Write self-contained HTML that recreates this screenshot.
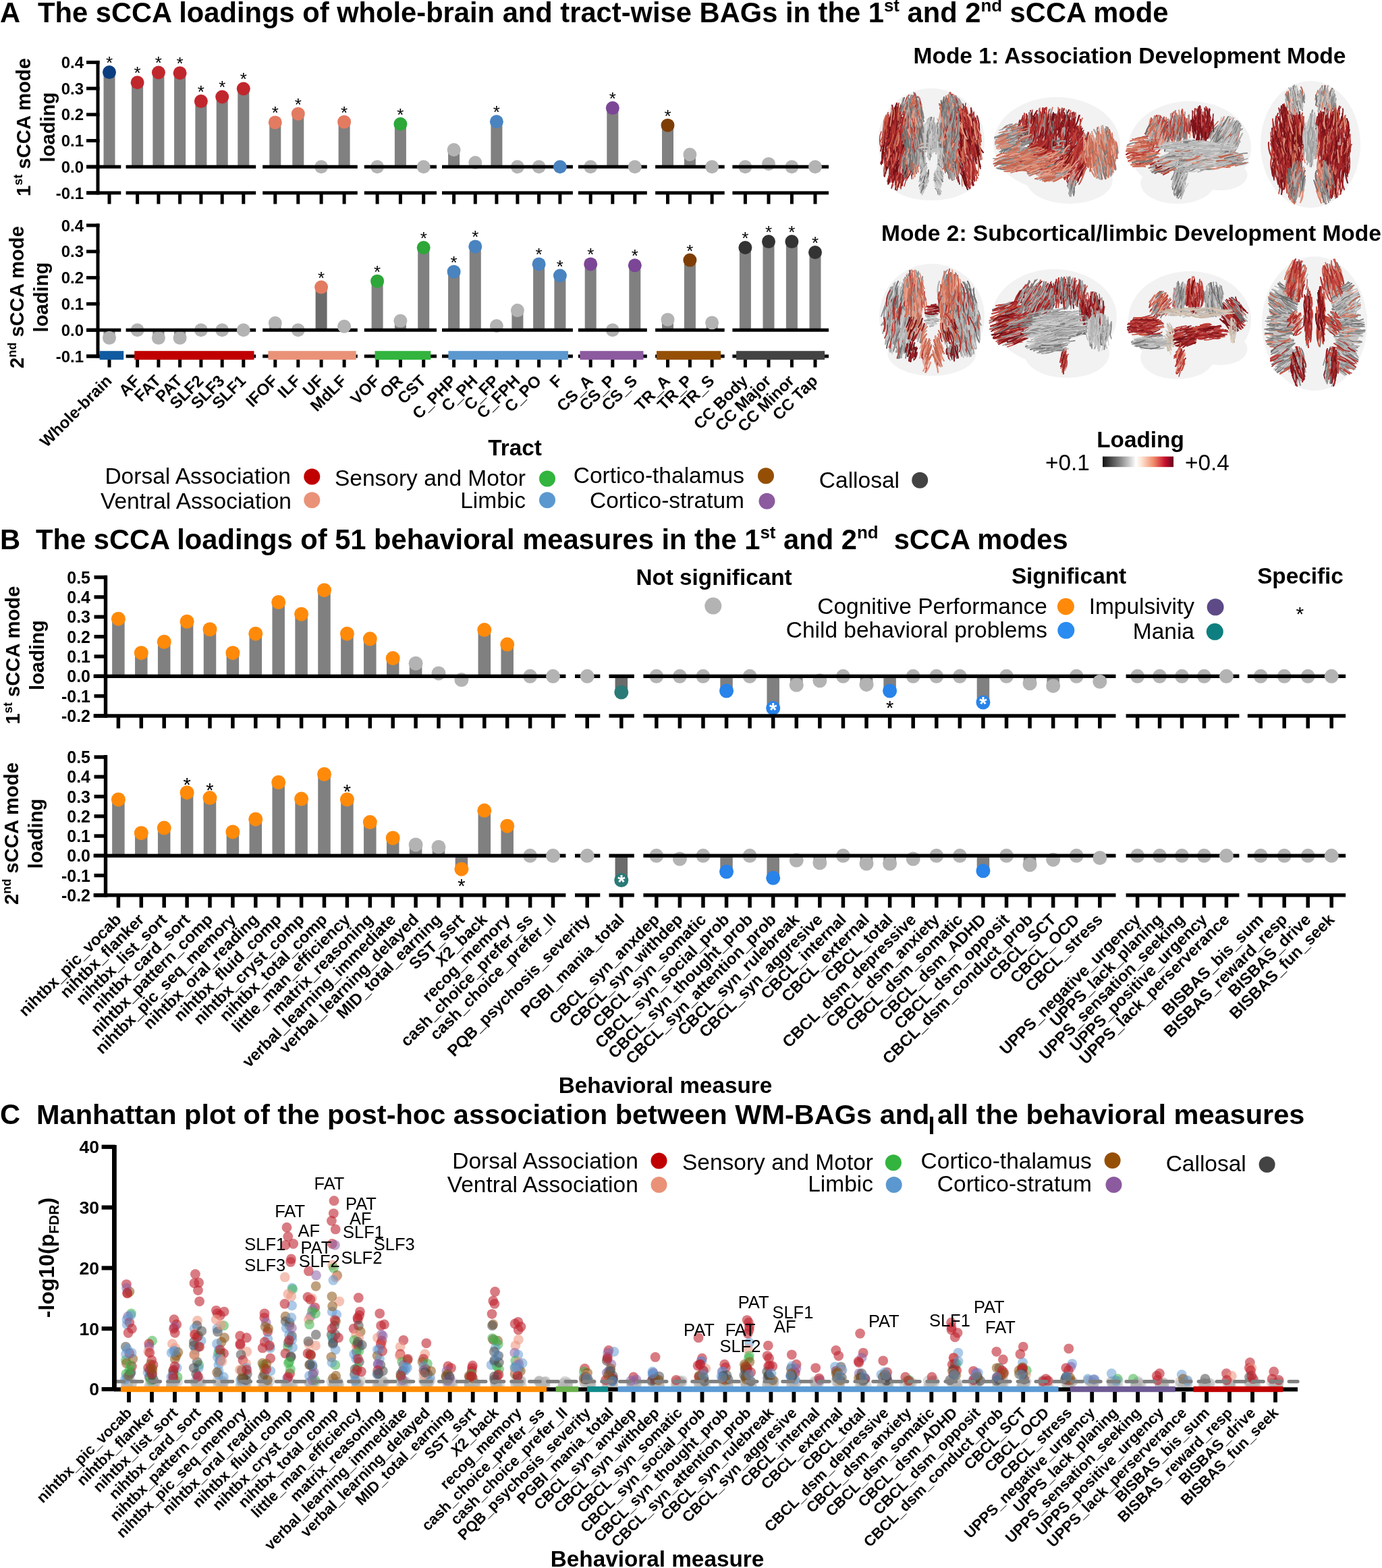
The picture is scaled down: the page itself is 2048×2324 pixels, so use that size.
<!DOCTYPE html>
<html><head><meta charset="utf-8"><title>sCCA figure</title>
<style>html,body{margin:0;padding:0;background:#fff;} svg{display:block;} text{font-family:'Liberation Sans', Arial, sans-serif;}</style>
</head><body>
<svg width="2048" height="2324" viewBox="0 0 2048 2324">
<rect width="2048" height="2324" fill="#fff"/>
<text x="0.00" y="33.00" font-size="41.7" font-weight="bold" text-anchor="start" fill="#000" >A</text>
<text x="56.00" y="33.00" font-size="41.7" font-weight="bold" text-anchor="start" fill="#000" >The sCCA loadings of whole-brain and tract-wise BAGs in the 1<tspan font-size="25.9" dy="-15.8">st</tspan><tspan dy="15.8"> and 2</tspan><tspan font-size="25.9" dy="-15.8">nd</tspan><tspan dy="15.8"> sCCA mode</tspan></text>
<rect x="142.50" y="89.90" width="5.00" height="198.50" fill="#000" />
<rect x="128.00" y="89.90" width="19.50" height="5.00" fill="#000" />
<text x="124.00" y="101.04" font-size="24" font-weight="bold" text-anchor="end" fill="#000" >0.4</text>
<rect x="128.00" y="128.60" width="19.50" height="5.00" fill="#000" />
<text x="124.00" y="139.74" font-size="24" font-weight="bold" text-anchor="end" fill="#000" >0.3</text>
<rect x="128.00" y="167.30" width="19.50" height="5.00" fill="#000" />
<text x="124.00" y="178.44" font-size="24" font-weight="bold" text-anchor="end" fill="#000" >0.2</text>
<rect x="128.00" y="206.00" width="19.50" height="5.00" fill="#000" />
<text x="124.00" y="217.14" font-size="24" font-weight="bold" text-anchor="end" fill="#000" >0.1</text>
<rect x="128.00" y="244.70" width="19.50" height="5.00" fill="#000" />
<text x="124.00" y="255.84" font-size="24" font-weight="bold" text-anchor="end" fill="#000" >0.0</text>
<rect x="128.00" y="283.40" width="19.50" height="5.00" fill="#000" />
<text x="124.00" y="294.54" font-size="24" font-weight="bold" text-anchor="end" fill="#000" >-0.1</text>
<rect x="153.50" y="107.11" width="17.00" height="140.09" fill="#808080" />
<rect x="195.10" y="122.20" width="17.00" height="125.00" fill="#808080" />
<rect x="226.40" y="107.49" width="17.00" height="139.71" fill="#808080" />
<rect x="258.10" y="108.27" width="17.00" height="138.93" fill="#808080" />
<rect x="289.40" y="150.06" width="17.00" height="97.14" fill="#808080" />
<rect x="320.70" y="143.48" width="17.00" height="103.72" fill="#808080" />
<rect x="352.30" y="131.49" width="17.00" height="115.71" fill="#808080" />
<rect x="399.30" y="181.41" width="17.00" height="65.79" fill="#808080" />
<rect x="433.30" y="168.64" width="17.00" height="78.56" fill="#808080" />
<rect x="501.60" y="180.64" width="17.00" height="66.56" fill="#808080" />
<rect x="584.90" y="183.73" width="17.00" height="63.47" fill="#808080" />
<rect x="664.10" y="222.04" width="17.00" height="25.16" fill="#808080" />
<rect x="695.80" y="241.01" width="17.00" height="6.19" fill="#808080" />
<rect x="727.40" y="180.25" width="17.00" height="66.95" fill="#808080" />
<rect x="899.30" y="160.12" width="17.00" height="87.07" fill="#808080" />
<rect x="981.00" y="185.67" width="17.00" height="61.53" fill="#808080" />
<rect x="1013.90" y="229.01" width="17.00" height="18.19" fill="#808080" />
<rect x="1130.50" y="242.94" width="17.00" height="4.26" fill="#808080" />
<circle cx="203.60" cy="122.20" r="10.00" fill="#c0272d" />
<text x="203.60" y="117.20" font-size="26" font-weight="normal" text-anchor="middle" fill="#000" >*</text>
<circle cx="234.90" cy="107.49" r="10.00" fill="#c0272d" />
<text x="234.90" y="102.49" font-size="26" font-weight="normal" text-anchor="middle" fill="#000" >*</text>
<circle cx="266.60" cy="108.27" r="10.00" fill="#c0272d" />
<text x="266.60" y="103.27" font-size="26" font-weight="normal" text-anchor="middle" fill="#000" >*</text>
<circle cx="297.90" cy="150.06" r="10.00" fill="#c0272d" />
<text x="297.90" y="145.06" font-size="26" font-weight="normal" text-anchor="middle" fill="#000" >*</text>
<circle cx="329.20" cy="143.48" r="10.00" fill="#c0272d" />
<text x="329.20" y="138.48" font-size="26" font-weight="normal" text-anchor="middle" fill="#000" >*</text>
<circle cx="407.80" cy="181.41" r="10.00" fill="#e37b61" />
<text x="407.80" y="176.41" font-size="26" font-weight="normal" text-anchor="middle" fill="#000" >*</text>
<circle cx="441.80" cy="168.64" r="10.00" fill="#e37b61" />
<text x="441.80" y="163.64" font-size="26" font-weight="normal" text-anchor="middle" fill="#000" >*</text>
<circle cx="476.10" cy="247.20" r="10.00" fill="#b3b3b3" />
<circle cx="559.10" cy="247.20" r="10.00" fill="#b3b3b3" />
<circle cx="593.40" cy="183.73" r="10.00" fill="#2ca738" />
<text x="593.40" y="178.73" font-size="26" font-weight="normal" text-anchor="middle" fill="#000" >*</text>
<circle cx="672.60" cy="222.04" r="10.00" fill="#b3b3b3" />
<circle cx="704.30" cy="241.01" r="10.00" fill="#b3b3b3" />
<circle cx="735.90" cy="180.25" r="10.00" fill="#4983c0" />
<text x="735.90" y="175.25" font-size="26" font-weight="normal" text-anchor="middle" fill="#000" >*</text>
<circle cx="766.90" cy="247.20" r="10.00" fill="#b3b3b3" />
<circle cx="798.60" cy="247.20" r="10.00" fill="#b3b3b3" />
<circle cx="875.20" cy="247.20" r="10.00" fill="#b3b3b3" />
<circle cx="907.80" cy="160.12" r="10.00" fill="#7b4696" />
<text x="907.80" y="155.12" font-size="26" font-weight="normal" text-anchor="middle" fill="#000" >*</text>
<circle cx="989.50" cy="185.67" r="10.00" fill="#7e3d05" />
<text x="989.50" y="180.67" font-size="26" font-weight="normal" text-anchor="middle" fill="#000" >*</text>
<circle cx="1022.40" cy="229.01" r="10.00" fill="#b3b3b3" />
<circle cx="1104.40" cy="247.20" r="10.00" fill="#b3b3b3" />
<circle cx="1139.00" cy="242.94" r="10.00" fill="#b3b3b3" />
<circle cx="1173.40" cy="247.20" r="10.00" fill="#b3b3b3" />
<rect x="128.30" y="244.70" width="51.00" height="5.00" fill="#000" />
<rect x="128.30" y="283.40" width="51.00" height="5.00" fill="#000" />
<rect x="186.60" y="244.70" width="192.60" height="5.00" fill="#000" />
<rect x="186.60" y="283.40" width="192.60" height="5.00" fill="#000" />
<rect x="389.20" y="244.70" width="140.60" height="5.00" fill="#000" />
<rect x="389.20" y="283.40" width="140.60" height="5.00" fill="#000" />
<rect x="539.80" y="244.70" width="107.20" height="5.00" fill="#000" />
<rect x="539.80" y="283.40" width="107.20" height="5.00" fill="#000" />
<rect x="655.00" y="244.70" width="193.90" height="5.00" fill="#000" />
<rect x="655.00" y="283.40" width="193.90" height="5.00" fill="#000" />
<rect x="856.90" y="244.70" width="101.90" height="5.00" fill="#000" />
<rect x="856.90" y="283.40" width="101.90" height="5.00" fill="#000" />
<rect x="971.10" y="244.70" width="102.60" height="5.00" fill="#000" />
<rect x="971.10" y="283.40" width="102.60" height="5.00" fill="#000" />
<rect x="1085.40" y="244.70" width="142.60" height="5.00" fill="#000" />
<rect x="1085.40" y="283.40" width="142.60" height="5.00" fill="#000" />
<circle cx="162.00" cy="107.11" r="10.00" fill="#0b3e80" />
<text x="162.00" y="102.11" font-size="26" font-weight="normal" text-anchor="middle" fill="#000" >*</text>
<rect x="159.50" y="285.90" width="5.00" height="16.50" fill="#000" />
<rect x="201.10" y="285.90" width="5.00" height="16.50" fill="#000" />
<rect x="232.40" y="285.90" width="5.00" height="16.50" fill="#000" />
<rect x="264.10" y="285.90" width="5.00" height="16.50" fill="#000" />
<rect x="295.40" y="285.90" width="5.00" height="16.50" fill="#000" />
<rect x="326.70" y="285.90" width="5.00" height="16.50" fill="#000" />
<circle cx="360.80" cy="131.49" r="10.00" fill="#c0272d" />
<text x="360.80" y="126.49" font-size="26" font-weight="normal" text-anchor="middle" fill="#000" >*</text>
<rect x="358.30" y="285.90" width="5.00" height="16.50" fill="#000" />
<rect x="405.30" y="285.90" width="5.00" height="16.50" fill="#000" />
<rect x="439.30" y="285.90" width="5.00" height="16.50" fill="#000" />
<rect x="473.60" y="285.90" width="5.00" height="16.50" fill="#000" />
<circle cx="510.10" cy="180.64" r="10.00" fill="#e37b61" />
<text x="510.10" y="175.64" font-size="26" font-weight="normal" text-anchor="middle" fill="#000" >*</text>
<rect x="507.60" y="285.90" width="5.00" height="16.50" fill="#000" />
<rect x="556.60" y="285.90" width="5.00" height="16.50" fill="#000" />
<rect x="590.90" y="285.90" width="5.00" height="16.50" fill="#000" />
<circle cx="627.70" cy="247.20" r="10.00" fill="#b3b3b3" />
<rect x="625.20" y="285.90" width="5.00" height="16.50" fill="#000" />
<rect x="670.10" y="285.90" width="5.00" height="16.50" fill="#000" />
<rect x="701.80" y="285.90" width="5.00" height="16.50" fill="#000" />
<rect x="733.40" y="285.90" width="5.00" height="16.50" fill="#000" />
<rect x="764.40" y="285.90" width="5.00" height="16.50" fill="#000" />
<rect x="796.10" y="285.90" width="5.00" height="16.50" fill="#000" />
<circle cx="829.90" cy="247.20" r="10.00" fill="#4983c0" />
<rect x="827.40" y="285.90" width="5.00" height="16.50" fill="#000" />
<rect x="872.70" y="285.90" width="5.00" height="16.50" fill="#000" />
<rect x="905.30" y="285.90" width="5.00" height="16.50" fill="#000" />
<circle cx="940.80" cy="247.20" r="10.00" fill="#b3b3b3" />
<rect x="938.30" y="285.90" width="5.00" height="16.50" fill="#000" />
<rect x="987.00" y="285.90" width="5.00" height="16.50" fill="#000" />
<rect x="1019.90" y="285.90" width="5.00" height="16.50" fill="#000" />
<circle cx="1055.10" cy="247.20" r="10.00" fill="#b3b3b3" />
<rect x="1052.60" y="285.90" width="5.00" height="16.50" fill="#000" />
<rect x="1101.90" y="285.90" width="5.00" height="16.50" fill="#000" />
<rect x="1136.50" y="285.90" width="5.00" height="16.50" fill="#000" />
<rect x="1170.90" y="285.90" width="5.00" height="16.50" fill="#000" />
<circle cx="1208.00" cy="247.20" r="10.00" fill="#b3b3b3" />
<rect x="1205.50" y="285.90" width="5.00" height="16.50" fill="#000" />
<text transform="translate(44.50,188.50) rotate(-90)" font-size="29.2" font-weight="bold" text-anchor="middle">1<tspan font-size="18.1" dy="-11.1">st</tspan><tspan dy="11.1"> sCCA mode</tspan></text>
<text transform="translate(81.00,188.50) rotate(-90)" font-size="29.2" font-weight="bold" text-anchor="middle">loading</text>
<rect x="142.50" y="331.50" width="5.00" height="199.00" fill="#000" />
<rect x="128.00" y="331.50" width="19.50" height="5.00" fill="#000" />
<text x="124.00" y="342.64" font-size="24" font-weight="bold" text-anchor="end" fill="#000" >0.4</text>
<rect x="128.00" y="370.30" width="19.50" height="5.00" fill="#000" />
<text x="124.00" y="381.44" font-size="24" font-weight="bold" text-anchor="end" fill="#000" >0.3</text>
<rect x="128.00" y="409.10" width="19.50" height="5.00" fill="#000" />
<text x="124.00" y="420.24" font-size="24" font-weight="bold" text-anchor="end" fill="#000" >0.2</text>
<rect x="128.00" y="447.90" width="19.50" height="5.00" fill="#000" />
<text x="124.00" y="459.04" font-size="24" font-weight="bold" text-anchor="end" fill="#000" >0.1</text>
<rect x="128.00" y="486.70" width="19.50" height="5.00" fill="#000" />
<text x="124.00" y="497.84" font-size="24" font-weight="bold" text-anchor="end" fill="#000" >0.0</text>
<rect x="128.00" y="525.50" width="19.50" height="5.00" fill="#000" />
<text x="124.00" y="536.64" font-size="24" font-weight="bold" text-anchor="end" fill="#000" >-0.1</text>
<rect x="153.50" y="489.20" width="17.00" height="11.64" fill="#808080" />
<rect x="226.40" y="489.20" width="17.00" height="11.64" fill="#808080" />
<rect x="258.10" y="489.20" width="17.00" height="11.64" fill="#808080" />
<rect x="399.30" y="478.72" width="17.00" height="10.48" fill="#808080" />
<rect x="467.60" y="425.57" width="17.00" height="63.63" fill="#6b6b6b" />
<rect x="501.60" y="483.77" width="17.00" height="5.43" fill="#808080" />
<rect x="550.60" y="416.64" width="17.00" height="72.56" fill="#808080" />
<rect x="584.90" y="475.62" width="17.00" height="13.58" fill="#808080" />
<rect x="619.20" y="366.98" width="17.00" height="122.22" fill="#808080" />
<rect x="664.10" y="402.68" width="17.00" height="86.52" fill="#808080" />
<rect x="695.80" y="365.43" width="17.00" height="123.77" fill="#808080" />
<rect x="727.40" y="482.99" width="17.00" height="6.21" fill="#808080" />
<rect x="758.40" y="460.10" width="17.00" height="29.10" fill="#808080" />
<rect x="790.10" y="391.42" width="17.00" height="97.78" fill="#808080" />
<rect x="821.40" y="408.50" width="17.00" height="80.70" fill="#808080" />
<rect x="866.70" y="391.42" width="17.00" height="97.78" fill="#808080" />
<rect x="932.30" y="393.36" width="17.00" height="95.84" fill="#808080" />
<rect x="981.00" y="473.68" width="17.00" height="15.52" fill="#808080" />
<rect x="1013.90" y="385.60" width="17.00" height="103.60" fill="#808080" />
<rect x="1046.60" y="478.34" width="17.00" height="10.86" fill="#808080" />
<rect x="1095.90" y="366.98" width="17.00" height="122.22" fill="#808080" />
<rect x="1130.50" y="358.06" width="17.00" height="131.14" fill="#808080" />
<rect x="1164.90" y="358.06" width="17.00" height="131.14" fill="#808080" />
<rect x="1199.50" y="373.96" width="17.00" height="115.24" fill="#808080" />
<circle cx="203.60" cy="489.20" r="10.00" fill="#b3b3b3" />
<circle cx="234.90" cy="500.84" r="10.00" fill="#b3b3b3" />
<circle cx="266.60" cy="500.84" r="10.00" fill="#b3b3b3" />
<circle cx="297.90" cy="489.20" r="10.00" fill="#b3b3b3" />
<circle cx="329.20" cy="489.20" r="10.00" fill="#b3b3b3" />
<circle cx="407.80" cy="478.72" r="10.00" fill="#b3b3b3" />
<circle cx="441.80" cy="489.20" r="10.00" fill="#b3b3b3" />
<circle cx="476.10" cy="425.57" r="10.00" fill="#e37b61" />
<text x="476.10" y="420.57" font-size="26" font-weight="normal" text-anchor="middle" fill="#000" >*</text>
<circle cx="559.10" cy="416.64" r="10.00" fill="#2ca738" />
<text x="559.10" y="411.64" font-size="26" font-weight="normal" text-anchor="middle" fill="#000" >*</text>
<circle cx="593.40" cy="475.62" r="10.00" fill="#b3b3b3" />
<circle cx="672.60" cy="402.68" r="10.00" fill="#4983c0" />
<text x="672.60" y="397.68" font-size="26" font-weight="normal" text-anchor="middle" fill="#000" >*</text>
<circle cx="704.30" cy="365.43" r="10.00" fill="#4983c0" />
<text x="704.30" y="360.43" font-size="26" font-weight="normal" text-anchor="middle" fill="#000" >*</text>
<circle cx="735.90" cy="482.99" r="10.00" fill="#b3b3b3" />
<circle cx="766.90" cy="460.10" r="10.00" fill="#b3b3b3" />
<circle cx="798.60" cy="391.42" r="10.00" fill="#4983c0" />
<text x="798.60" y="386.42" font-size="26" font-weight="normal" text-anchor="middle" fill="#000" >*</text>
<circle cx="875.20" cy="391.42" r="10.00" fill="#7b4696" />
<text x="875.20" y="386.42" font-size="26" font-weight="normal" text-anchor="middle" fill="#000" >*</text>
<circle cx="907.80" cy="489.20" r="10.00" fill="#b3b3b3" />
<circle cx="989.50" cy="473.68" r="10.00" fill="#b3b3b3" />
<circle cx="1022.40" cy="385.60" r="10.00" fill="#7e3d05" />
<text x="1022.40" y="380.60" font-size="26" font-weight="normal" text-anchor="middle" fill="#000" >*</text>
<circle cx="1104.40" cy="366.98" r="10.00" fill="#333333" />
<text x="1104.40" y="361.98" font-size="26" font-weight="normal" text-anchor="middle" fill="#000" >*</text>
<circle cx="1139.00" cy="358.06" r="10.00" fill="#333333" />
<text x="1139.00" y="353.06" font-size="26" font-weight="normal" text-anchor="middle" fill="#000" >*</text>
<circle cx="1173.40" cy="358.06" r="10.00" fill="#333333" />
<text x="1173.40" y="353.06" font-size="26" font-weight="normal" text-anchor="middle" fill="#000" >*</text>
<rect x="128.30" y="486.70" width="51.00" height="5.00" fill="#000" />
<rect x="128.30" y="525.50" width="51.00" height="5.00" fill="#000" />
<rect x="186.60" y="486.70" width="192.60" height="5.00" fill="#000" />
<rect x="186.60" y="525.50" width="192.60" height="5.00" fill="#000" />
<rect x="389.20" y="486.70" width="140.60" height="5.00" fill="#000" />
<rect x="389.20" y="525.50" width="140.60" height="5.00" fill="#000" />
<rect x="539.80" y="486.70" width="107.20" height="5.00" fill="#000" />
<rect x="539.80" y="525.50" width="107.20" height="5.00" fill="#000" />
<rect x="655.00" y="486.70" width="193.90" height="5.00" fill="#000" />
<rect x="655.00" y="525.50" width="193.90" height="5.00" fill="#000" />
<rect x="856.90" y="486.70" width="101.90" height="5.00" fill="#000" />
<rect x="856.90" y="525.50" width="101.90" height="5.00" fill="#000" />
<rect x="971.10" y="486.70" width="102.60" height="5.00" fill="#000" />
<rect x="971.10" y="525.50" width="102.60" height="5.00" fill="#000" />
<rect x="1085.40" y="486.70" width="142.60" height="5.00" fill="#000" />
<rect x="1085.40" y="525.50" width="142.60" height="5.00" fill="#000" />
<circle cx="162.00" cy="500.84" r="10.00" fill="#b3b3b3" />
<rect x="159.50" y="528.00" width="5.00" height="16.50" fill="#000" />
<rect x="201.10" y="528.00" width="5.00" height="16.50" fill="#000" />
<rect x="232.40" y="528.00" width="5.00" height="16.50" fill="#000" />
<rect x="264.10" y="528.00" width="5.00" height="16.50" fill="#000" />
<rect x="295.40" y="528.00" width="5.00" height="16.50" fill="#000" />
<rect x="326.70" y="528.00" width="5.00" height="16.50" fill="#000" />
<circle cx="360.80" cy="489.20" r="10.00" fill="#b3b3b3" />
<rect x="358.30" y="528.00" width="5.00" height="16.50" fill="#000" />
<rect x="405.30" y="528.00" width="5.00" height="16.50" fill="#000" />
<rect x="439.30" y="528.00" width="5.00" height="16.50" fill="#000" />
<rect x="473.60" y="528.00" width="5.00" height="16.50" fill="#000" />
<circle cx="510.10" cy="483.77" r="10.00" fill="#b3b3b3" />
<rect x="507.60" y="528.00" width="5.00" height="16.50" fill="#000" />
<rect x="556.60" y="528.00" width="5.00" height="16.50" fill="#000" />
<rect x="590.90" y="528.00" width="5.00" height="16.50" fill="#000" />
<circle cx="627.70" cy="366.98" r="10.00" fill="#2ca738" />
<text x="627.70" y="361.98" font-size="26" font-weight="normal" text-anchor="middle" fill="#000" >*</text>
<rect x="625.20" y="528.00" width="5.00" height="16.50" fill="#000" />
<rect x="670.10" y="528.00" width="5.00" height="16.50" fill="#000" />
<rect x="701.80" y="528.00" width="5.00" height="16.50" fill="#000" />
<rect x="733.40" y="528.00" width="5.00" height="16.50" fill="#000" />
<rect x="764.40" y="528.00" width="5.00" height="16.50" fill="#000" />
<rect x="796.10" y="528.00" width="5.00" height="16.50" fill="#000" />
<circle cx="829.90" cy="408.50" r="10.00" fill="#4983c0" />
<text x="829.90" y="403.50" font-size="26" font-weight="normal" text-anchor="middle" fill="#000" >*</text>
<rect x="827.40" y="528.00" width="5.00" height="16.50" fill="#000" />
<rect x="872.70" y="528.00" width="5.00" height="16.50" fill="#000" />
<rect x="905.30" y="528.00" width="5.00" height="16.50" fill="#000" />
<circle cx="940.80" cy="393.36" r="10.00" fill="#7b4696" />
<text x="940.80" y="388.36" font-size="26" font-weight="normal" text-anchor="middle" fill="#000" >*</text>
<rect x="938.30" y="528.00" width="5.00" height="16.50" fill="#000" />
<rect x="987.00" y="528.00" width="5.00" height="16.50" fill="#000" />
<rect x="1019.90" y="528.00" width="5.00" height="16.50" fill="#000" />
<circle cx="1055.10" cy="478.34" r="10.00" fill="#b3b3b3" />
<rect x="1052.60" y="528.00" width="5.00" height="16.50" fill="#000" />
<rect x="1101.90" y="528.00" width="5.00" height="16.50" fill="#000" />
<rect x="1136.50" y="528.00" width="5.00" height="16.50" fill="#000" />
<rect x="1170.90" y="528.00" width="5.00" height="16.50" fill="#000" />
<circle cx="1208.00" cy="373.96" r="10.00" fill="#333333" />
<text x="1208.00" y="368.96" font-size="26" font-weight="normal" text-anchor="middle" fill="#000" >*</text>
<rect x="1205.50" y="528.00" width="5.00" height="16.50" fill="#000" />
<text transform="translate(35.00,440.50) rotate(-90)" font-size="29.2" font-weight="bold" text-anchor="middle">2<tspan font-size="18.1" dy="-11.1">nd</tspan><tspan dy="11.1"> sCCA mode</tspan></text>
<text transform="translate(71.00,440.50) rotate(-90)" font-size="29.2" font-weight="bold" text-anchor="middle">loading</text>
<rect x="147.60" y="520.20" width="35.60" height="13.00" fill="#0f5aa0" />
<rect x="199.20" y="520.20" width="177.30" height="13.00" fill="#c00000" />
<rect x="397.40" y="520.20" width="130.30" height="13.00" fill="#ea9278" />
<rect x="555.50" y="520.20" width="82.80" height="13.00" fill="#32b43e" />
<rect x="664.40" y="520.20" width="177.60" height="13.00" fill="#5b98cf" />
<rect x="859.50" y="520.20" width="94.00" height="13.00" fill="#8c5a9f" />
<rect x="973.00" y="520.20" width="95.20" height="13.00" fill="#954f05" />
<rect x="1091.10" y="520.20" width="131.00" height="13.00" fill="#434343" />
<text transform="translate(167.00,566.00) rotate(-45)" font-size="24" font-weight="bold" text-anchor="end">Whole-brain</text>
<text transform="translate(208.60,566.00) rotate(-45)" font-size="24" font-weight="bold" text-anchor="end">AF</text>
<text transform="translate(239.90,566.00) rotate(-45)" font-size="24" font-weight="bold" text-anchor="end">FAT</text>
<text transform="translate(271.60,566.00) rotate(-45)" font-size="24" font-weight="bold" text-anchor="end">PAT</text>
<text transform="translate(302.90,566.00) rotate(-45)" font-size="24" font-weight="bold" text-anchor="end">SLF2</text>
<text transform="translate(334.20,566.00) rotate(-45)" font-size="24" font-weight="bold" text-anchor="end">SLF3</text>
<text transform="translate(365.80,566.00) rotate(-45)" font-size="24" font-weight="bold" text-anchor="end">SLF1</text>
<text transform="translate(412.80,566.00) rotate(-45)" font-size="24" font-weight="bold" text-anchor="end">IFOF</text>
<text transform="translate(446.80,566.00) rotate(-45)" font-size="24" font-weight="bold" text-anchor="end">ILF</text>
<text transform="translate(481.10,566.00) rotate(-45)" font-size="24" font-weight="bold" text-anchor="end">UF</text>
<text transform="translate(515.10,566.00) rotate(-45)" font-size="24" font-weight="bold" text-anchor="end">MdLF</text>
<text transform="translate(564.10,566.00) rotate(-45)" font-size="24" font-weight="bold" text-anchor="end">VOF</text>
<text transform="translate(598.40,566.00) rotate(-45)" font-size="24" font-weight="bold" text-anchor="end">OR</text>
<text transform="translate(632.70,566.00) rotate(-45)" font-size="24" font-weight="bold" text-anchor="end">CST</text>
<text transform="translate(677.60,566.00) rotate(-45)" font-size="24" font-weight="bold" text-anchor="end">C_PHP</text>
<text transform="translate(709.30,566.00) rotate(-45)" font-size="24" font-weight="bold" text-anchor="end">C_PH</text>
<text transform="translate(740.90,566.00) rotate(-45)" font-size="24" font-weight="bold" text-anchor="end">C_FP</text>
<text transform="translate(771.90,566.00) rotate(-45)" font-size="24" font-weight="bold" text-anchor="end">C_FPH</text>
<text transform="translate(803.60,566.00) rotate(-45)" font-size="24" font-weight="bold" text-anchor="end">C_PO</text>
<text transform="translate(834.90,566.00) rotate(-45)" font-size="24" font-weight="bold" text-anchor="end">F</text>
<text transform="translate(880.20,566.00) rotate(-45)" font-size="24" font-weight="bold" text-anchor="end">CS_A</text>
<text transform="translate(912.80,566.00) rotate(-45)" font-size="24" font-weight="bold" text-anchor="end">CS_P</text>
<text transform="translate(945.80,566.00) rotate(-45)" font-size="24" font-weight="bold" text-anchor="end">CS_S</text>
<text transform="translate(994.50,566.00) rotate(-45)" font-size="24" font-weight="bold" text-anchor="end">TR_A</text>
<text transform="translate(1027.40,566.00) rotate(-45)" font-size="24" font-weight="bold" text-anchor="end">TR_P</text>
<text transform="translate(1060.10,566.00) rotate(-45)" font-size="24" font-weight="bold" text-anchor="end">TR_S</text>
<text transform="translate(1109.40,566.00) rotate(-45)" font-size="24" font-weight="bold" text-anchor="end">CC Body</text>
<text transform="translate(1144.00,566.00) rotate(-45)" font-size="24" font-weight="bold" text-anchor="end">CC Major</text>
<text transform="translate(1178.40,566.00) rotate(-45)" font-size="24" font-weight="bold" text-anchor="end">CC Minor</text>
<text transform="translate(1213.00,566.00) rotate(-45)" font-size="24" font-weight="bold" text-anchor="end">CC Tap</text>
<text x="763.00" y="675.00" font-size="33.3" font-weight="bold" text-anchor="middle" fill="#000" >Tract</text>
<text x="431.00" y="717.00" font-size="33.5" font-weight="normal" text-anchor="end" fill="#000" >Dorsal Association</text>
<circle cx="462.30" cy="706.60" r="12.00" fill="#c00000" />
<text x="432.00" y="754.00" font-size="33.5" font-weight="normal" text-anchor="end" fill="#000" >Ventral Association</text>
<circle cx="462.30" cy="741.30" r="12.00" fill="#ea9278" />
<text x="779.00" y="720.00" font-size="33.5" font-weight="normal" text-anchor="end" fill="#000" >Sensory and Motor</text>
<circle cx="811.00" cy="709.50" r="12.00" fill="#32b43e" />
<text x="779.00" y="753.00" font-size="33.5" font-weight="normal" text-anchor="end" fill="#000" >Limbic</text>
<circle cx="811.00" cy="741.30" r="12.00" fill="#5b98cf" />
<text x="1103.00" y="716.00" font-size="33.5" font-weight="normal" text-anchor="end" fill="#000" >Cortico-thalamus</text>
<circle cx="1135.00" cy="705.20" r="12.00" fill="#954f05" />
<text x="1103.00" y="753.00" font-size="33.5" font-weight="normal" text-anchor="end" fill="#000" >Cortico-stratum</text>
<circle cx="1136.50" cy="742.70" r="12.00" fill="#8c5a9f" />
<text x="1333.00" y="723.00" font-size="33.5" font-weight="normal" text-anchor="end" fill="#000" >Callosal</text>
<circle cx="1363.20" cy="711.70" r="12.00" fill="#434343" />
<ellipse cx="1380.0" cy="209.0" rx="79.0" ry="78.0" fill="#f2f2f2"/>
<ellipse cx="1380.0" cy="263.8" rx="66.4" ry="33.2" fill="#f2f2f2"/>
<ellipse cx="1329.4" cy="217.3" rx="19.0" ry="45.2" fill="#9f2d2f" fill-opacity="0.5"/>
<ellipse cx="1430.6" cy="217.3" rx="19.0" ry="45.2" fill="#9f2d2f" fill-opacity="0.5"/>
<ellipse cx="1354.7" cy="197.4" rx="12.6" ry="42.5" fill="#b37870" fill-opacity="0.5"/>
<ellipse cx="1405.3" cy="197.4" rx="12.6" ry="42.5" fill="#b37870" fill-opacity="0.5"/>
<ellipse cx="1350.0" cy="157.6" rx="12.6" ry="12.0" fill="#b06561" fill-opacity="0.5"/>
<ellipse cx="1410.0" cy="157.6" rx="12.6" ry="12.0" fill="#b06561" fill-opacity="0.5"/>
<ellipse cx="1380.0" cy="205.7" rx="8.8" ry="22.6" fill="#aeaeae" fill-opacity="0.5"/>
<ellipse cx="1380.0" cy="217.3" rx="12.6" ry="6.6" fill="#9f9f9f" fill-opacity="0.5"/>
<ellipse cx="1368.9" cy="263.8" rx="5.1" ry="18.6" fill="#9f9f9f" fill-opacity="0.5"/>
<ellipse cx="1391.1" cy="263.8" rx="5.1" ry="18.6" fill="#9f9f9f" fill-opacity="0.5"/>
<ellipse cx="1348.4" cy="243.9" rx="10.1" ry="15.9" fill="#b27168" fill-opacity="0.5"/>
<ellipse cx="1411.6" cy="243.9" rx="10.1" ry="15.9" fill="#b27168" fill-opacity="0.5"/>
<ellipse cx="1364.2" cy="233.9" rx="6.3" ry="10.6" fill="#9a9a9a" fill-opacity="0.5"/>
<ellipse cx="1395.8" cy="233.9" rx="6.3" ry="10.6" fill="#9a9a9a" fill-opacity="0.5"/>
<path d="M1327 235q1 -11 -0 -22M1305 242q5 -9 3 -19M1333 184q4 -14 3 -28M1350 224q1 -11 1 -21M1330 237q1 -9 4 -18M1343 258q-1 -10 4 -20M1306 244q2 -12 8 -23M1324 198q4 -13 10 -25M1343 222q-3 -14 -0 -27M1327 215q-0 -11 0 -23M1319 270q0 -9 6 -16M1340 204q5 -8 3 -17M1317 244q0 -13 7 -24M1344 214q3 -7 3 -14M1431 267q-6 -14 -6 -29M1435 186q0 -12 -3 -23M1432 201q-6 -10 -5 -22M1430 274q-1 -9 -6 -17M1450 232q-3 -15 -11 -28M1419 251q-3 -7 -2 -15M1412 221q-2 -9 -4 -18M1451 200q-3 -10 -7 -19M1430 220q2 -14 -0 -29M1448 195q1 -10 -2 -19M1408 234q2 -9 -1 -18M1429 232q-5 -14 0 -28M1431 225q-4 -13 -6 -27M1419 190q-0 -12 -4 -23" stroke="#7a1218" stroke-width="1.7" stroke-linecap="round" fill="none"/>
<path d="M1333 258q4 -7 5 -15M1314 250q-1 -13 6 -23M1329 204q-5 -13 -0 -26M1342 245q0 -10 2 -19M1343 200q-4 -15 2 -28M1338 201q-1 -9 2 -19M1315 201q-1 -8 3 -14M1339 199q-2 -13 -0 -26M1331 277q3 -11 -1 -23M1323 237q-3 -9 0 -18M1322 255q5 -15 -0 -29M1443 274q-4 -9 -4 -18M1428 239q-3 -10 0 -19M1423 200q1 -11 -0 -23M1443 225q-0 -10 -1 -20M1430 243q-2 -10 -3 -19M1425 255q1 -9 0 -18M1446 260q-1 -7 -2 -14M1423 239q0 -10 -5 -18M1363 234q-9 -13 -7 -29M1360 198q-1 -7 1 -14M1408 156q2 -8 3 -16M1406 212q2 -10 0 -19M1410 193q3 -12 6 -23M1342 167q2 -6 6 -12M1338 170q1 -6 4 -11M1411 149q-2 -4 -2 -8" stroke="#b3302f" stroke-width="2.1" stroke-linecap="round" fill="none"/>
<path d="M1333 241q-0 -12 7 -21M1324 262q3 -7 5 -14M1321 185q5 -14 1 -29M1336 238q-1 -13 4 -26M1317 220q-2 -12 3 -22M1310 219q2 -7 3 -15M1331 178q7 -9 7 -20M1322 240q4 -10 8 -20M1339 193q4 -9 7 -19M1330 184q-3 -11 1 -22M1308 227q2 -9 5 -17M1327 178q1 -11 1 -22M1327 281q1 -12 6 -22M1430 237q-1 -15 -9 -27M1413 202q1 -9 -1 -17M1416 219q-4 -10 -5 -21M1442 275q-5 -10 -6 -21M1450 258q-8 -11 -8 -25M1437 245q-5 -9 -4 -20M1410 228q-1 -8 -4 -15M1350 244q1 -5 4 -9M1408 252q1 -9 -2 -18M1418 233q-1 -5 -1 -10" stroke="#85161b" stroke-width="2.1" stroke-linecap="round" fill="none"/>
<path d="M1305 224q3 -11 4 -22M1322 270q-2 -15 6 -27M1338 232q-0 -7 4 -14M1312 219q10 -12 10 -28M1327 174q5 -8 4 -18M1333 182q-2 -9 2 -17M1329 282q4 -11 5 -23M1344 220q0 -11 3 -23M1334 176q-3 -10 1 -20M1311 242q0 -8 1 -15M1311 262q1 -8 4 -15M1316 273q0 -13 7 -24M1323 221q2 -11 3 -22M1308 211q4 -8 4 -17M1323 190q1 -9 0 -19M1308 239q3 -14 -1 -28M1343 226q-2 -9 2 -17M1442 186q-2 -8 -5 -17M1453 250q-4 -13 -10 -25M1436 278q-5 -12 -5 -24M1422 273q-3 -11 -2 -22M1421 210q-6 -9 -7 -20M1442 200q-0 -12 -0 -24M1420 191q-0 -9 -3 -17M1437 254q-2 -7 -2 -15M1443 266q-4 -9 -4 -20M1433 205q-4 -10 -6 -21M1440 225q-2 -14 -9 -25M1440 175q1 -7 -1 -15M1437 184q-1 -14 -7 -26M1341 240q5 -8 6 -18M1404 249q-5 -5 -5 -13" stroke="#6e0f14" stroke-width="1.7" stroke-linecap="round" fill="none"/>
<path d="M1336 214q-0 -8 2 -15M1313 187q5 -9 8 -20M1320 243q-2 -13 4 -25M1348 240q3 -8 5 -17M1342 185q1 -7 3 -14M1336 272q8 -10 8 -22M1323 272q2 -8 -0 -16M1317 192q4 -11 7 -21M1433 279q-1 -7 -2 -14M1445 258q-3 -8 -4 -16M1421 205q-4 -11 -0 -22M1445 204q-1 -9 -6 -17M1436 204q3 -14 1 -29M1425 228q-0 -15 -10 -27M1443 232q-1 -8 -4 -16M1445 268q-1 -10 -3 -20M1414 241q-5 -10 -5 -21M1419 238q-5 -9 -4 -19M1358 160q1 -12 -4 -23M1362 182q2 -7 -1 -14M1401 256q-2 -10 -2 -20M1397 251q7 -10 6 -22M1412 178q7 -13 4 -28M1399 246q3 -13 -1 -25M1406 193q2 -10 4 -20M1359 170q1 -4 4 -8M1354 165q2 -8 6 -15M1340 163q5 -5 5 -12M1416 174q-1 -7 -6 -13" stroke="#a52a2a" stroke-width="1.3" stroke-linecap="round" fill="none"/>
<path d="M1322 249q3 -8 4 -17M1308 200q4 -13 5 -26M1323 247q-1 -8 3 -16M1328 236q6 -12 8 -25M1317 207q-2 -7 2 -14M1321 279q3 -12 9 -22M1336 198q1 -12 6 -22M1326 184q3 -14 5 -29M1444 180q-1 -7 -1 -14M1439 183q-0 -11 0 -23M1450 240q-2 -7 0 -14M1428 233q1 -13 1 -27M1440 195q-0 -9 -1 -18M1422 251q-3 -13 -1 -26M1410 234q-5 -9 -6 -18M1420 258q2 -13 -1 -26M1338 253q4 -6 4 -14" stroke="#9a1e22" stroke-width="1.7" stroke-linecap="round" fill="none"/>
<path d="M1306 220q-5 -13 -0 -25M1340 276q5 -13 2 -27M1333 207q2 -8 1 -16M1338 260q-4 -13 2 -26M1342 199q-4 -13 2 -26M1321 184q4 -10 5 -21M1324 208q3 -7 2 -14M1322 277q3 -11 4 -23M1324 239q2 -11 1 -22M1322 204q4 -10 3 -21M1328 202q-2 -11 3 -21M1334 278q4 -7 4 -15M1316 273q6 -10 4 -22M1430 242q0 -12 -7 -21M1420 270q-4 -11 -3 -23M1425 199q-2 -7 -6 -14M1425 188q-5 -14 -1 -28M1436 241q-3 -9 -4 -19M1437 228q-3 -12 -9 -23M1427 237q-3 -12 -2 -25M1416 240q-4 -14 -4 -28M1414 252q5 -14 1 -28M1447 195q-1 -7 -2 -14M1413 245q-2 -8 -6 -15M1435 196q0 -8 -1 -16M1419 258q-5 -11 -5 -22M1424 234q-3 -8 -0 -16M1452 223q-2 -8 -0 -17M1425 232q-3 -11 -1 -23M1335 251q6 -7 8 -15M1422 246q-0 -11 -6 -20" stroke="#a8262a" stroke-width="1.3" stroke-linecap="round" fill="none"/>
<path d="M1336 195q1 -13 4 -26M1342 252q-1 -10 0 -19M1309 194q7 -11 8 -24M1334 199q3 -7 2 -15M1308 205q1 -8 5 -16M1317 193q-1 -8 0 -17M1349 252q4 -13 1 -27M1427 224q1 -14 -8 -26M1430 191q-7 -9 -8 -20M1428 216q-6 -9 -5 -20M1426 211q-4 -9 -2 -18M1413 257q-6 -7 -7 -15" stroke="#a8262a" stroke-width="1.7" stroke-linecap="round" fill="none"/>
<path d="M1331 172q3 -7 4 -13M1337 245q0 -8 1 -16M1330 280q-3 -9 0 -18M1313 212q5 -8 6 -17M1313 211q5 -10 3 -20M1334 189q4 -7 3 -15M1329 193q-1 -11 4 -22M1437 207q1 -14 -1 -27M1436 273q-3 -14 -8 -27M1433 214q-7 -10 -8 -22M1427 205q-3 -12 -8 -24M1436 224q-5 -12 -3 -24M1434 275q-2 -8 -3 -15M1451 205q-1 -9 -6 -16M1344 181q4 -13 -2 -25M1371 225q-6 -11 -5 -23M1399 230q0 -10 -0 -21M1414 186q1 -11 6 -21M1399 243q-3 -15 4 -28M1405 197q0 -11 -1 -22M1345 169q1 -4 3 -8M1334 156q5 -5 6 -11M1351 156q2 -5 2 -11M1411 154q-2 -6 -2 -12M1418 149q-2 -3 -2 -7M1415 151q1 -6 -2 -11" stroke="#c9523f" stroke-width="1.3" stroke-linecap="round" fill="none"/>
<path d="M1319 244q1 -14 9 -26M1308 242q-3 -14 2 -28M1315 196q-1 -9 1 -18M1314 238q4 -11 4 -23M1329 204q-2 -14 4 -27M1329 257q2 -11 -1 -21M1321 252q8 -10 8 -24M1336 233q-3 -14 4 -27M1321 179q1 -13 8 -25M1413 206q-1 -11 -1 -22M1410 229q2 -11 -1 -21M1450 260q0 -11 -0 -21M1431 225q-8 -10 -9 -24M1418 255q0 -14 -6 -26M1424 234q-4 -11 -8 -23M1430 170q-1 -8 -3 -16M1453 230q-1 -13 -8 -25M1351 261q1 -5 2 -10M1419 258q-2 -9 -4 -18" stroke="#85161b" stroke-width="1.7" stroke-linecap="round" fill="none"/>
<path d="M1317 191q4 -8 1 -17M1312 208q3 -7 0 -15M1318 221q4 -12 8 -24M1343 264q5 -13 2 -27M1320 239q-3 -13 3 -24M1313 243q3 -9 2 -18M1444 209q-5 -11 -2 -22M1438 279q-3 -11 -1 -21M1438 201q-1 -8 -2 -17M1411 208q-0 -13 -2 -26M1426 256q-1 -8 -2 -15M1350 254q1 -7 2 -14M1401 193q5 -13 -0 -26M1410 205q2 -7 2 -14M1394 222q4 -11 6 -23M1347 171q0 -5 3 -9M1406 166q-0 -8 -5 -14M1407 174q-2 -6 -2 -13" stroke="#b3302f" stroke-width="1.7" stroke-linecap="round" fill="none"/>
<path d="M1329 200q4 -10 2 -21M1346 220q2 -12 1 -23M1310 261q0 -13 3 -27M1344 191q-0 -11 4 -20M1325 199q4 -10 4 -20M1325 232q-0 -12 4 -23M1314 237q3 -14 8 -28M1313 257q-1 -7 -0 -15M1310 218q0 -8 1 -15M1328 239q5 -11 2 -24M1309 207q-2 -11 1 -22M1420 239q-5 -10 -5 -21M1437 194q2 -9 -2 -17M1420 245q0 -7 -2 -14M1424 234q-3 -12 1 -25M1426 189q-5 -9 -2 -19M1445 215q-4 -7 -2 -15M1444 269q-5 -11 -8 -23M1411 248q-5 -13 -4 -26M1429 272q-3 -10 0 -19M1417 240q-6 -13 -3 -27M1417 212q-3 -8 -3 -16M1431 210q1 -8 -1 -17M1421 186q3 -11 0 -22M1411 248q-1 -15 -4 -29M1431 276q-5 -11 -2 -23M1448 243q-4 -7 -5 -14M1341 260q-1 -6 2 -11M1351 242q1 -5 1 -11M1345 233q-1 -6 1 -11M1404 252q0 -8 -5 -15M1406 264q0 -5 -2 -10" stroke="#7a1218" stroke-width="1.3" stroke-linecap="round" fill="none"/>
<path d="M1311 223q-1 -8 2 -15M1320 185q4 -12 1 -24M1442 191q-3 -9 -3 -18M1419 224q1 -9 -1 -18M1357 209q-4 -11 -0 -22M1365 237q-3 -14 -6 -27M1349 189q-1 -13 1 -25M1406 223q4 -13 -2 -25M1409 188q3 -8 -0 -16M1399 161q-3 -6 -5 -12M1409 149q-2 -4 -4 -8M1421 158q-2 -6 -6 -12M1409 174q-1 -5 -2 -10M1335 254q1 -9 3 -18M1420 254q-2 -6 -1 -13" stroke="#d67a62" stroke-width="1.3" stroke-linecap="round" fill="none"/>
<path d="M1315 221q4 -9 7 -19M1328 257q0 -11 5 -21M1319 259q1 -12 1 -24M1330 220q4 -10 3 -21M1312 225q1 -12 7 -22M1328 260q3 -8 4 -18M1326 190q-2 -12 0 -23M1343 251q0 -9 5 -16M1315 269q5 -13 3 -27M1335 219q-0 -8 4 -14M1322 194q0 -8 5 -16M1444 230q-1 -10 -2 -20M1427 175q-1 -8 1 -17M1420 254q-7 -13 -7 -27M1427 255q-7 -14 -3 -28M1433 181q-7 -9 -7 -21M1417 261q-4 -11 -5 -23M1436 233q-6 -12 -4 -26M1444 195q2 -11 -2 -22M1437 280q-9 -12 -7 -26M1442 211q-1 -8 -1 -17M1410 237q-1 -7 -3 -15M1351 265q0 -9 3 -17M1418 265q-0 -8 -5 -15M1421 254q-3 -8 -3 -16" stroke="#9a1e22" stroke-width="1.3" stroke-linecap="round" fill="none"/>
<path d="M1336 246q-2 -8 2 -14M1310 259q-2 -14 6 -25M1324 275q-2 -10 2 -20M1320 249q2 -13 -0 -25M1324 237q0 -12 1 -23M1353 170q1 -8 -4 -14M1357 196q-0 -9 -5 -17M1397 177q-3 -9 0 -18M1399 201q3 -9 -1 -18M1416 177q5 -11 2 -22M1356 154q-1 -6 2 -11M1349 175q0 -3 1 -6M1415 163q-2 -5 -4 -10M1355 248q3 -4 3 -9M1344 257q3 -7 1 -15M1342 262q-1 -6 2 -12M1359 255q-1 -9 1 -19M1353 259q5 -9 8 -19M1343 235q4 -7 6 -14M1407 260q-2 -5 -2 -11M1419 261q-2 -8 -7 -15" stroke="#cc6c55" stroke-width="1.3" stroke-linecap="round" fill="none"/>
<path d="M1335 260q-1 -9 1 -17M1321 246q3 -9 3 -19M1448 231q2 -11 0 -21M1415 245q-3 -9 -2 -18M1363 162q2 -8 -1 -16M1348 173q-4 -9 -5 -19M1350 185q0 -9 -1 -18M1341 228q-2 -12 -1 -24M1343 195q-1 -14 2 -28M1415 214q2 -8 2 -16M1407 196q-1 -14 4 -27M1391 217q2 -10 3 -21M1418 160q-2 -8 -7 -15M1412 252q-1 -6 -4 -12M1417 246q-2 -10 -5 -19" stroke="#e08f78" stroke-width="1.3" stroke-linecap="round" fill="none"/>
<path d="M1328 277q2 -11 1 -22M1347 208q-4 -13 1 -25M1345 240q3 -7 3 -16M1340 257q2 -8 4 -17M1339 209q2 -13 9 -24M1447 268q1 -13 -3 -25M1421 233q-1 -8 -3 -16M1436 200q4 -11 -0 -22M1431 187q1 -12 -3 -24M1445 226q-2 -10 -7 -20M1434 174q1 -8 -2 -15M1441 228q3 -7 1 -15M1449 264q-6 -8 -6 -19M1425 230q-4 -10 -6 -22M1419 257q1 -15 -1 -30M1340 211q1 -11 2 -22M1352 196q-1 -8 -4 -17M1358 206q-5 -13 -3 -27M1403 211q-1 -14 -3 -27M1401 163q2 -10 1 -21M1413 209q-4 -12 -3 -25M1412 253q5 -11 1 -23M1361 157q3 -5 2 -11M1335 167q2 -4 4 -8M1355 154q1 -6 5 -11M1399 162q-3 -4 -3 -9M1399 163q-1 -6 -4 -11" stroke="#c9523f" stroke-width="1.7" stroke-linecap="round" fill="none"/>
<path d="M1337 190q1 -7 3 -14M1331 214q1 -15 9 -27M1316 228q4 -6 4 -13M1344 267q3 -12 4 -25M1329 266q6 -11 4 -24M1336 224q5 -10 2 -20M1438 224q-3 -7 -2 -14M1418 190q-3 -8 -5 -16M1422 226q-2 -9 -3 -17M1361 195q1 -13 -5 -23M1358 179q4 -11 2 -22M1358 235q1 -13 -5 -24M1346 222q-0 -12 -1 -24M1360 182q-4 -7 -2 -15M1351 180q1 -14 -2 -28M1399 240q-3 -11 2 -22M1397 223q6 -12 3 -25M1359 162q2 -6 5 -12M1356 172q1 -5 5 -8" stroke="#c0413a" stroke-width="1.3" stroke-linecap="round" fill="none"/>
<path d="M1318 212q4 -12 2 -24M1320 190q3 -8 2 -16M1311 196q3 -8 1 -16M1349 246q1 -13 4 -26M1335 280q1 -13 2 -26M1318 223q4 -15 0 -29M1330 229q4 -11 1 -22M1328 204q-0 -8 4 -16M1319 219q2 -10 8 -19M1320 226q1 -7 3 -14M1311 231q1 -15 5 -29M1330 208q4 -9 2 -18M1320 262q3 -12 -1 -24M1450 205q-2 -10 1 -21M1416 210q-1 -12 1 -23M1421 186q-2 -11 -6 -21M1453 237q0 -9 -6 -16M1454 201q-7 -10 -7 -22M1411 239q-4 -9 -4 -18M1431 210q-5 -8 -4 -17M1434 176q-5 -11 -3 -23M1419 219q-0 -9 -3 -18M1431 243q1 -11 -4 -20M1426 181q-2 -10 -0 -20M1445 207q2 -13 -4 -24M1339 262q4 -7 7 -15M1422 243q-2 -9 -3 -18M1422 240q1 -7 -2 -13" stroke="#85161b" stroke-width="1.3" stroke-linecap="round" fill="none"/>
<path d="M1323 270q4 -8 4 -17M1342 188q-0 -8 4 -16M1337 237q-0 -10 1 -20M1329 259q-1 -10 5 -18M1317 272q1 -12 2 -24M1328 177q-4 -12 1 -24M1326 232q4 -7 3 -15M1313 253q2 -13 5 -26M1343 261q5 -13 7 -26M1323 261q3 -7 2 -15M1317 224q2 -9 1 -18M1315 242q1 -12 5 -23M1347 202q3 -8 6 -16M1315 205q5 -11 5 -23M1434 190q-2 -8 -5 -16M1417 216q1 -12 -5 -22M1438 220q1 -11 0 -21M1447 218q-8 -13 -8 -28M1428 201q-3 -9 -5 -18M1432 272q-1 -15 -10 -26M1441 197q3 -10 0 -21M1457 226q-7 -8 -8 -19M1416 225q-6 -11 -9 -23M1411 235q-1 -13 -1 -26M1423 201q2 -10 -3 -18" stroke="#7a1218" stroke-width="2.1" stroke-linecap="round" fill="none"/>
<path d="M1336 227q4 -9 1 -19M1338 265q-1 -10 1 -21M1337 223q7 -14 3 -29M1348 233q2 -13 4 -27M1313 254q4 -7 6 -15M1317 205q-0 -14 1 -28M1324 256q-1 -11 5 -20M1307 234q6 -8 6 -18M1321 182q0 -8 4 -15M1414 246q-3 -9 0 -18M1430 194q1 -13 -7 -24M1442 271q-3 -12 -4 -24M1445 195q-3 -12 -9 -24M1420 241q-0 -7 -1 -15M1418 252q-0 -10 -1 -21M1421 222q-4 -8 -2 -17M1345 264q5 -7 6 -16" stroke="#6e0f14" stroke-width="1.3" stroke-linecap="round" fill="none"/>
<path d="M1337 275q-0 -8 3 -15M1333 271q-1 -8 3 -16M1336 200q6 -12 9 -25M1321 189q6 -8 5 -18M1326 222q7 -13 10 -27M1309 197q3 -12 5 -25M1323 247q-1 -12 1 -24M1334 226q-2 -15 4 -29M1335 272q0 -12 2 -25M1315 191q3 -8 3 -16M1440 258q-4 -9 -5 -18M1422 194q-5 -10 -5 -20M1425 225q-0 -14 -4 -28M1451 197q1 -13 -3 -25M1447 242q-4 -13 -6 -27M1432 228q1 -8 -3 -15M1439 248q1 -11 -5 -20M1444 265q-3 -10 -7 -19M1438 209q-4 -13 -7 -27M1413 233q-3 -5 -2 -12" stroke="#9a1e22" stroke-width="2.1" stroke-linecap="round" fill="none"/>
<path d="M1331 188q3 -9 3 -18M1334 278q1 -11 3 -22M1331 211q-2 -13 3 -25M1426 276q-1 -7 0 -14M1447 203q-6 -13 -9 -27M1414 206q-1 -14 -1 -29M1354 166q-3 -12 -3 -25M1366 237q-0 -7 -3 -14M1364 223q-4 -13 -2 -26M1348 243q-1 -7 -2 -14M1360 170q-0 -8 0 -16M1352 199q-3 -8 -2 -17M1364 191q1 -15 0 -30M1394 206q4 -14 1 -28M1404 234q-4 -13 -2 -26M1402 195q2 -14 7 -27M1402 237q2 -11 -1 -22M1402 166q5 -10 6 -21M1408 205q4 -15 -1 -29M1401 238q-1 -15 0 -29M1345 165q4 -7 7 -14M1350 168q5 -4 6 -9M1424 159q-2 -7 -3 -13M1346 237q0 -5 1 -9M1356 262q-1 -9 5 -16M1344 251q2 -7 4 -14" stroke="#c26650" stroke-width="1.3" stroke-linecap="round" fill="none"/>
<path d="M1318 188q1 -11 3 -22M1320 232q8 -9 8 -21M1328 255q-1 -9 3 -17M1308 227q1 -8 3 -16M1327 265q-2 -8 1 -15M1339 217q3 -12 6 -24M1335 220q3 -11 5 -23M1314 239q2 -8 -0 -16M1443 194q-4 -8 -6 -17M1436 218q-3 -14 -8 -27M1452 200q-7 -11 -6 -25M1438 228q-4 -14 -0 -28M1434 281q-4 -11 -8 -21M1446 239q4 -14 0 -27M1451 239q-4 -9 -5 -19M1428 260q-1 -9 -2 -17M1429 228q-7 -14 -4 -29M1451 229q-3 -13 -1 -27M1422 239q-0 -8 0 -15M1440 210q-3 -10 -5 -21M1453 247q-4 -12 -4 -26M1425 182q-0 -12 -8 -20M1339 260q3 -5 4 -10M1421 244q-2 -8 -7 -14" stroke="#6e0f14" stroke-width="2.1" stroke-linecap="round" fill="none"/>
<path d="M1327 274q0 -9 1 -18M1317 210q5 -11 4 -22M1308 239q1 -9 5 -16M1335 182q6 -9 8 -20M1326 220q4 -13 3 -26M1331 219q0 -7 4 -14M1332 200q6 -12 5 -26M1337 258q4 -6 4 -14M1316 239q-1 -9 1 -17M1323 247q2 -7 4 -14M1323 269q-3 -15 3 -30M1437 199q-9 -12 -10 -27M1444 254q-3 -7 -4 -14M1416 250q-2 -7 0 -15M1444 267q-4 -9 -7 -18M1420 236q1 -13 -3 -26M1438 186q-7 -10 -7 -22M1417 190q-1 -15 1 -29M1437 245q2 -10 -2 -19M1441 231q-1 -11 -7 -20" stroke="#a8262a" stroke-width="2.1" stroke-linecap="round" fill="none"/>
<path d="M1335 249q1 -7 1 -14M1314 246q3 -14 3 -27M1333 243q2 -12 7 -24M1323 205q-0 -9 1 -19M1351 224q1 -8 4 -16M1439 202q-2 -12 -1 -24M1446 186q1 -10 -6 -19M1448 257q-5 -8 -5 -17M1442 190q-4 -11 -9 -23M1346 241q-6 -14 -4 -28M1343 206q4 -14 1 -29M1368 237q-0 -10 -2 -19M1403 161q1 -7 0 -15M1342 151q1 -6 5 -10M1411 162q-1 -6 -4 -10M1401 166q-1 -4 -4 -7M1410 150q-2 -5 -3 -10" stroke="#c0413a" stroke-width="2.1" stroke-linecap="round" fill="none"/>
<path d="M1320 250q8 -10 9 -23M1329 216q4 -7 3 -16M1455 236q-2 -14 -5 -27M1414 248q2 -11 -2 -21M1426 199q1 -10 -1 -21M1352 235q-0 -8 -1 -15M1351 213q-3 -13 0 -26M1346 223q-4 -13 -2 -27M1404 236q-1 -14 5 -27M1407 181q1 -9 2 -18M1338 249q5 -8 5 -18M1338 235q0 -5 4 -9" stroke="#d67a62" stroke-width="2.1" stroke-linecap="round" fill="none"/>
<path d="M1324 248q2 -12 4 -23M1348 242q-1 -13 2 -26M1323 202q4 -7 3 -14M1307 216q3 -10 2 -19M1311 245q4 -14 8 -29M1309 212q1 -13 2 -26M1333 224q2 -14 4 -29M1430 232q0 -13 -2 -26M1446 213q4 -12 -2 -23M1418 238q-4 -10 -8 -21M1430 189q-5 -13 -1 -26M1449 198q-2 -7 -5 -14M1438 232q-3 -8 -4 -17M1435 263q3 -10 0 -20M1453 215q-2 -9 -3 -18M1341 226q2 -11 2 -22M1366 200q-8 -11 -8 -25M1354 194q2 -8 1 -17M1357 199q-1 -15 -7 -29M1415 177q4 -11 3 -22M1408 160q-1 -11 1 -22M1348 154q2 -7 7 -13M1407 150q-2 -4 -2 -9" stroke="#c0413a" stroke-width="1.7" stroke-linecap="round" fill="none"/>
<path d="M1327 209q4 -7 4 -16M1309 194q7 -9 7 -21M1316 219q9 -12 8 -27M1314 194q-3 -14 2 -27M1304 211q7 -12 6 -26M1421 250q-1 -10 -3 -21M1445 223q-3 -10 -3 -21M1420 252q-5 -12 -3 -24M1447 231q-2 -14 -8 -27M1416 230q-1 -7 -2 -14M1426 182q-0 -12 -7 -23M1454 210q-1 -15 -10 -28M1426 199q-5 -8 -4 -16M1433 181q-1 -7 -2 -14M1349 237q3 -12 -2 -22M1358 257q0 -8 -4 -14M1395 183q2 -12 -2 -23M1404 156q1 -9 4 -19M1413 250q-5 -11 -1 -23M1411 225q-3 -11 2 -20M1352 165q2 -4 2 -8M1356 168q2 -7 4 -15M1347 163q6 -6 7 -14M1396 163q-0 -5 -4 -9M1426 166q-2 -5 -5 -9M1417 157q-5 -5 -6 -12" stroke="#c9523f" stroke-width="2.1" stroke-linecap="round" fill="none"/>
<path d="M1337 208q1 -11 0 -21M1342 201q0 -11 1 -22M1324 177q3 -9 0 -17M1371 221q4 -14 -2 -27M1358 199q-4 -9 -4 -18M1369 192q-3 -12 -6 -23M1342 206q-5 -11 -3 -23M1370 207q-1 -9 -5 -17M1352 199q2 -7 1 -14M1356 205q-6 -12 -4 -25M1409 182q0 -13 3 -26M1415 216q4 -9 2 -19M1407 253q3 -12 -3 -23M1408 161q-3 -5 -6 -10M1409 175q-1 -4 -3 -8M1344 256q5 -6 7 -14M1352 252q0 -8 2 -16M1421 256q-2 -7 -5 -13M1413 235q-1 -7 -1 -14M1409 252q-2 -5 -4 -11M1414 238q0 -6 -4 -12" stroke="#cc6c55" stroke-width="1.7" stroke-linecap="round" fill="none"/>
<path d="M1319 187q3 -14 2 -27M1346 212q0 -15 2 -30M1442 258q-1 -15 -10 -28M1439 270q0 -13 0 -25M1353 180q1 -9 0 -17M1355 187q-0 -12 -4 -22M1349 177q2 -14 -6 -25M1362 246q-3 -7 -1 -15M1365 171q-5 -9 -5 -19M1390 232q-0 -9 5 -17M1392 212q-2 -15 3 -28M1402 210q4 -10 2 -20M1414 198q1 -10 4 -20M1405 212q-1 -9 2 -18M1401 169q-2 -8 -1 -17M1349 168q3 -4 5 -10M1356 255q3 -4 3 -9M1411 246q0 -5 -1 -10" stroke="#e08f78" stroke-width="1.7" stroke-linecap="round" fill="none"/>
<path d="M1323 230q-3 -12 1 -24M1336 238q8 -14 5 -29M1350 212q-1 -11 1 -21M1318 264q-0 -9 3 -17M1427 253q-4 -8 -5 -17M1441 265q2 -9 0 -18M1432 254q-2 -9 -5 -18M1417 215q-2 -8 -4 -15M1450 197q-0 -11 -6 -21M1446 228q-3 -7 -2 -15M1434 191q2 -15 -3 -29M1360 247q1 -11 -5 -20M1350 255q-2 -10 2 -20M1359 235q-6 -13 -5 -28M1346 244q2 -13 -5 -24M1392 199q3 -12 3 -25M1399 220q3 -12 3 -24M1405 186q1 -8 4 -15M1413 165q2 -7 4 -13M1419 230q3 -13 -1 -26M1409 179q-2 -12 0 -25M1345 169q2 -6 4 -12M1409 165q0 -6 -2 -12M1419 151q-2 -4 -2 -7M1421 166q-2 -7 -6 -13" stroke="#a52a2a" stroke-width="2.1" stroke-linecap="round" fill="none"/>
<path d="M1315 238q4 -8 3 -17M1371 199q-4 -9 -4 -19M1352 176q-0 -10 2 -20M1414 185q1 -8 2 -17M1392 198q4 -10 4 -21M1400 215q-0 -12 -1 -23M1409 155q-3 -7 -4 -14M1338 248q4 -8 7 -17M1343 243q1 -5 1 -10" stroke="#e08f78" stroke-width="2.1" stroke-linecap="round" fill="none"/>
<path d="M1347 216q-1 -15 6 -29M1327 223q-2 -14 5 -26M1338 213q3 -10 5 -20M1414 225q-2 -14 -7 -28M1435 226q-4 -11 -5 -23M1360 232q-2 -7 1 -14M1353 182q4 -11 3 -22M1358 257q-7 -10 -7 -22M1347 206q-4 -12 -6 -25M1344 175q1 -9 -1 -17M1347 223q-0 -11 -4 -22M1351 171q-0 -11 -5 -21M1404 254q3 -12 -2 -23M1397 195q-3 -15 4 -29M1400 252q-3 -12 0 -23M1407 166q3 -11 1 -23M1349 160q5 -4 6 -11M1419 166q-1 -5 -3 -11M1351 241q1 -7 5 -13M1407 236q-3 -6 -1 -13M1421 246q-2 -8 -3 -16M1421 251q-1 -8 -5 -14" stroke="#c26650" stroke-width="2.1" stroke-linecap="round" fill="none"/>
<path d="M1328 239q8 -13 8 -29M1336 206q2 -10 2 -20M1347 204q-0 -10 3 -20M1347 201q4 -9 4 -18M1334 189q4 -10 8 -21M1351 214q-1 -13 1 -25M1315 269q2 -9 6 -18M1418 227q-3 -9 -4 -18M1436 259q-5 -10 -4 -20M1439 274q-5 -11 -9 -23M1438 262q-2 -8 -4 -16M1435 276q1 -14 -1 -28M1362 241q-2 -12 -6 -23M1368 229q1 -7 -2 -15M1398 239q3 -8 1 -17M1408 168q-1 -10 3 -19M1392 229q-1 -11 5 -20M1397 208q1 -9 2 -18M1414 245q7 -12 6 -26M1358 162q2 -4 4 -8M1412 174q-2 -5 -3 -10M1401 167q-1 -7 -6 -12" stroke="#b3302f" stroke-width="1.3" stroke-linecap="round" fill="none"/>
<path d="M1324 198q0 -15 7 -27M1330 176q-3 -12 2 -23M1335 196q-0 -11 4 -20M1413 256q3 -13 0 -26M1441 241q-5 -10 -8 -22M1426 235q-1 -8 -0 -16M1436 243q-0 -7 -0 -15M1437 201q-5 -12 -6 -25M1357 204q-2 -14 -4 -28M1365 173q3 -15 -4 -29M1346 189q1 -13 -6 -24M1400 204q4 -14 6 -29M1413 197q7 -12 6 -27M1353 174q-0 -4 2 -8" stroke="#a52a2a" stroke-width="1.7" stroke-linecap="round" fill="none"/>
<path d="M1348 192q3 -8 -1 -16M1356 251q0 -15 -5 -29M1355 258q-5 -10 -5 -22M1340 190q-2 -8 1 -16M1357 203q3 -11 -0 -22M1350 160q0 -7 2 -14M1361 255q-1 -10 -4 -19M1413 209q6 -12 3 -25M1416 238q3 -8 -0 -15M1407 206q4 -15 -3 -28M1405 186q-4 -13 -3 -27M1395 238q-2 -11 -1 -23M1408 166q3 -11 5 -23M1352 157q3 -5 5 -11M1342 166q0 -7 4 -13M1351 152q3 -4 5 -9M1398 169q-1 -8 -6 -13M1354 237q4 -4 4 -10M1346 251q3 -6 3 -13" stroke="#d67a62" stroke-width="1.7" stroke-linecap="round" fill="none"/>
<path d="M1310 193q-2 -11 3 -22M1331 178q-0 -9 1 -17M1426 241q1 -8 -1 -16M1429 239q-2 -10 -2 -21M1431 219q-1 -7 -1 -14M1343 232q6 -12 2 -25M1396 198q1 -11 -0 -21M1402 216q3 -7 2 -15M1402 222q2 -9 -0 -18M1400 166q5 -14 7 -28M1354 153q-1 -5 2 -10M1346 260q-1 -9 4 -17M1408 235q-3 -5 -4 -10M1412 267q-3 -6 -3 -13" stroke="#cc6c55" stroke-width="2.1" stroke-linecap="round" fill="none"/>
<path d="M1453 198q-5 -6 -4 -14M1423 235q-7 -11 -5 -24M1349 163q-3 -11 1 -21M1356 198q4 -14 0 -29M1362 186q3 -12 1 -25M1354 181q-1 -8 -1 -15M1347 232q-1 -11 0 -22M1362 171q1 -10 -1 -19M1417 198q-0 -11 5 -21M1395 221q5 -8 3 -18M1392 176q-0 -10 5 -19M1405 178q0 -8 0 -16M1352 236q0 -6 2 -13M1423 242q-5 -8 -4 -17" stroke="#e6a08a" stroke-width="1.3" stroke-linecap="round" fill="none"/>
<path d="M1409 250q0 -9 0 -18M1451 209q-6 -7 -5 -16M1361 163q-2 -9 -3 -18M1352 203q-4 -11 -2 -22M1341 194q5 -15 -0 -30M1366 221q-4 -11 -2 -22M1367 227q0 -10 0 -20M1362 169q-4 -10 -3 -21M1346 170q-2 -9 -3 -18M1349 174q3 -7 1 -15M1396 250q-1 -9 2 -19M1406 244q-1 -8 -0 -16M1392 206q2 -9 5 -18M1412 165q0 -8 2 -16M1403 229q-4 -9 -1 -18M1357 241q3 -7 1 -14M1410 245q-3 -4 -5 -10M1404 247q-3 -6 -5 -13" stroke="#c26650" stroke-width="1.7" stroke-linecap="round" fill="none"/>
<path d="M1447 207q-3 -13 -4 -27M1450 259q1 -13 -2 -26M1426 193q-5 -12 -8 -24M1414 241q-2 -11 -5 -22M1366 170q-1 -7 -0 -15M1365 188q-2 -7 -1 -14M1365 226q4 -9 1 -18M1414 241q2 -13 2 -26M1417 202q3 -11 6 -21M1415 173q-0 -9 3 -18M1399 179q4 -11 -1 -23M1394 195q3 -12 2 -23M1402 170q-2 -12 -2 -24M1340 164q0 -5 2 -9M1354 174q3 -3 3 -7M1337 237q2 -7 4 -13M1353 265q2 -6 6 -12M1343 237q-0 -6 2 -11M1355 256q0 -7 2 -14" stroke="#e6a08a" stroke-width="1.7" stroke-linecap="round" fill="none"/>
<path d="M1433 206q-8 -10 -8 -23M1440 186q-0 -9 -6 -16M1431 227q-3 -12 -1 -24M1363 205q-3 -7 0 -15M1351 187q0 -15 -6 -29M1351 236q-3 -11 -0 -22M1351 216q-0 -12 -6 -24M1361 189q-5 -12 -6 -25M1361 208q-1 -10 1 -19M1418 221q-2 -8 -1 -17M1397 222q0 -8 -1 -17M1390 183q2 -8 4 -15M1409 166q4 -7 3 -15M1411 218q7 -12 6 -26M1413 242q1 -15 4 -29M1351 175q2 -3 2 -7M1342 171q4 -6 5 -14M1413 158q-4 -7 -6 -14M1356 239q2 -5 4 -9M1408 248q1 -9 -4 -17M1417 261q-2 -6 -3 -11" stroke="#e6a08a" stroke-width="2.1" stroke-linecap="round" fill="none"/>
<path d="M1348 174q-3 -14 2 -27M1353 240q-3 -14 -5 -27M1369 217q-1 -15 -3 -29M1363 232q1 -9 -1 -19M1343 192q3 -15 -0 -29M1358 224q-4 -9 -4 -20M1397 204q-0 -10 -2 -19M1403 184q3 -13 8 -26M1406 201q4 -7 4 -15M1418 203q5 -11 3 -24M1426 156q-2 -4 -4 -8M1413 165q-4 -6 -7 -12M1403 163q0 -4 -2 -8M1387 206q-2 -12 -4 -24M1388 210q-3 -7 -2 -15M1387 228q4 -11 1 -23M1372 225q-2 -10 0 -19M1385 222q4 -1 9 1M1373 221q7 3 15 1M1338 258q4 -5 4 -11M1416 253q-3 -6 -2 -13M1367 248q0 -5 -1 -9M1394 239q-0 -4 -1 -7" stroke="#9d9d9d" stroke-width="1.7" stroke-linecap="round" fill="none"/>
<path d="M1369 213q3 -15 -3 -29M1359 235q-0 -14 0 -28M1355 236q-1 -10 -1 -19M1343 161q1 -6 3 -12M1359 166q-0 -8 4 -16M1390 208q0 -13 -1 -26M1379 198q-3 -13 2 -24M1372 215q-2 -9 -0 -17M1370 221q5 -2 10 -2M1363 266q3 -6 3 -13M1363 280q2 -3 3 -7M1387 271q-2 -2 -3 -5M1415 242q-5 -8 -3 -18M1415 262q-1 -7 -3 -14M1363 228q1 -4 0 -8M1393 248q1 -5 1 -10" stroke="#6c6c6c" stroke-width="1.3" stroke-linecap="round" fill="none"/>
<path d="M1365 213q-1 -9 -3 -17M1369 205q-3 -8 -5 -16M1365 239q2 -12 -4 -23M1361 214q3 -9 2 -18M1353 201q-0 -8 1 -16M1349 189q-3 -12 0 -24M1361 206q-2 -10 -3 -21M1352 163q-0 -9 -5 -16M1357 214q-5 -14 -3 -28M1399 192q2 -11 0 -22M1415 212q-4 -14 -0 -28M1404 179q-1 -10 -2 -20M1402 191q3 -10 -0 -21M1348 151q1 -5 2 -10M1334 165q2 -6 4 -11M1350 166q1 -5 5 -9M1412 150q-1 -5 -3 -10M1412 174q0 -4 -2 -8M1405 163q-4 -7 -7 -14M1379 232q-6 -10 -4 -22M1378 237q1 -7 1 -14M1363 221q5 -1 10 2M1365 220q7 -1 15 1M1372 210q6 0 11 1M1369 267q3 -6 6 -11M1364 258q1 -4 2 -7M1370 264q5 -4 6 -9M1363 263q3 -6 6 -13M1371 271q5 -5 5 -13M1390 288q-0 -5 -4 -9M1398 258q-2 -5 -4 -10M1338 250q1 -6 4 -10M1344 262q-1 -6 1 -13M1338 247q4 -8 8 -16M1397 235q-2 -7 1 -14M1390 240q0 -4 1 -7" stroke="#7a7a7a" stroke-width="1.3" stroke-linecap="round" fill="none"/>
<path d="M1369 213q1 -8 -2 -15M1364 198q-3 -14 -6 -29M1393 242q-1 -10 4 -19M1398 183q4 -14 -3 -27M1413 231q3 -7 3 -15M1422 153q-2 -6 -6 -11M1384 220q-2 -13 -4 -27M1373 209q9 -0 17 3M1364 250q2 -3 4 -6M1365 286q2 -7 8 -11M1337 247q1 -7 3 -14M1345 231q4 -4 5 -10M1411 267q-3 -5 -4 -11M1407 265q-1 -6 -1 -13M1412 234q-4 -6 -3 -13M1368 246q-0 -7 1 -14M1370 246q-0 -7 1 -13M1396 236q-3 -7 -1 -14" stroke="#8c8c8c" stroke-width="2.1" stroke-linecap="round" fill="none"/>
<path d="M1353 240q-1 -9 -1 -18M1350 186q-3 -8 -3 -16M1368 224q5 -14 3 -29M1343 229q-0 -12 -5 -22M1353 257q-3 -9 -2 -19M1350 252q-4 -11 -3 -23M1359 246q-3 -12 -6 -25M1412 169q5 -10 4 -21M1419 192q2 -13 2 -27M1344 159q0 -4 3 -8M1405 174q-4 -4 -6 -9M1414 153q-2 -5 -3 -11M1392 218q0 -11 -1 -22M1372 214q-1 -8 -0 -16M1373 262q3 -4 3 -10M1397 269q-3 -6 -7 -11M1396 256q-3 -6 -4 -12M1359 236q-2 -6 -1 -12M1395 231q-1 -4 -1 -9" stroke="#7a7a7a" stroke-width="2.1" stroke-linecap="round" fill="none"/>
<path d="M1348 220q-2 -11 2 -20M1354 192q-8 -13 -6 -28M1345 215q-2 -13 -7 -26M1364 165q-4 -10 -2 -21M1346 203q-5 -8 -4 -18M1345 224q-2 -9 -1 -18M1354 241q1 -9 -3 -17M1398 187q0 -10 3 -19M1414 181q-2 -11 -1 -22M1390 220q-0 -11 2 -22M1393 223q1 -8 1 -15M1404 158q-2 -5 -4 -9M1411 153q-1 -7 -7 -12M1381 202q2 -8 -0 -16M1369 267q1 -6 4 -12M1392 270q-5 -5 -8 -11M1344 254q2 -6 2 -12M1414 263q-3 -5 -4 -10M1406 255q-4 -6 -4 -13M1361 245q-1 -5 2 -10M1396 239q-1 -6 -2 -12M1393 235q-0 -5 1 -9M1399 231q1 -5 2 -10M1398 229q2 -5 1 -9M1401 244q-0 -7 -2 -14" stroke="#9d9d9d" stroke-width="1.3" stroke-linecap="round" fill="none"/>
<path d="M1366 246q-2 -12 -6 -24M1359 246q4 -11 0 -23M1346 251q0 -11 -2 -22M1395 244q3 -11 0 -21M1411 178q7 -11 7 -24M1391 190q4 -14 8 -28M1414 190q0 -9 -2 -19M1336 169q2 -5 2 -11M1373 215q5 1 10 1M1391 274q-1 -4 -3 -7M1390 261q-2 -3 -4 -6M1354 241q4 -7 3 -15M1346 246q1 -6 1 -12M1413 263q-3 -4 -3 -9M1362 228q1 -4 -1 -8" stroke="#adadad" stroke-width="1.7" stroke-linecap="round" fill="none"/>
<path d="M1364 250q-1 -13 2 -26M1372 208q-6 -13 -8 -28M1366 225q0 -12 -3 -24M1420 219q-4 -10 -2 -20M1412 206q1 -14 3 -28M1407 190q5 -12 6 -25M1395 196q-0 -9 -1 -17M1417 220q5 -13 1 -26M1397 223q2 -12 -0 -25M1412 150q-3 -5 -5 -10M1376 197q6 -11 4 -23M1376 198q2 -9 1 -19M1388 210q4 -9 3 -19M1371 206q-3 -7 -2 -15M1386 218q6 -2 12 -0M1367 269q4 -3 5 -9M1394 287q-3 -3 -3 -8M1392 268q-5 -4 -7 -11M1390 283q-2 -6 -3 -13M1336 256q-1 -8 2 -15M1414 266q-0 -5 -2 -10M1393 233q1 -6 -2 -12" stroke="#adadad" stroke-width="2.1" stroke-linecap="round" fill="none"/>
<path d="M1361 210q2 -10 1 -20M1347 219q-3 -7 -3 -14M1342 223q2 -13 2 -25M1351 167q-5 -11 -5 -23M1342 219q-3 -11 -5 -21M1343 205q-2 -9 -5 -18M1365 204q-2 -9 1 -17M1393 241q-1 -13 1 -27M1401 225q-1 -15 8 -28M1413 211q7 -9 6 -21M1403 254q-3 -7 -1 -15M1411 188q4 -14 6 -29M1396 172q-1 -14 3 -28M1334 158q4 -6 6 -13M1344 159q1 -4 4 -7M1373 263q1 -3 3 -6M1366 281q2 -5 3 -11M1339 248q-1 -7 1 -13M1348 246q1 -9 1 -17M1340 262q-2 -9 2 -18M1419 264q1 -7 -2 -13M1366 243q3 -6 1 -12M1403 238q1 -4 0 -7M1390 245q1 -4 2 -9" stroke="#6c6c6c" stroke-width="2.1" stroke-linecap="round" fill="none"/>
<path d="M1367 211q0 -8 -4 -15M1347 229q5 -12 2 -24M1347 215q-7 -13 -3 -26M1360 160q-0 -11 -4 -22M1369 180q-4 -10 -4 -22M1368 234q-7 -12 -5 -26M1393 202q2 -10 2 -20M1402 223q2 -12 7 -24M1414 236q1 -8 -1 -16M1399 228q-1 -10 -0 -19M1399 170q-2 -13 3 -25M1343 162q1 -6 5 -10M1400 161q1 -5 -2 -10M1421 161q-2 -6 -2 -12M1398 161q-4 -5 -3 -12M1377 193q-2 -10 3 -19M1380 191q-4 -8 -3 -16M1376 221q6 1 11 -1M1380 220q4 -2 9 -1M1373 264q2 -4 3 -9M1367 273q2 -6 4 -12M1391 281q-2 -5 -5 -9M1390 273q-4 -4 -5 -10M1344 255q1 -7 4 -13M1419 256q0 -10 -6 -17M1358 240q-0 -3 -1 -7" stroke="#6c6c6c" stroke-width="1.7" stroke-linecap="round" fill="none"/>
<path d="M1358 256q-4 -12 -1 -24M1420 187q-2 -7 -0 -14M1405 217q-2 -13 2 -26M1409 167q-1 -12 5 -23M1400 174q-2 -14 3 -27M1422 206q-3 -13 -3 -26M1356 173q0 -6 3 -12M1346 154q4 -6 7 -13M1416 154q-1 -7 -7 -11M1382 213q0 -12 -2 -23M1376 192q1 -8 2 -17M1384 200q-1 -10 -1 -20M1382 218q6 -1 12 2M1375 224q6 -2 12 -2M1365 269q-0 -4 3 -8M1362 276q4 -5 3 -11M1336 246q-1 -10 4 -19M1364 235q1 -8 -3 -14" stroke="#8c8c8c" stroke-width="1.7" stroke-linecap="round" fill="none"/>
<path d="M1369 175q-1 -8 -4 -16M1343 225q2 -12 -2 -24M1349 221q-3 -7 -3 -16M1345 217q-3 -14 -2 -29M1351 177q-3 -7 -2 -14M1368 197q-0 -12 -6 -23M1416 205q-4 -12 -2 -25M1400 176q0 -8 3 -16M1407 184q6 -10 4 -21M1413 206q-3 -9 1 -18M1335 164q4 -5 6 -11M1407 162q-2 -7 -4 -14M1375 219q-3 -13 -0 -26M1373 214q3 -7 2 -15M1382 190q-0 -7 2 -14M1362 216q6 -1 12 -2M1379 217q8 -1 16 2M1365 284q2 -4 5 -8M1408 242q-1 -5 -4 -9M1413 249q-5 -7 -5 -16M1426 247q-5 -7 -5 -15M1368 236q-1 -7 -2 -13" stroke="#7a7a7a" stroke-width="1.7" stroke-linecap="round" fill="none"/>
<path d="M1362 217q-1 -10 -5 -19M1361 162q2 -8 1 -15M1405 181q3 -11 4 -21M1404 223q4 -14 -3 -28M1410 242q-1 -8 2 -15M1395 246q1 -11 2 -22M1407 218q1 -11 1 -22M1405 199q3 -8 1 -16M1410 224q-4 -12 -1 -23M1374 212q5 2 10 -0M1372 211q6 2 12 2M1365 253q4 -6 8 -11M1397 262q-4 -6 -3 -13M1397 265q-4 -6 -8 -11M1396 248q-2 -4 -5 -9M1390 276q-2 -2 -4 -6M1411 267q-1 -7 -2 -14M1415 235q1 -5 -1 -10M1359 241q1 -5 1 -10M1365 247q0 -6 1 -13M1363 245q0 -3 -1 -7" stroke="#9d9d9d" stroke-width="2.1" stroke-linecap="round" fill="none"/>
<path d="M1349 202q-3 -14 -1 -28M1348 166q-2 -9 -2 -19M1408 231q-0 -9 -2 -19M1392 203q3 -14 -3 -27M1402 231q5 -8 3 -17M1354 168q2 -4 2 -8M1339 155q6 -6 7 -13M1336 155q1 -5 2 -10M1427 161q-3 -7 -8 -14M1375 223q-1 -8 2 -14M1378 214q5 1 9 -1M1373 223q5 -0 11 1M1366 289q2 -3 3 -6M1371 253q2 -4 2 -8M1398 259q-3 -5 -3 -10M1395 284q-3 -4 -6 -8M1395 274q-4 -4 -6 -10M1392 289q-1 -5 -3 -11M1415 266q-2 -7 -2 -13M1421 261q-4 -8 -3 -18M1366 246q-2 -4 -1 -8" stroke="#adadad" stroke-width="1.3" stroke-linecap="round" fill="none"/>
<path d="M1367 184q-1 -12 -5 -22M1410 250q2 -11 0 -23M1403 222q1 -13 7 -24M1419 225q-3 -12 2 -24M1404 186q1 -7 4 -14M1399 246q-0 -10 4 -18M1411 234q2 -13 7 -26M1412 247q-3 -12 -1 -24M1409 157q-1 -7 -1 -14M1388 222q-2 -7 -0 -15M1382 215q0 -9 -0 -17M1381 222q6 1 12 2M1362 219q5 -1 11 -2M1362 269q2 -3 4 -6M1372 273q2 -3 4 -6M1408 259q-2 -5 -4 -10M1409 249q2 -11 -4 -20" stroke="#8c8c8c" stroke-width="1.3" stroke-linecap="round" fill="none"/>
<path d="M1388 204q-0 -10 0 -20M1384 218q-1 -10 2 -20M1380 232q-3 -13 -3 -26M1367 218q5 0 10 1M1379 219q8 -3 16 1M1370 279q2 -6 6 -11" stroke="#aeaeae" stroke-width="2.1" stroke-linecap="round" fill="none"/>
<path d="M1376 233q-2 -15 6 -29M1380 214q2 -8 1 -15M1370 221q-2 -9 3 -16M1377 237q-4 -12 -0 -23M1379 194q0 -8 1 -15M1371 219q-3 -13 1 -26M1364 285q0 -4 2 -7M1371 234q-2 -6 -1 -12M1366 240q-2 -7 -1 -14M1392 233q-0 -5 0 -10" stroke="#b8b8b8" stroke-width="1.7" stroke-linecap="round" fill="none"/>
<path d="M1370 213q-2 -10 1 -19M1386 224q0 -12 4 -24M1387 197q-0 -7 -2 -15M1380 209q7 -0 14 3M1371 274q1 -6 5 -12M1363 240q2 -6 2 -12" stroke="#b8b8b8" stroke-width="2.1" stroke-linecap="round" fill="none"/>
<path d="M1383 198q2 -9 -2 -18M1363 261q5 -5 6 -12M1391 265q-3 -6 -5 -12" stroke="#d0d0d0" stroke-width="1.7" stroke-linecap="round" fill="none"/>
<path d="M1384 197q-2 -11 -0 -23M1389 205q-4 -8 -3 -17M1363 220q8 -3 17 -1M1387 267q-2 -2 -3 -4M1369 245q1 -4 1 -8" stroke="#aeaeae" stroke-width="1.7" stroke-linecap="round" fill="none"/>
<path d="M1382 205q-3 -12 -3 -25M1372 266q-0 -4 2 -7M1370 259q1 -6 4 -11M1393 283q-2 -4 -2 -9M1393 252q-2 -3 -3 -7M1367 248q-1 -5 -1 -10M1368 245q-1 -4 -1 -8" stroke="#c6c6c6" stroke-width="1.7" stroke-linecap="round" fill="none"/>
<path d="M1384 225q0 -13 -5 -24M1373 191q1 -7 1 -14M1372 214q-3 -10 -1 -20M1373 207q-2 -9 2 -16M1390 213q-3 -7 -2 -14M1363 215q6 -3 12 -2M1394 265q-3 -4 -4 -9M1367 245q-0 -3 -1 -7M1391 242q-2 -4 -1 -9" stroke="#c6c6c6" stroke-width="1.3" stroke-linecap="round" fill="none"/>
<path d="M1381 220q-3 -13 0 -25M1387 209q-2 -10 2 -20M1378 226q-2 -9 -1 -19M1372 211q-0 -8 -2 -15M1377 221q1 -14 3 -28M1390 218q-2 -7 -3 -15M1362 219q7 -1 14 -0M1368 223q6 -0 13 1M1371 276q2 -4 5 -8M1395 269q-5 -4 -6 -9M1389 282q-1 -4 -4 -7M1398 257q-2 -5 -4 -9M1372 240q-2 -6 -1 -12M1363 245q2 -4 1 -9M1397 249q0 -3 0 -6M1399 232q-3 -6 -2 -12M1395 249q-1 -5 1 -11" stroke="#d0d0d0" stroke-width="1.3" stroke-linecap="round" fill="none"/>
<path d="M1372 199q-1 -7 -2 -15M1387 226q4 -8 2 -16M1364 272q3 -3 4 -7M1365 263q2 -4 3 -8M1396 253q-3 -5 -7 -9M1393 281q-2 -6 -5 -12M1390 279q-3 -6 -6 -11M1392 236q-3 -5 -2 -11M1392 229q1 -4 -1 -8" stroke="#d0d0d0" stroke-width="2.1" stroke-linecap="round" fill="none"/>
<path d="M1376 223q-1 -9 3 -17M1381 223q-0 -13 1 -26M1370 197q-1 -9 3 -16M1377 223q5 1 11 2M1364 235q2 -4 0 -8M1392 241q0 -4 1 -7" stroke="#b8b8b8" stroke-width="1.3" stroke-linecap="round" fill="none"/>
<path d="M1387 197q-4 -11 -3 -22M1378 190q-4 -6 -3 -14M1376 202q3 -7 0 -14M1387 218q2 -9 -1 -18M1393 289q-0 -4 -2 -8M1368 247q-1 -6 -1 -13M1395 249q-2 -5 -2 -11M1401 242q3 -6 2 -13" stroke="#aeaeae" stroke-width="1.3" stroke-linecap="round" fill="none"/>
<path d="M1371 218q1 -11 -3 -20M1375 189q2 -8 3 -15M1374 232q5 -9 3 -20M1382 221q7 -1 15 0M1380 223q7 1 13 0M1363 280q1 -5 5 -8M1396 264q-3 -4 -5 -9M1394 245q-1 -5 -0 -9M1395 234q-1 -5 -0 -11" stroke="#c6c6c6" stroke-width="2.1" stroke-linecap="round" fill="none"/>
<ellipse cx="1566.0" cy="213.5" rx="94.0" ry="69.5" fill="#f2f2f2"/>
<ellipse cx="1584.8" cy="267.2" rx="63.9" ry="34.8" fill="#f2f2f2"/>
<ellipse cx="1528.4" cy="242.0" rx="47.0" ry="23.7" fill="#f2f2f2"/>
<ellipse cx="1556.6" cy="191.4" rx="39.1" ry="22.8" fill="#9a2f32" fill-opacity="0.5"/>
<ellipse cx="1502.1" cy="207.2" rx="19.6" ry="19.0" fill="#9f8a85" fill-opacity="0.5"/>
<ellipse cx="1505.8" cy="238.8" rx="24.1" ry="12.6" fill="#bb7e73" fill-opacity="0.5"/>
<ellipse cx="1547.2" cy="223.0" rx="18.0" ry="12.6" fill="#a62c2f" fill-opacity="0.5"/>
<ellipse cx="1571.6" cy="219.8" rx="9.0" ry="10.1" fill="#8c8c8c" fill-opacity="0.5"/>
<ellipse cx="1592.3" cy="238.8" rx="15.0" ry="25.3" fill="#a83334" fill-opacity="0.5"/>
<ellipse cx="1598.0" cy="204.0" rx="12.0" ry="11.4" fill="#952125" fill-opacity="0.5"/>
<ellipse cx="1633.7" cy="226.2" rx="18.0" ry="27.8" fill="#b6887c" fill-opacity="0.5"/>
<ellipse cx="1556.6" cy="254.6" rx="24.1" ry="10.1" fill="#c0756a" fill-opacity="0.5"/>
<ellipse cx="1534.0" cy="232.5" rx="18.0" ry="10.1" fill="#bc6c64" fill-opacity="0.5"/>
<ellipse cx="1566.0" cy="235.6" rx="12.0" ry="8.8" fill="#b84b46" fill-opacity="0.5"/>
<ellipse cx="1614.9" cy="223.0" rx="12.0" ry="17.7" fill="#bc6c64" fill-opacity="0.5"/>
<ellipse cx="1588.6" cy="275.1" rx="4.5" ry="12.6" fill="#8c8c8c" fill-opacity="0.5"/>
<path d="M1556 199q-1 -10 4 -19M1543 210q2 -8 4 -16M1522 210q0 -8 3 -16M1526 218q4 -6 3 -13M1589 212q3 -8 4 -16M1558 188q4 -9 3 -19M1534 195q5 -12 7 -24M1549 191q4 -9 1 -17M1530 201q-2 -8 0 -17M1593 202q1 -7 2 -15M1549 218q4 -7 4 -16M1525 232q3 -4 8 -7M1583 271q5 -4 7 -10M1589 216q2 -7 7 -13M1592 211q5 -4 8 -11M1597 195q0 -4 3 -7" stroke="#9a1e22" stroke-width="1.3" stroke-linecap="round" fill="none"/>
<path d="M1572 179q-0 -10 4 -18M1544 206q3 -10 -0 -21M1532 209q3 -9 3 -19M1494 226q8 -4 16 -4M1484 215q9 -2 19 -5M1503 204q8 -3 17 -3M1514 206q7 -4 15 -4M1505 220q6 -1 12 -5M1482 225q6 -6 14 -9M1475 214q9 -9 22 -13M1497 239q7 0 14 -2M1485 245q11 -8 24 -10M1489 230q7 -1 14 -4M1568 214q5 1 10 0M1567 209q5 -1 11 -2M1575 229q4 -1 7 -1M1657 227q-1 -8 -3 -15M1622 245q-4 -12 -6 -25M1639 218q1 -14 -4 -27M1651 245q-4 -7 -3 -14M1631 266q2 -10 -3 -20M1640 224q2 -15 -2 -29M1541 255q7 -5 15 -7M1510 236q7 -1 13 -5M1535 224q8 -1 16 -3M1618 229q4 -8 2 -18M1585 289q3 -5 5 -11" stroke="#9d9d9d" stroke-width="1.7" stroke-linecap="round" fill="none"/>
<path d="M1544 174q1 -7 2 -14M1561 223q3 -8 3 -17M1513 205q2 -7 1 -14M1571 203q2 -7 1 -14M1568 179q3 -9 1 -18M1584 211q-1 -8 2 -16M1567 216q4 -7 5 -14M1571 200q2 -8 3 -16M1507 237q11 2 22 -1M1529 221q11 0 20 -7M1522 227q6 -2 12 -4M1556 225q4 -5 9 -7M1534 236q8 -5 17 -8M1532 230q7 -6 14 -12M1557 232q10 -3 16 -12M1540 215q6 -2 11 -6M1541 228q7 -1 13 -5M1564 222q4 -2 7 -5M1600 240q3 -9 10 -15M1577 232q0 -11 7 -21M1592 275q1 -6 5 -12M1587 272q9 -11 13 -25M1602 245q5 -7 10 -14M1584 261q2 -8 6 -14M1599 231q3 -9 10 -14M1577 241q4 -7 8 -14M1607 208q3 -5 5 -10M1554 250q7 -3 13 -7M1543 227q4 -3 10 -5M1523 227q7 -6 17 -8M1540 234q10 -2 19 -6M1552 237q7 -2 13 -5M1618 228q2 -5 3 -11" stroke="#c9523f" stroke-width="2.1" stroke-linecap="round" fill="none"/>
<path d="M1539 178q1 -9 1 -17M1567 223q3 -9 2 -18M1529 203q-1 -9 5 -16M1545 176q1 -8 4 -16M1571 212q-2 -13 1 -26M1569 194q-2 -9 -0 -17M1544 217q-2 -8 -0 -17M1557 212q4 -8 5 -16M1548 217q4 -3 10 -5M1541 213q8 -3 15 -7M1546 241q4 -4 10 -8M1571 244q5 -10 14 -17M1585 248q11 -8 15 -20M1593 253q10 -7 14 -19M1586 250q1 -8 6 -15M1594 256q5 -6 8 -13M1607 240q1 -7 5 -13M1564 245q5 -3 10 -6M1612 233q3 -8 0 -17" stroke="#a52a2a" stroke-width="1.3" stroke-linecap="round" fill="none"/>
<path d="M1585 195q3 -11 -1 -21M1542 223q2 -11 0 -22M1539 222q3 -7 3 -15M1530 189q4 -9 1 -17M1567 191q5 -11 3 -24M1512 207q-0 -7 2 -14M1560 187q0 -9 3 -18M1531 178q1 -8 6 -14M1579 206q3 -8 5 -16M1559 185q-1 -9 2 -17M1567 223q5 -9 6 -19M1584 187q-1 -8 2 -15M1579 200q2 -8 1 -17M1533 201q-2 -12 1 -23M1577 180q2 -9 7 -17M1527 202q1 -8 3 -16M1524 231q9 -1 17 -6M1562 231q5 -6 11 -10M1552 219q5 -5 11 -6M1572 250q5 -4 7 -10M1579 239q8 -5 10 -14M1573 243q4 -14 16 -23M1594 207q3 -4 5 -9M1598 202q2 -4 5 -8" stroke="#7a1218" stroke-width="2.1" stroke-linecap="round" fill="none"/>
<path d="M1586 218q2 -14 10 -26M1551 183q2 -8 6 -15M1547 187q3 -11 1 -22M1561 193q-3 -13 -0 -26M1528 190q5 -7 5 -16M1587 193q3 -7 5 -15M1544 214q6 -6 15 -7M1597 267q6 -8 9 -17M1582 243q5 -12 15 -21M1595 206q3 -3 4 -6M1555 239q5 -5 11 -9" stroke="#6e0f14" stroke-width="2.1" stroke-linecap="round" fill="none"/>
<path d="M1535 204q-1 -13 0 -25M1585 193q0 -9 5 -17M1588 218q-1 -10 1 -20M1543 223q2 -7 2 -15M1529 202q3 -10 7 -19M1591 190q2 -8 2 -16M1598 212q-3 -10 -1 -19M1590 186q5 -9 4 -19M1552 200q1 -8 4 -16M1503 242q7 -4 16 -3M1551 229q6 -5 12 -10M1532 211q7 -1 13 -6M1549 220q5 -3 9 -5M1546 213q6 -2 11 -7M1522 228q4 -4 10 -7M1535 233q10 -3 16 -10M1542 240q5 -10 16 -13M1542 225q4 -4 10 -6M1586 217q1 -8 7 -15M1581 238q3 -11 9 -21M1604 254q5 -5 7 -12M1590 229q1 -9 6 -16M1597 245q4 -9 12 -15M1596 221q4 -6 8 -12M1587 216q3 -2 4 -6M1609 206q3 -5 3 -10M1612 244q2 -8 2 -16M1620 243q2 -6 1 -13" stroke="#c0413a" stroke-width="1.3" stroke-linecap="round" fill="none"/>
<path d="M1545 184q1 -8 0 -17M1566 204q1 -13 4 -25M1517 214q-1 -8 2 -16M1594 204q3 -7 3 -15M1573 212q-1 -10 5 -18M1551 200q-2 -7 0 -15M1525 240q7 -2 15 -4M1576 263q1 -6 4 -11M1587 246q3 -6 6 -12M1578 234q5 -7 8 -15M1593 254q4 -7 9 -13M1591 241q8 -12 10 -26M1534 252q10 0 20 -3M1530 233q8 -3 17 -6M1608 213q1 -8 5 -15M1628 229q1 -9 2 -18M1605 220q2 -5 2 -11" stroke="#c0413a" stroke-width="1.7" stroke-linecap="round" fill="none"/>
<path d="M1592 204q-1 -9 2 -17M1571 198q0 -9 2 -17M1573 219q1 -9 5 -17M1536 183q-1 -9 0 -18M1536 197q1 -10 6 -18M1492 231q7 -3 14 -2M1531 220q4 -6 11 -8M1522 219q6 -1 10 -4M1575 229q4 -8 6 -17M1577 253q5 -7 7 -14M1589 246q4 -10 7 -20M1582 253q2 -7 8 -12M1596 252q7 -5 10 -13M1595 206q3 -7 8 -13M1556 257q6 -4 13 -6M1509 235q7 -6 16 -7M1522 245q6 -1 12 -5M1534 227q8 -1 16 -1M1573 237q3 -4 8 -7M1569 245q4 -1 8 -3M1572 244q4 -3 9 -3M1554 234q2 -3 5 -4M1613 221q3 -9 2 -19M1624 239q3 -8 0 -17" stroke="#a52a2a" stroke-width="1.7" stroke-linecap="round" fill="none"/>
<path d="M1578 190q1 -10 4 -19M1510 198q-2 -10 2 -20M1526 205q4 -7 4 -15M1598 213q2 -8 1 -15M1589 182q3 -7 4 -15M1548 192q-1 -11 1 -22M1581 199q5 -10 6 -20M1557 218q2 -11 -1 -21M1492 245q8 1 17 -0M1557 235q7 -4 13 -10M1549 225q7 -5 13 -11M1559 233q5 -2 10 -4M1523 229q6 -7 14 -11M1598 265q8 -7 12 -16M1593 233q10 -7 15 -18M1577 265q1 -8 6 -14M1589 234q4 -8 11 -13M1522 254q10 -2 19 -7M1536 235q11 0 21 -5M1535 235q6 -4 14 -6M1534 225q8 -3 17 -3M1516 234q10 -0 18 -4M1566 247q6 -1 11 -6M1552 243q3 -3 8 -4M1556 242q5 -2 10 -5M1617 233q3 -8 3 -16M1616 245q-0 -6 3 -12M1627 226q1 -6 1 -12" stroke="#b3302f" stroke-width="1.3" stroke-linecap="round" fill="none"/>
<path d="M1592 210q-2 -8 1 -15M1511 186q3 -7 5 -15M1550 204q2 -8 4 -16M1594 212q2 -7 1 -14M1516 209q4 -10 7 -20M1556 204q-1 -8 1 -16M1571 219q1 -10 -0 -20M1545 204q7 -9 6 -21M1571 196q3 -10 5 -21M1591 205q3 -7 4 -14M1510 202q-3 -12 1 -24M1544 210q-3 -8 -1 -16M1579 187q4 -9 7 -18M1507 199q0 -10 6 -18M1560 224q-0 -8 0 -16M1534 200q-1 -10 5 -19M1590 212q-0 -10 3 -19M1523 217q9 -0 16 -7M1580 252q5 -7 6 -16M1583 230q6 -7 9 -15M1598 225q2 -7 8 -11M1591 219q3 -3 6 -7M1605 213q5 -6 7 -14M1595 196q5 -3 7 -8M1598 205q5 -5 8 -12M1575 241q3 -2 7 -3" stroke="#6e0f14" stroke-width="1.3" stroke-linecap="round" fill="none"/>
<path d="M1594 214q2 -8 4 -16M1539 182q-2 -8 1 -15M1504 214q11 -0 19 -7M1504 201q6 -7 14 -8M1475 213q6 -4 13 -8M1515 213q8 -0 15 -6M1518 241q8 3 16 0M1483 234q8 -4 18 -4M1523 248q8 -5 17 -6M1502 232q10 2 19 -0M1561 228q4 1 8 -1M1560 227q3 -0 6 0M1559 220q4 -1 8 -2M1566 227q3 -2 7 -1M1646 261q-4 -11 -2 -22M1627 210q-1 -10 -6 -18M1622 235q2 -11 -1 -22M1634 222q-2 -10 0 -20M1634 236q-4 -9 -6 -18M1629 265q-0 -8 -2 -16M1634 231q-4 -9 -6 -18M1558 268q6 -5 14 -5M1592 273q2 -3 2 -8M1584 287q3 -7 2 -14" stroke="#9d9d9d" stroke-width="2.1" stroke-linecap="round" fill="none"/>
<path d="M1550 197q1 -12 8 -21M1529 192q1 -9 5 -17M1590 204q3 -8 1 -16M1519 202q1 -11 4 -21M1569 186q2 -7 2 -15M1562 193q0 -9 2 -18M1544 218q-1 -11 0 -22M1516 190q-2 -8 -0 -16M1592 214q6 -9 4 -20M1530 179q-1 -8 0 -16M1518 211q5 -8 5 -17M1589 190q3 -8 5 -16M1530 214q8 -3 15 -9M1582 239q11 -7 15 -18M1588 242q3 -7 8 -12M1595 249q8 -10 17 -20M1577 265q6 -7 9 -16M1583 221q10 -6 12 -17M1594 196q2 -4 3 -8M1598 205q4 -4 7 -8" stroke="#85161b" stroke-width="1.3" stroke-linecap="round" fill="none"/>
<path d="M1578 197q6 -11 7 -24M1553 198q-2 -10 4 -18M1571 189q3 -8 5 -16M1518 193q4 -11 5 -22M1565 184q-2 -7 -0 -15M1555 180q-3 -9 0 -18M1532 219q8 -4 16 -8M1553 234q5 -5 12 -7M1578 222q1 -7 7 -13M1575 241q5 -9 12 -17M1593 204q3 -6 7 -11" stroke="#7a1218" stroke-width="1.3" stroke-linecap="round" fill="none"/>
<path d="M1562 224q2 -7 5 -12M1591 217q0 -8 2 -16M1597 192q5 -7 4 -15M1548 223q3 -7 4 -14M1518 209q-0 -9 1 -18M1546 214q5 -10 6 -22M1587 203q2 -7 1 -15M1537 205q1 -8 3 -17M1539 218q7 -7 17 -8M1578 266q6 -10 15 -18M1600 246q3 -7 9 -12M1582 242q7 -6 10 -15M1571 247q2 -13 10 -22M1604 246q7 -9 8 -21M1596 257q4 -9 12 -14M1589 240q7 -10 9 -22" stroke="#a8262a" stroke-width="2.1" stroke-linecap="round" fill="none"/>
<path d="M1563 179q6 -9 5 -20M1519 191q-3 -9 0 -18M1539 187q0 -9 2 -19M1558 188q-3 -15 2 -29M1539 184q3 -12 2 -24M1587 197q3 -10 5 -21M1520 188q3 -7 5 -14M1519 189q4 -7 6 -16M1588 211q-1 -14 2 -28M1581 185q0 -11 6 -21M1531 196q-1 -9 3 -17M1542 192q1 -10 5 -20M1581 185q5 -10 5 -21M1522 231q7 -0 14 -1M1527 228q5 -1 10 -3M1528 217q5 -3 9 -7M1545 241q5 -5 11 -9M1545 235q10 -2 19 -8M1536 231q8 -0 15 -6M1578 266q6 -4 9 -11M1596 234q5 -5 7 -12M1578 265q6 -4 9 -12M1588 217q5 -3 7 -9M1581 204q3 -4 6 -8M1559 264q7 -1 14 -4M1570 242q5 -4 11 -7M1550 234q4 -5 10 -8M1564 245q7 -2 11 -8M1573 231q3 -2 7 -4M1612 248q2 -7 -0 -14M1602 234q5 -6 5 -13M1600 219q2 -10 7 -19M1604 235q1 -9 6 -16" stroke="#c9523f" stroke-width="1.3" stroke-linecap="round" fill="none"/>
<path d="M1517 207q1 -7 1 -15M1595 213q3 -8 -0 -15M1494 225q6 -4 13 -7M1502 211q7 -3 14 -2M1481 221q7 -6 15 -7M1514 209q9 -1 16 -7M1476 217q7 -3 14 -5M1479 250q9 1 17 -1M1488 249q9 -6 19 -5M1569 223q5 -1 10 -0M1561 225q4 -1 8 -0M1623 244q-0 -9 -6 -16M1639 254q-1 -9 -5 -17M1629 239q-2 -10 -4 -20M1631 247q-4 -12 -8 -24M1635 258q-1 -12 -1 -23M1634 265q-4 -7 -5 -15M1627 256q-8 -9 -8 -22M1619 216q-2 -9 -3 -18M1623 216q-3 -10 -5 -21M1541 249q7 -3 14 -3M1559 261q10 1 18 -5M1534 240q9 0 18 -2M1608 211q1 -6 3 -13" stroke="#8c8c8c" stroke-width="1.3" stroke-linecap="round" fill="none"/>
<path d="M1523 211q3 -9 -0 -18M1539 207q4 -13 8 -25M1576 185q1 -7 0 -15M1529 213q3 -8 6 -16M1552 214q-0 -10 5 -19M1567 204q-1 -13 6 -23M1581 191q-0 -8 3 -15M1581 187q4 -8 1 -17M1568 213q2 -9 1 -19M1539 215q3 -8 4 -17M1536 221q4 -9 3 -19M1537 186q1 -9 -0 -17M1548 228q6 -4 13 -8M1541 224q5 -3 9 -8M1539 221q7 -6 16 -6M1583 251q7 -9 14 -19M1581 208q3 -3 6 -7" stroke="#85161b" stroke-width="1.7" stroke-linecap="round" fill="none"/>
<path d="M1563 221q1 -10 4 -20M1589 201q0 -13 2 -25M1543 177q2 -8 2 -17M1545 173q1 -7 4 -13M1510 200q1 -8 -0 -15M1512 203q0 -8 -0 -15M1550 224q-3 -13 3 -25M1514 205q-2 -9 1 -18M1592 194q1 -9 1 -18M1572 213q-5 -13 0 -25M1592 210q1 -12 8 -21M1578 218q-1 -13 1 -25M1535 228q9 -6 18 -8M1591 239q10 -10 12 -24M1582 271q4 -7 7 -15M1571 234q6 -11 14 -20M1580 230q4 -7 8 -14M1585 273q5 -5 8 -11M1581 269q1 -9 7 -16M1591 268q6 -12 15 -22M1601 236q6 -7 8 -16M1587 215q2 -5 5 -10M1592 203q3 -4 6 -8M1597 202q3 -3 6 -7M1596 199q4 -4 8 -9M1564 231q7 -1 12 -5M1551 240q4 -2 8 -5" stroke="#9a1e22" stroke-width="1.7" stroke-linecap="round" fill="none"/>
<path d="M1525 218q6 -14 1 -29M1548 223q1 -8 4 -16M1512 198q6 -10 4 -23M1551 217q-3 -8 -0 -15M1533 217q2 -8 3 -16M1522 205q-2 -11 2 -21M1540 187q5 -10 2 -21M1514 196q1 -11 7 -20M1595 185q3 -7 5 -14M1545 173q1 -7 5 -13M1512 241q10 -2 19 -7M1489 230q10 1 19 -3M1552 235q6 -7 14 -11M1561 228q6 -2 11 -5M1543 225q5 -2 10 -4M1574 236q5 -5 6 -12M1591 227q3 -8 7 -15M1577 256q4 -6 9 -12M1598 226q3 -8 10 -12M1582 237q6 -10 14 -19M1542 251q5 -5 11 -7M1534 227q6 -6 15 -6M1512 240q7 -4 15 -6M1553 232q4 -6 10 -8M1563 244q5 -2 9 -6" stroke="#b3302f" stroke-width="2.1" stroke-linecap="round" fill="none"/>
<path d="M1576 201q1 -9 1 -18M1586 192q-4 -13 1 -25M1549 224q-1 -6 2 -12M1511 186q1 -7 5 -13M1550 201q-1 -9 3 -18M1582 220q-2 -10 2 -20M1563 202q-2 -12 4 -23M1533 221q1 -10 3 -20M1546 193q4 -9 7 -18M1582 197q4 -8 3 -17M1552 218q8 -3 15 -7M1547 217q6 -1 9 -5M1553 214q5 -2 8 -6M1601 241q2 -12 10 -20M1597 212q2 -8 5 -15M1601 205q2 -4 4 -9M1573 244q4 -1 8 -4" stroke="#a8262a" stroke-width="1.3" stroke-linecap="round" fill="none"/>
<path d="M1518 195q3 -7 5 -14M1575 188q5 -10 2 -21M1514 209q-2 -11 4 -20M1585 226q3 -8 8 -15" stroke="#85161b" stroke-width="2.1" stroke-linecap="round" fill="none"/>
<path d="M1564 188q1 -14 7 -26M1599 190q2 -8 5 -15M1560 224q3 -5 3 -12M1575 177q-2 -7 1 -14M1597 209q4 -11 2 -22M1530 189q2 -8 -1 -15M1528 206q-1 -8 0 -17M1524 209q3 -10 -0 -21M1511 202q-2 -9 1 -17M1550 224q3 -10 7 -20M1568 223q1 -10 3 -19M1546 179q-1 -8 -0 -16M1495 235q10 -1 20 -2M1473 242q10 -2 19 0M1499 246q11 -5 23 -3M1537 223q3 -5 9 -6M1527 221q6 -3 11 -5M1554 221q8 -3 17 -6M1536 229q10 -3 18 -8M1523 222q7 -4 13 -10M1595 250q8 -7 11 -17M1599 228q1 -9 8 -15M1582 240q5 -9 10 -17M1604 254q4 -8 10 -15M1574 252q6 -6 12 -13M1601 235q4 -8 7 -17M1602 228q5 -4 8 -9M1588 274q6 -4 9 -11M1545 266q6 -1 11 -5M1553 253q8 -4 17 -5M1545 253q12 -4 22 -11M1524 237q11 -1 21 -7M1553 243q6 -2 11 -5M1571 243q6 -2 10 -8M1624 224q3 -8 5 -17M1608 242q2 -8 4 -16" stroke="#c9523f" stroke-width="1.7" stroke-linecap="round" fill="none"/>
<path d="M1520 210q6 -9 5 -21M1567 212q-0 -9 -0 -18M1577 209q1 -10 -0 -20M1568 223q1 -9 1 -18M1478 204q7 -6 16 -6M1512 248q11 0 20 -5M1525 237q8 1 15 -2M1485 243q10 -1 19 -7M1515 240q11 0 19 -7M1472 235q11 1 20 -5M1500 242q8 -4 17 -7M1559 222q3 -1 6 1M1640 238q-5 -10 -4 -21M1633 216q-3 -8 -3 -16M1653 228q1 -11 -3 -20M1638 208q-2 -9 -6 -18M1635 206q2 -10 -1 -20M1564 253q8 -2 15 -4M1537 266q7 -2 13 -7M1525 260q10 -4 21 -4M1525 239q6 -0 11 -3M1607 217q1 -6 0 -11M1585 289q1 -3 1 -6" stroke="#adadad" stroke-width="2.1" stroke-linecap="round" fill="none"/>
<path d="M1548 213q1 -10 2 -20M1518 193q2 -9 4 -17M1559 211q3 -11 6 -23M1551 224q1 -8 4 -15M1527 219q2 -6 5 -12M1528 183q3 -10 -1 -19M1528 197q1 -10 5 -19M1582 197q5 -11 1 -23M1572 219q5 -10 8 -22M1552 189q4 -8 5 -17M1592 190q5 -9 7 -19M1545 204q1 -12 2 -24M1590 186q2 -10 1 -20M1550 219q8 -4 13 -10M1574 232q4 -5 9 -10M1599 250q4 -10 8 -20M1585 210q3 -4 6 -7M1589 218q2 -3 3 -7M1594 207q5 -4 7 -10M1606 215q5 -6 6 -14M1593 204q2 -3 3 -6M1599 199q1 -4 4 -8M1563 242q5 -6 13 -7M1565 245q4 -4 10 -5" stroke="#7a1218" stroke-width="1.7" stroke-linecap="round" fill="none"/>
<path d="M1559 199q2 -8 2 -16M1485 192q6 -7 15 -8M1479 211q6 -4 13 -6M1506 211q9 -1 14 -8M1491 218q10 -0 18 -7M1514 216q8 -2 16 -6M1487 226q7 -8 17 -10M1509 224q8 -5 18 -5M1494 209q7 -2 13 -6M1500 194q10 -5 20 -4M1500 228q9 -3 19 -4M1506 203q7 -5 17 -6M1506 246q10 -3 21 0M1507 253q9 -0 17 -6M1511 238q8 -3 17 -6M1477 249q10 4 21 1M1563 219q6 1 12 2M1571 220q3 -1 6 0M1569 210q6 -1 11 2M1565 209q3 -1 7 -1M1627 238q-0 -11 -6 -20M1616 238q2 -13 -4 -24M1618 246q-4 -8 -5 -17M1648 248q1 -8 -2 -15M1639 261q1 -9 -0 -18M1627 223q1 -7 2 -14M1591 290q1 -4 1 -7M1591 288q1 -6 1 -11" stroke="#6c6c6c" stroke-width="1.7" stroke-linecap="round" fill="none"/>
<path d="M1565 185q1 -10 3 -20M1491 225q10 -0 16 -7M1498 197q7 -3 13 -6M1480 213q11 -7 24 -8M1506 200q6 -4 14 -3M1494 233q6 -5 12 -7M1491 192q6 -4 14 -4M1489 231q7 -0 13 -4M1492 229q8 -5 18 -4M1576 217q4 -0 8 -1M1571 223q6 -2 11 -0M1568 225q6 1 12 1M1656 235q-2 -7 -2 -15M1641 229q-4 -11 0 -22M1637 259q3 -14 -1 -27M1555 264q8 -7 18 -10M1573 254q8 -2 16 -3M1515 235q12 1 22 -5M1529 234q11 -1 22 -3M1609 229q3 -8 1 -16M1624 243q-3 -10 1 -20" stroke="#7a7a7a" stroke-width="1.7" stroke-linecap="round" fill="none"/>
<path d="M1520 206q1 -9 4 -17M1518 194q-1 -12 -0 -24M1563 190q2 -9 3 -18M1496 217q7 -1 12 -6M1488 223q9 -0 17 -5M1489 202q11 -1 21 -4M1506 206q10 -7 23 -6M1483 227q4 -6 11 -7M1477 243q12 2 24 -2M1565 229q5 1 9 -2M1575 220q3 0 7 -1M1563 230q5 -2 9 -1M1641 206q3 -9 1 -17M1633 220q-2 -8 -3 -16M1643 251q3 -9 -0 -17M1631 209q-5 -9 -5 -20M1628 215q-5 -13 -1 -26M1642 255q-2 -15 -1 -30M1652 251q-3 -7 -0 -14M1570 252q5 -5 12 -7M1553 245q7 -1 14 -2M1536 253q6 -5 13 -5M1560 255q6 -1 12 -3M1570 249q7 -0 12 -4M1588 275q-2 -6 1 -12M1587 291q0 -5 1 -9M1587 280q1 -6 1 -12M1591 279q3 -4 4 -8" stroke="#6c6c6c" stroke-width="1.3" stroke-linecap="round" fill="none"/>
<path d="M1517 196q-1 -8 2 -16M1560 224q1 -7 2 -14M1552 188q-1 -8 0 -16M1557 218q1 -8 5 -14M1566 201q5 -7 4 -15M1578 221q3 -12 5 -24M1564 197q5 -11 6 -23M1580 221q0 -10 -0 -20M1538 221q6 -2 12 -5M1557 218q5 -3 10 -4M1594 257q8 -7 12 -16M1578 233q2 -12 9 -22M1574 248q7 -8 12 -19M1597 270q3 -9 7 -18M1576 249q8 -9 14 -19" stroke="#6e0f14" stroke-width="1.7" stroke-linecap="round" fill="none"/>
<path d="M1552 200q3 -6 5 -13M1555 191q1 -10 0 -21M1578 184q4 -10 2 -21M1536 203q3 -9 -0 -19M1474 205q9 -4 20 -5M1496 223q7 -0 13 -3M1492 212q7 -1 13 -6M1481 225q11 -6 23 -5M1508 221q10 -2 19 -3M1504 229q9 0 16 -5M1490 205q11 -5 22 -5M1472 243q8 -1 16 -0M1501 247q13 -5 26 -1M1513 231q7 2 14 -1M1512 250q13 -0 25 -6M1563 209q5 2 10 0M1577 225q3 1 6 0M1626 263q-6 -10 -4 -21M1644 234q-9 -12 -10 -26M1624 245q-6 -12 -4 -25M1633 256q-2 -9 -6 -18M1654 251q-1 -12 -8 -21M1641 262q-1 -13 -3 -26M1647 222q-6 -8 -5 -18M1650 215q-0 -9 -6 -16M1627 234q-6 -12 -9 -25M1541 267q7 -3 14 -6M1622 223q3 -6 3 -12M1610 217q2 -8 5 -15M1589 285q1 -4 0 -7M1587 273q0 -4 3 -7M1589 271q2 -5 4 -10" stroke="#7a7a7a" stroke-width="1.3" stroke-linecap="round" fill="none"/>
<path d="M1557 201q2 -10 6 -19M1587 187q2 -10 2 -20M1596 207q-3 -8 0 -17M1564 199q1 -13 2 -27M1574 175q-1 -7 3 -13M1549 222q1 -9 6 -17M1550 213q1 -14 3 -27M1565 207q-0 -11 0 -23M1545 193q4 -10 2 -20M1584 217q-2 -8 2 -15M1587 197q-1 -9 4 -17M1516 194q7 -11 5 -25M1531 230q8 -2 16 -6M1546 226q6 -5 13 -6M1528 219q8 -3 16 -8M1552 228q4 -3 9 -6M1538 218q7 -1 12 -5M1543 229q8 -5 15 -9M1597 249q4 -6 9 -11M1593 196q0 -5 4 -9M1597 208q3 -5 7 -10" stroke="#9a1e22" stroke-width="2.1" stroke-linecap="round" fill="none"/>
<path d="M1571 177q1 -8 3 -17M1509 209q1 -11 5 -22M1599 204q2 -8 3 -17M1582 208q-4 -14 -1 -28M1569 179q-2 -8 1 -16M1534 197q5 -6 4 -14M1527 182q2 -9 0 -18M1531 194q4 -11 4 -22M1550 223q6 -1 11 -5M1539 237q10 -1 16 -9M1594 242q9 -5 13 -15M1592 243q6 -8 6 -18M1590 230q8 -7 12 -17M1591 270q3 -10 9 -19M1605 254q4 -7 6 -15M1589 202q2 -4 5 -7M1588 210q1 -6 4 -11M1586 200q4 -4 7 -9M1589 218q3 -3 4 -8M1598 215q4 -5 7 -11M1609 208q4 -5 4 -12" stroke="#a8262a" stroke-width="1.7" stroke-linecap="round" fill="none"/>
<path d="M1527 203q2 -9 4 -17M1557 216q3 -9 5 -18M1553 223q4 -12 7 -24M1550 217q3 -7 1 -14M1541 223q-2 -9 3 -18M1567 189q-0 -12 2 -24M1570 187q-1 -14 7 -26M1543 175q1 -7 5 -14M1530 236q9 -4 17 -10M1541 215q5 -6 12 -9M1561 227q6 -2 11 -4M1552 225q8 -3 16 -7M1526 233q5 -2 10 -3M1576 263q5 -7 6 -16M1575 252q9 -6 12 -17M1600 244q9 -5 13 -15M1585 224q1 -10 6 -18M1595 234q2 -8 8 -15M1602 220q1 -6 5 -11M1603 214q2 -6 8 -10M1544 260q6 -1 12 -2M1510 228q8 -6 18 -8M1530 227q8 -0 15 -3M1562 234q3 -4 7 -5M1621 247q-2 -10 3 -19M1604 222q3 -9 -0 -18" stroke="#a52a2a" stroke-width="2.1" stroke-linecap="round" fill="none"/>
<path d="M1526 185q-3 -11 3 -22M1548 192q-1 -12 1 -23M1481 193q9 -2 15 -9M1490 227q10 -3 20 -5M1502 227q8 -3 16 -7M1490 209q9 0 16 -4M1503 202q6 -4 13 -6M1499 191q9 -3 17 -3M1512 237q7 -6 17 -6M1504 227q7 -3 15 -2M1510 244q10 -2 19 -5M1561 218q5 0 10 -1M1569 225q5 2 10 2M1560 219q4 2 9 2M1638 229q-3 -11 1 -22M1651 220q-5 -8 -4 -17M1619 238q3 -11 3 -21" stroke="#adadad" stroke-width="1.3" stroke-linecap="round" fill="none"/>
<path d="M1559 195q3 -8 1 -15M1478 213q6 -2 13 -4M1476 241q11 1 22 -2M1568 221q4 -1 7 -1M1568 227q5 -2 11 -1M1646 250q2 -10 -1 -19M1652 250q-0 -10 -3 -20M1645 247q-6 -11 -9 -23M1538 251q9 -5 19 -4M1515 240q7 -1 14 -4" stroke="#6c6c6c" stroke-width="2.1" stroke-linecap="round" fill="none"/>
<path d="M1560 222q-3 -7 -0 -15M1523 185q4 -9 2 -18M1505 227q9 -1 14 -8M1475 203q6 -0 10 -4M1480 218q11 -1 21 -4M1483 209q7 -1 13 -7M1514 211q7 0 13 -4M1490 220q12 -5 25 -6M1478 240q10 -6 21 -4M1649 255q-5 -9 -4 -19M1622 246q-7 -12 -11 -26M1646 217q-5 -13 -8 -26M1638 265q-4 -11 -4 -22M1617 243q-1 -8 1 -16M1608 229q1 -9 1 -18M1618 224q-0 -6 3 -10M1582 276q1 -4 3 -7M1587 285q1 -5 2 -10" stroke="#7a7a7a" stroke-width="2.1" stroke-linecap="round" fill="none"/>
<path d="M1556 207q-2 -9 0 -17M1538 218q1 -9 6 -16M1530 212q5 -7 5 -16M1525 207q0 -15 10 -25M1550 172q1 -6 1 -13M1593 232q4 -13 9 -26M1599 273q6 -8 6 -17M1598 248q7 -7 9 -17M1571 246q4 -9 8 -18M1598 207q1 -4 3 -7M1604 219q2 -6 5 -11M1591 206q1 -5 5 -10M1537 248q7 -1 13 -3M1571 255q7 -6 17 -6M1557 236q4 -3 9 -3M1605 231q-1 -9 1 -17M1614 244q3 -9 2 -18M1616 238q1 -6 1 -12M1623 218q-0 -7 4 -13" stroke="#b3302f" stroke-width="1.7" stroke-linecap="round" fill="none"/>
<path d="M1555 180q1 -10 2 -19M1517 212q6 -2 13 -4M1495 205q7 0 14 -2M1501 193q6 -3 12 -2M1496 199q7 -6 16 -8M1488 199q9 -1 17 -6M1511 226q6 -5 13 -7M1500 198q7 -1 11 -7M1500 223q7 0 14 -3M1475 207q11 -1 22 -6M1478 249q8 -5 18 -5M1577 222q4 -1 8 -1M1571 229q3 1 6 -1M1635 221q1 -14 -8 -25M1519 231q7 -2 14 -4M1585 291q1 -5 4 -10M1585 285q-1 -5 1 -10M1591 273q1 -3 1 -7" stroke="#9d9d9d" stroke-width="1.3" stroke-linecap="round" fill="none"/>
<path d="M1546 187q-0 -9 6 -16M1474 204q7 -3 14 -6M1518 213q5 -3 11 -3M1514 216q7 -3 13 -6M1509 209q7 -3 15 -3M1496 187q8 -0 14 -4M1494 202q10 -5 21 -3M1510 247q8 -1 17 -1M1482 238q13 1 24 -5M1510 245q9 -3 19 -1M1620 232q1 -8 0 -17M1644 216q3 -15 -5 -28M1628 220q-5 -7 -3 -16M1625 260q4 -11 0 -22M1547 265q10 -2 17 -9M1522 224q8 -1 15 -6M1521 238q8 -4 16 -2" stroke="#8c8c8c" stroke-width="2.1" stroke-linecap="round" fill="none"/>
<path d="M1549 191q1 -12 2 -24M1590 215q3 -7 1 -14M1572 223q3 -11 4 -22M1595 209q-2 -8 0 -16M1517 188q2 -10 1 -20M1506 254q6 -3 14 -3M1552 226q9 -3 15 -9M1536 220q10 -3 15 -12M1559 223q7 -2 12 -7M1589 249q6 -6 6 -14M1606 244q5 -8 6 -18M1583 246q8 -8 11 -19M1576 232q4 -8 7 -17M1606 246q2 -7 7 -12M1591 232q4 -10 7 -20M1589 208q1 -8 7 -14M1588 209q4 -5 4 -11M1558 252q10 -8 23 -8M1619 247q1 -5 1 -11M1616 213q-1 -6 2 -12M1618 248q-1 -9 3 -17" stroke="#c0413a" stroke-width="2.1" stroke-linecap="round" fill="none"/>
<path d="M1500 220q7 -2 13 -7M1490 231q10 -5 19 -11M1499 200q10 -6 21 -5M1502 218q6 -2 12 -6M1493 253q9 -3 18 -3M1492 250q10 1 19 -4M1514 228q8 0 14 -3M1491 252q10 -1 18 -4M1617 234q-7 -9 -8 -21M1617 248q-4 -14 -4 -28M1639 247q-5 -7 -4 -16M1657 226q-3 -8 -4 -17M1650 256q-0 -9 -6 -15M1638 220q-5 -12 -4 -25M1616 232q1 -8 0 -16M1544 260q7 -2 13 -7M1565 265q7 -3 15 -4M1550 260q10 -2 19 -7M1540 238q7 -4 15 -2M1518 230q9 -3 18 -6M1540 235q10 -3 20 -1M1549 237q4 -1 6 -4M1624 236q-3 -7 0 -13M1624 233q-1 -7 3 -13M1610 223q7 -9 8 -21" stroke="#e08f78" stroke-width="1.7" stroke-linecap="round" fill="none"/>
<path d="M1507 226q5 -6 12 -7M1477 220q5 -4 12 -5M1475 214q8 -4 16 -6M1512 196q7 -1 13 -3M1510 207q7 -4 16 -6M1566 215q3 1 6 -0M1570 210q4 -2 9 -1M1560 221q6 2 12 1M1625 260q-0 -8 -1 -16M1629 257q-2 -13 -4 -26M1647 260q-3 -9 -6 -18M1627 263q3 -12 -1 -23M1629 207q-1 -8 -4 -15M1565 262q12 -2 21 -11M1535 233q9 2 17 -2M1516 240q6 0 12 -3M1518 234q9 -0 18 -2M1590 278q1 -6 4 -11M1587 291q1 -7 3 -13M1592 277q-1 -5 2 -10M1583 279q-0 -6 2 -12M1585 273q2 -5 5 -11" stroke="#adadad" stroke-width="1.7" stroke-linecap="round" fill="none"/>
<path d="M1479 204q8 -4 16 -6M1496 228q6 -5 13 -8M1494 233q5 -5 12 -7M1507 248q9 0 16 -4M1502 235q7 -3 15 -2M1522 243q8 -3 17 0M1632 221q-4 -9 -3 -18M1625 263q1 -8 -1 -15M1639 265q-2 -8 -1 -16M1615 254q2 -11 -1 -21M1616 246q1 -11 1 -23M1633 266q-0 -7 -2 -14M1536 258q6 -6 15 -6M1553 249q8 -4 18 -5M1541 264q6 -6 14 -7M1536 243q7 -2 14 -7M1570 232q4 -3 8 -5M1611 247q3 -9 5 -17M1616 223q2 -6 4 -13" stroke="#c26650" stroke-width="1.7" stroke-linecap="round" fill="none"/>
<path d="M1507 230q6 -4 13 -8M1478 211q8 -2 16 -5M1475 213q5 -0 9 -4M1478 221q10 -1 20 -4M1511 245q10 3 21 -0M1507 235q13 1 25 -4M1478 231q8 1 16 -3M1509 245q11 2 23 -1M1472 239q6 -3 13 -3M1485 240q7 -0 14 -2M1651 232q0 -9 -6 -15M1634 232q-0 -12 -5 -23M1651 229q-3 -10 -2 -21M1648 210q-2 -10 -7 -20M1625 219q-2 -10 0 -19M1622 262q1 -10 -5 -17M1632 257q-1 -10 0 -21M1647 227q-3 -8 -1 -17M1544 261q8 -3 17 -5M1528 251q7 -4 16 -3M1554 269q9 -2 18 -6M1517 242q8 -3 16 -6M1516 243q7 -3 14 -5M1518 226q6 -6 14 -6M1555 235q6 -2 12 -5M1610 233q3 -10 7 -19M1619 241q5 -10 4 -22" stroke="#e6a08a" stroke-width="1.3" stroke-linecap="round" fill="none"/>
<path d="M1489 189q10 0 17 -6M1493 208q9 -3 17 -6M1511 226q11 -3 18 -11M1493 231q6 -5 14 -4M1474 237q7 -4 16 -6M1507 228q8 1 15 -4M1506 244q8 -2 16 -3M1518 241q10 -3 21 -5M1510 242q7 -3 15 -3M1627 264q-4 -10 -7 -20M1622 244q2 -15 1 -29M1653 252q-2 -11 -3 -21M1647 233q-4 -8 -5 -18M1638 254q-7 -12 -9 -27M1622 262q-7 -10 -7 -22M1649 236q1 -14 -6 -26M1647 210q-2 -8 -6 -16M1548 269q7 -7 16 -8M1562 259q9 -2 15 -8M1542 264q10 0 20 -5M1563 253q11 -1 20 -7M1530 247q9 -0 17 -5M1524 246q6 -0 11 -4M1518 243q7 -1 12 -6M1514 229q10 -2 18 -8M1617 244q1 -11 5 -21M1622 231q4 -7 5 -15M1620 235q4 -7 5 -15M1618 242q0 -7 3 -13" stroke="#cc6c55" stroke-width="1.3" stroke-linecap="round" fill="none"/>
<path d="M1475 211q9 -0 15 -5M1499 191q10 -5 21 -5M1493 227q7 -7 17 -8M1488 254q12 1 22 -5M1649 214q-0 -9 -1 -17M1653 252q-2 -7 -4 -15M1644 213q3 -9 -1 -18M1635 213q-1 -10 -7 -18M1523 258q7 -1 14 -5M1560 258q6 -5 14 -6M1520 243q6 -1 10 -4M1540 226q6 0 11 -4M1531 228q10 0 18 -5M1518 242q8 -3 16 -4M1563 232q4 -2 7 -5M1606 234q-1 -9 0 -18M1602 240q3 -4 3 -9M1610 245q1 -11 5 -21" stroke="#cc6c55" stroke-width="1.7" stroke-linecap="round" fill="none"/>
<path d="M1488 231q8 -4 17 -5M1509 200q6 -4 13 -6M1515 231q8 -1 15 -5M1519 232q9 2 19 0M1574 244q1 -8 6 -14M1600 238q5 -11 8 -22M1643 263q-0 -14 -8 -26M1621 259q-6 -8 -7 -18M1648 259q-0 -9 -3 -18M1634 216q1 -12 -2 -23M1639 221q-3 -8 -5 -15M1646 222q3 -14 -1 -27M1537 265q12 -4 24 -5M1578 253q6 -0 12 -2M1520 243q8 -2 17 -2M1523 230q7 -2 13 -4" stroke="#d67a62" stroke-width="1.3" stroke-linecap="round" fill="none"/>
<path d="M1483 219q12 -6 25 -6M1484 221q9 -1 15 -7M1497 205q8 1 14 -3M1475 210q6 -6 14 -8M1499 215q6 -1 12 -3M1479 250q11 -3 21 0M1574 227q3 1 6 -0M1622 233q-1 -8 -5 -15M1625 264q-4 -11 -2 -23M1639 255q-4 -13 -9 -26M1647 259q0 -7 -3 -14M1568 257q7 0 13 -4M1523 257q7 -2 14 -4M1521 228q9 -4 19 -3" stroke="#8c8c8c" stroke-width="1.7" stroke-linecap="round" fill="none"/>
<path d="M1482 218q6 -4 13 -5M1477 220q7 -4 15 -6M1475 212q10 1 18 -5M1475 210q8 -1 15 -6M1514 236q12 1 22 -6M1509 237q9 -3 17 -0M1491 229q8 -1 15 -5M1514 248q9 -2 19 -3M1573 243q5 -5 9 -11M1587 273q3 -12 11 -20M1584 266q6 -10 12 -20M1647 250q-2 -13 -9 -25M1642 263q-3 -7 -1 -15M1650 252q-0 -9 -2 -17M1555 267q10 1 20 -4M1562 247q6 -2 11 -5M1542 254q7 -1 13 -4M1533 240q6 -4 12 -6M1553 244q2 -3 6 -5M1611 220q3 -10 5 -20M1611 234q2 -5 1 -11M1606 217q-0 -8 -0 -16" stroke="#e08f78" stroke-width="1.3" stroke-linecap="round" fill="none"/>
<path d="M1498 226q6 -2 13 -4M1482 214q6 -5 14 -7M1521 249q7 2 14 -1M1519 233q7 1 15 -0M1636 222q-1 -11 -1 -22M1642 263q3 -9 -0 -18M1628 232q-6 -9 -7 -20M1629 245q-5 -9 -7 -19M1651 230q3 -12 -1 -24M1560 256q7 -4 15 -5M1525 254q8 -6 18 -8M1510 228q5 -2 11 -3M1515 242q8 -6 18 -6M1557 229q5 -2 9 -4M1609 220q1 -9 6 -17M1625 223q2 -7 4 -15M1604 233q6 -8 7 -17" stroke="#d67a62" stroke-width="2.1" stroke-linecap="round" fill="none"/>
<path d="M1508 195q8 -4 16 -5M1479 217q6 -5 13 -5M1507 237q13 -2 24 -8M1507 235q10 -1 20 -5M1490 242q9 -3 17 -7M1486 250q15 1 26 -7M1521 248q11 -0 19 -7M1623 227q-1 -8 -1 -16M1623 242q-4 -6 -5 -14M1626 253q-1 -9 -4 -17M1641 219q3 -8 -0 -16M1648 213q-5 -9 -4 -20M1633 238q-3 -10 -0 -20M1531 253q9 -4 18 -9M1553 251q7 -5 16 -6M1527 252q11 -3 20 -8M1565 250q5 -6 12 -7M1546 250q7 -6 17 -10M1528 221q8 -4 16 -1M1564 232q6 -2 11 -5M1620 244q-1 -12 6 -22M1611 229q1 -7 5 -13" stroke="#d67a62" stroke-width="1.7" stroke-linecap="round" fill="none"/>
<path d="M1486 219q8 -1 14 -4M1477 208q7 -3 15 -7M1477 219q9 -2 18 -5M1503 237q13 1 26 -3M1521 246q8 -2 16 1M1618 242q0 -10 -2 -19M1621 224q2 -12 -1 -23M1653 239q0 -9 -1 -18M1629 229q-5 -12 -9 -23M1637 216q-4 -11 -4 -23M1648 252q-4 -14 -2 -28M1626 210q2 -7 -0 -14M1566 255q12 0 21 -8M1527 256q9 -6 20 -9M1575 255q5 -5 12 -7M1545 268q10 -2 17 -10M1523 245q8 0 14 -4M1545 232q6 -4 13 -6M1531 246q8 -4 17 -7M1512 233q8 -2 15 -7M1563 229q4 -3 8 -6M1624 236q-1 -9 0 -19" stroke="#e08f78" stroke-width="2.1" stroke-linecap="round" fill="none"/>
<path d="M1506 213q8 -7 17 -10M1477 231q6 -4 14 -4M1506 253q8 -1 15 0M1479 241q8 -4 16 -5M1511 228q7 -0 12 -5M1474 242q7 -3 15 -4M1488 249q9 -2 18 -6M1511 251q8 -4 17 -4M1474 246q10 -6 21 -4M1635 223q-3 -14 -8 -28M1647 247q-2 -11 -3 -22M1639 228q-5 -9 -7 -19M1618 231q-6 -10 -3 -21M1646 247q0 -11 -1 -21M1647 206q-2 -7 -3 -14M1548 269q8 -2 15 -6M1547 265q7 -2 14 -3M1551 255q13 -0 23 -8M1534 265q7 -1 12 -6M1568 253q7 -5 15 -6M1550 240q6 -3 13 -5" stroke="#c26650" stroke-width="2.1" stroke-linecap="round" fill="none"/>
<path d="M1497 194q7 -4 16 -3M1480 197q7 -2 13 -3M1498 256q12 -3 23 -7M1494 242q10 -2 20 -6M1495 230q9 -3 19 -1M1641 207q-1 -9 0 -19M1620 241q-0 -12 0 -24M1616 254q2 -14 -2 -28M1617 235q-8 -12 -6 -27M1642 249q-2 -10 -6 -19M1542 259q8 -5 18 -9M1522 256q6 -2 13 -2M1546 268q6 -2 11 -4M1526 261q10 -6 22 -7M1518 244q7 -1 12 -5M1536 243q9 -2 18 -2M1613 225q1 -8 3 -15" stroke="#c26650" stroke-width="1.3" stroke-linecap="round" fill="none"/>
<path d="M1512 204q8 -2 16 -5M1585 251q6 -6 10 -12M1615 218q-2 -8 -2 -17M1629 214q2 -13 -1 -26M1640 212q-2 -13 -8 -25M1641 258q3 -14 -3 -27M1620 253q-2 -12 -3 -24M1627 227q1 -9 -2 -18M1613 231q-3 -11 -0 -22M1545 261q6 -4 13 -7M1526 255q10 -3 20 -8M1542 255q7 -4 15 -3M1534 224q7 1 13 -3M1554 235q7 -3 11 -9M1609 241q-3 -7 0 -14M1607 213q-1 -6 -0 -11" stroke="#e6a08a" stroke-width="1.7" stroke-linecap="round" fill="none"/>
<path d="M1511 251q7 -2 14 -5M1493 233q8 -6 18 -5M1573 256q5 -7 11 -13M1575 228q3 -9 10 -13M1625 263q0 -8 -3 -16M1622 212q-2 -8 -4 -17M1573 264q5 -5 12 -7M1538 264q7 -6 17 -6M1565 246q4 -6 11 -8M1551 233q5 -4 12 -4M1611 217q3 -8 2 -16M1615 216q0 -7 2 -15M1607 222q3 -7 1 -14" stroke="#e6a08a" stroke-width="2.1" stroke-linecap="round" fill="none"/>
<path d="M1482 249q9 -3 19 -0M1486 232q13 2 26 -3M1516 252q8 -1 15 -2M1493 247q8 -6 19 -5M1601 269q5 -8 7 -18M1585 247q5 -7 5 -15M1616 219q-2 -9 -2 -18M1645 227q-1 -9 0 -18M1654 235q4 -12 -0 -24M1642 243q2 -13 -2 -25M1625 231q-8 -11 -8 -26M1561 269q7 -2 12 -7M1542 248q8 -3 15 -8M1538 244q7 -2 14 -2M1527 233q7 1 15 -1M1533 224q5 -2 10 -5M1624 224q0 -6 -0 -12M1613 248q2 -7 4 -14M1603 242q4 -6 2 -13" stroke="#cc6c55" stroke-width="2.1" stroke-linecap="round" fill="none"/>
<ellipse cx="1763.0" cy="218.4" rx="91.0" ry="68.4" fill="#f2f2f2"/>
<ellipse cx="1744.8" cy="271.6" rx="54.6" ry="30.4" fill="#f2f2f2"/>
<ellipse cx="1808.5" cy="259.4" rx="40.0" ry="22.8" fill="#f2f2f2"/>
<ellipse cx="1717.5" cy="198.6" rx="14.6" ry="19.5" fill="#bf6f65" fill-opacity="0.5"/>
<ellipse cx="1748.4" cy="188.0" rx="13.1" ry="18.2" fill="#b06561" fill-opacity="0.5"/>
<ellipse cx="1781.2" cy="183.4" rx="14.6" ry="18.2" fill="#952125" fill-opacity="0.5"/>
<ellipse cx="1817.6" cy="200.2" rx="17.5" ry="19.5" fill="#a09694" fill-opacity="0.5"/>
<ellipse cx="1693.8" cy="226.0" rx="17.5" ry="18.2" fill="#c97467" fill-opacity="0.5"/>
<ellipse cx="1772.1" cy="218.4" rx="43.7" ry="7.3" fill="#aeaeae" fill-opacity="0.5"/>
<ellipse cx="1772.1" cy="238.2" rx="43.7" ry="12.2" fill="#b09f9b" fill-opacity="0.5"/>
<ellipse cx="1826.7" cy="235.1" rx="17.5" ry="9.7" fill="#b2887e" fill-opacity="0.5"/>
<ellipse cx="1748.4" cy="265.5" rx="8.7" ry="20.7" fill="#999999" fill-opacity="0.5"/>
<ellipse cx="1723.0" cy="247.3" rx="14.6" ry="8.5" fill="#b27a70" fill-opacity="0.5"/>
<path d="M1707 202q4 -8 6 -18M1752 190q-0 -6 -0 -12M1733 203q-1 -9 4 -16M1762 186q-0 -8 -1 -15M1793 204q1 -9 -1 -18M1775 191q-0 -10 -3 -19M1675 209q7 -2 14 0M1678 206q9 3 17 1M1682 246q11 -3 22 -5M1703 230q7 -2 14 -3M1694 227q7 -4 16 -6" stroke="#c9523f" stroke-width="1.7" stroke-linecap="round" fill="none"/>
<path d="M1733 209q0 -9 5 -17M1710 187q2 -7 4 -14M1712 186q0 -8 5 -15M1745 181q-2 -6 -1 -12M1795 192q5 -6 10 -12M1684 227q7 1 13 -1M1689 217q9 2 17 -2M1669 229q5 -3 10 -4M1689 233q11 -1 23 -2M1670 220q9 1 17 -3M1672 233q10 3 20 -2M1698 238q8 -5 18 -6M1696 209q8 -3 16 -1M1676 244q8 -4 16 -2M1724 246q13 0 25 -1M1782 249q11 -1 22 -7M1813 245q7 -1 14 -0M1702 249q8 -1 14 -6" stroke="#cc6c55" stroke-width="1.7" stroke-linecap="round" fill="none"/>
<path d="M1719 202q4 -11 11 -21M1717 183q3 -5 3 -11M1714 186q1 -7 7 -12M1725 202q-0 -9 5 -17M1731 203q5 -8 4 -17M1735 183q1 -7 -0 -14M1735 188q-2 -11 2 -20M1769 204q-2 -8 0 -16M1683 236q7 0 14 0M1691 216q7 -0 13 -3" stroke="#b3302f" stroke-width="1.7" stroke-linecap="round" fill="none"/>
<path d="M1712 187q5 -5 7 -13M1733 206q3 -8 3 -16M1698 206q3 -5 4 -11M1713 222q2 -11 10 -19M1730 205q5 -5 5 -11M1711 192q4 -7 3 -15M1823 227q4 -5 7 -12M1675 229q9 -1 18 -4M1680 208q11 1 20 -4M1817 238q7 -2 14 -2" stroke="#e08f78" stroke-width="1.7" stroke-linecap="round" fill="none"/>
<path d="M1697 198q7 -6 8 -15M1715 226q9 -9 12 -21M1717 189q3 -7 8 -13M1743 203q1 -7 3 -15M1770 175q-0 -7 1 -14M1698 242q8 -2 15 0M1703 220q8 1 15 -2M1690 211q6 -3 12 -1M1669 229q5 -3 11 -4" stroke="#a52a2a" stroke-width="2.1" stroke-linecap="round" fill="none"/>
<path d="M1706 191q7 -8 7 -19M1708 218q5 -11 11 -22M1719 196q5 -5 7 -12M1720 184q5 -5 5 -11M1807 192q2 -10 7 -19M1693 237q8 -1 15 -2M1683 229q11 3 22 -1M1704 220q7 1 14 0M1679 244q7 -3 14 -5M1694 210q8 0 14 -5M1754 243q12 -7 25 -8M1744 252q7 -1 14 -1M1802 236q6 -2 12 -2" stroke="#d67a62" stroke-width="1.7" stroke-linecap="round" fill="none"/>
<path d="M1708 193q2 -7 4 -14M1714 215q-1 -10 3 -18M1710 200q4 -6 6 -13M1740 182q1 -9 2 -18M1746 214q-1 -7 -1 -14M1810 214q6 -5 10 -13M1802 199q9 -9 14 -20M1811 208q4 -8 6 -17M1818 204q6 -8 12 -16M1819 211q2 -8 8 -13M1813 187q3 -6 8 -11M1795 207q5 -7 11 -14M1802 212q6 -5 8 -12M1671 215q7 -4 16 -4M1738 225q8 2 16 3M1795 216q9 2 18 -1M1767 243q11 -1 20 -7M1749 239q10 -5 20 -8M1740 233q7 0 15 -1M1715 235q9 -3 19 -3M1766 239q7 -1 14 -2M1797 235q12 -1 24 0M1773 230q8 0 16 -3M1727 242q12 -5 24 -8M1828 242q9 2 18 -1M1829 233q8 -6 19 -6M1808 241q9 -8 21 -8M1737 277q6 -7 6 -16M1749 285q3 -6 5 -13M1743 265q0 -7 3 -13M1740 288q-1 -7 3 -13M1736 266q3 -5 5 -11M1752 259q-1 -9 3 -18" stroke="#8c8c8c" stroke-width="2.1" stroke-linecap="round" fill="none"/>
<path d="M1724 211q5 -8 7 -18M1705 186q5 -7 9 -15M1717 198q2 -11 9 -20M1727 194q5 -6 5 -15M1737 203q2 -9 2 -19M1748 190q1 -10 6 -20M1796 200q4 -9 1 -18M1698 213q6 -4 13 -5M1675 225q9 -5 20 -5" stroke="#b3302f" stroke-width="2.1" stroke-linecap="round" fill="none"/>
<path d="M1704 189q2 -7 4 -13M1716 186q1 -8 3 -15M1757 200q1 -8 4 -15M1754 213q4 -12 -0 -24M1733 189q-0 -10 4 -18M1740 190q2 -9 -2 -17M1783 191q1 -7 2 -13M1785 185q-1 -8 1 -17M1694 230q6 -1 12 -3M1685 215q8 -2 16 -6M1695 221q11 1 21 -4M1692 235q8 -2 16 -1" stroke="#c0413a" stroke-width="1.3" stroke-linecap="round" fill="none"/>
<path d="M1708 215q5 -7 8 -15M1701 216q7 -7 8 -16M1698 204q7 -10 6 -22M1828 206q4 -10 13 -15M1749 217q9 -5 19 -3M1735 249q10 -3 20 0M1774 240q12 -1 24 1M1719 246q11 -2 22 -1M1809 232q9 -3 18 -1M1747 251q8 2 16 -0M1788 251q15 1 28 -6M1775 246q8 -1 14 -5M1798 241q11 -5 23 -0M1809 245q10 0 18 -6M1826 235q8 -1 16 0M1742 288q6 -7 5 -16M1752 275q4 -6 5 -12M1711 256q4 -0 8 -3M1728 245q6 -2 12 -2M1725 255q4 -2 9 -4M1710 252q7 0 13 -4" stroke="#9d9d9d" stroke-width="2.1" stroke-linecap="round" fill="none"/>
<path d="M1713 188q3 -8 3 -17M1755 204q1 -11 0 -22M1793 205q1 -8 7 -15M1794 210q4 -8 9 -14M1802 217q2 -6 5 -12M1816 211q6 -5 9 -12M1816 198q4 -7 8 -14M1802 204q7 -7 9 -17M1763 217q14 4 28 5M1787 216q14 6 28 1M1733 229q10 0 20 -3M1779 252q7 -1 15 -2M1785 243q15 1 28 -7M1720 233q7 -4 14 -6M1781 249q12 -4 24 -8M1812 225q9 -3 19 -2M1745 270q3 -7 6 -15M1748 274q8 -7 11 -17" stroke="#7a7a7a" stroke-width="1.3" stroke-linecap="round" fill="none"/>
<path d="M1723 196q6 -10 5 -22M1704 194q4 -7 7 -14M1671 235q5 -2 10 -2M1669 224q8 1 16 -1M1697 227q10 0 19 -1M1771 232q11 -0 21 -3M1749 226q13 -4 26 -4M1747 238q11 5 23 0M1770 243q8 -5 17 -7M1749 241q11 -6 23 -9M1824 238q7 1 14 -1M1831 246q9 -3 18 -5M1734 253q4 -2 9 -2" stroke="#c26650" stroke-width="1.7" stroke-linecap="round" fill="none"/>
<path d="M1731 207q1 -6 5 -12M1724 198q1 -10 3 -19M1742 189q2 -9 -2 -17M1747 206q2 -11 -1 -21M1745 205q-1 -8 2 -15M1804 198q7 -7 10 -16M1815 227q4 -5 8 -11M1827 191q1 -7 6 -12M1826 194q3 -8 9 -14M1685 228q9 0 18 -2M1755 211q12 -5 25 -1M1740 241q15 -1 29 -5M1783 231q12 3 23 -2M1813 242q10 -6 21 -5M1748 249q9 -3 18 -2M1809 244q8 -1 15 -2M1814 232q7 -1 14 -5M1751 265q3 -9 7 -18M1747 285q5 -6 6 -13M1740 253q3 -4 5 -9M1703 249q5 -2 10 -5" stroke="#6c6c6c" stroke-width="1.7" stroke-linecap="round" fill="none"/>
<path d="M1733 206q3 -9 3 -19M1721 190q2 -7 4 -14M1726 202q3 -6 5 -12M1704 210q-1 -7 2 -13M1744 206q2 -10 6 -19M1833 196q3 -6 4 -12M1810 202q6 -10 14 -18M1672 238q9 -1 17 -6M1701 231q9 -3 18 -3M1693 216q6 -3 12 -2M1685 241q7 -6 17 -6M1794 245q14 -1 29 -2M1764 233q12 0 23 -3M1726 238q12 4 24 1M1705 247q7 -0 12 -5" stroke="#e08f78" stroke-width="1.3" stroke-linecap="round" fill="none"/>
<path d="M1720 222q6 -9 5 -20M1702 194q1 -9 7 -15M1698 200q1 -9 8 -14M1707 187q5 -6 7 -13M1727 211q2 -11 10 -17M1680 208q6 -3 13 -4M1697 234q7 1 13 -1M1741 235q8 -3 16 -2M1714 240q9 -4 18 -1M1721 245q7 -3 14 -4M1794 231q10 -2 21 -3M1799 229q14 -5 28 1M1734 243q13 -3 25 0M1802 238q15 2 26 -7M1816 247q9 -4 19 -7M1823 241q7 -1 13 -5M1716 241q7 -3 14 -5M1715 244q6 -6 14 -8" stroke="#e6a08a" stroke-width="1.7" stroke-linecap="round" fill="none"/>
<path d="M1714 209q2 -12 7 -23M1723 208q3 -7 7 -14M1722 210q7 -9 6 -19M1750 185q3 -7 2 -15M1691 243q9 -2 17 -4M1676 245q7 -1 14 -0M1679 219q10 -0 20 -2M1681 247q8 0 15 -4M1802 247q11 1 21 1M1824 233q8 -3 17 -3M1712 244q5 -4 11 -4M1719 254q5 -2 10 -3" stroke="#d67a62" stroke-width="1.3" stroke-linecap="round" fill="none"/>
<path d="M1728 205q0 -10 7 -18M1701 199q7 -6 9 -15M1705 191q5 -9 6 -19M1757 207q4 -11 2 -22M1750 212q-2 -11 2 -22M1752 185q1 -8 3 -15M1810 217q6 -10 14 -18M1686 233q6 -2 12 -2M1694 234q6 2 12 -1M1675 238q9 -3 19 -2M1679 247q9 -2 18 -0M1682 246q7 2 14 -1M1804 232q5 -1 10 -4M1808 237q9 -3 19 -5M1818 248q6 -3 13 -4" stroke="#cc6c55" stroke-width="2.1" stroke-linecap="round" fill="none"/>
<path d="M1731 216q-0 -7 3 -12M1706 222q3 -10 6 -19M1705 221q1 -8 7 -15M1738 202q-3 -8 -0 -17M1744 190q1 -11 -1 -22M1808 196q3 -7 10 -12M1797 202q1 -7 7 -13M1687 228q6 -0 13 -0M1733 227q7 3 15 0M1789 238q8 0 15 -4M1809 229q7 -1 12 -5M1807 238q7 1 14 -1M1822 235q7 -1 15 -2M1819 246q7 -2 14 -5M1722 240q5 -2 9 -4" stroke="#d67a62" stroke-width="2.1" stroke-linecap="round" fill="none"/>
<path d="M1708 221q4 -10 6 -21M1739 207q2 -8 3 -16M1775 173q-0 -6 1 -13M1790 174q-1 -8 -3 -16M1779 209q-3 -8 -2 -16M1683 243q8 1 15 -4" stroke="#a52a2a" stroke-width="1.7" stroke-linecap="round" fill="none"/>
<path d="M1714 205q4 -8 3 -17M1718 217q6 -7 8 -16M1763 204q2 -7 0 -14M1738 210q-0 -7 2 -14M1683 214q9 -0 19 -1M1684 241q9 1 17 -5M1704 237q7 -0 13 -2M1679 235q6 -1 11 -3M1737 234q13 -6 26 -1M1721 248q11 -1 21 -3M1796 231q14 -1 29 -2M1767 241q12 5 25 0M1816 239q7 -5 16 -5" stroke="#e6a08a" stroke-width="2.1" stroke-linecap="round" fill="none"/>
<path d="M1718 196q-1 -11 5 -21M1733 202q-2 -8 1 -16M1737 202q-4 -8 -1 -17M1757 192q6 -10 5 -22M1811 227q8 -8 10 -18M1831 195q2 -7 5 -13M1829 198q6 -5 8 -13M1798 209q4 -6 6 -13M1821 219q8 -5 12 -14M1807 222q2 -9 9 -15M1828 209q6 -9 10 -19M1729 217q7 2 14 2M1720 218q9 -5 18 -3M1780 239q14 1 28 -3M1777 237q10 1 19 -3M1725 249q9 -7 21 -8M1815 231q8 -6 19 -4M1741 290q5 -9 4 -19M1743 267q3 -7 7 -13M1707 248q7 -2 14 -5" stroke="#8c8c8c" stroke-width="1.7" stroke-linecap="round" fill="none"/>
<path d="M1725 205q4 -5 6 -11M1723 217q1 -8 7 -14M1704 219q-2 -13 5 -23M1737 184q-3 -8 -1 -16M1741 202q-0 -9 4 -17M1801 218q5 -8 10 -14M1814 227q4 -7 6 -15M1813 218q2 -7 8 -11M1815 188q3 -8 8 -15M1818 190q7 -4 9 -12M1794 206q1 -8 7 -15M1802 204q3 -9 7 -17M1820 189q5 -7 8 -14M1683 222q9 0 15 -5M1729 218q14 -5 28 -4M1745 217q10 -6 22 -3M1750 242q8 1 15 -2M1741 229q14 -4 27 -8M1745 242q13 -5 27 -4M1723 236q11 1 21 -3M1789 226q9 1 18 -1M1803 230q9 -3 18 -1M1813 232q7 -0 15 -2M1805 229q5 -1 10 -0M1749 263q5 -9 6 -18M1705 245q8 -3 15 -7M1708 256q6 -3 13 -6" stroke="#adadad" stroke-width="2.1" stroke-linecap="round" fill="none"/>
<path d="M1713 221q4 -7 3 -15M1725 199q3 -5 6 -10M1723 190q3 -7 8 -14M1746 211q-4 -10 -2 -20M1831 210q5 -7 6 -16M1678 228q8 -3 17 -2M1685 218q6 -1 12 -2M1688 209q7 2 15 0M1716 238q10 -4 21 -6M1806 235q9 1 17 -3M1733 251q4 -3 8 -3" stroke="#c26650" stroke-width="1.3" stroke-linecap="round" fill="none"/>
<path d="M1731 200q4 -9 3 -18M1723 193q4 -7 7 -13M1733 203q4 -7 4 -15M1737 209q2 -10 2 -20M1747 213q3 -8 1 -16M1735 181q2 -7 4 -15M1777 169q3 -5 2 -11M1782 187q-2 -8 2 -15M1679 232q8 -2 16 -4" stroke="#b3302f" stroke-width="1.3" stroke-linecap="round" fill="none"/>
<path d="M1704 187q1 -6 2 -12M1762 198q-5 -11 -3 -22M1745 193q1 -10 3 -19M1753 203q1 -9 2 -18M1744 184q1 -6 1 -12M1753 183q1 -10 -1 -21M1700 213q7 -2 14 -3M1693 216q11 1 22 -4M1696 227q9 3 18 -2M1670 233q5 -3 11 -3" stroke="#c9523f" stroke-width="2.1" stroke-linecap="round" fill="none"/>
<path d="M1730 205q1 -8 5 -15M1717 208q5 -10 5 -21M1718 191q3 -8 7 -16M1711 203q2 -7 6 -13M1710 225q3 -5 5 -11M1751 191q2 -7 1 -14M1740 210q3 -8 -0 -16M1755 189q0 -12 1 -23M1784 179q2 -6 0 -13M1704 222q6 -5 13 -4" stroke="#c9523f" stroke-width="1.3" stroke-linecap="round" fill="none"/>
<path d="M1724 207q-2 -10 4 -20M1762 189q1 -7 -0 -15M1751 199q-1 -8 1 -16M1756 206q1 -9 4 -18M1805 197q3 -7 9 -11M1805 205q4 -10 12 -19M1793 199q5 -8 13 -14M1803 209q-1 -10 6 -17M1798 218q8 -8 8 -20M1802 199q2 -7 5 -14M1814 187q1 -7 5 -12M1806 208q6 -5 10 -12M1739 223q9 1 18 -0M1755 218q10 -2 19 3M1746 250q9 -2 17 -3M1761 228q12 -6 25 -2M1794 234q7 2 14 -0M1817 227q7 -0 14 -1M1744 293q3 -5 5 -10M1746 294q5 -6 6 -14" stroke="#6c6c6c" stroke-width="1.3" stroke-linecap="round" fill="none"/>
<path d="M1721 215q4 -9 7 -18M1813 191q4 -6 6 -13M1677 238q9 -4 18 -1M1670 217q9 -0 17 -2M1699 228q7 -0 13 -2M1696 245q9 -2 17 -6M1673 226q10 -3 20 -8M1681 208q7 -3 14 -2M1784 250q7 -4 15 -4M1795 250q10 1 19 -5M1718 242q9 -2 17 -3M1809 226q10 -4 21 0M1726 256q5 -1 8 -4" stroke="#e08f78" stroke-width="2.1" stroke-linecap="round" fill="none"/>
<path d="M1702 200q4 -5 5 -11M1711 211q1 -12 8 -21M1748 195q-1 -9 1 -17M1747 175q1 -6 -0 -12M1741 178q2 -7 -1 -13M1682 218q8 1 16 -1M1690 214q12 -4 24 -0M1701 214q7 -0 12 -4M1669 222q7 -0 14 -1M1680 234q10 2 20 -1M1692 243q8 2 16 -2M1806 240q11 -2 21 -8M1829 238q6 -1 11 -3M1823 238q6 -2 12 -1M1711 257q6 -3 12 -5" stroke="#cc6c55" stroke-width="1.3" stroke-linecap="round" fill="none"/>
<path d="M1719 191q4 -8 6 -17M1703 218q4 -5 4 -11M1741 206q-3 -10 -0 -21M1671 227q7 -2 14 0M1693 226q8 -3 17 -2" stroke="#c0413a" stroke-width="2.1" stroke-linecap="round" fill="none"/>
<path d="M1726 208q3 -6 4 -14M1736 208q-2 -8 -2 -17M1759 207q0 -12 -1 -25M1755 196q2 -11 1 -22M1751 189q-1 -7 -2 -15M1750 206q-2 -8 2 -15M1694 240q6 -2 13 -4M1687 206q7 -5 15 -4" stroke="#a52a2a" stroke-width="1.3" stroke-linecap="round" fill="none"/>
<path d="M1706 187q5 -7 6 -15M1742 196q2 -12 2 -24M1734 198q-2 -10 -2 -21M1754 213q0 -6 2 -13M1824 195q6 -4 9 -11M1827 199q3 -8 6 -16M1797 212q2 -10 9 -16M1803 223q2 -6 4 -12M1812 199q7 -7 12 -16M1698 209q6 -2 12 -0M1750 223q11 -0 22 -2M1763 225q12 -7 25 -5M1809 242q8 -4 18 -5M1731 235q12 -4 24 -7M1715 245q9 -4 18 -7M1803 240q6 -0 11 -4M1810 245q9 -1 16 -6M1804 241q6 -3 13 -3M1827 241q7 -0 13 -1M1747 276q1 -9 3 -18M1752 260q1 -5 4 -11M1707 249q6 -1 11 -6M1706 244q8 -1 16 -5M1726 256q3 -3 8 -4" stroke="#9d9d9d" stroke-width="1.7" stroke-linecap="round" fill="none"/>
<path d="M1715 195q5 -8 6 -17M1728 219q2 -7 6 -13M1715 202q3 -8 5 -16M1701 193q2 -8 3 -16M1819 186q2 -7 7 -12M1684 207q8 -5 16 -3M1687 223q7 -2 14 -4M1673 240q7 0 13 -4M1772 242q10 -3 21 -3M1806 232q8 1 13 -4M1733 239q10 -2 21 -4" stroke="#e6a08a" stroke-width="1.3" stroke-linecap="round" fill="none"/>
<path d="M1715 196q1 -10 6 -17M1715 203q4 -8 8 -16M1756 212q0 -6 -1 -11M1758 210q2 -7 1 -14M1752 204q-1 -7 -0 -15M1828 215q4 -11 9 -23M1806 220q6 -7 10 -16M1813 202q6 -10 9 -20M1808 226q7 -8 8 -18M1820 219q6 -7 11 -15M1778 221q8 1 16 1M1748 224q12 3 24 -0M1789 230q13 -3 27 -4M1775 229q15 -1 29 -5M1725 234q8 0 14 -3M1807 242q5 -2 10 -4M1822 240q8 -5 18 -4M1835 245q8 0 15 -4M1811 227q6 1 12 -2M1827 235q6 -3 13 -4M1747 255q2 -9 5 -17M1754 272q5 -7 6 -16M1737 274q1 -8 5 -15M1717 245q7 -0 14 -3M1724 246q7 -3 12 -7" stroke="#adadad" stroke-width="1.3" stroke-linecap="round" fill="none"/>
<path d="M1729 213q1 -7 7 -11M1740 208q2 -8 1 -16M1737 188q2 -7 2 -15M1829 225q6 -7 8 -17M1793 203q3 -9 10 -14M1804 221q1 -7 5 -12M1823 225q4 -6 7 -13M1817 189q1 -7 6 -12M1821 224q4 -9 12 -15M1800 223q12 -0 25 -1M1735 238q7 -3 15 -2M1751 240q7 -3 15 -0M1740 245q15 5 30 -2M1737 230q12 3 23 0M1733 252q7 -5 17 -6M1830 238q10 1 19 -3M1742 253q-1 -7 2 -13M1735 245q4 -0 7 -3" stroke="#8c8c8c" stroke-width="1.3" stroke-linecap="round" fill="none"/>
<path d="M1698 199q1 -8 6 -14M1726 224q2 -10 6 -19M1831 218q2 -8 7 -14M1817 237q6 -4 14 -5M1752 229q14 4 27 -1M1802 238q13 -4 26 -6M1815 240q10 0 19 -3M1744 290q3 -5 3 -10M1741 282q2 -7 5 -14M1712 257q4 -4 10 -4" stroke="#6c6c6c" stroke-width="2.1" stroke-linecap="round" fill="none"/>
<path d="M1749 179q2 -8 2 -15M1762 198q0 -11 0 -22M1785 180q-2 -11 3 -21M1677 230q9 -3 18 -0M1672 239q8 -6 18 -5M1705 237q6 -4 13 -4" stroke="#c0413a" stroke-width="1.7" stroke-linecap="round" fill="none"/>
<path d="M1740 193q3 -11 6 -21M1763 188q0 -7 -1 -15M1753 182q-1 -7 3 -14M1749 181q-1 -6 2 -12M1800 202q5 -9 13 -15M1796 213q3 -7 8 -11M1804 207q3 -9 10 -13M1798 211q10 -9 15 -21M1817 220q8 -5 10 -14M1817 220q4 -10 10 -19M1689 225q5 -3 12 -2M1803 221q10 4 22 3M1767 228q13 -1 25 -5M1787 250q10 -5 21 -6M1746 261q3 -8 7 -15M1738 280q1 -8 3 -15M1744 273q7 -8 9 -19M1717 254q5 -0 9 -4" stroke="#9d9d9d" stroke-width="1.3" stroke-linecap="round" fill="none"/>
<path d="M1751 195q-1 -7 1 -14M1748 206q4 -9 1 -18M1746 214q2 -6 2 -12M1813 191q2 -10 7 -18M1809 196q4 -11 13 -19M1800 212q4 -7 5 -16M1831 196q5 -6 6 -13M1822 197q6 -3 9 -10M1678 241q10 -4 20 -2M1689 241q7 -0 13 -3M1698 240q6 -0 11 -3M1700 233q7 -1 14 -4M1807 222q7 2 15 3M1750 213q13 -3 26 -2M1727 233q14 -4 27 1M1738 243q9 0 17 -5M1808 244q5 -1 11 -1M1810 233q6 -4 14 -3M1808 234q8 -0 15 -5M1811 227q6 0 11 -2M1802 237q8 -0 15 -5M1817 237q5 -2 11 -2M1812 246q9 -5 19 -4M1749 257q2 -6 2 -13M1749 290q2 -7 6 -14M1747 247q0 -6 4 -10M1731 250q6 -3 13 -4M1707 255q6 -2 11 -5" stroke="#7a7a7a" stroke-width="2.1" stroke-linecap="round" fill="none"/>
<path d="M1754 209q1 -7 3 -13M1751 197q2 -8 -0 -16M1833 195q2 -5 6 -9M1761 216q10 -3 21 -1M1726 221q10 6 22 4M1752 209q12 -0 23 3M1796 214q12 -1 23 3M1805 246q13 -2 26 -4M1753 255q14 -0 25 -10M1736 246q8 -3 15 -0M1803 232q7 1 14 -1M1743 267q1 -7 3 -13M1744 288q1 -7 6 -11M1744 255q2 -8 3 -17M1749 277q-2 -10 3 -18M1738 281q-1 -7 3 -14M1714 250q7 -4 14 -7M1721 241q6 -1 12 -2" stroke="#7a7a7a" stroke-width="1.7" stroke-linecap="round" fill="none"/>
<path d="M1744 213q-2 -7 -0 -13M1818 195q3 -7 5 -14M1819 220q3 -12 12 -22M1801 196q4 -9 9 -17M1766 214q13 0 25 3M1792 227q11 0 22 -1M1775 255q10 -3 19 -8M1783 243q9 -2 18 -6M1757 235q8 3 16 -0M1788 232q11 3 21 -1M1791 232q12 2 24 -2M1811 230q9 -5 19 -2M1807 238q9 -2 19 0M1819 238q7 1 14 -0M1808 229q5 -1 11 -2M1752 282q3 -5 5 -10M1754 280q0 -8 4 -16M1738 276q6 -9 10 -18M1740 250q4 -5 5 -12M1745 255q4 -5 5 -11M1740 285q5 -8 8 -16M1705 253q7 -4 16 -5" stroke="#adadad" stroke-width="1.7" stroke-linecap="round" fill="none"/>
<path d="M1774 184q2 -11 -1 -22M1772 199q1 -7 0 -14M1771 179q5 -9 3 -18M1771 187q2 -7 -2 -14M1768 190q1 -6 -2 -12M1713 252q6 -1 12 -4" stroke="#9a1e22" stroke-width="1.3" stroke-linecap="round" fill="none"/>
<path d="M1777 192q3 -10 2 -20M1791 180q-2 -8 1 -16M1783 209q4 -8 2 -17" stroke="#9a1e22" stroke-width="2.1" stroke-linecap="round" fill="none"/>
<path d="M1774 187q-5 -8 -3 -16M1770 205q1 -7 2 -14M1795 195q-1 -10 2 -19M1776 192q-2 -7 -3 -14M1776 198q2 -12 -2 -23" stroke="#7a1218" stroke-width="1.3" stroke-linecap="round" fill="none"/>
<path d="M1787 208q-2 -8 -2 -16M1772 196q-3 -11 -0 -22M1776 193q-2 -10 1 -20M1769 191q2 -6 -0 -13" stroke="#85161b" stroke-width="2.1" stroke-linecap="round" fill="none"/>
<path d="M1788 189q-1 -6 1 -12M1791 192q0 -8 2 -15M1772 197q-2 -7 1 -15M1769 204q-1 -10 3 -19M1790 205q4 -8 2 -18" stroke="#6e0f14" stroke-width="1.7" stroke-linecap="round" fill="none"/>
<path d="M1777 205q-1 -11 -2 -22M1794 195q1 -6 0 -13M1788 204q-2 -7 1 -14M1792 176q-1 -8 -3 -15M1705 244q6 -3 12 -5" stroke="#a8262a" stroke-width="2.1" stroke-linecap="round" fill="none"/>
<path d="M1792 195q3 -7 3 -15M1775 184q4 -10 2 -21M1787 208q5 -9 4 -20M1776 181q3 -10 4 -19M1785 202q2 -8 -0 -16M1782 204q2 -6 -0 -12M1787 175q-1 -7 -2 -15" stroke="#85161b" stroke-width="1.7" stroke-linecap="round" fill="none"/>
<path d="M1790 203q-6 -11 -5 -25M1776 209q-3 -5 -2 -11M1763 194q-1 -8 2 -16" stroke="#a8262a" stroke-width="1.3" stroke-linecap="round" fill="none"/>
<path d="M1775 186q-2 -8 1 -15M1785 195q-1 -12 -3 -24M1774 193q-1 -10 -0 -19M1789 177q0 -8 3 -16M1790 190q1 -7 2 -15M1789 198q2 -7 1 -15M1777 172q1 -7 -1 -14" stroke="#a8262a" stroke-width="1.7" stroke-linecap="round" fill="none"/>
<path d="M1769 187q-2 -11 -2 -23M1767 196q-0 -9 -2 -18M1799 196q-4 -9 -1 -19M1764 194q-0 -7 2 -14M1782 203q-1 -8 1 -16M1783 181q-0 -6 -2 -11M1717 255q9 -0 16 -6" stroke="#6e0f14" stroke-width="1.3" stroke-linecap="round" fill="none"/>
<path d="M1787 187q-3 -7 -3 -15M1787 189q-1 -6 -2 -12M1798 184q-1 -7 0 -15M1789 195q1 -10 -0 -21M1775 208q-0 -7 3 -12M1785 208q-3 -10 -1 -21M1724 259q4 -2 8 -4" stroke="#9a1e22" stroke-width="1.7" stroke-linecap="round" fill="none"/>
<path d="M1794 175q-3 -6 -1 -13M1790 174q1 -6 -2 -11M1777 189q-2 -8 -1 -17M1769 193q-2 -8 -1 -17" stroke="#7a1218" stroke-width="1.7" stroke-linecap="round" fill="none"/>
<path d="M1776 209q1 -5 -0 -10M1781 209q-0 -9 -2 -19M1787 208q-1 -6 -0 -12M1713 249q4 -0 8 -3M1713 246q5 -3 11 -3M1730 255q4 -3 9 -4" stroke="#6e0f14" stroke-width="2.1" stroke-linecap="round" fill="none"/>
<path d="M1780 196q1 -8 -3 -15M1777 199q2 -8 2 -16M1777 176q-1 -9 1 -19M1773 207q4 -10 1 -20" stroke="#7a1218" stroke-width="2.1" stroke-linecap="round" fill="none"/>
<path d="M1778 179q1 -9 -2 -17M1780 209q3 -7 1 -15M1789 189q3 -9 -1 -18M1766 183q1 -9 2 -18M1791 184q-3 -7 -1 -15M1781 202q1 -6 1 -13M1773 207q1 -7 2 -14" stroke="#85161b" stroke-width="1.3" stroke-linecap="round" fill="none"/>
<path d="M1802 222q5 -7 9 -15M1822 215q3 -7 6 -13M1808 200q5 -8 10 -15M1822 217q5 -7 10 -15M1814 218q3 -6 5 -13M1815 188q4 -7 7 -15M1778 220q14 3 28 -1M1772 216q10 0 19 -3M1807 216q10 2 20 -2M1744 212q10 -6 22 -4M1726 242q8 2 16 0M1720 241q7 -3 14 -5M1772 249q12 0 21 -7M1715 245q13 -2 27 -5M1799 245q13 -1 25 -3" stroke="#c6c6c6" stroke-width="2.1" stroke-linecap="round" fill="none"/>
<path d="M1825 217q11 -7 16 -19M1831 201q3 -9 7 -17M1826 196q3 -9 8 -16M1786 218q13 -5 27 -1M1737 223q9 -4 18 -1M1769 216q11 1 22 -0M1765 221q11 2 21 -1M1790 214q10 0 20 -4M1793 219q14 -3 28 2M1711 221q9 -0 17 -3M1784 217q14 -5 27 -1M1783 230q11 -4 22 -3M1757 248q13 2 27 -0M1795 227q9 -3 19 -2M1734 251q12 -3 24 -6" stroke="#aeaeae" stroke-width="2.1" stroke-linecap="round" fill="none"/>
<path d="M1818 202q5 -5 8 -11M1811 218q3 -7 9 -13M1803 221q13 -4 26 2M1772 228q14 -1 27 -4M1752 221q8 -3 16 -3M1775 213q14 1 27 -0M1763 219q9 2 18 -0M1778 232q13 -8 29 -6M1792 233q8 -1 15 -3M1723 249q10 0 18 -5M1775 232q9 -1 19 -2M1774 243q13 -5 27 -4M1804 236q10 2 20 -1M1792 229q8 -0 15 -3M1740 251q10 -6 22 -5M1744 248q1 -6 2 -11" stroke="#d0d0d0" stroke-width="1.7" stroke-linecap="round" fill="none"/>
<path d="M1803 190q6 -7 7 -16M1809 193q6 -6 10 -13M1794 208q2 -8 8 -15M1727 225q15 -3 30 -0M1748 218q13 -3 26 -3M1762 211q14 -2 28 3M1783 213q10 -2 19 2M1806 217q11 -0 21 1M1755 215q9 -3 18 1M1779 219q7 -2 15 -0M1710 220q14 2 27 -3M1713 240q9 3 19 0M1801 244q9 -0 17 -2M1716 237q12 -9 27 -10M1763 240q15 -3 29 -7M1743 231q12 -3 25 0M1757 253q9 3 17 -0M1752 271q2 -8 8 -15M1749 276q4 -9 9 -17" stroke="#c6c6c6" stroke-width="1.7" stroke-linecap="round" fill="none"/>
<path d="M1821 190q5 -5 9 -11M1826 196q1 -7 6 -13M1806 224q6 -5 7 -13M1827 225q3 -9 11 -15M1739 220q13 1 26 4M1745 214q10 1 20 2M1800 217q15 5 29 1M1737 219q13 -4 27 -4M1727 214q6 -4 14 -3M1719 219q10 1 21 1M1746 233q9 -0 17 -2M1809 242q13 -2 24 -8M1759 249q12 -6 24 -9M1754 232q7 1 15 -1M1739 250q8 -5 18 -7M1737 277q4 -6 3 -14M1745 266q1 -10 6 -18" stroke="#aeaeae" stroke-width="1.7" stroke-linecap="round" fill="none"/>
<path d="M1807 185q5 -4 8 -9M1801 217q15 -2 29 -0M1726 212q14 -3 27 2M1744 211q10 2 20 4M1760 222q7 -1 15 -1M1808 222q13 2 25 -4M1771 213q12 1 24 -1M1723 213q12 3 24 4M1770 224q8 2 15 1M1733 224q9 0 17 3M1772 245q15 -1 30 -1M1776 227q7 -3 14 -5M1740 228q14 -7 29 -3M1740 260q4 -7 8 -15M1752 284q-1 -10 5 -17M1749 267q1 -8 7 -15" stroke="#c6c6c6" stroke-width="1.3" stroke-linecap="round" fill="none"/>
<path d="M1821 227q2 -8 9 -13M1718 216q7 -1 15 -3M1781 210q15 -1 28 5M1802 215q12 -4 25 -2M1746 215q13 4 27 5M1777 220q14 2 28 -0M1718 218q14 3 28 5M1794 218q13 5 27 4M1801 247q8 -0 15 -3M1777 236q10 -2 20 -5M1798 243q11 -3 22 0M1718 233q9 -5 19 -4M1771 247q7 -0 14 -1M1795 231q8 -3 16 -4M1770 255q7 -5 16 -6M1800 238q13 -5 27 -8M1746 274q2 -9 8 -16M1753 286q3 -8 8 -14" stroke="#d0d0d0" stroke-width="1.3" stroke-linecap="round" fill="none"/>
<path d="M1813 190q5 -7 8 -15M1811 217q8 -5 11 -14M1812 222q11 1 22 -3M1750 213q9 3 19 4M1769 222q10 5 20 2M1801 223q9 0 17 -2M1728 222q13 4 27 4M1777 225q13 4 27 -0M1753 234q8 -0 15 -0M1796 236q9 0 17 -1M1752 245q10 -5 20 -7M1768 232q12 -7 25 -5M1724 237q8 -1 16 -1M1803 232q9 -1 16 -5M1786 242q10 2 18 -3M1751 290q5 -8 4 -17" stroke="#d0d0d0" stroke-width="2.1" stroke-linecap="round" fill="none"/>
<path d="M1819 219q4 -4 8 -9M1757 219q8 2 17 3M1770 215q10 -1 20 3M1736 227q8 -0 15 -2M1755 226q14 2 27 2M1732 225q11 -1 22 -1M1748 218q10 -4 20 -3M1784 227q14 -2 27 -5M1749 222q8 -3 17 -1M1763 234q15 1 27 -8M1728 240q15 -2 29 1M1772 238q12 2 23 0M1740 243q12 -2 24 -4M1747 280q3 -5 4 -12" stroke="#b8b8b8" stroke-width="1.3" stroke-linecap="round" fill="none"/>
<path d="M1810 217q5 -7 11 -13M1809 219q10 3 21 3M1770 226q14 -5 29 -1M1772 224q11 1 23 0M1762 212q11 2 21 -4M1774 218q9 -4 18 -1M1794 219q12 -2 25 -1M1774 223q12 4 25 5M1790 235q12 -1 22 -8M1710 236q15 -1 27 -10M1742 236q9 -3 18 -6M1727 245q8 0 14 -3M1757 249q12 -0 23 -6M1750 294q2 -6 5 -12M1755 259q1 -6 3 -12" stroke="#b8b8b8" stroke-width="2.1" stroke-linecap="round" fill="none"/>
<path d="M1808 226q2 -6 5 -11M1756 219q8 -5 18 -3M1736 210q11 5 23 4M1747 225q14 6 29 1M1714 216q12 6 26 3M1785 228q12 -6 25 -3M1773 228q7 1 14 -1M1759 213q8 4 17 3M1735 245q8 2 15 -0M1803 244q12 -9 28 -11M1750 250q13 -2 27 -3M1801 243q12 -9 28 -6M1807 245q11 -4 22 -5M1711 242q12 -0 24 -5M1782 249q8 -4 16 -4M1750 295q2 -6 3 -13M1750 255q3 -7 3 -14M1750 286q4 -5 4 -11" stroke="#aeaeae" stroke-width="1.3" stroke-linecap="round" fill="none"/>
<path d="M1683 212q6 -1 12 -3M1669 224q8 0 16 -2M1690 218q8 1 15 -2M1702 213q5 -2 11 -3M1682 206q9 -4 19 -1M1684 237q7 1 13 -0M1742 224q11 1 21 -1M1757 238q14 -1 24 -9M1809 234q8 -4 17 -5M1803 239q11 -3 21 0M1806 232q6 0 11 -2M1722 243q6 0 11 -4M1711 252q5 0 9 -2M1721 257q6 0 12 -4M1734 253q4 -2 8 -4M1722 243q7 -1 13 -4" stroke="#c26650" stroke-width="2.1" stroke-linecap="round" fill="none"/>
<path d="M1724 217q9 -3 18 -4M1774 224q14 -1 29 1M1752 213q7 2 15 2M1768 209q13 -1 26 2M1737 212q11 -1 21 2M1789 235q11 -1 20 -7M1805 244q12 -6 26 -9M1733 230q14 -5 28 -8M1771 229q13 3 26 -1M1737 277q3 -8 3 -16" stroke="#b8b8b8" stroke-width="1.7" stroke-linecap="round" fill="none"/>
<ellipse cx="1942.0" cy="214.0" rx="74.0" ry="94.0" fill="#f2f2f2"/>
<ellipse cx="1908.0" cy="223.4" rx="20.1" ry="49.6" fill="#a43031" fill-opacity="0.5"/>
<ellipse cx="1976.0" cy="223.4" rx="20.1" ry="49.6" fill="#a43031" fill-opacity="0.5"/>
<ellipse cx="1919.8" cy="148.2" rx="11.8" ry="15.0" fill="#ad948e" fill-opacity="0.5"/>
<ellipse cx="1964.2" cy="148.2" rx="11.8" ry="15.0" fill="#ad948e" fill-opacity="0.5"/>
<ellipse cx="1942.0" cy="204.6" rx="8.3" ry="30.1" fill="#aeaeae" fill-opacity="0.5"/>
<ellipse cx="1921.3" cy="270.4" rx="10.7" ry="22.6" fill="#b6887c" fill-opacity="0.5"/>
<ellipse cx="1962.7" cy="270.4" rx="10.7" ry="22.6" fill="#b6887c" fill-opacity="0.5"/>
<ellipse cx="1925.7" cy="191.4" rx="8.3" ry="18.0" fill="#952125" fill-opacity="0.5"/>
<ellipse cx="1958.3" cy="191.4" rx="8.3" ry="18.0" fill="#952125" fill-opacity="0.5"/>
<path d="M1917 277q-0 -13 -7 -25M1891 209q-2 -10 -2 -21M1918 278q-0 -10 -2 -19M1898 206q-4 -7 -4 -15M1899 263q-1 -9 -3 -19M1916 210q-3 -7 -1 -14M1924 267q2 -8 0 -17M1896 204q-4 -8 -3 -16M1913 239q-3 -10 -3 -21M1918 232q-1 -11 -1 -22M1975 219q3 -12 4 -25M1969 273q5 -10 5 -22M1985 205q-0 -11 -0 -21M1977 244q10 -13 8 -28M1994 234q-5 -12 -2 -25M1958 227q3 -12 0 -24M1990 233q-1 -11 -0 -22M1952 224q2 -10 4 -21M1925 195q1 -7 -1 -13M1930 183q-3 -8 0 -15M1927 196q-0 -6 2 -11M1949 191q2 -9 3 -18M1953 214q3 -5 2 -12M1952 190q1 -6 1 -12M1958 214q1 -10 -4 -19" stroke="#6e0f14" stroke-width="1.7" stroke-linecap="round" fill="none"/>
<path d="M1901 211q0 -12 -5 -24M1911 185q-2 -8 0 -15M1907 275q-4 -9 -2 -18M1906 257q5 -13 2 -28M1931 232q3 -14 -1 -28M1927 244q-3 -8 -4 -16M1918 217q-5 -9 -4 -19M1905 275q-5 -9 -4 -20M1930 237q-3 -10 0 -19M1908 243q3 -15 -1 -29M1916 204q2 -15 -5 -28M1920 250q-1 -8 -2 -16M1902 198q-4 -12 -7 -24M1910 292q2 -12 -4 -24M1910 258q-4 -10 -5 -22M1989 204q-1 -8 3 -15M1986 234q1 -12 4 -24M1965 221q1 -8 4 -16M1980 290q-2 -10 2 -19M1966 209q6 -11 5 -24M1996 207q-3 -8 -1 -16M1983 263q4 -12 2 -24M1970 228q1 -9 -1 -18M1960 280q5 -11 5 -23M1958 232q-2 -7 -1 -15M1982 251q-3 -12 -0 -25M1983 237q1 -9 -1 -18M1959 238q-2 -12 2 -23M1962 241q8 -12 7 -26M1956 213q4 -12 6 -24M1921 187q-3 -8 -2 -16M1931 215q0 -8 -1 -16M1921 188q-1 -6 -1 -13M1918 196q1 -6 2 -12M1966 205q2 -11 -2 -22M1957 216q-2 -8 -1 -16M1954 191q1 -9 -2 -17" stroke="#9a1e22" stroke-width="2.1" stroke-linecap="round" fill="none"/>
<path d="M1927 241q-4 -13 -3 -26M1912 284q-3 -7 -4 -15M1909 251q6 -14 3 -28M1953 243q1 -14 -3 -29M1923 164q2 -6 -1 -12M1909 149q-1 -6 -4 -11M1914 168q-2 -6 -1 -13M1971 168q2 -6 -0 -13M1953 146q0 -8 3 -15M1965 143q3 -5 3 -11M1916 301q-1 -7 0 -14M1909 270q0 -8 4 -15M1957 271q-4 -9 -2 -19M1969 271q2 -13 -4 -26M1964 265q-7 -9 -8 -21M1956 261q1 -7 -2 -14" stroke="#e6a08a" stroke-width="1.3" stroke-linecap="round" fill="none"/>
<path d="M1922 285q-6 -13 -3 -28M1929 199q-1 -11 -3 -21M1914 249q3 -15 -1 -30M1928 267q0 -12 1 -23M1907 212q1 -14 0 -27M1886 230q0 -14 3 -27M1900 282q-2 -9 -2 -17M1898 250q-4 -13 1 -25M1911 293q2 -14 -0 -28M1903 209q-3 -12 -3 -24M1916 287q-3 -11 -0 -22M1917 258q-1 -12 -3 -24M1904 183q0 -8 -3 -15M1897 247q-1 -8 -3 -16M1931 210q1 -8 -1 -15M1907 282q2 -15 1 -30M1989 264q2 -10 -2 -20M1981 268q1 -12 -1 -25M1988 246q-0 -7 2 -15M1967 253q-1 -10 4 -18M1971 182q-1 -9 4 -16M1997 258q4 -7 3 -14M1977 229q-0 -10 2 -20M1962 279q0 -7 -0 -15M1992 197q-1 -15 -3 -29M2001 225q0 -9 -1 -17M1973 258q5 -15 -0 -29M1962 286q1 -10 5 -20M1970 238q1 -9 3 -18" stroke="#a52a2a" stroke-width="1.7" stroke-linecap="round" fill="none"/>
<path d="M1926 199q-0 -9 -3 -18M1921 187q0 -15 -7 -28M1903 270q-3 -9 -2 -18M1902 259q-4 -15 2 -30M1915 217q3 -10 1 -20M1906 171q-0 -9 -3 -17M1898 204q-6 -11 -7 -24M1886 257q-5 -13 -1 -26M1981 238q1 -10 3 -20M1993 237q-0 -12 -1 -24M1965 270q7 -10 7 -23M1984 191q2 -8 4 -17M1966 283q5 -9 4 -20M1966 258q-4 -13 -1 -26M1979 215q6 -12 5 -26M1915 202q1 -7 1 -14M1924 208q-2 -5 -2 -11M1954 188q-1 -8 2 -15" stroke="#b3302f" stroke-width="2.1" stroke-linecap="round" fill="none"/>
<path d="M1921 195q-1 -14 2 -28M1892 239q4 -8 1 -16M1896 186q3 -13 -1 -26M1899 276q1 -7 1 -14M1905 188q3 -11 2 -22M1911 237q-2 -8 -1 -17M1913 232q-6 -10 -6 -21M1912 294q-1 -13 2 -26M1919 283q-2 -11 -1 -22M1921 196q1 -13 -4 -25M1904 262q-0 -12 3 -24M1921 278q-7 -13 -4 -28M1904 237q1 -9 -5 -17M1927 228q2 -9 0 -19M1888 264q2 -12 -2 -23M1984 210q-1 -13 7 -24M1992 227q-1 -8 3 -15M1961 258q-1 -9 0 -18M1977 182q2 -10 3 -20M1969 178q-5 -11 -1 -23M1988 219q-0 -13 -1 -26M1995 239q-1 -8 -0 -16M1982 254q-2 -15 6 -28M1966 196q-0 -8 1 -16M1954 203q-3 -7 -1 -14M1951 189q-1 -10 4 -20" stroke="#85161b" stroke-width="1.7" stroke-linecap="round" fill="none"/>
<path d="M1906 270q3 -8 -1 -16M1904 200q-4 -10 -2 -21M1926 207q-3 -7 -4 -15M1921 180q-0 -12 -3 -23M1913 245q-1 -14 -7 -26M1926 270q2 -13 -3 -26M1926 261q-1 -11 -1 -22M1903 194q3 -8 2 -17M1910 258q-1 -8 -3 -16M1919 230q-2 -8 -3 -16M1970 240q-1 -9 3 -18M1955 253q2 -8 -1 -16M1996 202q-0 -15 -3 -30M1970 273q2 -9 5 -17M1997 239q0 -14 -3 -28M1969 254q-3 -9 0 -18M1966 186q1 -14 3 -27M1953 232q-5 -14 -0 -28M1962 223q5 -14 5 -29" stroke="#c9523f" stroke-width="2.1" stroke-linecap="round" fill="none"/>
<path d="M1897 275q1 -14 2 -28M1925 252q0 -12 -3 -23M1893 195q-5 -11 -2 -23M1922 229q-0 -14 3 -29M1926 187q-2 -10 -4 -21M1893 209q4 -11 3 -22M1920 178q-2 -7 -2 -15M1911 263q1 -16 -7 -29M1931 218q3 -14 -2 -27M1906 179q-1 -12 2 -24M1971 196q5 -10 2 -22M1985 188q1 -8 -1 -15M1959 265q3 -14 9 -28M1971 215q2 -8 1 -15M1967 224q-1 -11 -3 -22M1988 202q3 -8 -0 -16M1972 216q3 -9 3 -18M1988 249q2 -12 -2 -22M1964 244q3 -9 1 -19M1931 214q-2 -8 2 -15M1923 184q-2 -8 -2 -16M1921 197q5 -7 3 -16M1917 188q-1 -6 -0 -12M1959 182q-0 -8 3 -15" stroke="#a8262a" stroke-width="1.3" stroke-linecap="round" fill="none"/>
<path d="M1924 278q-2 -15 3 -29M1897 267q-2 -11 -3 -22M1919 217q2 -7 1 -14M1904 209q1 -8 -1 -16M1919 258q-8 -13 -7 -27M1928 216q-3 -12 -1 -24M1969 198q3 -8 4 -17M1989 275q3 -12 2 -24M1962 198q-0 -11 4 -20M1965 237q-3 -13 3 -24M1965 193q0 -7 4 -14M1999 256q-2 -10 -1 -20M1976 262q1 -10 2 -20M1984 243q3 -13 5 -27M1982 233q-3 -8 -1 -16M1962 213q3 -11 1 -23M1979 193q0 -10 4 -20M1972 172q3 -9 2 -18M1979 209q6 -10 5 -22M1992 235q3 -10 3 -21M1990 254q-0 -8 1 -17M1974 233q4 -11 7 -23M1966 266q0 -9 -1 -18M1975 182q3 -12 1 -25M1917 189q4 -7 3 -16M1952 213q1 -7 -1 -13M1966 201q-2 -7 -1 -15" stroke="#c0413a" stroke-width="1.3" stroke-linecap="round" fill="none"/>
<path d="M1914 189q-3 -10 -6 -20M1888 252q2 -8 -2 -15M1927 274q-7 -10 -6 -22M1913 220q-2 -8 1 -16M1904 242q-1 -12 -3 -23M1899 221q-2 -9 1 -17M1929 214q-2 -9 -4 -19M1916 266q2 -11 -3 -21M1916 242q-4 -10 -1 -20M1987 197q-3 -8 -1 -15M1966 277q4 -13 -1 -27M1979 271q1 -10 3 -20M1975 173q-3 -10 -1 -20M1920 214q2 -8 -1 -16M1931 191q-1 -9 0 -18M1921 193q-1 -8 2 -14M1928 180q-1 -7 2 -13" stroke="#c9523f" stroke-width="1.3" stroke-linecap="round" fill="none"/>
<path d="M1886 224q-3 -14 -3 -28M1907 220q-1 -8 -0 -17M1929 261q2 -8 0 -15M1916 257q-6 -11 -3 -23M1918 189q3 -10 2 -20M1929 256q-0 -12 -0 -24M1975 230q1 -14 -2 -28M1993 241q1 -12 -2 -24M1957 275q-4 -15 1 -29M1995 245q0 -15 7 -27M1952 220q5 -12 5 -26M1989 232q-2 -10 0 -19M1976 186q-0 -11 5 -22M1992 232q3 -8 3 -16M1953 204q-2 -12 5 -23M1965 185q2 -7 -0 -15M1921 207q1 -10 2 -20M1951 184q1 -9 4 -17" stroke="#b3302f" stroke-width="1.3" stroke-linecap="round" fill="none"/>
<path d="M1902 251q3 -10 1 -21M1897 212q-2 -15 3 -29M1925 198q-3 -12 -0 -24M1926 267q-0 -15 -5 -28M1888 267q-3 -15 3 -29M1917 220q3 -13 -4 -25M1893 207q-4 -14 -7 -29M1911 253q6 -14 2 -29M1885 233q3 -10 -2 -20M1900 244q-2 -11 -2 -22M1922 266q3 -11 -1 -21M1889 202q-3 -13 -3 -26M1906 221q3 -14 -4 -26M1922 278q-3 -14 -7 -28M1893 211q3 -15 4 -30M1891 236q2 -9 1 -17M1885 227q3 -10 -2 -19M1967 285q-3 -9 0 -17M1964 254q4 -11 4 -22M1968 249q-2 -10 4 -19M1963 205q4 -14 6 -29M1998 231q0 -15 1 -30M1962 210q1 -13 6 -26M1966 217q8 -14 6 -29M1989 233q1 -13 -1 -25M1996 208q5 -14 2 -28M1955 200q-1 -11 3 -22M1963 191q-1 -14 6 -27M1953 223q-2 -10 1 -20M1997 235q-1 -11 6 -21M1985 243q-2 -13 -1 -27M1927 187q0 -8 0 -16M1951 206q-0 -9 -3 -18M1954 183q2 -7 2 -14" stroke="#b3302f" stroke-width="1.7" stroke-linecap="round" fill="none"/>
<path d="M1895 287q3 -11 3 -22M1910 274q-4 -12 -4 -25M1889 210q-2 -10 1 -19M1911 253q-2 -10 2 -20M1897 219q1 -7 1 -15M1888 238q3 -9 -1 -17M1907 286q-1 -10 -1 -21M1905 266q4 -15 3 -30M1894 225q3 -11 1 -22M1901 269q-2 -8 -2 -16M1977 223q2 -14 -2 -28M1979 212q-1 -13 5 -24M1995 234q-4 -10 -1 -20M1994 234q4 -13 -0 -26M1988 240q-1 -10 3 -19M1999 222q-0 -12 2 -23M1996 226q4 -11 1 -23M1961 205q-2 -9 2 -18M1966 249q2 -15 7 -29M1982 292q-0 -10 4 -18M1975 220q2 -10 -1 -19M1992 194q0 -9 -2 -18M1965 207q1 -9 -1 -17M1917 206q2 -9 1 -18M1955 193q0 -9 2 -17M1961 199q4 -11 1 -22" stroke="#c0413a" stroke-width="1.7" stroke-linecap="round" fill="none"/>
<path d="M1888 221q2 -10 -3 -19M1891 262q-1 -9 -2 -19M1913 236q4 -12 2 -25M1913 252q-0 -8 -0 -15M1902 183q-3 -13 -0 -27M1895 242q1 -11 -5 -20M1921 218q2 -9 2 -18M1920 217q-6 -10 -5 -21M1916 203q-5 -6 -4 -15M1896 217q-7 -11 -6 -23M1896 232q2 -13 -1 -27M1994 201q6 -12 2 -25M1954 257q7 -13 8 -28M1979 244q2 -11 3 -23M1978 202q1 -10 -1 -19M1961 196q-5 -12 -2 -25M1978 235q4 -13 3 -26M1926 187q-2 -11 -0 -21M1928 211q-0 -12 3 -23M1962 215q-2 -11 -0 -21M1965 212q2 -10 -4 -19" stroke="#6e0f14" stroke-width="2.1" stroke-linecap="round" fill="none"/>
<path d="M1927 256q-5 -14 0 -29M1904 241q2 -7 -0 -14M1917 291q-1 -13 -5 -25M1925 230q-4 -10 -2 -20M1927 233q-4 -11 -7 -23M1930 210q5 -10 2 -21M1899 213q-1 -11 -0 -22M1903 176q2 -8 0 -15M1901 240q-1 -14 -5 -27M1923 238q-1 -9 -1 -18M1911 287q-1 -15 -8 -28M1961 215q5 -10 4 -21M1991 219q-1 -11 -2 -22M1994 209q3 -10 5 -21M1981 266q0 -14 6 -28M1998 213q-3 -12 -1 -25M1979 272q3 -11 5 -21M1957 274q0 -15 4 -29M1981 178q1 -11 6 -20M1966 223q2 -12 5 -23M1930 194q0 -8 -1 -16M1950 210q-4 -8 -2 -17M1950 202q2 -7 2 -15M1955 216q4 -7 3 -16" stroke="#9a1e22" stroke-width="1.3" stroke-linecap="round" fill="none"/>
<path d="M1912 179q-6 -10 -5 -21M1901 226q-3 -12 -5 -25M1926 252q-1 -9 -5 -17M1911 269q-3 -7 -2 -15M1884 232q1 -11 2 -23M1897 238q-2 -9 1 -18M1911 266q-5 -12 -1 -25M1917 278q1 -8 -2 -16M1896 277q-1 -15 1 -29M1921 196q-4 -9 -3 -20M1891 250q1 -9 -2 -17M1956 274q7 -10 6 -22M1963 234q1 -9 1 -18M1960 264q-4 -13 -2 -26M1957 255q-3 -9 0 -18M1990 260q3 -8 3 -17M1957 261q-5 -11 -1 -23M1974 283q3 -7 1 -15M1974 194q-2 -9 1 -18M1970 237q-1 -12 3 -23M1973 235q0 -10 -0 -19M1981 182q3 -9 4 -18M1966 256q-1 -11 2 -22M1924 200q1 -11 1 -23M1933 189q-2 -8 -1 -16M1918 203q-4 -8 -1 -16M1965 195q-3 -8 -2 -16" stroke="#c0413a" stroke-width="2.1" stroke-linecap="round" fill="none"/>
<path d="M1906 244q-2 -9 -0 -18M1901 232q-4 -8 -4 -17M1895 233q5 -14 2 -29M1888 266q0 -8 -2 -17M1894 273q0 -14 -1 -27M1956 222q-1 -14 5 -26M1971 286q1 -11 3 -21M1953 255q-2 -12 1 -23M1997 249q3 -12 3 -25M1981 264q2 -8 2 -16M1959 264q0 -13 6 -26M1980 184q3 -13 5 -26M1974 244q-3 -13 -0 -27M1970 195q4 -12 6 -24M1923 194q-1 -9 -1 -18M1968 195q2 -9 -0 -18" stroke="#85161b" stroke-width="1.3" stroke-linecap="round" fill="none"/>
<path d="M1911 244q-4 -9 -3 -19M1888 213q-3 -11 -3 -23M1906 180q-3 -12 -5 -25M1899 288q2 -10 -2 -20M1927 193q3 -8 2 -15M1908 214q2 -11 -1 -23M1897 241q-5 -11 -3 -23M1889 224q-5 -10 -3 -20M1969 280q-0 -13 7 -24M1977 266q7 -10 7 -23M1990 189q0 -8 -2 -16M1977 207q3 -10 -0 -20M1975 280q1 -11 2 -21M1962 237q2 -10 -1 -20M1979 287q-2 -11 -0 -22M1963 269q-2 -12 4 -22M1983 188q-2 -10 2 -20M1974 292q2 -12 -1 -24M1928 203q1 -11 -3 -20M1931 200q3 -12 -3 -23M1953 199q-1 -7 -3 -14M1967 198q-4 -11 -1 -22" stroke="#85161b" stroke-width="2.1" stroke-linecap="round" fill="none"/>
<path d="M1922 181q-0 -8 2 -15M1928 251q-2 -15 2 -30M1916 183q-6 -9 -6 -20M1903 240q-2 -15 -5 -29M1983 200q-0 -11 6 -20M1959 264q1 -7 -1 -15M1987 248q4 -6 3 -14M1973 284q3 -11 -2 -21M1954 224q-1 -15 4 -29M1916 149q3 -7 0 -14M1965 166q0 -10 2 -20M1952 158q-2 -9 2 -18M1915 298q2 -9 0 -17M1924 274q1 -8 5 -16M1961 300q0 -10 -4 -18M1969 287q-4 -8 -2 -17" stroke="#cc6c55" stroke-width="1.7" stroke-linecap="round" fill="none"/>
<path d="M1923 226q1 -11 -4 -22M1898 239q-0 -7 0 -15M1921 243q3 -14 -2 -28M1902 227q4 -15 -1 -30M1955 218q1 -15 1 -29M1974 192q4 -12 4 -25M1912 162q-2 -6 -3 -12M1919 170q-2 -5 -3 -11M1958 164q2 -6 2 -12M1972 163q1 -5 3 -9M1920 267q-2 -8 0 -15M1923 269q3 -6 5 -13M1972 273q-1 -7 -4 -13M1965 286q-5 -9 -5 -20M1959 293q-5 -8 -4 -16M1960 280q0 -8 -5 -13M1957 264q-3 -10 -3 -20" stroke="#e6a08a" stroke-width="2.1" stroke-linecap="round" fill="none"/>
<path d="M1928 264q-3 -11 -2 -22M1903 280q4 -15 -1 -30M1888 238q-9 -12 -8 -27M1908 256q2 -14 3 -29M1899 189q5 -15 1 -30M1894 194q-3 -10 1 -21M1912 248q-3 -7 -4 -14M1914 281q-1 -12 2 -24M1900 248q-4 -13 -2 -26M1918 270q1 -11 -3 -22M1971 293q4 -9 5 -19M1976 191q-4 -13 -0 -26M1992 281q-6 -14 -2 -29M1986 274q-4 -15 1 -29M1991 256q4 -9 3 -18M1966 267q-3 -12 1 -24M1930 210q1 -12 -4 -22M1952 186q2 -8 3 -16M1959 177q-3 -6 -2 -12" stroke="#a52a2a" stroke-width="2.1" stroke-linecap="round" fill="none"/>
<path d="M1893 231q-7 -11 -6 -25M1898 192q4 -14 3 -29M1921 193q-1 -11 -4 -22M1890 213q2 -8 1 -17M1911 259q-3 -9 -3 -19M1904 265q2 -11 -1 -21M1923 214q-3 -12 -6 -24M1900 201q-2 -8 -4 -16M1929 243q-5 -10 -5 -21M1897 243q5 -10 1 -20M1917 198q-2 -10 -0 -19M1904 190q0 -15 -7 -28M1907 219q2 -13 3 -27M1976 249q0 -15 -2 -30M1968 178q0 -9 -1 -19M1993 245q-2 -9 3 -17M1997 262q-1 -8 1 -15M1973 206q-0 -12 6 -23M1981 185q-2 -14 4 -28M1967 269q2 -11 6 -22M1966 179q-3 -9 -1 -18M1956 209q2 -8 3 -15M1993 214q4 -13 5 -26M1971 290q1 -11 4 -22M1929 216q-1 -10 -4 -20M1919 189q2 -8 -2 -16M1964 181q2 -6 1 -11M1959 204q-3 -7 -1 -15M1949 208q3 -6 2 -12M1951 212q-2 -7 -1 -14" stroke="#7a1218" stroke-width="1.3" stroke-linecap="round" fill="none"/>
<path d="M1928 200q-2 -11 -1 -21M1908 240q-2 -8 0 -16M1910 260q1 -12 -5 -24M1915 224q1 -8 -0 -16M1891 222q-2 -10 2 -20M1923 283q-0 -14 -6 -26M1905 196q2 -14 -5 -27M1925 187q-2 -9 -1 -18M1986 280q-7 -14 -3 -29M1973 227q5 -15 -1 -30M1953 232q-1 -11 4 -20M1979 294q4 -12 3 -26M1999 249q3 -9 -0 -19M1959 249q-3 -10 1 -19M1973 243q-1 -8 3 -14M1982 282q-3 -8 -0 -16M1960 219q0 -12 2 -23M1981 284q-4 -13 1 -25M2000 241q-2 -10 1 -20M1959 268q-0 -7 1 -15M1995 245q-2 -8 1 -16M1987 243q0 -10 -2 -20M1962 212q-0 -7 1 -13M1956 194q2 -9 -1 -17" stroke="#a52a2a" stroke-width="1.3" stroke-linecap="round" fill="none"/>
<path d="M1934 241q-4 -9 -2 -19M1921 244q1 -15 -3 -29M1903 228q-2 -8 1 -15M1964 224q2 -11 4 -22M1971 279q5 -9 3 -18M1932 150q-1 -7 -3 -14M1959 159q1 -7 4 -14M1965 156q2 -5 3 -10M1949 148q1 -7 4 -14M1956 152q-1 -8 3 -15M1913 292q3 -7 5 -14M1911 294q-0 -8 1 -15M1914 298q-0 -7 2 -14M1914 275q-1 -14 2 -27M1925 263q-2 -11 1 -21M1964 302q-1 -7 -5 -14" stroke="#d67a62" stroke-width="1.7" stroke-linecap="round" fill="none"/>
<path d="M1907 193q2 -11 0 -22M1909 183q1 -9 -1 -18M1918 289q-1 -13 0 -26M1923 248q-3 -7 -3 -14M1921 196q4 -10 2 -21M1929 260q-5 -12 -2 -24M1889 234q1 -10 2 -20M1910 259q-6 -9 -5 -20M1992 228q-2 -14 -2 -28M1970 272q5 -10 3 -20M1985 277q2 -8 -0 -16M1992 228q0 -8 4 -16M1983 253q1 -8 4 -16M1978 245q-1 -8 4 -15M1971 176q0 -8 3 -16M1984 204q2 -7 -0 -15M1986 269q-4 -9 -1 -19M1988 261q6 -15 1 -30M1964 280q6 -10 5 -21M1921 190q3 -8 3 -17M1926 205q-2 -9 1 -18M1958 182q0 -8 3 -16M1958 183q2 -7 1 -13M1961 179q1 -6 1 -13M1949 203q1 -9 4 -18" stroke="#a8262a" stroke-width="1.7" stroke-linecap="round" fill="none"/>
<path d="M1910 195q0 -13 2 -25M1919 241q-6 -9 -4 -20M1921 227q3 -9 2 -19M1962 274q-4 -10 -1 -21M1912 166q-1 -7 -2 -15M1908 286q-0 -10 6 -17M1915 262q3 -10 5 -20M1915 274q2 -7 5 -14M1918 281q-3 -11 1 -21M1919 293q0 -10 5 -18M1954 281q-2 -10 -2 -21M1974 289q-2 -11 -8 -20M1978 276q-4 -9 -5 -20M1957 258q-3 -5 -5 -12" stroke="#c26650" stroke-width="1.3" stroke-linecap="round" fill="none"/>
<path d="M1899 218q-8 -11 -7 -24M1912 182q-2 -12 -7 -23M1924 259q-1 -10 1 -21M1917 181q-4 -7 -4 -15M1924 263q0 -14 -3 -27M1930 215q-3 -12 -5 -24M1906 175q0 -9 -3 -17M1916 176q-2 -11 -0 -21M1897 278q-3 -7 -3 -15M1914 248q-0 -8 -1 -16M1903 204q-1 -10 1 -20M1919 253q-3 -14 -1 -29M1971 190q3 -11 5 -21M1991 235q5 -10 4 -21M1991 261q-1 -14 -2 -29M1988 269q3 -13 2 -26M1972 251q-2 -13 2 -25M1994 260q4 -12 3 -25M1966 249q4 -7 2 -14M1981 293q-4 -13 -1 -26M1997 233q1 -7 3 -15M1977 225q3 -13 4 -27M1922 209q3 -11 -1 -22M1917 207q1 -6 1 -12M1921 214q-1 -9 1 -17M1961 196q4 -7 3 -16" stroke="#6e0f14" stroke-width="1.3" stroke-linecap="round" fill="none"/>
<path d="M1926 204q-1 -9 1 -19M1909 286q4 -11 0 -21M1911 218q1 -14 -2 -27M1918 241q0 -7 -1 -14M1906 278q2 -10 0 -21M1910 240q-3 -9 -3 -18M1886 235q-2 -8 -1 -16M1913 216q0 -9 0 -18M1989 188q0 -9 5 -17M1974 286q1 -8 2 -17M1964 235q-3 -10 -2 -21M1979 245q5 -10 5 -21M1980 188q6 -12 3 -24M1928 188q-1 -8 2 -16M1933 189q-4 -8 -3 -17" stroke="#c9523f" stroke-width="1.7" stroke-linecap="round" fill="none"/>
<path d="M1927 216q-6 -11 -7 -23M1904 181q-7 -11 -5 -24M1925 231q-6 -14 -4 -29M1903 202q1 -8 -4 -15M1906 225q-3 -8 -0 -17M1905 204q-4 -14 -2 -28M1920 272q-3 -8 0 -17M1916 223q-4 -15 3 -28M1900 270q0 -11 1 -23M1911 239q-2 -10 -5 -20M1925 233q1 -10 -5 -18M1909 237q3 -14 -3 -28M1963 208q-2 -13 3 -25M1969 190q5 -9 4 -19M1983 231q5 -7 4 -15M1989 264q5 -11 1 -22M1992 219q1 -7 0 -14M1973 264q3 -7 3 -15M1964 183q1 -12 -1 -23M1967 247q-1 -8 1 -17M1997 271q-4 -11 -3 -23M1969 241q1 -9 3 -18M1973 242q5 -7 4 -15M1978 188q2 -14 0 -28M1989 236q-1 -8 4 -14M1919 213q2 -8 3 -15M1924 217q0 -6 -1 -11M1949 202q1 -9 1 -17M1960 196q2 -9 -4 -17M1960 180q3 -6 2 -13" stroke="#7a1218" stroke-width="2.1" stroke-linecap="round" fill="none"/>
<path d="M1893 256q-1 -8 -4 -15M1905 229q-5 -11 -3 -23M1978 291q-3 -10 -2 -21M1978 277q-7 -14 -2 -29M1962 141q3 -7 1 -14M1916 280q-1 -8 2 -16M1952 284q-3 -11 -0 -22M1964 282q1 -7 -0 -14" stroke="#d67a62" stroke-width="2.1" stroke-linecap="round" fill="none"/>
<path d="M1905 196q-4 -9 -5 -18M1894 199q3 -7 1 -14M1915 246q1 -14 -2 -28M1913 281q-1 -11 -3 -22M1909 288q-2 -8 -2 -16M1900 265q2 -10 -1 -20M1924 277q-2 -12 -0 -24M1984 289q-3 -8 -2 -16M1926 292q1 -8 4 -15M1917 286q5 -8 6 -18M1931 272q-0 -8 2 -15M1907 267q1 -8 4 -14M1929 264q3 -7 4 -15M1956 262q-4 -6 -4 -14M1966 302q-4 -6 -4 -13M1965 299q-5 -11 -0 -22M1964 282q2 -11 -4 -20M1971 270q-6 -7 -5 -17" stroke="#cc6c55" stroke-width="1.3" stroke-linecap="round" fill="none"/>
<path d="M1891 252q3 -10 -2 -19M1924 216q-3 -7 -2 -15M1922 235q1 -12 -1 -24M1981 182q-1 -14 -2 -29M1930 140q1 -6 -2 -11M1921 153q1 -10 -4 -17M1964 165q2 -5 2 -10M1918 302q3 -7 3 -15M1911 264q-1 -8 1 -16M1922 285q2 -10 -0 -20M1961 251q2 -6 0 -13" stroke="#c26650" stroke-width="2.1" stroke-linecap="round" fill="none"/>
<path d="M1892 188q-3 -10 2 -20M1913 288q-2 -13 -1 -26M1908 222q4 -12 -1 -24M1915 199q-6 -10 -6 -22M1914 259q-4 -7 -4 -15M1904 247q3 -7 1 -15M1924 255q0 -9 -2 -18M1925 214q-1 -9 -3 -18M1894 221q-5 -10 -6 -21M1897 253q-2 -14 0 -28M1921 286q-7 -11 -7 -24M1972 250q-4 -10 -0 -20M1987 250q4 -8 1 -17M1995 210q2 -12 0 -24M1985 233q-3 -8 -2 -17M1971 293q3 -13 -3 -25M1974 252q-0 -14 -2 -27M1956 209q-0 -12 1 -25M1990 252q2 -8 0 -16M1977 215q3 -10 -2 -20M1950 220q3 -8 4 -17M1963 237q3 -14 -3 -28M1967 197q-1 -12 6 -22M1977 196q2 -8 4 -16M1954 237q0 -8 2 -16M1922 181q-1 -6 -2 -12M1956 194q1 -11 3 -22M1957 213q-1 -7 -3 -14M1957 190q2 -6 3 -13" stroke="#a8262a" stroke-width="2.1" stroke-linecap="round" fill="none"/>
<path d="M1928 200q-3 -14 -0 -29M1950 235q3 -12 5 -24M1912 150q-2 -7 -3 -15M1928 297q2 -8 4 -16M1927 300q5 -8 3 -18M1955 275q-1 -8 -5 -15M1969 255q0 -8 -5 -13M1960 290q1 -13 -2 -26M1963 283q-2 -11 -3 -23" stroke="#e08f78" stroke-width="2.1" stroke-linecap="round" fill="none"/>
<path d="M1896 257q-6 -11 -6 -23M1932 261q-3 -10 -5 -21M1912 247q-1 -11 -4 -22M1892 227q-6 -13 -2 -27M1894 273q-2 -11 -5 -21M1893 251q-6 -11 -5 -24M1903 261q-3 -14 -1 -28M1964 238q4 -7 4 -16M1990 246q-2 -14 -3 -28M1959 212q-3 -12 -2 -25M1987 287q-3 -14 3 -27M1999 221q4 -11 0 -23M1994 257q3 -7 3 -15M1956 230q4 -9 4 -19M1967 286q0 -9 1 -17M1988 244q3 -9 2 -18M1986 288q4 -10 4 -21M1959 217q1 -6 2 -13M1950 195q1 -8 -2 -14" stroke="#9a1e22" stroke-width="1.7" stroke-linecap="round" fill="none"/>
<path d="M1886 261q-3 -13 3 -25M1927 220q3 -12 2 -24M1900 283q1 -9 -2 -17M1923 212q1 -15 -6 -28M1902 203q2 -10 0 -20M1906 231q-6 -10 -6 -21M1898 190q1 -9 -4 -16M1908 211q1 -10 -5 -18M1912 209q-4 -10 0 -20M1902 281q3 -14 -4 -27M1924 246q-0 -12 -5 -23M1906 244q-3 -8 -1 -16M1983 188q8 -12 7 -27M1991 241q1 -10 1 -20M1985 264q-1 -7 2 -14M1973 294q4 -11 2 -23M1971 225q2 -8 4 -16M1978 261q-1 -13 4 -25M1996 261q2 -8 0 -15M1964 288q7 -12 4 -25M1964 227q-1 -9 2 -18M1977 227q4 -11 2 -23M1992 220q5 -14 8 -28M1962 285q5 -8 5 -18M1982 210q3 -12 -2 -23M1966 247q-3 -7 -0 -14M1926 217q-3 -8 -1 -16M1933 212q1 -6 0 -12M1929 200q-1 -6 -0 -13M1919 191q-1 -6 -2 -11M1931 212q-2 -11 3 -22M1933 211q-0 -8 -1 -16M1927 181q-0 -8 -1 -15M1925 217q2 -8 0 -17M1954 186q2 -9 0 -18M1959 184q-3 -9 -0 -18" stroke="#7a1218" stroke-width="1.7" stroke-linecap="round" fill="none"/>
<path d="M1916 198q-5 -13 -7 -28M1984 241q-1 -9 -2 -19M1964 191q-4 -14 1 -27M1982 284q-0 -9 1 -18M1953 250q1 -10 -1 -20M1917 168q-4 -7 -3 -15M1956 158q1 -8 3 -16M1918 278q0 -10 5 -19M1917 265q2 -9 3 -18M1918 280q0 -7 1 -14M1914 297q-1 -8 1 -16M1932 271q1 -7 1 -13M1911 294q2 -11 6 -21M1974 271q-0 -10 -6 -18M1974 273q1 -7 0 -14M1965 263q-0 -7 -4 -14M1958 297q-3 -9 -7 -18M1968 281q1 -11 -5 -20M1950 278q0 -8 -0 -16M1965 302q1 -8 -4 -14M1959 259q-4 -8 -3 -17" stroke="#e6a08a" stroke-width="1.7" stroke-linecap="round" fill="none"/>
<path d="M1920 249q-4 -11 -0 -22M1978 258q-1 -7 -2 -14M1995 222q6 -8 5 -18M1992 228q7 -10 5 -22M1993 189q-1 -7 -1 -15M1921 146q1 -8 -1 -17M1972 167q3 -7 2 -14M1924 266q2 -8 3 -15M1915 300q3 -9 0 -17M1957 280q-1 -12 -8 -23" stroke="#d67a62" stroke-width="1.3" stroke-linecap="round" fill="none"/>
<path d="M1920 207q2 -10 0 -21M1968 213q2 -11 5 -21M1908 145q-2 -4 -1 -9M1964 170q2 -5 1 -11M1977 162q2 -8 1 -17M1925 264q3 -7 1 -14M1920 263q3 -10 2 -20M1912 296q4 -12 2 -24M1925 255q-3 -8 1 -16M1958 301q-4 -9 -7 -18M1964 252q-4 -6 -4 -13" stroke="#c26650" stroke-width="1.7" stroke-linecap="round" fill="none"/>
<path d="M1988 230q-2 -9 2 -18M1968 161q-0 -9 6 -16M1964 271q-4 -9 -2 -20M1969 285q1 -8 -1 -16M1954 293q-2 -7 0 -13M1972 279q-1 -12 -3 -24M1957 273q-2 -7 -5 -14" stroke="#e08f78" stroke-width="1.7" stroke-linecap="round" fill="none"/>
<path d="M1973 238q-0 -7 3 -14M1981 200q-0 -9 -0 -19M1959 265q-2 -11 3 -21M1927 285q2 -8 0 -16M1909 277q5 -9 7 -19M1952 284q1 -7 -2 -14M1971 281q-2 -8 -6 -16" stroke="#e08f78" stroke-width="1.3" stroke-linecap="round" fill="none"/>
<path d="M1962 222q-2 -10 2 -20M1923 169q1 -9 -1 -17M1969 146q0 -8 6 -14M1920 274q5 -8 6 -17M1911 263q3 -7 4 -14M1967 266q-1 -13 -7 -25" stroke="#cc6c55" stroke-width="2.1" stroke-linecap="round" fill="none"/>
<path d="M1919 142q-3 -7 -2 -15M1918 149q-2 -8 -6 -15M1916 164q-2 -5 -1 -10M1957 147q0 -6 1 -12M1975 151q1 -6 3 -12M1962 150q2 -5 2 -10M1943 232q2 -7 1 -14M1927 285q4 -10 7 -20M1921 262q3 -7 1 -15M1913 261q1 -11 7 -21M1911 293q1 -11 8 -21M1969 291q-7 -9 -7 -20M1958 276q-1 -7 -3 -13M1967 262q-4 -7 -5 -15" stroke="#7a7a7a" stroke-width="1.3" stroke-linecap="round" fill="none"/>
<path d="M1908 149q-1 -5 -3 -9M1924 157q-3 -4 -4 -10M1930 164q-2 -7 -0 -14M1965 162q2 -6 1 -12M1944 183q-2 -10 1 -20M1921 295q1 -9 2 -19M1968 266q-3 -6 -5 -13M1971 297q-1 -6 -3 -11M1968 274q1 -9 -2 -18" stroke="#7a7a7a" stroke-width="1.7" stroke-linecap="round" fill="none"/>
<path d="M1923 137q-3 -5 -2 -10M1930 162q-0 -8 -1 -15M1926 161q-0 -8 -2 -15M1967 154q1 -7 3 -14M1960 162q3 -5 2 -11M1962 158q3 -9 3 -19M1971 153q2 -5 3 -10M1943 204q-3 -11 1 -22M1929 273q-0 -10 2 -20M1913 270q-1 -8 2 -16M1910 285q-3 -11 0 -22M1914 271q4 -14 5 -28M1910 260q5 -9 7 -19M1969 293q1 -7 -1 -15M1959 264q-0 -8 0 -16M1969 300q-4 -8 -5 -16" stroke="#adadad" stroke-width="1.3" stroke-linecap="round" fill="none"/>
<path d="M1927 162q1 -5 -2 -10M1971 143q0 -7 3 -12M1952 200q2 -9 -3 -17M1950 229q1 -10 -3 -20M1945 230q4 -14 -2 -27M1943 234q-6 -10 -4 -22M1931 275q-3 -12 3 -22M1978 278q-2 -7 -5 -13M1964 297q-2 -9 -4 -18M1970 294q-7 -12 -10 -25" stroke="#7a7a7a" stroke-width="2.1" stroke-linecap="round" fill="none"/>
<path d="M1927 152q-0 -7 -1 -13M1916 142q0 -6 -1 -11M1915 143q-2 -7 -5 -13M1907 159q-1 -9 -1 -18M1922 164q-2 -8 -0 -16M1917 161q1 -6 0 -12M1970 164q-1 -9 1 -18M1956 142q4 -7 4 -15M1955 139q1 -6 4 -12M1946 184q-0 -8 -3 -16M1938 224q2 -13 4 -26M1951 224q-2 -7 -1 -14M1927 260q1 -7 5 -13M1924 264q6 -10 5 -21M1911 295q-2 -12 4 -21M1912 267q2 -8 1 -15M1974 263q-1 -10 -4 -20M1966 254q0 -8 -5 -15M1971 281q-1 -11 -7 -21" stroke="#8c8c8c" stroke-width="1.3" stroke-linecap="round" fill="none"/>
<path d="M1919 143q-1 -8 -3 -15M1920 167q-0 -5 -1 -10M1921 280q0 -8 5 -14M1913 275q-1 -10 1 -20M1914 293q-1 -9 5 -16M1917 253q1 -8 5 -15" stroke="#6c6c6c" stroke-width="1.3" stroke-linecap="round" fill="none"/>
<path d="M1913 142q-0 -6 -0 -12M1923 139q-0 -5 -1 -10M1921 141q-0 -8 -3 -15M1978 152q-2 -6 0 -11M1953 165q2 -6 0 -12M1976 161q2 -7 4 -15M1966 169q2 -5 4 -11M1939 204q3 -10 1 -20M1937 244q3 -12 -3 -23M1945 242q-1 -8 1 -16M1965 287q-5 -7 -4 -15M1959 283q-5 -10 -7 -22M1965 258q2 -10 -3 -20" stroke="#9d9d9d" stroke-width="1.7" stroke-linecap="round" fill="none"/>
<path d="M1919 148q-1 -8 -3 -15M1974 147q2 -7 -0 -14M1937 237q2 -12 3 -24M1942 221q1 -13 3 -25M1942 233q-1 -12 1 -24" stroke="#b8b8b8" stroke-width="2.1" stroke-linecap="round" fill="none"/>
<path d="M1933 152q-2 -6 0 -12M1911 152q-3 -7 -2 -15M1924 151q-0 -6 -3 -11M1925 168q-1 -6 -3 -13M1975 162q2 -5 2 -10M1960 140q2 -7 4 -13M1943 247q2 -9 0 -18M1914 289q0 -10 3 -19M1907 264q1 -7 5 -14M1917 300q2 -8 3 -17M1910 269q3 -8 2 -17M1973 274q3 -11 -1 -21M1953 283q-4 -8 -6 -16M1963 276q-3 -8 0 -15" stroke="#6c6c6c" stroke-width="1.7" stroke-linecap="round" fill="none"/>
<path d="M1931 158q-1 -8 -2 -16M1922 149q-0 -10 -2 -19M1978 156q-0 -5 -0 -11M1940 219q1 -9 2 -17M1946 220q1 -12 -4 -23M1945 202q1 -8 2 -15M1951 204q-4 -14 -4 -28M1948 235q4 -12 2 -25" stroke="#d0d0d0" stroke-width="1.7" stroke-linecap="round" fill="none"/>
<path d="M1925 152q1 -6 -2 -12M1950 156q2 -8 0 -15M1955 163q0 -8 2 -15M1952 150q-1 -5 3 -10M1909 272q2 -11 0 -22M1930 282q-1 -11 4 -21M1964 277q-1 -10 -2 -19M1951 268q-3 -7 -0 -15M1971 275q-6 -10 -8 -22M1965 302q-6 -8 -6 -17" stroke="#6c6c6c" stroke-width="2.1" stroke-linecap="round" fill="none"/>
<path d="M1933 149q2 -6 -1 -13M1937 241q4 -9 4 -19M1947 212q6 -12 4 -25M1949 210q-0 -9 2 -18" stroke="#b8b8b8" stroke-width="1.3" stroke-linecap="round" fill="none"/>
<path d="M1920 157q-1 -8 -3 -16M1954 166q1 -5 0 -11M1936 237q-0 -10 3 -18M1952 214q0 -8 -0 -15M1949 229q1 -8 1 -17M1938 233q-2 -7 -2 -14M1940 232q-3 -13 -1 -25M1938 238q-2 -9 -2 -17M1947 186q-3 -9 -3 -19" stroke="#aeaeae" stroke-width="2.1" stroke-linecap="round" fill="none"/>
<path d="M1923 148q-3 -9 -1 -19M1930 157q-3 -6 -5 -12M1952 155q2 -5 1 -11M1949 189q-2 -9 -3 -19M1945 194q4 -7 2 -15M1938 222q-0 -11 -3 -23M1949 226q-2 -11 -2 -22M1942 239q-3 -14 -3 -29M1949 194q-6 -11 -4 -23M1933 225q0 -13 0 -26" stroke="#d0d0d0" stroke-width="2.1" stroke-linecap="round" fill="none"/>
<path d="M1923 160q3 -9 1 -18M1920 170q1 -8 -3 -14M1942 205q-3 -10 -3 -21M1933 231q0 -13 4 -25M1939 200q1 -10 2 -21M1941 200q0 -9 3 -18" stroke="#c6c6c6" stroke-width="1.3" stroke-linecap="round" fill="none"/>
<path d="M1930 152q1 -9 -3 -18M1974 159q-2 -8 -0 -16M1975 159q-2 -9 2 -17M1978 157q-2 -7 0 -14M1915 294q0 -10 6 -19M1967 260q-6 -10 -5 -22M1962 271q-0 -7 0 -14M1957 284q-0 -7 -5 -13" stroke="#8c8c8c" stroke-width="2.1" stroke-linecap="round" fill="none"/>
<path d="M1915 168q-3 -7 -1 -13M1915 143q-2 -6 -0 -12M1909 158q-3 -7 -4 -15M1931 208q-1 -13 4 -26M1943 225q-0 -7 -2 -14M1949 206q5 -9 3 -19M1948 214q3 -8 1 -16M1938 203q-0 -7 -1 -15M1941 247q0 -11 0 -22" stroke="#c6c6c6" stroke-width="1.7" stroke-linecap="round" fill="none"/>
<path d="M1910 161q-4 -6 -5 -14M1956 154q-0 -7 2 -14M1953 150q3 -8 0 -16M1960 152q4 -6 3 -13M1937 215q3 -11 3 -23M1942 224q-2 -7 -1 -14M1944 227q-1 -10 -2 -20M1923 259q3 -9 5 -18M1919 298q4 -9 1 -18M1911 283q4 -11 1 -22M1969 257q-5 -9 -4 -18M1972 269q-4 -9 -7 -18" stroke="#9d9d9d" stroke-width="1.3" stroke-linecap="round" fill="none"/>
<path d="M1927 162q-2 -5 -3 -10M1967 151q2 -10 -1 -19M1953 152q3 -6 1 -12M1935 219q-1 -12 -2 -24M1946 236q-1 -13 5 -24" stroke="#c6c6c6" stroke-width="2.1" stroke-linecap="round" fill="none"/>
<path d="M1929 162q-0 -7 -3 -13M1917 169q-2 -7 -2 -14M1963 143q1 -5 4 -10M1956 154q1 -8 0 -16M1974 142q3 -3 3 -8M1942 200q-2 -15 3 -29M1946 190q4 -11 2 -23M1918 276q-0 -11 -0 -22" stroke="#adadad" stroke-width="1.7" stroke-linecap="round" fill="none"/>
<path d="M1930 161q0 -6 -2 -11M1970 155q-0 -7 3 -14M1937 190q3 -9 4 -18M1937 225q1 -8 2 -15M1947 231q3 -11 -0 -23M1931 213q-0 -10 3 -21M1935 199q-0 -7 -1 -14" stroke="#b8b8b8" stroke-width="1.7" stroke-linecap="round" fill="none"/>
<path d="M1924 169q-1 -7 -3 -13M1949 203q2 -11 -4 -21M1946 245q-4 -12 -5 -24M1945 240q-0 -8 -1 -15" stroke="#d0d0d0" stroke-width="1.3" stroke-linecap="round" fill="none"/>
<path d="M1977 151q0 -5 2 -10M1940 210q0 -8 -3 -15M1937 231q2 -8 0 -15M1942 247q3 -13 0 -26M1948 219q0 -10 1 -20M1949 231q-5 -11 -2 -23M1940 241q-1 -11 3 -21" stroke="#aeaeae" stroke-width="1.7" stroke-linecap="round" fill="none"/>
<path d="M1967 137q-1 -5 1 -10M1964 170q-0 -8 3 -15M1949 235q-0 -11 2 -23M1947 206q1 -9 -2 -17M1919 276q2 -11 8 -20M1966 302q-4 -6 -4 -13" stroke="#adadad" stroke-width="2.1" stroke-linecap="round" fill="none"/>
<path d="M1961 142q-1 -6 2 -10M1939 214q-1 -8 -0 -15M1918 251q5 -5 5 -13M1920 300q-2 -8 0 -17M1921 279q1 -7 5 -14M1928 283q-2 -10 -1 -21M1969 300q-2 -10 -4 -21" stroke="#8c8c8c" stroke-width="1.7" stroke-linecap="round" fill="none"/>
<path d="M1933 225q2 -14 2 -28M1943 189q-1 -13 3 -25M1945 240q-1 -7 2 -14M1948 218q2 -11 -3 -20" stroke="#aeaeae" stroke-width="1.3" stroke-linecap="round" fill="none"/>
<path d="M1938 198q7 -14 4 -29M1944 227q2 -8 2 -17M1942 240q2 -10 0 -19M1944 207q3 -11 -2 -21M1942 221q-5 -12 -3 -26M1931 282q2 -8 3 -16" stroke="#9d9d9d" stroke-width="2.1" stroke-linecap="round" fill="none"/>
<ellipse cx="1381.0" cy="469.0" rx="78.0" ry="78.0" fill="#f2f2f2"/>
<ellipse cx="1381.0" cy="523.8" rx="65.5" ry="33.2" fill="#f2f2f2"/>
<ellipse cx="1331.1" cy="474.0" rx="17.5" ry="39.8" fill="#9c8e8e" fill-opacity="0.5"/>
<ellipse cx="1430.9" cy="474.0" rx="17.5" ry="39.8" fill="#9c8e8e" fill-opacity="0.5"/>
<ellipse cx="1354.5" cy="440.8" rx="13.7" ry="29.2" fill="#af7770" fill-opacity="0.5"/>
<ellipse cx="1407.5" cy="440.8" rx="13.7" ry="29.2" fill="#af7770" fill-opacity="0.5"/>
<ellipse cx="1381.0" cy="460.7" rx="7.5" ry="8.0" fill="#972226" fill-opacity="0.5"/>
<ellipse cx="1381.0" cy="474.0" rx="7.5" ry="8.0" fill="#b1b1b1" fill-opacity="0.5"/>
<ellipse cx="1357.6" cy="487.3" rx="11.2" ry="15.9" fill="#b66e64" fill-opacity="0.5"/>
<ellipse cx="1404.4" cy="487.3" rx="11.2" ry="15.9" fill="#b66e64" fill-opacity="0.5"/>
<ellipse cx="1371.6" cy="523.8" rx="6.2" ry="19.9" fill="#d07162" fill-opacity="0.5"/>
<ellipse cx="1390.4" cy="523.8" rx="6.2" ry="19.9" fill="#d07162" fill-opacity="0.5"/>
<ellipse cx="1349.8" cy="520.5" rx="7.5" ry="10.6" fill="#8a4447" fill-opacity="0.5"/>
<ellipse cx="1412.2" cy="520.5" rx="7.5" ry="10.6" fill="#8a4447" fill-opacity="0.5"/>
<path d="M1318 504q1 -9 6 -18M1333 463q-0 -8 3 -16M1327 445q2 -8 2 -16M1306 482q9 -10 8 -22M1312 484q1 -8 3 -16M1336 530q-1 -12 1 -23M1313 494q-0 -15 9 -26M1327 464q-3 -15 3 -29M1318 459q3 -14 3 -28M1324 456q2 -7 1 -15M1320 450q-3 -12 -0 -24M1343 498q-3 -13 2 -26M1341 521q0 -14 -1 -28M1351 502q4 -10 -0 -19M1346 499q7 -13 6 -29M1438 520q-6 -13 -2 -26M1417 452q-3 -7 -4 -15M1450 497q-4 -12 -5 -25M1439 518q1 -7 -0 -15M1418 489q-5 -12 -7 -24M1440 456q-2 -10 -2 -21M1433 434q1 -9 -4 -16M1422 507q-5 -13 -0 -26M1424 439q1 -8 -1 -16M1439 506q4 -11 1 -22M1358 477q-4 -14 -3 -29M1351 454q2 -8 -1 -16M1394 461q-1 -14 7 -27M1397 433q8 -11 7 -25" stroke="#9d9d9d" stroke-width="2.1" stroke-linecap="round" fill="none"/>
<path d="M1337 507q2 -8 2 -17M1341 461q1 -12 0 -24M1331 476q3 -8 4 -17M1435 525q1 -8 -1 -16M1443 464q-3 -12 -1 -25M1349 462q1 -9 -1 -18M1391 445q4 -11 5 -23M1422 443q0 -10 -1 -20M1372 459q5 -0 9 -0M1371 526q5 -7 4 -15M1390 522q-1 -7 -5 -12" stroke="#a52a2a" stroke-width="1.3" stroke-linecap="round" fill="none"/>
<path d="M1321 485q2 -12 7 -22M1329 516q2 -10 -1 -21M1314 497q4 -10 -0 -20M1330 491q-0 -13 2 -25M1329 522q4 -7 5 -16M1319 467q0 -13 4 -25M1335 467q1 -8 2 -16M1328 480q5 -8 6 -18M1331 454q-4 -14 0 -27M1328 515q4 -6 4 -14M1343 480q3 -9 -0 -17M1417 505q2 -12 -5 -22M1446 459q-1 -8 -1 -17M1423 478q-1 -10 -0 -20M1444 450q1 -10 -2 -21M1437 480q-4 -6 -3 -14M1451 498q-2 -11 -4 -22M1437 476q-1 -9 -6 -16M1416 464q-4 -12 -5 -24M1451 497q0 -14 0 -28M1433 525q-1 -14 -2 -29M1355 476q-3 -8 -3 -17M1420 457q-1 -11 -0 -22M1414 447q-1 -10 -1 -20M1342 494q4 -7 4 -15M1413 505q-4 -9 -5 -19M1409 509q-7 -7 -9 -16M1342 531q1 -4 1 -8M1349 529q2 -3 2 -7M1410 529q-0 -7 -4 -13" stroke="#7a7a7a" stroke-width="1.7" stroke-linecap="round" fill="none"/>
<path d="M1333 463q4 -9 5 -18M1313 458q5 -10 6 -22M1314 516q1 -10 6 -19M1338 458q0 -9 3 -17M1326 443q-1 -14 5 -26M1350 493q1 -12 5 -24M1335 476q-4 -13 1 -25M1323 473q3 -7 4 -15M1422 513q-7 -12 -4 -26M1444 493q-1 -8 -5 -16M1418 503q-4 -7 -2 -15M1432 474q-4 -12 -3 -25M1448 488q3 -15 -2 -30M1428 471q-2 -12 -1 -24M1433 519q-0 -13 -7 -24M1422 455q3 -14 -3 -27M1438 441q2 -13 -4 -24M1447 473q-6 -14 -1 -28M1432 512q-3 -11 -1 -22M1431 520q-5 -7 -4 -16M1447 493q-1 -13 -7 -25M1419 490q-2 -14 -8 -26M1437 525q-1 -7 -3 -14M1358 481q5 -13 -1 -26M1413 448q-2 -10 2 -19M1407 421q3 -8 2 -17M1380 464q4 2 8 1M1404 502q-4 -6 -4 -12M1406 477q-4 -5 -4 -12M1347 521q3 -5 3 -11M1419 529q0 -3 -0 -7M1418 531q0 -6 -3 -11" stroke="#6c6c6c" stroke-width="2.1" stroke-linecap="round" fill="none"/>
<path d="M1350 509q5 -14 1 -28M1321 522q-1 -10 2 -20M1325 443q2 -8 4 -16M1325 511q2 -14 10 -25M1448 491q-4 -12 -9 -23M1432 454q0 -11 -6 -21M1438 528q-4 -9 -3 -18M1425 528q-5 -13 -1 -27M1431 444q-7 -11 -8 -24M1418 508q-3 -9 -5 -19M1440 484q-3 -10 1 -20M1444 479q-4 -11 -9 -22M1434 504q-0 -7 -1 -15M1440 481q-4 -8 -5 -16M1431 467q-8 -12 -8 -27M1351 438q-6 -12 -5 -25M1346 475q-1 -9 -4 -18M1361 457q-2 -14 1 -27M1353 465q3 -13 3 -26M1352 421q3 -8 -1 -16M1347 423q2 -11 2 -22M1344 432q-6 -10 -3 -21M1407 451q-2 -9 -1 -19M1399 418q-1 -10 5 -18M1403 456q8 -11 6 -25M1385 477q3 -1 6 -1M1343 497q0 -9 4 -18M1403 492q-2 -7 -3 -14M1417 501q-3 -9 -9 -16M1353 519q2 -5 3 -11" stroke="#8c8c8c" stroke-width="1.3" stroke-linecap="round" fill="none"/>
<path d="M1322 443q1 -12 4 -24M1348 504q2 -11 1 -23M1326 483q-1 -12 0 -24M1338 488q0 -8 2 -16M1312 510q-0 -10 5 -19M1339 509q-4 -13 1 -25M1330 520q5 -8 6 -17M1344 455q4 -7 5 -14M1309 482q3 -12 9 -22M1327 506q1 -10 6 -19M1313 483q7 -9 8 -21M1347 482q-2 -8 1 -16M1338 499q0 -7 3 -14M1332 468q5 -10 6 -21M1327 522q6 -8 7 -19M1424 492q-8 -10 -8 -24M1431 467q-3 -10 -5 -20M1434 451q-0 -8 -2 -15M1416 457q1 -13 -2 -25M1431 440q-5 -10 -7 -21M1427 454q-2 -12 -2 -24M1425 453q-3 -10 -4 -20M1414 494q5 -15 -3 -30M1361 449q2 -8 2 -17M1343 465q-3 -11 -0 -22M1359 481q-1 -10 -1 -20M1351 434q-5 -9 -5 -20M1395 469q2 -12 -2 -23M1406 461q4 -11 7 -22M1406 447q-2 -11 0 -23M1416 458q-3 -11 1 -22M1360 477q1 -6 5 -10" stroke="#9d9d9d" stroke-width="1.3" stroke-linecap="round" fill="none"/>
<path d="M1317 486q9 -12 8 -27M1314 458q-1 -8 0 -16M1345 460q1 -9 3 -18M1324 491q1 -13 9 -23M1339 521q2 -9 3 -18M1347 465q6 -13 3 -27M1339 485q5 -14 5 -29M1342 499q-1 -9 2 -18M1453 473q-1 -10 -7 -18M1424 465q-1 -8 -2 -16M1448 484q-1 -13 -3 -27M1446 484q-3 -12 -4 -25M1441 458q-1 -9 -4 -17M1417 467q-0 -12 -3 -24M1423 468q-0 -13 -2 -27M1414 486q-1 -9 -0 -18M1434 453q3 -10 1 -21M1432 445q3 -14 -4 -26M1349 432q1 -13 -6 -24M1360 421q0 -10 1 -19M1342 432q0 -9 -0 -17M1347 429q-2 -7 -0 -14M1352 436q-2 -8 -3 -15M1366 438q-0 -10 -3 -20M1400 452q5 -8 5 -17M1400 419q-1 -8 -1 -17M1345 500q4 -9 3 -18M1350 497q4 -5 5 -11M1413 532q1 -7 -3 -14" stroke="#7a7a7a" stroke-width="1.3" stroke-linecap="round" fill="none"/>
<path d="M1349 490q1 -12 5 -23M1320 460q-0 -12 7 -22M1312 510q6 -12 7 -25M1340 504q-3 -12 -0 -25M1308 494q4 -11 5 -23M1319 467q0 -10 2 -19M1335 456q-1 -7 2 -14M1322 523q5 -8 6 -17M1335 530q5 -11 2 -22M1425 464q2 -14 -2 -28M1421 499q2 -12 1 -25M1418 459q-1 -9 -4 -17M1437 526q-2 -14 -9 -27M1436 506q-6 -10 -8 -20M1444 478q-3 -11 1 -22M1415 513q-3 -10 -1 -20M1420 474q-4 -8 -3 -17M1447 499q-7 -9 -6 -20M1415 489q3 -14 -4 -26M1343 461q-2 -10 2 -19M1399 463q3 -10 5 -20M1392 445q-5 -14 0 -28M1406 429q5 -9 2 -19M1410 457q-1 -12 2 -23M1420 448q-2 -11 2 -21M1390 454q2 -11 5 -22M1423 450q-0 -9 -1 -17M1398 456q3 -8 1 -16M1363 507q2 -10 10 -17M1403 485q-6 -6 -8 -14M1401 505q-3 -9 -5 -18" stroke="#adadad" stroke-width="2.1" stroke-linecap="round" fill="none"/>
<path d="M1324 520q2 -9 5 -17M1317 486q4 -15 1 -29M1348 465q-2 -9 -1 -18M1324 472q5 -11 6 -23M1329 510q1 -8 2 -15M1332 531q-2 -13 3 -25M1327 485q-1 -14 1 -27M1325 510q-2 -10 -1 -20M1446 467q1 -13 -5 -25M1423 505q0 -11 -1 -22M1415 482q-5 -11 -8 -24M1424 487q2 -10 -1 -20M1440 489q-2 -12 -4 -25M1441 518q-3 -7 -4 -15M1422 477q-1 -8 -6 -15M1439 520q-6 -14 -4 -29M1435 461q-5 -8 -4 -17M1414 497q-3 -15 -6 -29M1443 524q-1 -10 -5 -20M1348 414q1 -7 1 -13M1364 467q2 -8 1 -16M1363 424q-4 -9 -2 -20M1365 436q0 -13 2 -26M1371 445q-2 -11 -5 -23M1361 417q0 -8 -4 -16M1358 441q-5 -13 -6 -28M1391 462q-1 -12 2 -23M1407 418q-2 -7 -1 -14M1407 439q-1 -14 -3 -28M1416 428q-0 -11 1 -22M1380 465q4 2 9 2M1372 468q3 1 5 1M1349 505q2 -6 3 -11M1414 522q-2 -6 -4 -12M1404 523q1 -6 -1 -11M1420 522q-3 -5 -2 -11" stroke="#8c8c8c" stroke-width="2.1" stroke-linecap="round" fill="none"/>
<path d="M1313 479q2 -7 1 -14M1327 495q1 -9 6 -17M1337 453q-0 -9 5 -17M1341 474q1 -8 4 -16M1328 496q2 -15 0 -30M1326 452q5 -11 8 -22M1332 465q6 -8 7 -18M1330 531q4 -10 5 -20M1340 476q4 -13 7 -27M1314 474q5 -8 4 -18M1334 445q5 -11 5 -24M1315 476q2 -11 4 -21M1321 438q1 -8 4 -16M1340 444q3 -8 3 -17M1428 492q-6 -11 -4 -23M1431 525q3 -11 -1 -22M1426 486q-5 -13 -7 -27M1431 452q2 -10 -3 -18M1431 487q-4 -11 0 -23M1436 505q-3 -9 -2 -19M1434 450q-4 -12 -6 -24M1440 484q-7 -12 -10 -25M1423 455q1 -10 -2 -19M1348 466q-1 -7 -3 -14M1345 429q-2 -12 2 -23M1410 425q-1 -10 1 -20M1392 463q0 -11 3 -22M1420 443q-0 -7 0 -15M1406 442q-0 -8 4 -16M1403 425q-3 -9 0 -18M1414 445q1 -11 -1 -22M1407 432q-3 -8 -0 -15M1364 508q3 -8 3 -16M1358 486q1 -6 2 -12M1403 483q-4 -5 -5 -11M1416 519q0 -5 0 -9" stroke="#7a7a7a" stroke-width="2.1" stroke-linecap="round" fill="none"/>
<path d="M1333 467q1 -8 5 -15M1332 445q0 -8 5 -15M1329 464q-0 -9 2 -18M1344 522q3 -11 1 -21M1323 481q1 -12 8 -22M1321 441q1 -8 1 -16M1342 501q-2 -9 1 -17M1313 458q-0 -16 9 -29M1341 497q-0 -12 0 -24M1316 485q-2 -9 1 -17M1342 466q2 -8 -0 -17M1351 468q-3 -9 -0 -17M1333 531q1 -10 4 -19M1422 475q4 -13 0 -25M1432 520q-0 -10 -3 -20M1427 506q-4 -10 -5 -21M1416 510q1 -8 -1 -15M1437 445q-1 -12 -4 -24M1438 475q-8 -10 -8 -23M1438 516q-4 -12 -6 -25M1445 458q-2 -8 -5 -16M1442 446q-4 -8 -3 -18M1349 426q-1 -9 -5 -17M1348 451q2 -15 -5 -29M1365 456q-0 -8 1 -15M1340 523q1 -4 2 -8M1408 534q-2 -4 -3 -8" stroke="#6c6c6c" stroke-width="1.3" stroke-linecap="round" fill="none"/>
<path d="M1316 461q4 -9 5 -20M1340 488q5 -9 5 -18M1346 472q3 -12 0 -24M1331 484q3 -12 9 -23M1335 482q4 -12 9 -24M1318 520q-0 -14 4 -27M1315 503q-4 -14 0 -28M1432 480q-1 -9 -6 -17M1435 452q3 -14 -4 -27M1383 479q3 -1 5 1" stroke="#c6c6c6" stroke-width="2.1" stroke-linecap="round" fill="none"/>
<path d="M1312 487q-0 -11 1 -22M1332 461q7 -11 7 -24M1315 451q1 -13 9 -25M1346 471q-4 -13 2 -26M1335 487q3 -7 5 -15M1333 455q6 -8 6 -18M1338 481q4 -7 4 -15M1327 449q2 -14 10 -25M1324 451q2 -7 2 -15M1319 522q1 -14 8 -27M1322 485q-4 -13 1 -25M1431 494q-3 -8 0 -17M1447 517q-1 -11 -6 -20M1446 461q-0 -9 -4 -17M1435 463q1 -8 -2 -15M1436 517q-9 -12 -11 -27M1451 508q2 -13 -5 -25M1426 509q-4 -6 -4 -14M1439 518q2 -15 -7 -26M1425 528q-1 -10 -0 -20M1441 505q-2 -8 -4 -16M1423 502q-6 -14 -3 -29M1439 481q-2 -11 -6 -21M1435 508q1 -13 -2 -25M1439 504q-2 -7 -3 -15M1421 464q-1 -8 -5 -15M1452 504q0 -14 -1 -29M1348 443q-4 -14 -8 -28M1345 455q2 -11 -2 -22M1347 480q1 -10 2 -19M1363 439q1 -13 -2 -26M1396 474q1 -13 7 -24M1397 459q4 -14 5 -28M1404 431q4 -10 3 -22M1418 443q1 -9 -1 -19M1377 467q5 1 9 0M1351 501q4 -6 4 -14M1366 491q2 -6 3 -12M1411 490q-1 -7 -4 -13M1404 510q-3 -6 -4 -12M1401 502q-5 -6 -6 -14M1401 510q-2 -8 -8 -14M1411 479q-2 -8 -8 -13M1348 517q1 -6 2 -12" stroke="#adadad" stroke-width="1.7" stroke-linecap="round" fill="none"/>
<path d="M1342 509q1 -9 0 -18M1323 456q1 -9 4 -18M1349 503q3 -14 3 -28M1424 456q-7 -13 -4 -26M1436 505q-6 -13 -3 -27M1373 468q2 -1 5 -1" stroke="#b8b8b8" stroke-width="1.7" stroke-linecap="round" fill="none"/>
<path d="M1329 504q-1 -9 0 -17M1313 471q2 -7 5 -14M1332 468q-1 -13 6 -24M1336 475q-1 -10 4 -19M1311 476q-3 -13 3 -24M1306 469q4 -12 8 -23M1328 455q3 -8 2 -16M1346 505q4 -8 5 -18M1319 468q7 -13 7 -28M1433 502q-6 -10 -4 -21M1432 497q2 -11 -3 -22M1432 519q-1 -10 -6 -20M1454 482q-8 -12 -8 -26M1445 517q-5 -11 -4 -24M1440 479q1 -10 -2 -19M1426 504q1 -11 -1 -22M1436 461q2 -8 0 -16M1444 500q-2 -9 -4 -18M1345 477q4 -11 1 -23M1366 456q-5 -7 -4 -15M1363 441q-4 -7 -2 -14M1350 471q-5 -10 -5 -22M1347 450q3 -10 1 -20M1417 468q-2 -10 3 -20M1412 455q4 -12 7 -25M1416 451q2 -10 6 -20M1420 450q5 -13 4 -28M1419 451q-0 -11 5 -20M1381 468q4 0 7 -1M1370 475q4 -1 8 0M1351 479q4 -7 7 -14M1358 497q-1 -9 3 -18M1352 525q1 -6 3 -12M1417 529q-2 -7 -4 -13M1417 513q-1 -3 -0 -7" stroke="#8c8c8c" stroke-width="1.7" stroke-linecap="round" fill="none"/>
<path d="M1327 486q2 -12 0 -23M1347 496q3 -14 2 -28M1327 437q-3 -9 0 -19M1420 515q2 -15 -3 -29M1441 526q-4 -10 -4 -21M1439 507q-0 -13 -1 -27M1386 473q3 1 5 -0" stroke="#b8b8b8" stroke-width="1.3" stroke-linecap="round" fill="none"/>
<path d="M1319 465q0 -11 7 -19M1332 442q1 -8 2 -16M1311 483q2 -9 2 -19M1330 493q2 -7 4 -14M1349 462q-0 -12 1 -24M1339 519q4 -14 4 -29M1331 515q-1 -7 0 -14M1323 509q-2 -11 1 -21M1339 510q4 -7 5 -14M1318 493q5 -14 5 -29M1340 524q-1 -14 3 -28M1342 495q4 -12 8 -23M1348 506q-0 -11 4 -20M1430 527q-3 -7 -4 -14M1445 507q-0 -14 -2 -29M1446 464q2 -8 0 -16M1353 467q-3 -10 -2 -21M1357 450q0 -11 -0 -23M1364 475q-3 -10 2 -20M1347 447q-1 -10 -5 -20M1347 472q-5 -10 -3 -20M1406 424q1 -10 5 -19M1398 477q-2 -11 1 -22M1401 436q2 -15 8 -28M1395 431q4 -9 4 -18M1402 480q3 -9 5 -19M1413 443q1 -15 5 -29M1367 493q1 -7 6 -12M1360 506q2 -6 3 -12M1359 482q3 -4 3 -9M1350 525q0 -4 0 -9M1413 515q-0 -5 -0 -10M1408 519q-1 -4 0 -8" stroke="#9d9d9d" stroke-width="1.7" stroke-linecap="round" fill="none"/>
<path d="M1326 479q9 -11 9 -25M1310 491q3 -10 -0 -20M1319 460q-2 -8 2 -16M1348 502q2 -8 -0 -15M1432 463q0 -14 -0 -28M1346 463q-2 -9 -0 -17M1372 444q-6 -13 -6 -27M1399 524q-3 -5 -5 -11" stroke="#a52a2a" stroke-width="2.1" stroke-linecap="round" fill="none"/>
<path d="M1328 474q2 -15 5 -29M1328 522q4 -12 2 -23M1342 504q2 -12 5 -24M1335 501q-0 -11 4 -21M1346 483q-3 -8 -0 -16M1446 473q0 -11 0 -22M1420 510q-4 -7 -4 -16M1436 519q-9 -11 -9 -26M1418 486q-6 -10 -5 -21M1442 483q-4 -10 -2 -20M1412 479q-5 -12 -4 -25M1422 504q-6 -12 -5 -26M1428 530q-4 -9 -3 -19M1424 466q-1 -11 -6 -20M1375 473q4 1 9 0M1374 479q4 -2 8 -1M1372 479q5 0 10 1M1373 470q3 0 6 -0" stroke="#aeaeae" stroke-width="1.3" stroke-linecap="round" fill="none"/>
<path d="M1322 476q3 -6 5 -13M1322 524q-0 -10 -0 -21M1335 485q3 -10 3 -21M1444 487q-2 -7 -4 -14M1371 477q4 0 9 1M1376 467q4 -0 8 -1" stroke="#d0d0d0" stroke-width="2.1" stroke-linecap="round" fill="none"/>
<path d="M1314 496q4 -10 3 -20M1345 473q3 -12 3 -24M1321 501q3 -8 4 -17M1330 514q-2 -8 1 -16M1333 442q4 -11 4 -23M1320 517q-1 -8 0 -16M1342 490q1 -9 5 -18M1329 490q-1 -12 0 -24M1330 486q5 -6 5 -14M1337 444q4 -10 6 -20M1441 495q1 -9 -0 -18M1419 483q3 -10 -1 -19M1412 486q-5 -9 -5 -20M1426 494q4 -13 -1 -26M1447 476q2 -7 -0 -14M1433 496q-8 -11 -8 -25M1419 472q-5 -8 -6 -18M1453 474q-5 -10 -7 -20M1440 482q-5 -9 -4 -20M1432 482q0 -14 1 -27M1436 524q1 -9 -2 -18M1363 479q1 -8 1 -17M1358 428q-3 -13 -1 -26M1341 457q-5 -7 -4 -15M1361 434q-6 -10 -4 -21M1355 459q4 -11 1 -22M1395 446q3 -11 -1 -23M1380 474q4 -1 9 -2M1405 479q-1 -6 -3 -12M1417 501q-2 -5 -3 -9M1402 510q-1 -6 -2 -12" stroke="#adadad" stroke-width="1.3" stroke-linecap="round" fill="none"/>
<path d="M1336 482q-2 -8 0 -15M1339 502q2 -11 6 -22M1440 510q1 -8 -2 -15M1447 505q1 -9 0 -18M1445 450q-0 -14 -7 -25M1439 496q-6 -9 -5 -20M1377 483q4 -1 9 -2" stroke="#d0d0d0" stroke-width="1.3" stroke-linecap="round" fill="none"/>
<path d="M1343 515q1 -15 11 -27M1334 514q3 -12 5 -25M1342 453q-0 -8 1 -16M1324 475q-0 -9 5 -17M1333 514q0 -11 7 -20M1330 515q-3 -11 1 -21M1338 473q-1 -8 -0 -15M1319 445q7 -12 5 -25M1431 494q-7 -12 -7 -26M1437 529q-3 -9 -6 -18M1444 515q-3 -15 -1 -30M1413 500q1 -13 -2 -27M1432 464q-5 -13 1 -26M1376 480q3 0 5 -1M1382 467q4 1 7 -0" stroke="#c6c6c6" stroke-width="1.7" stroke-linecap="round" fill="none"/>
<path d="M1328 507q0 -9 5 -16M1343 457q3 -13 3 -26M1328 451q4 -10 3 -20M1325 449q3 -12 6 -25M1325 462q-4 -10 -0 -20M1331 464q5 -11 5 -23M1442 446q-1 -9 -6 -18M1429 512q-6 -9 -5 -19M1439 528q-6 -10 -9 -22M1437 444q-3 -11 -7 -20M1451 507q-5 -9 -5 -20M1415 491q-3 -10 -2 -20M1434 436q-1 -10 -7 -18M1448 450q-6 -11 -5 -23M1435 466q1 -15 -1 -29M1353 473q-2 -8 -4 -16M1353 438q3 -12 2 -24M1362 441q-1 -12 -5 -25M1359 421q1 -10 -5 -19M1351 460q-1 -11 -1 -22M1417 462q5 -10 3 -22M1410 470q-2 -8 -2 -17M1415 526q-1 -7 -5 -12M1415 528q-0 -5 -3 -9" stroke="#6c6c6c" stroke-width="1.7" stroke-linecap="round" fill="none"/>
<path d="M1332 437q-2 -10 2 -19M1332 445q1 -10 2 -20M1318 466q1 -10 1 -21M1345 506q3 -7 3 -15M1313 469q-1 -9 2 -17M1348 481q-1 -11 1 -22M1445 476q3 -11 -0 -22M1448 465q1 -8 -0 -16M1445 512q-5 -6 -5 -14M1433 529q-6 -10 -4 -21M1442 525q-1 -10 -3 -20M1385 474q3 -1 6 -1" stroke="#d0d0d0" stroke-width="1.7" stroke-linecap="round" fill="none"/>
<path d="M1319 516q1 -7 2 -14M1311 501q5 -9 4 -19M1428 449q3 -15 -3 -28M1439 518q0 -14 -3 -28M1340 454q1 -10 -1 -21M1350 434q2 -8 -1 -16M1354 428q2 -8 1 -15M1407 458q0 -9 1 -18M1406 482q1 -9 -2 -17M1375 456q4 -0 8 0M1374 535q0 -7 3 -14M1366 530q0 -6 4 -11" stroke="#b3302f" stroke-width="1.7" stroke-linecap="round" fill="none"/>
<path d="M1310 481q7 -8 7 -19M1326 458q1 -9 2 -18M1432 522q0 -9 0 -17M1434 448q3 -10 -1 -19M1410 449q6 -12 7 -26M1417 452q-1 -14 6 -26M1375 459q4 1 8 -0M1371 552q3 -6 3 -12M1364 523q4 -8 7 -17M1399 535q-2 -6 -7 -11" stroke="#b3302f" stroke-width="1.3" stroke-linecap="round" fill="none"/>
<path d="M1324 476q4 -11 0 -22M1323 490q-2 -13 3 -25M1367 455q-8 -13 -8 -28M1365 465q2 -15 3 -29M1353 422q-5 -10 -5 -21M1365 435q1 -7 0 -14M1406 424q-2 -13 1 -25M1383 462q3 1 6 0M1366 526q1 -7 7 -11M1371 525q1 -5 2 -9M1397 522q-2 -4 -4 -8" stroke="#c0413a" stroke-width="2.1" stroke-linecap="round" fill="none"/>
<path d="M1341 469q7 -11 4 -23M1329 470q0 -9 5 -17M1420 448q-2 -12 -0 -23M1356 460q-2 -11 -2 -22M1352 482q3 -10 -1 -20M1394 470q1 -10 1 -21M1410 434q7 -13 4 -27M1411 466q4 -9 2 -18M1396 439q4 -10 5 -21" stroke="#c9523f" stroke-width="2.1" stroke-linecap="round" fill="none"/>
<path d="M1324 500q3 -10 2 -21M1371 461q-1 -11 -3 -22M1368 446q2 -7 2 -14M1394 460q-4 -10 1 -21M1406 447q0 -10 2 -20M1383 454q2 0 5 1M1372 546q3 -7 3 -14" stroke="#c0413a" stroke-width="1.7" stroke-linecap="round" fill="none"/>
<path d="M1318 463q1 -8 0 -17M1313 477q4 -13 -1 -27M1322 510q4 -14 9 -28M1427 492q1 -9 -4 -17M1439 511q-0 -12 -0 -24M1440 467q-3 -7 -6 -15M1414 503q-3 -14 -7 -27M1413 497q-5 -8 -5 -17M1427 452q1 -9 -4 -16M1439 528q1 -8 -1 -16M1385 475q3 -1 6 -1" stroke="#aeaeae" stroke-width="1.7" stroke-linecap="round" fill="none"/>
<path d="M1320 497q-2 -12 4 -23M1342 507q1 -8 0 -17M1423 443q-3 -9 -6 -18M1434 528q-7 -11 -8 -25M1434 452q-3 -8 -2 -16M1421 453q-5 -6 -4 -13M1384 475q4 1 7 -1" stroke="#b8b8b8" stroke-width="2.1" stroke-linecap="round" fill="none"/>
<path d="M1331 473q1 -12 4 -24M1333 481q-1 -12 2 -24M1314 454q-2 -13 5 -24M1324 467q-2 -15 4 -28M1428 467q2 -15 -6 -27M1446 491q-3 -11 -9 -21M1348 437q5 -11 1 -22M1421 471q0 -9 -2 -18M1403 471q0 -12 -1 -23M1412 471q-3 -12 -1 -23M1420 447q2 -14 0 -29M1372 455q3 -1 7 -1M1367 531q-0 -9 4 -18M1389 541q-0 -5 -1 -9" stroke="#a52a2a" stroke-width="1.7" stroke-linecap="round" fill="none"/>
<path d="M1329 531q6 -14 1 -28M1317 515q7 -13 4 -27M1354 433q-1 -13 -6 -25M1402 429q5 -9 3 -20M1416 422q1 -9 -0 -18M1421 439q-3 -9 -1 -18M1415 432q0 -9 1 -17" stroke="#c0413a" stroke-width="1.3" stroke-linecap="round" fill="none"/>
<path d="M1336 453q5 -9 7 -19M1440 507q1 -13 -0 -27M1432 499q-3 -9 -1 -18" stroke="#c6c6c6" stroke-width="1.3" stroke-linecap="round" fill="none"/>
<path d="M1423 468q-3 -12 -0 -24M1414 493q2 -10 1 -20M1422 459q-2 -8 -5 -15M1423 497q-0 -9 -1 -18M1431 489q3 -15 -5 -28M1413 491q2 -14 -3 -28M1378 484q2 -1 5 -1" stroke="#aeaeae" stroke-width="2.1" stroke-linecap="round" fill="none"/>
<path d="M1441 517q-4 -10 -1 -20M1432 481q-1 -9 -6 -16M1442 462q-4 -11 -5 -22M1351 447q-0 -10 -1 -19M1349 481q3 -9 2 -18M1350 421q4 -10 1 -21M1422 445q1 -11 -2 -22M1398 478q6 -10 4 -21M1371 465q3 0 6 1M1372 532q4 -5 6 -10M1371 522q1 -6 4 -11" stroke="#c9523f" stroke-width="1.3" stroke-linecap="round" fill="none"/>
<path d="M1436 481q-1 -7 -2 -14M1422 521q4 -14 -3 -26M1361 436q-2 -7 -2 -15M1421 468q-1 -7 -1 -15M1392 449q-3 -8 -0 -16M1398 452q2 -13 6 -25M1399 470q3 -11 6 -23M1404 473q3 -13 2 -26M1371 464q3 1 7 1M1388 512q-3 -3 -4 -8" stroke="#b3302f" stroke-width="2.1" stroke-linecap="round" fill="none"/>
<path d="M1425 509q2 -15 -1 -29M1422 506q-2 -9 -6 -17M1451 488q-4 -10 0 -21M1354 428q1 -13 1 -27M1350 451q-3 -9 -2 -19M1406 476q2 -9 -0 -17M1370 518q5 -7 7 -16M1367 518q4 -8 6 -16M1393 542q-3 -4 -5 -9M1392 517q-4 -8 -3 -17M1392 515q-5 -4 -6 -10" stroke="#c9523f" stroke-width="1.7" stroke-linecap="round" fill="none"/>
<path d="M1350 470q-2 -8 1 -16M1350 439q-2 -11 1 -22M1413 431q0 -13 3 -25M1402 418q4 -9 5 -19M1356 485q3 -5 4 -10M1365 504q-0 -8 4 -16M1346 479q3 -7 8 -14M1354 505q3 -6 7 -12M1344 484q4 -8 8 -16M1414 487q-1 -7 -6 -13M1368 533q3 -6 6 -12M1366 511q0 -5 2 -9M1370 523q1 -4 2 -8M1389 524q-4 -6 -6 -12M1393 536q-4 -4 -5 -10" stroke="#c26650" stroke-width="1.3" stroke-linecap="round" fill="none"/>
<path d="M1357 482q2 -9 2 -18M1343 470q3 -8 -0 -17M1359 454q-1 -11 -5 -20M1348 435q-3 -10 -4 -20M1347 466q-4 -9 -2 -18M1343 468q1 -9 -1 -18M1397 437q1 -10 5 -20M1403 451q-2 -14 1 -27M1399 440q0 -8 2 -16M1418 437q-1 -11 -2 -21M1368 496q1 -7 6 -12M1349 498q1 -6 3 -12M1415 494q-3 -4 -5 -9M1415 478q-2 -4 -4 -9M1373 540q0 -6 4 -11M1369 526q-0 -6 2 -11M1364 527q2 -7 3 -15M1393 519q-4 -8 -7 -16M1388 513q-1 -5 -4 -8M1389 515q-3 -8 -3 -17" stroke="#d67a62" stroke-width="2.1" stroke-linecap="round" fill="none"/>
<path d="M1353 475q-4 -13 2 -26M1361 450q-2 -12 2 -24M1366 438q2 -12 2 -23M1421 432q4 -9 2 -18M1395 459q6 -10 6 -21M1416 458q-1 -10 2 -20M1417 439q1 -8 -1 -16M1413 505q-6 -5 -7 -13M1405 493q-2 -4 -3 -9M1397 486q-1 -6 -4 -13M1370 544q1 -5 3 -10M1368 523q3 -8 8 -15M1367 518q3 -9 4 -18M1389 543q-4 -5 -4 -11M1394 525q-3 -9 -3 -19M1391 539q-5 -7 -8 -15" stroke="#e08f78" stroke-width="1.3" stroke-linecap="round" fill="none"/>
<path d="M1370 458q-3 -8 -3 -16M1366 439q3 -12 -0 -23M1356 468q2 -9 -1 -18M1340 436q1 -11 -1 -22M1363 467q3 -14 -1 -27M1403 463q3 -8 2 -17M1409 417q4 -8 2 -17M1364 488q-0 -5 2 -9M1411 483q-1 -5 -3 -10M1394 533q-1 -8 -4 -15M1398 534q-2 -5 -4 -8M1396 512q-4 -6 -7 -12" stroke="#e08f78" stroke-width="1.7" stroke-linecap="round" fill="none"/>
<path d="M1366 441q1 -12 -2 -23M1358 422q-1 -11 -2 -22M1399 442q-2 -12 -2 -24M1417 436q-2 -14 -0 -28M1367 504q4 -7 2 -15M1345 501q3 -6 3 -12M1351 501q-1 -5 2 -10M1399 497q-0 -7 -5 -11M1404 474q-0 -5 -2 -9M1400 483q-3 -6 -4 -12M1400 507q-1 -5 -5 -9M1365 512q2 -7 6 -14M1377 518q-1 -5 1 -9M1363 517q2 -6 7 -11M1390 538q-1 -6 -5 -11M1399 524q-5 -5 -5 -12M1390 535q-2 -8 -8 -13M1398 534q-5 -7 -6 -15M1390 514q-4 -8 -3 -16M1397 531q-6 -7 -6 -17" stroke="#e6a08a" stroke-width="1.3" stroke-linecap="round" fill="none"/>
<path d="M1373 454q-0 -10 -5 -18M1356 445q-6 -14 -1 -28M1345 423q-1 -6 -3 -12M1413 467q-2 -11 3 -21M1401 441q-3 -9 -0 -19M1396 423q0 -11 5 -21M1425 447q-2 -7 -2 -14M1351 487q6 -7 10 -16M1347 488q-0 -7 4 -14M1417 501q-4 -7 -3 -15M1415 505q-2 -8 -2 -15" stroke="#d67a62" stroke-width="1.7" stroke-linecap="round" fill="none"/>
<path d="M1358 477q1 -9 1 -17M1359 436q-1 -12 0 -25M1348 427q-0 -11 -4 -21M1357 482q-0 -11 -4 -21M1423 432q-2 -9 -2 -19M1412 432q6 -9 6 -20M1413 434q-4 -9 -1 -18M1357 494q5 -6 8 -14M1348 490q1 -5 2 -10M1362 493q2 -5 5 -10M1373 544q4 -7 5 -15M1363 531q1 -4 2 -9M1365 513q3 -6 3 -12M1375 537q3 -5 5 -11M1385 529q-3 -4 -2 -9M1395 522q-1 -8 -3 -16" stroke="#e6a08a" stroke-width="1.7" stroke-linecap="round" fill="none"/>
<path d="M1363 456q0 -10 -1 -19M1398 438q-3 -11 1 -21M1345 489q0 -8 6 -14M1367 496q3 -7 2 -16M1371 517q3 -7 8 -13M1370 547q3 -9 3 -18M1393 528q-4 -7 -3 -16M1398 517q-4 -8 -8 -15M1396 543q-3 -5 -3 -10M1394 544q-4 -7 -9 -14M1395 525q-2 -9 -9 -16M1392 524q-1 -5 -5 -8" stroke="#d67a62" stroke-width="1.3" stroke-linecap="round" fill="none"/>
<path d="M1366 457q-6 -15 -1 -30M1350 420q-0 -10 2 -19M1361 469q-2 -9 -4 -19M1369 441q-5 -11 -3 -23M1359 469q1 -9 2 -19M1411 449q6 -8 6 -19M1410 432q-6 -13 -2 -27M1410 431q4 -13 -2 -26M1357 490q2 -5 5 -9M1347 495q5 -9 7 -19M1410 485q-0 -5 -3 -10M1371 513q4 -4 6 -9M1371 542q1 -6 5 -11M1397 521q-1 -5 -5 -10" stroke="#cc6c55" stroke-width="1.7" stroke-linecap="round" fill="none"/>
<path d="M1365 476q1 -11 -1 -22M1370 456q-4 -12 -2 -24M1364 454q-2 -7 -3 -15M1366 442q-4 -7 -2 -15M1356 480q-5 -9 -3 -19M1342 452q2 -12 3 -25M1345 456q-4 -14 -2 -29M1356 470q3 -10 0 -21M1408 459q3 -9 0 -17M1399 448q1 -8 0 -16M1351 490q-1 -7 3 -13M1359 486q2 -6 6 -12M1400 486q-1 -7 -6 -12M1409 479q-1 -7 -2 -14M1407 475q-2 -4 -2 -10M1402 492q-2 -9 -8 -16M1368 550q3 -4 4 -9M1368 528q5 -6 7 -14M1369 530q-1 -8 4 -14" stroke="#e6a08a" stroke-width="2.1" stroke-linecap="round" fill="none"/>
<path d="M1360 481q4 -8 1 -17M1369 451q-6 -11 -6 -23M1421 464q7 -12 3 -25M1407 439q-0 -9 -0 -18M1405 454q2 -11 5 -21M1409 431q1 -9 1 -17M1406 457q1 -11 -2 -22M1352 508q3 -7 2 -14M1362 478q-0 -6 3 -11M1409 498q-4 -5 -7 -12M1374 525q3 -7 6 -14M1371 529q1 -6 3 -12M1393 536q-2 -7 -7 -14M1392 509q1 -7 -2 -14" stroke="#c26650" stroke-width="1.7" stroke-linecap="round" fill="none"/>
<path d="M1355 420q1 -10 -0 -19M1364 455q1 -10 -4 -19M1343 449q-5 -9 -2 -19M1412 476q0 -15 -4 -29M1410 437q-3 -8 -1 -17M1397 449q1 -10 4 -19M1395 466q-3 -9 -1 -19M1413 433q0 -13 0 -25M1343 489q4 -8 6 -16M1366 507q0 -8 4 -15M1346 503q-2 -9 3 -17M1414 479q-3 -7 -6 -13M1372 552q5 -7 7 -15M1372 521q1 -5 2 -10M1390 552q-0 -5 -2 -10" stroke="#e08f78" stroke-width="2.1" stroke-linecap="round" fill="none"/>
<path d="M1342 467q1 -7 2 -15M1349 434q2 -9 1 -18M1370 428q-5 -11 -7 -23M1403 445q0 -11 0 -21M1415 502q-1 -5 -2 -9M1402 483q-0 -8 -3 -16M1384 530q0 -6 -2 -11M1396 542q-2 -6 -6 -12M1396 543q-2 -9 -6 -18" stroke="#cc6c55" stroke-width="1.3" stroke-linecap="round" fill="none"/>
<path d="M1350 457q-6 -14 -2 -29M1395 473q-0 -10 2 -20M1421 433q0 -12 -2 -25M1395 473q4 -11 -0 -23M1420 492q-5 -6 -6 -14M1398 495q-5 -7 -4 -16M1411 480q-3 -6 -4 -13M1374 523q1 -8 4 -15M1365 508q3 -7 8 -13M1377 533q2 -4 4 -8M1386 536q-0 -6 -5 -11" stroke="#cc6c55" stroke-width="2.1" stroke-linecap="round" fill="none"/>
<path d="M1367 437q-2 -12 -5 -25M1412 477q0 -8 1 -16M1400 478q2 -8 1 -16M1390 443q5 -10 4 -21M1405 439q-0 -9 1 -18M1423 450q0 -9 2 -18M1411 460q-3 -11 0 -21M1406 452q-1 -8 3 -15M1348 489q1 -6 6 -10M1346 489q4 -4 5 -9M1364 488q2 -8 2 -15M1355 481q2 -5 5 -9M1394 500q-0 -5 -3 -10M1408 509q-6 -8 -6 -18M1412 477q-5 -5 -7 -12M1374 525q5 -5 6 -12M1391 527q-3 -7 -5 -15M1390 529q-3 -6 -5 -13" stroke="#c26650" stroke-width="2.1" stroke-linecap="round" fill="none"/>
<path d="M1383 457q4 1 8 -1M1419 487q-4 -6 -5 -14M1413 514q0 -4 0 -8" stroke="#9a1e22" stroke-width="1.7" stroke-linecap="round" fill="none"/>
<path d="M1371 464q3 1 6 -1M1385 465q2 -1 5 -0M1343 485q2 -6 6 -11M1412 526q1 -7 0 -14" stroke="#85161b" stroke-width="1.7" stroke-linecap="round" fill="none"/>
<path d="M1374 463q3 -1 6 -0M1345 482q2 -6 3 -12M1399 493q-3 -7 -2 -14M1355 533q4 -5 4 -11M1348 520q-1 -4 1 -7" stroke="#7a1218" stroke-width="1.7" stroke-linecap="round" fill="none"/>
<path d="M1378 466q3 -1 6 -0M1384 461q4 0 7 -0M1381 453q4 2 9 2M1349 493q7 -8 9 -18M1361 485q4 -6 6 -13M1416 488q-0 -5 -2 -10M1356 529q2 -7 0 -14M1342 522q1 -6 3 -12M1349 536q1 -6 0 -13M1347 521q3 -4 2 -9M1351 519q-1 -5 1 -10M1355 528q1 -6 4 -12M1403 525q-1 -4 0 -8" stroke="#7a1218" stroke-width="2.1" stroke-linecap="round" fill="none"/>
<path d="M1385 457q3 -1 6 0M1345 481q1 -6 6 -11M1413 506q-0 -7 -4 -14M1416 489q-5 -7 -6 -15M1404 506q-4 -7 -3 -14M1356 521q1 -3 2 -7M1350 533q3 -4 3 -10M1350 536q-1 -5 -0 -9" stroke="#6e0f14" stroke-width="1.3" stroke-linecap="round" fill="none"/>
<path d="M1378 462q5 -1 9 1M1417 494q-3 -5 -6 -10M1414 527q1 -4 -2 -7" stroke="#85161b" stroke-width="1.3" stroke-linecap="round" fill="none"/>
<path d="M1381 454q4 -1 9 1M1346 502q2 -7 4 -13M1347 524q3 -7 1 -14M1345 528q2 -4 2 -9M1343 517q1 -3 1 -7" stroke="#6e0f14" stroke-width="2.1" stroke-linecap="round" fill="none"/>
<path d="M1382 453q3 -1 6 -0M1356 502q4 -7 7 -15M1396 506q-3 -6 -2 -12" stroke="#a8262a" stroke-width="1.7" stroke-linecap="round" fill="none"/>
<path d="M1372 465q4 1 9 1M1408 495q-2 -4 -3 -9M1348 515q1 -4 1 -8M1347 535q0 -6 4 -10M1342 521q1 -5 3 -9M1420 530q-2 -6 -4 -11M1414 535q-0 -5 -0 -9" stroke="#85161b" stroke-width="2.1" stroke-linecap="round" fill="none"/>
<path d="M1380 452q4 -0 7 -1M1371 463q3 0 6 1" stroke="#a8262a" stroke-width="2.1" stroke-linecap="round" fill="none"/>
<path d="M1374 454q4 1 8 -1M1352 508q1 -5 4 -9M1354 505q1 -5 4 -9M1366 490q2 -5 4 -10M1411 508q-2 -7 -5 -13M1342 518q2 -4 3 -7M1352 530q2 -7 1 -14M1419 520q1 -4 -1 -8M1413 523q-0 -3 -0 -7" stroke="#9a1e22" stroke-width="2.1" stroke-linecap="round" fill="none"/>
<path d="M1386 460q3 -1 6 -1M1350 484q3 -7 4 -14M1402 507q-3 -6 -5 -12M1354 534q0 -5 0 -10M1406 532q-2 -4 -1 -9" stroke="#9a1e22" stroke-width="1.3" stroke-linecap="round" fill="none"/>
<path d="M1345 491q2 -9 6 -17M1351 504q3 -6 4 -12M1355 518q-2 -5 0 -10M1411 527q-2 -6 -0 -12M1416 520q0 -3 -1 -7" stroke="#6e0f14" stroke-width="1.7" stroke-linecap="round" fill="none"/>
<path d="M1407 504q-2 -6 -3 -13M1407 509q-2 -8 -4 -16M1411 533q-2 -5 -3 -10M1418 526q-1 -5 -3 -9M1420 531q0 -5 -2 -10" stroke="#7a1218" stroke-width="1.3" stroke-linecap="round" fill="none"/>
<path d="M1409 509q-5 -5 -6 -12M1409 478q-2 -8 -8 -13M1350 535q0 -7 2 -13M1413 521q0 -7 -2 -14" stroke="#a8262a" stroke-width="1.3" stroke-linecap="round" fill="none"/>
<ellipse cx="1562.5" cy="469.8" rx="92.5" ry="70.8" fill="#f2f2f2"/>
<ellipse cx="1581.0" cy="524.6" rx="62.9" ry="35.4" fill="#f2f2f2"/>
<ellipse cx="1525.5" cy="498.8" rx="46.2" ry="24.1" fill="#f2f2f2"/>
<ellipse cx="1497.8" cy="479.5" rx="22.2" ry="25.8" fill="#a64245" fill-opacity="0.5"/>
<ellipse cx="1534.8" cy="444.1" rx="22.2" ry="20.6" fill="#9f5a5b" fill-opacity="0.5"/>
<ellipse cx="1581.0" cy="434.4" rx="23.7" ry="16.7" fill="#9d5355" fill-opacity="0.5"/>
<ellipse cx="1562.5" cy="482.7" rx="35.5" ry="20.6" fill="#9d9d9d" fill-opacity="0.5"/>
<ellipse cx="1618.0" cy="460.2" rx="14.8" ry="19.3" fill="#993d40" fill-opacity="0.5"/>
<ellipse cx="1629.1" cy="492.4" rx="14.8" ry="19.3" fill="#a6a6a6" fill-opacity="0.5"/>
<ellipse cx="1577.3" cy="535.9" rx="4.4" ry="14.2" fill="#ac3033" fill-opacity="0.5"/>
<ellipse cx="1553.2" cy="511.7" rx="23.7" ry="9.0" fill="#9a9a9a" fill-opacity="0.5"/>
<path d="M1466 475q10 -3 18 -9M1494 486q12 -1 22 -7M1512 489q8 -5 17 -5M1478 500q9 -1 16 -6M1497 471q8 -3 17 -4M1469 491q7 -1 13 -5M1498 482q8 -9 19 -12M1466 479q12 -6 25 -8M1471 460q8 -4 16 -5M1478 508q11 -2 20 -7M1506 472q7 -4 15 -6M1479 507q8 -1 14 -5M1471 474q11 -2 22 -5M1551 441q3 -8 8 -16M1559 453q6 -8 6 -18M1517 428q5 -6 9 -11M1508 451q0 -14 9 -25M1552 436q1 -5 -0 -11M1630 450q-0 -7 -1 -14M1608 449q1 -8 3 -15M1577 537q2 -6 3 -11M1575 548q2 -4 2 -7" stroke="#a52a2a" stroke-width="1.3" stroke-linecap="round" fill="none"/>
<path d="M1500 504q8 -2 15 -5M1472 485q7 -3 14 -3M1539 453q4 -9 11 -15M1548 468q10 -5 14 -16M1528 427q4 -6 6 -12M1519 461q2 -9 9 -16M1595 446q3 -9 3 -18M1599 428q2 -6 2 -13M1567 442q-1 -9 4 -16M1581 442q1 -11 3 -23M1568 451q1 -8 -1 -16M1591 480q8 -1 15 -3M1554 492q13 -3 26 1M1515 479q12 -1 25 -3M1545 467q13 4 26 -1M1587 494q12 -1 23 -5M1542 488q8 3 15 -0M1635 457q-1 -8 -3 -15M1604 459q2 -9 1 -18M1643 488q-1 -7 -2 -13M1635 480q3 -7 -0 -14M1637 507q5 -12 3 -24M1536 507q7 1 14 -3M1540 521q8 -2 16 -2M1530 513q13 -5 26 -9" stroke="#6c6c6c" stroke-width="1.7" stroke-linecap="round" fill="none"/>
<path d="M1484 464q10 -8 22 -11M1481 504q6 -4 13 -8M1504 474q6 -5 14 -6M1482 495q7 -3 15 -4M1542 444q4 -8 10 -14M1547 444q5 -7 6 -15M1553 461q6 -8 11 -16M1526 442q4 -9 12 -14M1556 446q-0 -12 5 -22M1584 421q1 -5 1 -11M1579 430q2 -10 -2 -19M1592 440q-1 -7 4 -13M1615 448q-2 -7 -3 -14M1623 466q1 -9 -0 -17M1572 546q2 -4 3 -8" stroke="#c0413a" stroke-width="1.3" stroke-linecap="round" fill="none"/>
<path d="M1491 466q7 -0 14 -2M1492 460q10 -5 20 -7M1502 459q8 -3 15 -7M1490 511q12 -3 22 -8M1473 502q9 -1 17 -3M1514 488q7 -5 15 -8M1511 470q9 0 16 -5M1504 490q11 -4 20 -12M1501 501q11 -4 22 -10M1470 465q12 -3 24 -6M1491 489q8 -3 15 -6M1472 500q8 -8 20 -9M1476 453q13 -1 26 -5M1486 471q10 -2 20 -4M1547 435q1 -8 7 -13M1529 450q5 -7 7 -16M1526 446q9 -5 12 -14M1524 471q7 -11 17 -20M1543 432q3 -7 7 -14M1530 442q9 -7 12 -18M1536 448q6 -7 8 -16M1579 446q2 -8 -1 -16M1576 422q0 -6 1 -11M1598 444q-1 -10 2 -19M1552 440q3 -9 5 -19M1619 463q3 -14 -2 -26M1603 470q-2 -10 -3 -19M1622 459q4 -8 3 -16M1614 456q6 -11 3 -23M1575 528q1 -3 3 -6" stroke="#c0413a" stroke-width="2.1" stroke-linecap="round" fill="none"/>
<path d="M1498 475q7 -3 13 -5M1514 491q9 -3 15 -9M1566 436q-4 -11 -0 -22M1622 477q0 -10 3 -21M1631 482q-3 -8 -0 -17" stroke="#9a1e22" stroke-width="1.3" stroke-linecap="round" fill="none"/>
<path d="M1509 486q8 -2 15 -5M1493 475q9 -3 18 -7M1492 478q6 -6 15 -7M1503 504q8 1 16 -3M1504 461q9 2 17 -4M1481 506q9 -4 20 -6M1542 463q4 -12 10 -22M1550 457q5 -7 11 -14M1526 467q3 -7 7 -12M1573 448q-0 -7 0 -15M1605 442q-3 -6 -1 -13M1612 457q0 -6 -2 -13M1609 474q1 -13 -4 -24M1629 459q-2 -8 1 -15M1576 554q-1 -7 2 -13M1571 537q1 -5 2 -9" stroke="#b3302f" stroke-width="2.1" stroke-linecap="round" fill="none"/>
<path d="M1500 471q7 -3 14 -7M1516 474q7 -1 13 -3M1503 478q8 -5 17 -4M1485 487q8 1 15 -3M1471 461q10 -1 21 -4M1505 487q6 -5 14 -5M1494 510q7 -2 14 -5M1492 469q11 -4 22 -8M1483 499q8 -0 14 -6M1480 452q9 1 16 -3M1496 496q7 -4 13 -8M1533 454q3 -9 6 -17M1504 452q3 -10 7 -19M1506 449q7 -8 13 -17M1569 449q-0 -9 3 -16M1599 442q-0 -6 1 -12M1594 452q3 -7 3 -14M1591 431q-0 -8 4 -15M1591 454q-2 -6 -2 -13M1566 433q-2 -7 -2 -15M1590 428q-3 -7 -1 -14M1557 449q2 -9 3 -19M1632 472q0 -7 1 -14M1632 481q1 -8 -1 -15M1607 466q-0 -8 -0 -15M1573 535q-1 -6 1 -13M1575 535q2 -5 1 -10" stroke="#b3302f" stroke-width="1.7" stroke-linecap="round" fill="none"/>
<path d="M1513 495q8 -3 15 -6M1573 445q-5 -10 -2 -21M1559 438q2 -10 -2 -19M1626 459q3 -7 3 -14M1610 471q0 -7 -1 -13" stroke="#6e0f14" stroke-width="2.1" stroke-linecap="round" fill="none"/>
<path d="M1469 496q9 -2 18 -5M1501 469q8 -6 17 -10M1493 479q6 -6 15 -8M1516 484q7 -1 13 -7M1515 455q3 -7 10 -12M1542 457q5 -6 6 -13M1593 446q1 -10 0 -20M1579 458q3 -10 2 -21M1558 444q0 -9 2 -17M1589 434q1 -6 3 -12M1606 446q-0 -9 3 -17M1560 453q2 -7 3 -14M1592 479q8 -1 15 -6M1555 478q9 -3 18 -6M1556 491q9 2 18 -0M1573 480q13 1 26 -3M1558 504q14 -1 24 -9M1534 474q13 -0 25 -2M1540 487q12 -5 24 -1M1528 466q8 -0 15 -1M1513 488q8 2 15 -1M1587 498q13 1 23 -7M1560 469q12 -3 23 -0M1582 502q7 -5 15 -5M1565 484q13 -3 26 -1M1645 496q2 -8 2 -17M1631 491q-3 -7 -2 -14M1634 477q-1 -5 1 -11M1616 513q2 -8 1 -16M1536 519q7 -4 15 -4M1548 515q13 -4 25 -0" stroke="#7a7a7a" stroke-width="1.7" stroke-linecap="round" fill="none"/>
<path d="M1489 489q13 -3 22 -12M1499 464q8 -6 18 -9M1591 457q-2 -9 2 -18M1573 450q-0 -8 3 -15M1580 427q4 -6 3 -14M1567 437q-2 -7 -0 -15M1612 468q-2 -6 -3 -13M1608 484q-1 -7 -3 -14M1617 469q-2 -7 -3 -15M1627 460q0 -9 -3 -17" stroke="#6e0f14" stroke-width="1.7" stroke-linecap="round" fill="none"/>
<path d="M1507 502q10 -5 20 -8M1495 497q9 -7 19 -11M1509 443q4 -11 15 -18M1549 437q7 -5 8 -14M1510 462q3 -10 11 -16M1566 448q0 -10 2 -19M1554 442q-0 -8 1 -16M1597 455q0 -11 -2 -22M1581 447q1 -6 3 -11M1533 489q9 -1 15 -6M1553 465q10 -1 18 -7M1533 488q12 -4 25 -8M1551 483q8 -1 16 -3M1517 476q11 -1 20 -7M1541 463q6 -5 13 -5M1567 489q15 0 28 -7M1543 509q12 1 21 -6M1582 470q9 -5 20 -6M1609 470q-4 -7 -2 -15M1613 487q2 -9 -2 -17M1637 518q-2 -8 2 -15M1624 505q-2 -11 -4 -22M1634 497q-1 -9 -2 -19M1548 511q8 -0 15 -5M1558 512q8 -5 17 -5M1548 511q7 -1 14 -4M1548 515q9 1 17 -1M1551 510q12 1 22 -6" stroke="#adadad" stroke-width="1.3" stroke-linecap="round" fill="none"/>
<path d="M1468 484q12 -4 24 -6M1509 482q10 -4 20 -8M1496 491q11 -3 22 -6M1467 488q10 0 19 -4M1474 493q11 -3 19 -11M1476 502q10 0 17 -6M1486 473q8 -1 13 -7M1468 471q13 -5 25 -11M1469 472q9 -0 18 -3M1500 477q9 1 18 -3M1504 484q10 -3 18 -10M1544 453q13 -7 18 -21M1526 472q4 -6 5 -14M1548 457q5 -8 10 -16M1538 473q4 -10 7 -20M1576 432q1 -6 3 -11M1596 437q-0 -10 4 -20M1618 487q1 -11 -4 -21M1623 447q-1 -6 -1 -13M1602 459q1 -8 -0 -16M1576 546q1 -4 2 -7" stroke="#c9523f" stroke-width="2.1" stroke-linecap="round" fill="none"/>
<path d="M1514 473q6 -4 14 -5M1494 473q13 -6 26 -5M1494 510q10 -2 21 -3M1484 469q10 -5 20 -4M1486 465q7 -5 16 -4M1514 459q5 -7 11 -15M1522 435q4 -7 7 -15M1544 472q5 -7 7 -15M1536 459q2 -8 8 -15M1536 466q4 -10 10 -19M1603 441q-1 -9 -1 -18M1581 445q1 -9 3 -17M1595 450q3 -6 2 -12M1603 439q1 -9 3 -17M1556 450q2 -5 3 -11M1600 454q2 -8 0 -16M1632 476q-1 -12 -3 -24M1626 454q-3 -10 -1 -20M1574 552q0 -4 1 -8M1574 548q1 -7 6 -13M1577 535q2 -5 3 -10" stroke="#c9523f" stroke-width="1.3" stroke-linecap="round" fill="none"/>
<path d="M1497 489q11 -5 23 -6M1470 497q11 -1 19 -8M1533 469q2 -9 7 -16M1531 435q5 -6 6 -14M1563 436q0 -8 -2 -16M1592 431q-0 -9 1 -18M1603 469q-1 -8 -2 -17M1619 476q-1 -6 0 -13M1610 486q-5 -11 -2 -23M1573 527q2 -5 3 -10" stroke="#7a1218" stroke-width="1.3" stroke-linecap="round" fill="none"/>
<path d="M1485 463q7 -5 16 -5M1498 461q9 -8 22 -8M1493 460q8 -10 20 -12M1493 514q8 -2 15 -6M1489 470q13 -3 25 -9M1510 503q7 -6 16 -7M1514 482q7 -2 15 -3M1512 480q6 -4 13 -6M1475 464q7 -4 16 -4M1531 445q5 -7 8 -15M1511 436q4 -7 9 -14M1545 440q2 -7 6 -13M1542 464q2 -8 8 -13M1518 460q5 -10 7 -21M1526 442q3 -6 7 -11M1512 465q4 -7 6 -15M1545 449q6 -5 8 -12M1525 468q3 -7 7 -14M1554 446q6 -5 10 -12M1520 433q1 -9 6 -15M1562 446q0 -7 -0 -14M1556 448q1 -9 5 -18M1556 438q0 -6 2 -12M1568 456q2 -8 -1 -15M1578 535q1 -6 5 -10" stroke="#c0413a" stroke-width="1.7" stroke-linecap="round" fill="none"/>
<path d="M1480 486q5 -6 13 -8M1471 459q7 -2 15 -2M1490 465q11 -2 20 -8M1500 474q7 -2 13 -6M1541 443q1 -10 8 -18M1534 473q3 -10 11 -16M1518 469q1 -12 7 -22M1546 449q8 -12 9 -26M1577 441q-0 -10 4 -19M1555 471q11 1 20 -5M1515 493q8 -2 16 -5M1583 486q8 -1 15 0M1584 502q11 -8 25 -7M1569 476q9 -3 18 -4M1562 491q14 -7 30 -3M1541 481q13 -8 29 -6M1564 493q14 3 28 -0M1557 486q14 -2 26 -8M1620 482q1 -8 2 -16M1635 491q-2 -7 -1 -14M1632 511q-3 -7 -0 -15M1535 513q10 1 18 -3M1536 517q10 -4 20 -2M1527 518q9 -3 18 0M1554 516q10 -1 20 -0M1548 506q9 -1 17 -2M1564 512q7 1 14 -2" stroke="#6c6c6c" stroke-width="2.1" stroke-linecap="round" fill="none"/>
<path d="M1507 482q9 -4 17 -9M1487 477q6 -5 14 -5M1510 468q8 -0 14 -5M1478 499q6 -3 13 -6M1492 477q8 -6 17 -7M1501 506q8 -9 20 -12M1481 471q10 -4 19 -9M1485 457q8 -6 18 -8M1495 479q8 -5 17 -4M1483 458q11 -1 19 -7M1517 490q6 -5 12 -7M1514 467q6 -2 12 -3M1501 481q8 -2 15 -7M1509 461q5 -4 6 -11M1530 462q5 -9 10 -18M1534 473q3 -11 8 -22M1535 454q2 -7 7 -12M1503 448q3 -9 9 -17M1548 456q3 -8 6 -17M1588 442q-1 -6 0 -11M1582 441q-2 -9 -1 -19M1567 436q1 -8 -0 -15M1571 426q-3 -7 -2 -14M1565 456q0 -6 2 -12M1595 446q2 -6 -0 -13M1577 429q1 -8 2 -15M1634 464q-0 -8 0 -16M1611 460q1 -8 2 -15M1619 488q1 -10 -1 -20M1622 449q-3 -8 -3 -16M1577 546q1 -5 2 -9M1572 543q3 -4 3 -8M1577 542q2 -7 4 -14M1575 544q1 -4 4 -7M1576 552q-1 -8 2 -14" stroke="#a52a2a" stroke-width="2.1" stroke-linecap="round" fill="none"/>
<path d="M1482 488q10 -3 18 -9M1497 496q8 1 16 -3M1476 506q11 -3 19 -10M1477 472q11 0 20 -7M1493 509q10 -5 20 -11M1495 457q7 -1 13 -6M1497 476q9 -6 20 -11M1514 487q6 -3 13 -6M1498 458q7 -8 17 -10M1528 473q5 -4 9 -10M1533 471q5 -13 15 -22M1547 466q9 -8 13 -20M1552 462q4 -9 11 -16M1516 468q6 -5 9 -12M1539 458q2 -7 7 -12M1577 458q2 -8 -1 -15M1561 436q-0 -12 6 -21M1556 434q-1 -8 2 -17M1564 430q1 -8 1 -16M1633 480q-1 -9 -0 -19M1623 487q5 -10 4 -21M1626 457q3 -10 -0 -19M1616 453q3 -9 0 -18M1635 475q-1 -11 2 -21M1576 534q2 -6 1 -13M1580 544q2 -5 1 -10" stroke="#b3302f" stroke-width="1.3" stroke-linecap="round" fill="none"/>
<path d="M1480 510q6 -3 13 -5M1496 492q10 -3 20 -4M1485 454q12 -6 26 -8M1590 450q1 -5 1 -11M1577 458q-1 -8 -1 -16M1606 483q-1 -6 0 -12M1604 462q1 -10 -2 -20M1603 466q4 -12 2 -25" stroke="#9a1e22" stroke-width="2.1" stroke-linecap="round" fill="none"/>
<path d="M1484 454q7 -3 13 -6M1495 482q9 -2 16 -7M1488 473q13 -2 27 -5M1542 473q5 -6 10 -12M1514 455q6 -7 10 -15M1531 431q4 -8 11 -14M1547 439q4 -9 7 -18M1578 438q-1 -7 2 -14M1590 450q0 -11 6 -20M1569 504q8 -1 15 -1M1532 488q15 -4 29 -1M1541 491q9 -0 15 -6M1591 484q11 3 22 -2M1517 482q9 -3 18 -7M1580 499q12 -7 26 -8M1585 489q9 -1 17 -6M1546 464q10 1 20 -3M1518 496q9 -3 19 -6M1528 498q11 -2 23 -0M1521 490q15 2 28 -6M1518 475q10 -1 19 -5M1560 501q14 3 27 -2M1555 496q12 -4 24 -3M1630 469q-2 -8 0 -16M1628 479q-2 -10 3 -20M1630 510q-3 -6 -2 -13M1644 491q-0 -7 3 -14M1620 499q-3 -7 -1 -14" stroke="#9d9d9d" stroke-width="2.1" stroke-linecap="round" fill="none"/>
<path d="M1468 483q13 -4 27 -9M1479 486q8 -1 15 -4M1479 475q12 -5 24 -4M1540 440q2 -7 8 -12M1530 463q5 -7 11 -13M1604 452q3 -7 4 -15M1623 449q1 -8 -2 -16M1619 464q4 -10 2 -21M1625 476q-1 -12 -4 -25M1610 473q3 -8 3 -16M1623 475q1 -13 -4 -26M1635 469q1 -11 -0 -23M1624 487q-2 -9 2 -18" stroke="#85161b" stroke-width="1.7" stroke-linecap="round" fill="none"/>
<path d="M1503 479q6 -6 15 -9M1501 458q9 -3 18 -4M1482 464q8 -8 19 -9M1495 479q8 -3 15 -2M1494 478q7 -5 16 -4M1479 477q14 1 26 -6M1476 483q10 -1 18 -6M1501 467q7 -5 15 -7M1525 463q4 -6 5 -13M1532 454q7 -6 10 -15M1530 446q2 -8 7 -13M1546 466q2 -12 12 -19M1534 435q5 -6 6 -14M1533 438q4 -12 9 -23M1569 441q-0 -7 1 -15M1563 436q-2 -6 0 -12M1606 444q-1 -11 5 -20M1600 448q1 -10 4 -19M1622 468q2 -8 -1 -16M1601 470q-3 -11 2 -22M1608 470q-1 -7 -1 -15M1579 525q-1 -4 1 -7M1576 524q-0 -4 2 -8" stroke="#c9523f" stroke-width="1.7" stroke-linecap="round" fill="none"/>
<path d="M1485 482q11 -3 21 -9M1479 504q9 -0 17 -4M1548 450q1 -11 8 -20M1513 448q1 -7 5 -13M1561 454q4 -6 3 -13M1585 426q-2 -8 -1 -15M1560 448q2 -11 4 -22M1607 467q-1 -8 2 -16" stroke="#85161b" stroke-width="1.3" stroke-linecap="round" fill="none"/>
<path d="M1495 483q14 -2 26 -9M1481 464q7 -3 13 -7M1548 440q7 -8 7 -18M1554 441q6 -4 9 -11M1546 443q6 -7 12 -14M1536 443q8 -11 14 -23M1541 464q2 -10 9 -18M1549 468q4 -13 10 -25M1553 466q6 -9 7 -20M1569 443q3 -7 3 -14M1569 428q1 -9 4 -17M1581 457q4 -7 2 -15M1574 423q2 -6 -1 -12M1560 468q8 -1 15 -2M1578 482q9 -5 19 -6M1572 479q12 -3 25 -0M1581 487q10 -3 20 -3M1559 484q8 -3 17 -2M1526 469q8 3 15 0M1552 496q11 0 21 -1M1529 490q15 3 29 -2M1574 499q9 -2 19 -2M1525 489q10 -4 21 -4M1611 482q0 -7 -1 -14M1627 498q-0 -9 2 -18M1634 504q-6 -11 -3 -22M1622 496q2 -11 -0 -23M1540 517q7 -1 14 -3M1520 514q8 0 15 -3" stroke="#8c8c8c" stroke-width="2.1" stroke-linecap="round" fill="none"/>
<path d="M1485 468q12 -3 22 -10M1507 464q6 -6 14 -8M1466 477q8 -5 18 -7M1552 446q4 -8 10 -15M1515 462q6 -9 14 -16M1564 428q4 -5 3 -12M1571 449q4 -5 3 -12M1577 438q4 -8 2 -18M1587 456q1 -8 3 -16M1519 493q8 -0 15 -2M1529 473q14 1 26 -6M1535 485q7 -1 14 0M1543 501q12 3 23 -1M1553 465q9 -2 17 -5M1513 486q9 -3 18 -3M1588 478q11 -4 21 -7M1550 488q11 -5 23 -3M1518 483q9 0 17 -2M1526 481q10 3 20 -0M1585 493q11 0 21 -5M1582 480q8 1 15 0M1628 483q-1 -9 0 -18M1615 512q-1 -10 -2 -19M1521 514q11 -1 22 -2M1522 506q7 1 14 -1M1555 504q6 -4 14 -3M1551 518q8 -1 14 -5" stroke="#9d9d9d" stroke-width="1.3" stroke-linecap="round" fill="none"/>
<path d="M1499 507q10 -0 19 -4M1500 509q6 -4 13 -6M1493 457q9 -8 20 -9M1515 493q6 -4 13 -6M1474 458q13 -7 27 -8M1480 501q7 -6 15 -8M1473 460q9 -3 17 -7M1496 495q10 -3 17 -10M1543 468q4 -5 9 -11M1531 454q6 -6 10 -14M1511 464q5 -5 10 -11M1550 463q6 -6 8 -14M1545 431q5 -5 8 -11M1538 445q3 -7 5 -15M1524 453q6 -5 8 -13M1526 438q5 -7 10 -14M1545 456q5 -10 12 -17M1581 443q1 -8 0 -16M1566 448q-2 -7 -1 -13M1603 448q2 -7 3 -14M1591 429q-0 -9 2 -17M1557 433q1 -6 -1 -11M1577 532q1 -6 3 -11" stroke="#a52a2a" stroke-width="1.7" stroke-linecap="round" fill="none"/>
<path d="M1490 463q9 -3 17 -7M1510 483q10 1 19 -4M1472 475q8 -8 20 -8M1537 432q1 -9 7 -15M1527 461q5 -6 7 -13M1545 470q5 -7 6 -15M1508 444q1 -8 6 -14M1596 454q2 -7 1 -13M1592 443q-1 -6 -1 -13M1586 452q-0 -7 -1 -14M1628 458q1 -7 -1 -14" stroke="#7a1218" stroke-width="1.7" stroke-linecap="round" fill="none"/>
<path d="M1485 498q8 -3 15 -6M1503 510q10 -5 20 -9M1478 483q7 -6 16 -8M1485 507q9 -6 21 -6M1517 441q0 -10 7 -16M1551 433q3 -5 5 -11M1594 444q-1 -7 -1 -15M1603 463q3 -11 -1 -21M1616 479q-4 -10 -1 -20" stroke="#85161b" stroke-width="2.1" stroke-linecap="round" fill="none"/>
<path d="M1479 485q7 -4 14 -3M1489 481q11 -5 23 -10M1546 468q5 -11 9 -23M1598 431q3 -8 1 -17M1607 460q-2 -7 -1 -14M1613 487q-1 -10 4 -18M1601 476q-2 -11 4 -20" stroke="#a8262a" stroke-width="1.3" stroke-linecap="round" fill="none"/>
<path d="M1509 480q10 -3 20 -4M1595 435q-1 -8 4 -14M1576 436q-1 -7 0 -14M1631 474q2 -9 -2 -18M1617 462q2 -7 -0 -15M1629 484q-2 -8 -2 -15M1620 462q-0 -8 1 -16" stroke="#a8262a" stroke-width="1.7" stroke-linecap="round" fill="none"/>
<path d="M1482 492q11 -8 24 -7M1519 432q5 -7 6 -16M1511 464q7 -6 10 -14M1602 430q-1 -6 -1 -12M1583 421q-1 -5 1 -10M1515 492q10 1 20 1M1512 484q9 -3 18 -3M1546 483q13 3 25 -2M1584 470q8 -2 17 -1M1552 495q9 -6 20 -5M1528 470q11 -3 22 -3M1521 470q9 -5 20 -4M1627 485q-2 -7 -3 -13M1634 499q1 -8 -3 -14M1618 516q-0 -7 -0 -14M1551 513q7 1 14 -1M1554 520q11 1 19 -5M1532 520q7 -5 16 -4M1550 520q8 -0 15 -3M1558 519q9 1 19 0" stroke="#7a7a7a" stroke-width="2.1" stroke-linecap="round" fill="none"/>
<path d="M1492 480q7 -3 15 -7M1484 499q8 -1 16 -4M1533 443q1 -11 8 -21M1548 452q5 -9 11 -17M1539 469q3 -7 8 -12M1508 446q5 -9 8 -18M1527 444q2 -10 8 -18M1522 470q8 -10 9 -23M1541 436q5 -8 8 -18M1593 452q3 -9 5 -17M1605 433q-1 -8 -2 -16M1573 429q4 -7 2 -16M1594 488q9 -2 19 -1M1535 475q12 1 21 -6M1545 470q14 -6 29 -4M1591 482q10 0 18 -6M1560 498q14 1 26 -5M1569 467q10 3 20 -0M1578 493q12 -3 25 0M1513 480q11 2 20 -3M1643 491q-1 -8 -1 -17M1616 504q-2 -8 -0 -17M1617 481q1 -6 -1 -11M1545 509q10 -1 18 -7M1555 511q8 -1 16 0M1548 506q10 -2 19 -5" stroke="#9d9d9d" stroke-width="1.7" stroke-linecap="round" fill="none"/>
<path d="M1478 504q11 -4 21 -9M1481 455q7 -4 15 -4M1486 501q11 -5 23 -9M1509 453q3 -9 9 -17M1525 437q4 -11 14 -18M1513 452q8 -10 14 -21M1512 463q4 -6 7 -13M1511 458q7 -5 8 -14M1510 463q4 -8 7 -16M1594 444q2 -8 3 -16M1592 432q3 -6 2 -13M1582 422q1 -6 -1 -12M1587 423q0 -6 -1 -13M1522 493q13 -8 28 -5M1528 504q11 -6 23 -9M1543 492q6 -5 14 -5M1521 482q9 -2 17 -5M1552 482q10 1 19 0M1529 487q7 -4 14 -5M1571 489q11 -5 22 -5M1518 478q7 -4 14 -2M1548 505q11 2 21 -4M1560 492q11 -1 20 -8M1623 458q-0 -9 3 -17M1628 482q-4 -11 -5 -23M1560 520q10 -1 20 -5M1537 523q10 -0 18 -6M1534 514q9 -5 19 -7M1534 509q10 1 19 -2" stroke="#8c8c8c" stroke-width="1.3" stroke-linecap="round" fill="none"/>
<path d="M1493 503q11 -5 23 -6M1484 469q9 -2 19 -4M1472 501q8 -1 13 -7M1493 507q11 -2 20 -11M1614 458q3 -9 2 -19M1615 485q2 -11 -3 -22M1621 476q-1 -6 -0 -12M1620 451q-1 -9 -0 -18" stroke="#7a1218" stroke-width="2.1" stroke-linecap="round" fill="none"/>
<path d="M1481 476q13 -9 28 -9M1489 471q7 1 14 -3M1518 452q3 -8 9 -14M1548 460q3 -7 10 -12M1554 440q1 -6 2 -12M1609 473q-2 -8 -1 -17M1621 466q-3 -8 -0 -17M1631 481q-3 -8 0 -17" stroke="#9a1e22" stroke-width="1.7" stroke-linecap="round" fill="none"/>
<path d="M1472 475q11 -8 24 -6M1470 496q10 -2 20 -3M1488 491q5 -6 13 -8M1469 491q8 -7 19 -7M1606 434q2 -6 2 -12M1584 439q1 -9 2 -17M1564 440q4 -11 3 -22M1608 472q1 -6 2 -13M1619 458q-4 -8 -2 -17M1603 466q-1 -9 3 -17M1573 539q1 -7 4 -13" stroke="#6e0f14" stroke-width="1.3" stroke-linecap="round" fill="none"/>
<path d="M1467 487q8 -1 16 -5M1508 479q10 -6 21 -5M1506 478q9 -3 17 -7M1509 442q5 -8 12 -14M1554 440q4 -5 8 -11M1557 450q3 -8 7 -16M1538 463q8 -10 10 -22M1514 467q7 -5 10 -13M1534 452q5 -9 11 -16M1558 450q-1 -8 -2 -16M1580 443q2 -9 -2 -17M1538 481q8 -4 17 -4M1515 480q12 -2 23 -4M1553 490q11 -6 24 -5M1564 468q7 -1 14 -3M1586 491q8 -2 16 -3M1551 467q8 -4 17 -6M1557 502q13 -3 25 -9M1567 486q12 1 23 -2M1575 499q8 -2 15 -0M1556 467q11 -5 23 -5M1555 487q11 -6 24 -5M1577 489q11 -1 22 0M1564 497q14 -1 25 -10M1601 471q2 -9 -2 -17M1619 480q-0 -5 -2 -10M1623 506q1 -8 1 -16M1637 482q-0 -8 -3 -15M1567 507q6 -3 13 -3M1544 524q9 -0 17 -3M1554 509q8 -0 15 -2M1537 511q10 0 18 -6M1563 515q10 0 19 -4M1532 516q10 1 19 -4" stroke="#8c8c8c" stroke-width="1.7" stroke-linecap="round" fill="none"/>
<path d="M1480 492q9 -2 16 -8M1504 484q8 -0 16 -3M1525 464q6 -5 9 -13M1537 438q8 -9 10 -21M1562 441q-0 -10 5 -18M1590 449q1 -6 2 -11M1576 430q-1 -8 -1 -17M1587 458q-0 -6 1 -12M1581 485q12 0 23 0M1579 476q7 -0 14 -4M1532 493q15 2 27 -6M1586 492q12 4 25 -0M1525 472q10 -2 21 -1M1573 465q7 -4 15 -3M1521 500q12 -3 23 -8M1515 493q10 -3 21 0M1566 461q8 -4 16 -6M1571 478q11 -6 24 -4M1560 476q8 -1 16 -1M1551 472q12 -4 25 -5M1565 484q11 -2 20 -7M1626 446q-0 -7 -3 -13M1628 454q-1 -10 -4 -20M1629 520q-3 -9 -1 -19M1541 507q11 2 20 -3M1542 505q13 2 25 -2M1520 513q13 -1 26 -3" stroke="#6c6c6c" stroke-width="1.3" stroke-linecap="round" fill="none"/>
<path d="M1486 512q7 -4 14 -4M1529 460q4 -7 6 -15M1539 473q4 -9 12 -14M1528 448q5 -9 10 -18M1545 449q1 -8 5 -15M1508 452q7 -9 9 -21M1533 464q2 -11 9 -19M1514 466q3 -5 4 -11M1603 431q2 -7 1 -15M1563 449q-1 -7 1 -15M1581 458q0 -6 1 -12M1562 469q11 -3 22 -3M1578 474q10 1 19 -1M1559 488q9 -0 17 -4M1523 481q11 -3 22 -7M1633 457q1 -8 -0 -16M1632 482q0 -9 -0 -17M1628 493q-2 -6 -1 -13M1555 518q7 -2 15 -3M1536 507q10 -6 21 -3" stroke="#adadad" stroke-width="1.7" stroke-linecap="round" fill="none"/>
<path d="M1503 501q7 -3 15 -4M1531 445q3 -7 8 -13M1553 458q4 -7 7 -13M1520 435q7 -11 17 -21M1526 459q4 -7 11 -12M1542 471q5 -7 10 -15M1571 426q-1 -6 3 -11M1601 448q4 -10 1 -21M1539 469q12 -1 23 -7M1560 504q8 1 15 -4M1591 473q9 -4 18 -1M1526 475q13 -4 26 -1M1512 480q11 -1 23 0M1517 495q8 0 16 -3M1548 485q11 3 23 0M1576 504q8 3 17 1M1535 474q11 -2 21 -3M1610 486q0 -10 -2 -20M1622 517q4 -9 1 -17M1636 518q2 -5 2 -11M1647 502q-4 -11 -5 -22M1551 517q10 -4 21 -7M1561 514q10 -2 20 -6M1542 506q10 -1 21 -1M1542 514q7 -1 14 -3M1535 506q7 1 14 -1" stroke="#7a7a7a" stroke-width="1.3" stroke-linecap="round" fill="none"/>
<path d="M1496 478q11 0 20 -5M1533 446q12 -7 16 -20M1586 426q5 -6 4 -14M1555 443q0 -8 3 -15M1544 491q8 -4 18 -3M1559 507q12 0 23 -4M1577 497q9 -3 17 -0M1581 470q11 0 23 1M1541 477q10 -2 18 -7M1566 496q12 -3 25 -3M1559 474q10 -4 19 -1M1524 499q13 -6 27 -6M1582 488q12 -2 25 -2M1579 480q9 -4 19 -7M1580 479q9 -3 18 -5M1574 484q14 -5 29 -4M1577 467q10 -5 21 -6M1575 476q8 -3 16 -5M1617 477q4 -11 1 -22M1620 449q-2 -8 1 -16M1627 478q2 -7 2 -13M1634 498q-2 -7 0 -14M1634 512q0 -8 3 -15M1627 516q1 -11 -3 -21M1618 508q2 -8 -2 -15M1636 508q-2 -12 4 -23M1531 503q8 -2 16 -0M1538 503q10 -2 20 -1M1561 508q11 -2 22 -3M1539 512q8 -6 18 -5" stroke="#adadad" stroke-width="2.1" stroke-linecap="round" fill="none"/>
<path d="M1500 472q11 -2 20 -9M1542 454q3 -7 8 -14M1563 436q-1 -10 2 -19M1598 442q-2 -9 2 -18M1605 474q2 -13 -5 -24M1620 457q-4 -7 -3 -16M1616 478q-1 -9 -3 -18" stroke="#a8262a" stroke-width="2.1" stroke-linecap="round" fill="none"/>
<path d="M1557 508q7 -2 14 -3M1563 476q9 -2 18 -6M1525 484q12 -2 22 -8M1534 492q11 3 23 -1M1571 491q13 1 26 -2M1616 497q4 -10 0 -19M1623 493q0 -12 3 -25M1619 482q-3 -7 -1 -14M1629 485q-3 -10 -3 -20" stroke="#b8b8b8" stroke-width="2.1" stroke-linecap="round" fill="none"/>
<path d="M1570 469q12 -0 24 1M1551 488q10 -2 20 -2M1578 478q12 -2 24 -6M1520 499q9 -0 18 -1M1586 479q13 1 24 -3M1568 479q10 -4 21 -8M1555 484q14 3 27 -1M1560 508q12 -3 24 -4M1626 505q4 -12 1 -24M1641 486q-5 -8 -3 -17M1634 480q-1 -7 2 -14M1539 504q9 -2 18 -2" stroke="#b8b8b8" stroke-width="1.7" stroke-linecap="round" fill="none"/>
<path d="M1522 500q13 -1 26 0M1595 482q9 2 18 -1M1539 490q8 -1 16 -1M1532 471q9 -0 18 -4M1527 501q7 -3 14 -6M1556 467q12 3 23 -0M1531 503q10 -4 20 -4M1619 517q1 -6 -1 -12M1631 485q3 -10 2 -20M1615 492q1 -9 -1 -19M1623 512q0 -11 -2 -22M1613 495q-1 -11 1 -21M1523 514q10 -8 23 -8M1543 514q9 -0 18 0" stroke="#d0d0d0" stroke-width="1.7" stroke-linecap="round" fill="none"/>
<path d="M1566 482q13 2 24 -6M1543 502q14 -3 29 -2M1582 469q12 -1 24 -1M1535 495q11 -6 24 -9M1534 483q13 -5 26 -6M1544 486q6 -4 14 -5M1537 489q14 -5 28 -6M1639 507q4 -7 3 -14M1641 481q-2 -7 -3 -14M1619 482q2 -7 -1 -14M1635 490q3 -13 -3 -25M1532 507q9 -5 18 -7M1531 518q9 2 19 -0" stroke="#b8b8b8" stroke-width="1.3" stroke-linecap="round" fill="none"/>
<path d="M1547 482q12 -10 28 -10M1534 475q13 3 26 -2M1541 500q10 -6 21 -8M1570 474q8 -6 18 -7M1566 479q10 -1 18 -5M1537 500q13 2 25 -5M1535 474q15 -3 30 -3M1643 498q1 -7 2 -14M1642 494q0 -7 2 -13M1618 490q4 -10 4 -20M1622 512q1 -10 1 -20M1616 493q-3 -11 -0 -22M1624 514q2 -8 -0 -16M1553 505q7 -1 14 -4M1523 515q7 -4 16 -4" stroke="#c6c6c6" stroke-width="1.7" stroke-linecap="round" fill="none"/>
<path d="M1573 464q11 0 20 -4M1582 498q7 -2 14 -5M1587 500q10 -0 18 -6M1547 494q13 -1 25 -6M1587 485q10 -4 21 -8M1526 497q8 0 17 -0M1541 468q10 -1 20 -0M1588 479q11 -2 23 -2M1625 498q-1 -10 2 -20M1643 512q0 -8 -3 -15M1620 488q4 -11 5 -22M1615 490q-1 -7 -3 -14M1521 515q11 1 21 -5M1520 511q7 -4 15 -4" stroke="#d0d0d0" stroke-width="1.3" stroke-linecap="round" fill="none"/>
<path d="M1535 499q12 2 23 0M1579 483q11 -7 25 -6M1515 493q13 -3 26 -0M1518 490q9 -7 20 -6M1629 520q0 -8 0 -17M1618 509q-2 -11 3 -20M1629 496q3 -9 4 -18M1628 520q-1 -8 -2 -16M1630 515q-1 -10 -1 -21M1633 479q-1 -7 -2 -14M1616 500q-1 -8 3 -15M1614 497q-2 -9 2 -18M1640 516q-2 -5 -2 -11M1627 496q-1 -8 1 -15M1621 500q1 -7 2 -13M1620 489q-4 -8 -1 -16" stroke="#c6c6c6" stroke-width="2.1" stroke-linecap="round" fill="none"/>
<path d="M1544 509q12 2 23 -2M1548 479q11 4 22 1M1569 501q7 -2 14 -1M1531 481q12 -5 26 -5M1531 471q10 -0 18 -5M1521 491q12 -8 26 -6M1554 502q7 -3 14 -2" stroke="#d0d0d0" stroke-width="2.1" stroke-linecap="round" fill="none"/>
<path d="M1572 484q8 2 16 -1M1565 471q13 -5 26 -0M1523 496q7 -1 14 -2M1559 493q15 -1 28 -8M1583 470q10 2 19 -1M1640 488q1 -9 2 -18M1612 504q-3 -8 -3 -16M1637 495q3 -10 1 -20M1624 488q3 -8 0 -17M1616 495q-0 -9 1 -18M1623 498q4 -9 3 -18M1573 512q6 -3 12 -4" stroke="#aeaeae" stroke-width="1.3" stroke-linecap="round" fill="none"/>
<path d="M1558 477q13 -2 26 -4M1526 488q14 -2 26 -10M1579 491q12 -2 24 -2M1563 486q14 1 28 1M1529 480q7 -1 14 -2M1537 473q8 1 16 0M1542 480q15 -3 28 -9M1545 464q8 -5 17 -3M1582 468q9 -6 20 -4M1633 519q6 -12 2 -26M1627 481q2 -7 1 -15M1618 484q-1 -8 3 -15M1546 524q5 -3 12 -4M1521 516q7 -2 14 -2" stroke="#c6c6c6" stroke-width="1.3" stroke-linecap="round" fill="none"/>
<path d="M1551 472q8 -4 16 -6M1561 461q7 -3 15 -3M1541 470q12 0 24 -1M1586 488q9 -4 20 -2M1546 472q13 -6 27 -3M1544 504q14 -8 29 -5M1618 487q-1 -10 3 -20M1635 480q1 -7 1 -13M1550 506q7 -4 15 -6M1535 509q8 -1 16 -4" stroke="#aeaeae" stroke-width="2.1" stroke-linecap="round" fill="none"/>
<path d="M1534 474q13 3 25 -2M1541 462q14 -4 29 -2M1534 504q11 -4 22 -8M1591 486q11 -0 21 -0M1546 469q10 -6 21 -5M1565 477q12 -4 23 -8M1526 465q13 -2 26 -5M1616 503q3 -10 3 -20M1639 505q4 -9 0 -18M1621 492q2 -11 -2 -22M1522 516q9 -1 17 -3M1560 520q11 -5 23 -3" stroke="#aeaeae" stroke-width="1.7" stroke-linecap="round" fill="none"/>
<ellipse cx="1763.0" cy="474.0" rx="91.0" ry="72.0" fill="#f2f2f2"/>
<ellipse cx="1744.8" cy="530.0" rx="54.6" ry="32.0" fill="#f2f2f2"/>
<ellipse cx="1808.5" cy="517.2" rx="40.0" ry="24.0" fill="#f2f2f2"/>
<ellipse cx="1697.5" cy="485.2" rx="18.9" ry="12.8" fill="#a62c2f" fill-opacity="0.5"/>
<ellipse cx="1708.4" cy="507.6" rx="21.8" ry="7.7" fill="#acacac" fill-opacity="0.5"/>
<ellipse cx="1719.3" cy="453.2" rx="11.6" ry="15.4" fill="#b5605c" fill-opacity="0.5"/>
<ellipse cx="1748.4" cy="442.0" rx="8.7" ry="17.9" fill="#9e8e8e" fill-opacity="0.5"/>
<ellipse cx="1770.3" cy="437.2" rx="10.2" ry="19.2" fill="#ac3033" fill-opacity="0.5"/>
<ellipse cx="1799.4" cy="443.6" rx="11.6" ry="17.9" fill="#999999" fill-opacity="0.5"/>
<ellipse cx="1828.5" cy="466.0" rx="14.6" ry="17.9" fill="#993d40" fill-opacity="0.5"/>
<ellipse cx="1773.9" cy="462.8" rx="40.8" ry="5.1" fill="#c8bdb2" fill-opacity="0.5"/>
<ellipse cx="1826.7" cy="490.0" rx="4.4" ry="12.8" fill="#c8bdb2" fill-opacity="0.5"/>
<ellipse cx="1753.9" cy="498.0" rx="14.6" ry="12.8" fill="#952125" fill-opacity="0.5"/>
<ellipse cx="1790.3" cy="491.6" rx="20.4" ry="9.0" fill="#a62c2f" fill-opacity="0.5"/>
<ellipse cx="1748.4" cy="533.2" rx="5.8" ry="17.9" fill="#c04b47" fill-opacity="0.5"/>
<ellipse cx="1733.9" cy="501.2" rx="4.4" ry="17.9" fill="#c9bdb1" fill-opacity="0.5"/>
<path d="M1671 486q6 -4 12 -5M1673 493q10 -6 20 -8M1701 500q9 0 17 -3M1676 490q7 -0 14 0M1687 495q6 -1 12 -4M1709 497q7 -0 13 -5M1716 443q5 -4 6 -11M1725 453q5 -5 9 -11M1717 457q3 -4 6 -8M1739 459q4 -7 5 -14M1762 459q1 -8 2 -16M1774 464q2 -6 1 -13M1829 482q-5 -5 -8 -11M1821 468q-3 -9 -11 -14M1818 479q-3 -6 -8 -9M1758 508q8 -2 15 -4M1739 511q6 -4 13 -3M1783 493q8 2 17 2M1774 488q9 -0 17 -2" stroke="#a52a2a" stroke-width="1.3" stroke-linecap="round" fill="none"/>
<path d="M1679 487q6 -1 11 -4M1703 498q9 -2 18 -5M1689 473q10 -4 20 -2M1678 496q9 -0 17 -3M1727 458q1 -5 6 -8M1704 462q6 -6 12 -12M1722 441q4 -2 6 -7M1724 445q3 -4 6 -8M1704 455q3 -5 7 -8M1762 433q-1 -9 -0 -18M1763 439q2 -7 1 -15M1773 453q2 -7 -1 -14M1769 434q-3 -12 -2 -24M1764 458q-4 -10 1 -20M1845 482q-5 -2 -7 -7M1734 493q7 -1 13 -5M1803 499q7 -4 15 -4M1801 499q7 1 14 -0M1752 533q1 -4 4 -7" stroke="#c9523f" stroke-width="1.7" stroke-linecap="round" fill="none"/>
<path d="M1702 478q8 2 17 0M1708 478q7 -2 14 0M1691 472q7 -3 15 -5M1673 489q11 1 20 -6M1675 483q7 -4 14 -4M1845 460q-6 -5 -9 -12M1841 458q-5 -7 -13 -11M1839 488q-5 -3 -10 -8M1743 486q7 -2 15 -3M1733 501q5 -4 10 -6M1753 488q8 0 16 -3M1735 506q5 -4 11 -6" stroke="#a8262a" stroke-width="1.7" stroke-linecap="round" fill="none"/>
<path d="M1688 490q7 -2 15 -3M1696 496q6 1 12 -2M1691 473q11 3 22 -1M1694 484q6 -1 11 -3M1759 430q-0 -9 3 -16M1835 476q-8 -8 -17 -15M1819 482q-6 -4 -11 -9M1827 488q-7 -7 -14 -13M1736 492q6 -4 12 -3M1735 505q6 -1 11 -4M1748 512q5 -1 9 -3M1770 497q9 -1 18 1M1796 494q9 -1 17 2M1770 495q11 -0 22 -0" stroke="#7a1218" stroke-width="2.1" stroke-linecap="round" fill="none"/>
<path d="M1689 496q8 1 16 -2M1707 482q8 -1 17 -2M1680 471q9 0 18 -0M1708 442q6 -5 11 -10M1757 451q3 -7 2 -15M1763 455q4 -8 3 -16M1773 455q-2 -8 -0 -17M1774 462q-0 -8 -1 -16M1758 444q-3 -10 1 -20M1782 442q2 -13 -2 -25M1763 432q-2 -8 -3 -15M1761 442q7 -11 6 -24M1829 468q-11 -5 -15 -16M1829 485q-5 -6 -7 -13M1762 489q13 -2 27 -4M1798 494q9 -3 18 -5M1765 486q8 0 16 -1M1776 497q6 -1 13 -3M1779 483q6 -4 14 -3M1743 530q0 -7 6 -13M1752 534q1 -4 3 -8M1753 541q1 -4 2 -8" stroke="#c9523f" stroke-width="2.1" stroke-linecap="round" fill="none"/>
<path d="M1692 477q8 1 15 -3M1673 493q6 -0 11 -2M1671 488q6 -2 12 -1M1699 483q6 -1 12 0M1762 456q-2 -10 1 -19M1844 483q-5 -3 -9 -8M1759 503q6 -7 15 -9M1747 500q6 -4 13 -6M1758 507q6 -5 13 -6M1792 501q11 -1 22 -6" stroke="#9a1e22" stroke-width="1.3" stroke-linecap="round" fill="none"/>
<path d="M1671 481q7 -1 14 -2M1689 484q6 -4 12 -4M1778 444q-1 -8 -0 -16M1820 463q-2 -8 -8 -13M1823 473q-8 -5 -15 -12M1820 465q-6 -6 -9 -13M1819 481q-3 -9 -10 -15M1842 486q-3 -5 -8 -7M1749 490q6 -4 13 -5M1756 512q6 -5 13 -6M1746 497q7 -4 13 -8M1761 491q13 -4 26 1M1768 499q10 -2 19 -2M1777 484q9 0 17 2" stroke="#6e0f14" stroke-width="1.7" stroke-linecap="round" fill="none"/>
<path d="M1673 480q10 -1 17 -6M1698 489q7 -2 14 -4M1709 484q6 -4 14 -5M1671 485q9 -4 19 -3M1845 476q-6 -4 -10 -9M1827 456q-6 -5 -9 -12M1833 453q-5 -6 -11 -11M1734 493q9 -1 17 -7M1738 508q6 1 12 -2M1733 500q7 -1 13 -4M1753 515q8 -7 18 -6M1776 502q8 2 15 -3" stroke="#9a1e22" stroke-width="2.1" stroke-linecap="round" fill="none"/>
<path d="M1686 491q11 2 21 0M1671 485q8 -1 15 0M1781 441q-1 -10 0 -21M1762 459q-1 -9 2 -17M1764 442q-5 -11 -1 -21M1842 459q-6 -3 -9 -10M1838 481q-2 -9 -8 -14M1753 489q5 -5 12 -6M1761 497q6 -3 13 -3" stroke="#7a1218" stroke-width="1.7" stroke-linecap="round" fill="none"/>
<path d="M1684 491q10 1 20 -1M1687 492q6 -1 11 -4M1680 484q9 -4 18 -4M1715 447q3 -6 7 -11M1714 467q2 -8 7 -13M1705 460q5 -4 8 -9M1769 464q-1 -7 -1 -14M1768 464q1 -10 2 -19M1772 464q-0 -9 -2 -19M1776 434q2 -7 -1 -14M1781 453q4 -11 2 -22M1833 483q-6 -9 -15 -16M1830 478q-9 -3 -14 -11M1836 457q-5 -7 -13 -11M1742 494q10 0 18 -5M1788 497q8 -4 16 -5M1776 502q7 1 13 -2M1766 498q8 2 16 -0M1782 495q7 -0 13 1M1779 482q7 -0 15 -1M1795 500q6 3 13 1M1768 499q13 5 27 -1M1742 543q3 -5 3 -10M1744 554q3 -2 4 -5M1753 540q0 -5 4 -9M1747 518q1 -4 5 -7" stroke="#b3302f" stroke-width="2.1" stroke-linecap="round" fill="none"/>
<path d="M1695 501q7 2 15 -0M1678 475q9 -4 18 -5M1682 487q8 0 15 -4M1700 501q7 -4 16 -6M1725 447q1 -5 5 -9M1710 460q3 -5 9 -9M1712 473q4 -5 7 -10M1772 439q2 -7 0 -14M1763 460q-2 -7 -1 -15M1756 445q4 -8 4 -18M1765 457q-1 -7 -2 -14M1767 438q0 -7 -2 -14M1837 450q-6 -4 -11 -9M1742 489q9 -0 17 -4M1796 493q7 -1 13 1M1772 484q10 1 20 -2M1794 485q8 -1 15 -2M1776 494q8 2 16 -1M1751 549q4 -7 4 -15M1743 522q5 -4 7 -11M1746 549q5 -5 7 -12M1743 553q1 -4 4 -7" stroke="#c0413a" stroke-width="2.1" stroke-linecap="round" fill="none"/>
<path d="M1677 483q11 -2 22 -4M1700 489q9 -1 18 -2M1672 480q6 -2 12 0M1700 480q8 -1 15 -4M1694 503q9 -0 16 -6M1716 454q2 -4 4 -9M1718 453q3 -6 8 -11M1762 460q5 -11 3 -22M1773 460q1 -10 2 -20M1779 444q2 -12 -1 -23M1824 462q-3 -9 -11 -14M1830 463q-4 -5 -9 -9M1829 481q-4 -10 -13 -16M1757 506q4 -3 9 -4M1789 489q8 -1 16 0M1786 498q9 -6 20 -5M1740 530q2 -3 4 -5" stroke="#c0413a" stroke-width="1.3" stroke-linecap="round" fill="none"/>
<path d="M1683 480q11 -5 23 -4M1709 486q8 -1 15 -3M1692 481q7 -4 15 -6M1675 481q11 -0 21 -6M1724 463q3 -4 5 -8M1724 466q7 -3 10 -10M1703 456q1 -7 5 -12M1718 468q3 -7 9 -11M1725 454q6 -4 10 -10M1738 454q1 -8 2 -16M1742 464q3 -7 4 -14M1777 461q5 -10 4 -21M1766 463q2 -9 4 -17M1768 448q1 -7 2 -13M1839 462q-9 -5 -15 -14M1764 499q5 -4 10 -5M1801 496q9 -0 17 0M1762 490q9 -3 19 -1M1799 489q10 2 21 3M1740 528q4 -4 7 -9" stroke="#b3302f" stroke-width="1.7" stroke-linecap="round" fill="none"/>
<path d="M1684 491q8 2 15 -1M1690 486q9 1 18 -2M1676 476q6 -1 13 -2M1681 487q7 -2 15 -2M1761 452q-2 -8 1 -15M1758 450q-3 -11 2 -22M1837 461q-8 -5 -13 -12M1841 486q-4 -7 -10 -13M1830 455q-2 -7 -9 -10M1841 475q-5 -6 -8 -14M1840 468q-3 -4 -6 -9M1762 495q5 -4 10 -5M1767 499q8 -2 15 -2M1784 501q11 -4 22 -1M1749 529q3 -5 2 -11" stroke="#a52a2a" stroke-width="2.1" stroke-linecap="round" fill="none"/>
<path d="M1699 493q11 1 20 -5M1681 492q8 1 14 -3M1822 469q-6 -7 -10 -14M1834 476q-5 -4 -6 -10M1840 454q-7 -5 -9 -14M1755 489q6 -0 12 -2M1760 494q6 -2 11 -3M1748 502q6 -0 11 -4M1742 508q9 -2 18 -3M1800 493q9 -2 17 -4" stroke="#6e0f14" stroke-width="1.3" stroke-linecap="round" fill="none"/>
<path d="M1705 477q5 -3 12 -3M1672 490q6 -3 12 -1M1702 495q8 1 16 -1M1762 434q0 -8 0 -16M1778 460q-3 -6 -1 -13M1775 446q1 -6 -1 -12M1760 509q6 -3 12 -2M1760 501q6 -0 12 -3M1799 490q7 -2 15 0M1788 486q9 -4 17 -1M1797 493q11 -2 22 -3M1775 494q9 -5 19 -4" stroke="#a8262a" stroke-width="2.1" stroke-linecap="round" fill="none"/>
<path d="M1686 480q7 -0 14 -2M1834 471q-5 -6 -7 -13M1817 463q-5 -4 -6 -11M1836 451q-4 -4 -5 -10M1841 463q-8 -8 -12 -18M1759 493q6 -3 13 -4M1755 492q7 -1 12 -6M1734 494q6 -1 10 -5M1750 504q9 1 18 -4M1777 487q10 -1 19 -1M1787 491q10 -7 23 -7M1770 489q7 -1 14 1M1774 498q10 -3 20 -1" stroke="#85161b" stroke-width="1.3" stroke-linecap="round" fill="none"/>
<path d="M1697 472q7 -2 14 -3M1704 481q8 -3 16 -6M1707 496q6 1 13 -0M1675 478q9 -3 19 -2M1694 481q8 -0 15 -5M1715 450q2 -7 7 -11M1724 464q6 -3 8 -9M1740 447q4 -7 3 -14M1757 450q1 -8 2 -17M1778 427q-1 -7 -0 -13M1780 432q1 -6 1 -13M1765 427q-3 -7 -1 -14M1779 440q2 -9 -1 -19M1765 463q-2 -9 -2 -18M1781 434q-4 -9 -3 -19M1769 426q3 -8 -0 -16M1826 469q-7 -4 -10 -11M1830 479q-5 -7 -9 -13M1742 501q6 -3 12 -5M1749 508q7 -1 14 -5M1734 501q10 -2 18 -7M1733 501q10 -1 17 -7M1762 508q5 -2 9 -5M1743 513q4 -2 9 -4M1794 489q10 -0 19 -1M1785 504q7 -0 13 -2M1802 493q7 0 13 -3M1766 499q9 3 17 -1M1773 490q8 1 14 -4M1777 484q9 1 18 -3M1740 531q3 -3 5 -6M1748 535q0 -8 4 -14M1743 542q4 -6 7 -12" stroke="#c0413a" stroke-width="1.7" stroke-linecap="round" fill="none"/>
<path d="M1690 488q8 0 14 -4M1685 486q9 -2 19 -4M1723 461q8 -5 13 -13M1718 462q3 -3 7 -7M1721 457q2 -9 8 -15M1738 447q3 -10 2 -20M1762 460q-0 -6 2 -12M1775 463q3 -11 3 -22M1842 457q-5 -7 -12 -12M1829 485q-3 -5 -8 -8M1834 470q-5 -7 -10 -14M1837 487q-4 -9 -12 -14M1837 467q-6 -7 -9 -15M1745 489q7 -1 14 -4M1789 488q9 0 19 -2M1769 495q8 -4 17 -5M1761 491q6 -3 12 -2M1784 496q8 -2 15 1M1783 488q11 -6 23 -3M1746 530q2 -5 4 -9M1749 549q-0 -5 3 -9M1747 558q3 -7 3 -15M1749 540q2 -4 4 -8" stroke="#b3302f" stroke-width="1.3" stroke-linecap="round" fill="none"/>
<path d="M1708 481q8 -3 16 -1M1708 491q8 -5 17 -6M1696 473q8 -1 16 -2M1727 468q3 -5 8 -8M1713 451q6 -6 9 -14M1703 448q4 -5 8 -11M1726 452q5 -4 8 -10M1722 449q6 -4 9 -11M1706 466q3 -7 9 -11M1741 461q-2 -8 2 -16M1741 462q-3 -10 1 -19M1759 449q1 -6 -0 -12M1768 428q1 -6 -1 -12M1758 446q1 -7 0 -14M1764 438q1 -11 2 -22M1835 462q-6 -3 -9 -9M1846 467q-5 -5 -9 -12M1822 469q-3 -9 -9 -16M1829 458q-4 -7 -11 -10M1760 495q4 -3 9 -4M1736 489q8 -2 15 -5M1761 491q7 -1 13 -2M1744 525q2 -6 4 -12M1753 545q1 -3 3 -6" stroke="#c9523f" stroke-width="1.3" stroke-linecap="round" fill="none"/>
<path d="M1671 488q6 -3 12 -2M1701 476q7 -2 14 -0M1679 473q11 3 21 -0M1769 462q3 -10 2 -20M1742 512q6 -0 10 -5M1763 503q6 -3 12 -5M1748 505q3 -3 8 -5M1759 513q7 -2 13 -6M1752 499q8 1 14 -3M1741 504q6 -3 12 -3M1795 496q10 4 20 1M1791 496q7 -3 15 -3" stroke="#85161b" stroke-width="1.7" stroke-linecap="round" fill="none"/>
<path d="M1673 492q7 -1 13 -1M1672 479q7 2 14 -1M1688 487q7 -3 13 -4M1708 479q6 -2 13 -2M1694 503q11 -3 22 -8M1710 469q3 -5 7 -10M1721 452q4 -5 9 -9M1716 443q4 -2 7 -6M1708 457q2 -5 5 -9M1767 439q-1 -7 3 -14M1771 454q-1 -8 4 -15M1770 439q-3 -11 -2 -23M1832 490q-4 -4 -7 -8M1825 464q-7 -6 -14 -12M1839 488q-5 -7 -8 -15M1841 480q-9 -7 -13 -18M1760 496q5 -1 10 -3M1760 508q7 -2 13 -6M1749 530q3 -5 6 -11M1748 533q1 -5 3 -9M1743 530q6 -5 8 -13M1744 536q3 -6 5 -13" stroke="#a52a2a" stroke-width="1.7" stroke-linecap="round" fill="none"/>
<path d="M1684 491q11 2 21 -0M1762 450q-2 -7 -1 -13M1764 443q-3 -7 -2 -15M1758 453q2 -7 3 -14M1840 461q-3 -5 -8 -9M1833 474q-6 -3 -10 -8M1762 506q6 -2 12 -5M1751 509q4 -2 9 -3M1777 496q12 4 24 1" stroke="#a8262a" stroke-width="1.3" stroke-linecap="round" fill="none"/>
<path d="M1688 474q7 1 15 0M1759 453q1 -10 2 -21M1767 464q2 -8 -1 -16M1841 477q-10 -5 -16 -15M1835 451q-5 -5 -10 -10M1846 461q-8 -3 -12 -11M1824 491q-5 -6 -9 -13M1747 501q5 0 9 -2M1745 513q6 -3 13 -5M1758 493q6 -1 13 -2M1776 488q7 3 14 1" stroke="#85161b" stroke-width="2.1" stroke-linecap="round" fill="none"/>
<path d="M1703 516q7 -3 13 -0M1677 507q8 1 16 -1M1710 463q2 -8 6 -14M1713 441q5 -4 8 -9M1743 438q2 -6 3 -13M1806 449q-4 -8 -6 -17M1802 469q0 -5 -3 -10M1810 442q-4 -9 -2 -18M1835 454q-5 -6 -9 -13M1843 478q-5 -10 -14 -15" stroke="#6c6c6c" stroke-width="2.1" stroke-linecap="round" fill="none"/>
<path d="M1686 507q10 -2 21 -1M1746 436q-2 -8 -0 -16M1745 446q2 -12 -1 -23M1791 458q-3 -5 -3 -11" stroke="#9d9d9d" stroke-width="1.7" stroke-linecap="round" fill="none"/>
<path d="M1704 502q9 -0 16 -4M1689 515q12 1 23 1M1744 458q3 -8 5 -17M1754 456q1 -7 1 -14M1792 454q-0 -8 -5 -14M1790 451q-3 -9 -1 -19M1801 436q-6 -7 -6 -17M1803 436q2 -9 -1 -18M1806 460q-2 -10 -3 -19M1835 488q-3 -7 -10 -11M1836 490q-4 -6 -9 -10" stroke="#8c8c8c" stroke-width="1.3" stroke-linecap="round" fill="none"/>
<path d="M1726 508q7 -3 13 -0M1690 505q7 2 14 1M1747 467q2 -4 4 -9M1806 435q-1 -7 -2 -15M1803 447q-1 -9 -1 -18M1796 463q9 4 20 4M1730 461q14 -0 28 3M1723 462q7 -3 14 -1M1723 464q14 -3 26 4M1823 493q-1 -5 -0 -9M1735 490q-2 -3 -3 -6" stroke="#d0d0d0" stroke-width="1.3" stroke-linecap="round" fill="none"/>
<path d="M1679 510q8 -1 15 -4M1714 513q8 0 16 -3M1727 509q6 1 12 -3M1748 446q3 -8 6 -16M1798 464q-1 -7 -5 -14M1798 433q-2 -7 -5 -13M1811 456q1 -6 -2 -11M1843 458q-6 -8 -14 -12" stroke="#8c8c8c" stroke-width="2.1" stroke-linecap="round" fill="none"/>
<path d="M1691 517q9 -0 17 -4M1717 509q10 1 19 -5M1722 503q6 -2 13 -2M1684 514q7 -2 15 -2M1694 510q13 2 27 0M1749 438q5 -6 5 -14M1802 462q0 -6 -3 -12M1798 449q0 -6 -1 -12M1810 464q-4 -5 -4 -12M1789 458q12 -0 23 0M1768 456q9 -2 18 2M1733 516q-2 -6 -4 -12" stroke="#c6c6c6" stroke-width="1.3" stroke-linecap="round" fill="none"/>
<path d="M1710 502q7 -3 16 -4M1724 506q8 -3 16 1M1677 508q7 0 15 -1M1699 507q9 4 19 0M1707 511q8 -2 16 2M1709 507q9 -4 18 -2M1754 449q1 -11 3 -23M1740 460q3 -8 5 -17M1737 451q3 -7 4 -14M1800 445q-1 -8 -4 -15M1812 444q-4 -10 -4 -21M1809 455q-0 -8 -4 -14M1738 457q14 6 29 6M1764 457q7 2 14 1M1771 461q8 0 17 -2M1737 465q7 -1 14 0M1829 490q-1 -5 -0 -10M1739 509q-3 -6 -6 -11" stroke="#b8b8b8" stroke-width="1.7" stroke-linecap="round" fill="none"/>
<path d="M1689 503q7 -0 14 -2M1716 506q8 -2 16 0M1717 515q9 -5 20 -6M1692 512q9 2 19 1M1702 507q11 -0 20 -6M1741 445q-0 -7 3 -12M1752 466q2 -6 1 -12M1807 440q2 -9 1 -17M1773 462q13 6 27 3M1786 469q10 -4 21 -1M1823 489q2 -6 2 -13" stroke="#b8b8b8" stroke-width="2.1" stroke-linecap="round" fill="none"/>
<path d="M1702 515q13 -1 26 -2M1680 506q6 -3 13 -3M1708 500q10 3 21 2M1714 506q11 2 21 -3M1705 501q11 3 23 2M1791 466q0 -5 -0 -10M1790 458q-2 -9 -3 -19M1718 465q12 -3 25 1M1803 466q8 -3 17 -2M1753 470q10 -3 21 -4M1734 498q-3 -4 -6 -8M1737 495q-1 -4 -5 -7" stroke="#d0d0d0" stroke-width="2.1" stroke-linecap="round" fill="none"/>
<path d="M1705 499q8 -4 17 -2M1712 471q3 -5 8 -9M1752 462q1 -8 5 -16M1751 443q1 -6 3 -11M1794 441q-3 -7 -1 -15M1795 468q-6 -9 -8 -20M1799 452q-4 -7 -6 -14M1797 437q-3 -8 -6 -16M1839 470q-3 -10 -11 -16" stroke="#7a7a7a" stroke-width="2.1" stroke-linecap="round" fill="none"/>
<path d="M1708 505q10 4 20 1M1693 502q7 3 14 0M1708 460q1 -6 5 -10M1753 457q-1 -9 1 -19M1751 453q5 -7 6 -15M1791 457q-0 -11 -4 -21M1801 444q-5 -9 -5 -18M1797 468q-1 -6 0 -12M1798 469q3 -10 0 -20M1801 457q-6 -7 -6 -16M1813 436q-2 -7 -5 -13M1791 443q-2 -9 -3 -18M1848 476q-4 -3 -7 -6" stroke="#adadad" stroke-width="2.1" stroke-linecap="round" fill="none"/>
<path d="M1678 505q9 2 17 -2M1683 513q14 -0 27 -4M1703 516q8 -0 17 -0M1745 466q3 -7 2 -14M1798 468q-2 -6 -3 -12M1789 439q-2 -8 0 -16M1750 460q12 -4 24 -0M1747 463q12 -2 23 -5M1743 457q11 5 22 2M1720 465q11 -4 23 -3M1778 470q12 -4 24 -3" stroke="#c6c6c6" stroke-width="2.1" stroke-linecap="round" fill="none"/>
<path d="M1685 505q9 -3 17 -2M1678 510q8 1 16 1M1720 471q2 -5 6 -8M1751 449q0 -8 2 -16M1797 455q-1 -9 -6 -16M1796 435q2 -8 -2 -16M1830 461q-9 -6 -14 -16" stroke="#7a7a7a" stroke-width="1.7" stroke-linecap="round" fill="none"/>
<path d="M1690 514q9 4 18 2M1678 510q11 1 23 1M1683 513q8 1 14 -3M1748 445q-0 -10 0 -20M1747 451q2 -5 1 -11M1751 453q4 -10 2 -20M1804 447q-4 -9 -5 -18M1844 473q-5 -5 -10 -8" stroke="#6c6c6c" stroke-width="1.3" stroke-linecap="round" fill="none"/>
<path d="M1684 512q8 1 16 0M1696 499q11 -3 23 -1M1712 466q3 -6 7 -11M1745 441q-2 -6 -0 -13M1807 443q1 -8 -0 -16M1805 445q1 -6 -2 -11M1812 441q-1 -9 -2 -17M1798 454q1 -8 -3 -15" stroke="#8c8c8c" stroke-width="1.7" stroke-linecap="round" fill="none"/>
<path d="M1689 505q11 2 23 2M1683 504q9 1 17 -1M1706 467q6 -4 9 -11M1717 442q2 -6 7 -10M1744 435q4 -7 3 -15M1741 451q4 -5 5 -12M1809 450q-1 -7 -1 -15M1833 487q-4 -6 -8 -12" stroke="#9d9d9d" stroke-width="2.1" stroke-linecap="round" fill="none"/>
<path d="M1711 510q9 -1 18 -1M1693 500q7 0 13 -3M1805 447q3 -10 0 -21M1789 456q1 -8 -3 -16M1735 461q13 -1 26 1M1798 466q7 -2 14 -3M1786 459q11 1 22 2M1727 459q14 1 28 2M1804 461q10 -2 19 -1M1824 500q1 -6 -2 -12M1824 489q0 -8 0 -16M1827 494q4 -6 2 -13" stroke="#aeaeae" stroke-width="2.1" stroke-linecap="round" fill="none"/>
<path d="M1683 504q13 2 27 -1M1700 514q12 5 25 2M1727 459q3 -8 7 -16M1750 463q0 -9 5 -15M1743 465q3 -7 4 -14M1742 452q0 -7 0 -15M1791 446q-5 -9 -2 -19M1787 459q2 -9 -2 -18M1795 439q-1 -6 -4 -11M1848 471q-7 -6 -8 -15M1837 457q-3 -6 -10 -10" stroke="#adadad" stroke-width="1.3" stroke-linecap="round" fill="none"/>
<path d="M1702 503q11 2 21 -1M1776 458q12 2 25 5M1786 470q12 -0 24 -4M1733 487q-0 -3 -2 -6" stroke="#aeaeae" stroke-width="1.3" stroke-linecap="round" fill="none"/>
<path d="M1681 513q9 -6 20 -6M1706 467q2 -3 5 -6M1705 447q2 -4 5 -7M1750 465q-2 -9 4 -17M1741 461q1 -10 6 -19M1751 452q-1 -9 4 -17M1805 446q-6 -10 -4 -21M1802 461q-2 -9 -6 -18M1795 443q-2 -9 -1 -19M1811 445q1 -6 -3 -12M1807 460q1 -11 -2 -22M1792 467q-0 -9 -0 -17M1838 459q-6 -8 -12 -16" stroke="#9d9d9d" stroke-width="1.3" stroke-linecap="round" fill="none"/>
<path d="M1705 517q7 -0 13 -3M1680 509q9 -1 17 -5M1749 468q2 -7 1 -15M1750 442q-2 -8 1 -16M1741 431q5 -6 5 -14M1811 458q-4 -10 -7 -21M1795 464q-5 -6 -6 -14M1801 438q-7 -9 -6 -19M1806 441q0 -9 -4 -18M1842 472q-4 -4 -6 -9M1839 476q-5 -6 -8 -14" stroke="#6c6c6c" stroke-width="1.7" stroke-linecap="round" fill="none"/>
<path d="M1678 510q8 1 16 1M1681 503q10 -1 20 1M1743 437q2 -9 1 -18M1752 438q1 -7 4 -14M1788 462q-3 -9 0 -18M1777 459q9 -2 17 -1M1774 466q10 4 21 3M1824 499q1 -4 -0 -8M1735 492q-3 -5 -3 -10" stroke="#aeaeae" stroke-width="1.7" stroke-linecap="round" fill="none"/>
<path d="M1684 502q12 -3 23 2M1783 466q11 2 21 -0" stroke="#c6c6c6" stroke-width="1.7" stroke-linecap="round" fill="none"/>
<path d="M1707 452q5 -3 8 -8M1715 465q6 -4 10 -10" stroke="#d67a62" stroke-width="2.1" stroke-linecap="round" fill="none"/>
<path d="M1716 465q4 -6 7 -13" stroke="#e6a08a" stroke-width="2.1" stroke-linecap="round" fill="none"/>
<path d="M1716 457q4 -7 7 -15M1705 448q4 -7 9 -12M1752 529q3 -2 4 -6" stroke="#e6a08a" stroke-width="1.7" stroke-linecap="round" fill="none"/>
<path d="M1723 455q4 -4 6 -8M1746 541q2 -4 3 -7" stroke="#d67a62" stroke-width="1.3" stroke-linecap="round" fill="none"/>
<path d="M1718 454q4 -7 11 -12" stroke="#cc6c55" stroke-width="2.1" stroke-linecap="round" fill="none"/>
<path d="M1726 453q3 -4 6 -9M1743 524q5 -4 6 -11M1748 538q5 -5 6 -13" stroke="#cc6c55" stroke-width="1.3" stroke-linecap="round" fill="none"/>
<path d="M1714 448q4 -6 6 -12M1716 447q3 -8 10 -13M1749 533q2 -5 5 -11" stroke="#c26650" stroke-width="1.3" stroke-linecap="round" fill="none"/>
<path d="M1719 446q6 -4 8 -12M1747 520q1 -6 3 -12" stroke="#cc6c55" stroke-width="1.7" stroke-linecap="round" fill="none"/>
<path d="M1705 447q4 -4 6 -9" stroke="#d67a62" stroke-width="1.7" stroke-linecap="round" fill="none"/>
<path d="M1744 444q1 -8 3 -16M1739 446q-2 -11 4 -20M1749 429q0 -6 4 -11M1756 435q0 -7 0 -14M1810 452q-2 -10 -3 -20M1788 452q-0 -7 -3 -13M1795 432q-2 -5 -4 -11M1797 469q-5 -10 -5 -21M1843 466q-5 -3 -9 -9" stroke="#adadad" stroke-width="1.7" stroke-linecap="round" fill="none"/>
<path d="M1751 467q3 -8 4 -16M1752 450q4 -11 5 -22M1751 433q3 -7 3 -14M1724 463q8 3 16 1M1731 467q10 2 21 -1M1774 457q7 1 14 1M1735 463q9 -1 17 -3M1737 485q-2 -3 -4 -6" stroke="#b8b8b8" stroke-width="1.3" stroke-linecap="round" fill="none"/>
<path d="M1749 440q3 -10 3 -21M1751 446q0 -9 3 -18M1742 440q5 -6 5 -14M1796 448q2 -6 0 -11M1800 435q-1 -8 -2 -17M1797 461q-1 -7 -2 -14M1786 448q-2 -8 -0 -16M1797 466q2 -11 -4 -20" stroke="#7a7a7a" stroke-width="1.3" stroke-linecap="round" fill="none"/>
<path d="M1769 462q4 -7 3 -15M1834 491q-6 -3 -10 -9M1835 490q-3 -4 -8 -7M1757 507q7 -4 14 -5M1746 505q6 -3 13 -3M1791 485q9 0 18 -3" stroke="#7a1218" stroke-width="1.3" stroke-linecap="round" fill="none"/>
<path d="M1766 436q-1 -11 4 -21M1845 460q-4 -4 -8 -7M1834 484q-3 -5 -7 -9M1831 491q-4 -4 -8 -8M1744 504q4 -2 9 -2M1784 488q7 -1 14 -1" stroke="#6e0f14" stroke-width="2.1" stroke-linecap="round" fill="none"/>
<path d="M1793 460q-0 -11 0 -22M1726 463q11 -4 22 -1M1830 502q2 -8 2 -17" stroke="#d0d0d0" stroke-width="1.7" stroke-linecap="round" fill="none"/>
<path d="M1849 464q-7 -4 -10 -12M1748 514q7 -3 13 -7" stroke="#9a1e22" stroke-width="1.7" stroke-linecap="round" fill="none"/>
<path d="M1802 460q12 1 23 -1M1766 467q12 6 26 3M1784 457q14 -2 27 3M1792 458q11 0 21 4M1829 491q-1 -8 -0 -15M1826 503q-1 -6 -1 -12M1740 492q-1 -4 -5 -7M1736 519q-2 -4 -3 -9M1739 513q-4 -5 -6 -11M1739 509q-1 -3 -3 -6M1732 506q-4 -2 -5 -7M1737 511q-2 -6 -7 -10" stroke="#d0bfae" stroke-width="1.7" stroke-linecap="round" fill="none"/>
<path d="M1805 462q10 0 20 2M1786 463q8 -1 16 2M1729 459q13 -1 25 1M1829 507q-2 -7 1 -15M1823 495q2 -7 1 -14M1738 503q-1 -3 -4 -6M1731 520q-0 -5 -3 -10" stroke="#c4b29f" stroke-width="2.1" stroke-linecap="round" fill="none"/>
<path d="M1719 465q11 -3 22 -3M1783 469q10 -1 20 -3M1788 468q10 -3 20 -3M1768 465q9 2 19 1M1724 461q12 -0 24 -0M1762 460q13 -1 25 -4M1771 470q11 -2 23 -4M1740 459q11 0 21 -1M1828 481q1 -3 1 -7M1828 508q-0 -7 0 -14M1738 513q-3 -5 -4 -10" stroke="#d0bfae" stroke-width="1.3" stroke-linecap="round" fill="none"/>
<path d="M1790 457q14 1 28 6M1741 465q9 -1 17 -2M1809 462q9 0 17 -1M1825 494q1 -5 -0 -9M1735 525q-1 -5 -4 -9" stroke="#dccdbe" stroke-width="1.3" stroke-linecap="round" fill="none"/>
<path d="M1803 468q13 -3 26 -4M1743 461q13 7 27 4M1732 464q14 3 28 -1M1755 459q13 2 26 -2M1825 502q-3 -6 -3 -13M1827 508q-1 -6 2 -11M1738 498q-3 -4 -3 -10" stroke="#dccdbe" stroke-width="1.7" stroke-linecap="round" fill="none"/>
<path d="M1716 463q11 -5 22 -1M1738 466q13 -2 25 3M1763 458q10 -1 19 3M1764 467q10 5 20 3M1793 458q8 -2 15 0M1826 482q0 -5 -1 -10M1734 514q-0 -4 -2 -6M1739 514q-3 -5 -6 -11M1734 502q-4 -3 -5 -7" stroke="#c4b29f" stroke-width="1.7" stroke-linecap="round" fill="none"/>
<path d="M1736 462q13 6 27 1M1771 462q8 -1 15 -2M1831 489q1 -6 -0 -12M1733 503q-2 -4 -5 -7M1739 493q-3 -3 -3 -7M1732 489q-2 -3 -2 -7" stroke="#c4b29f" stroke-width="1.3" stroke-linecap="round" fill="none"/>
<path d="M1748 459q15 -5 29 -0M1788 469q9 -3 18 -3M1735 466q11 2 22 -3M1736 458q7 3 15 1M1799 460q9 1 18 0M1822 493q1 -5 -0 -9M1825 492q2 -8 -2 -15M1733 486q-2 -3 -3 -6M1733 519q-3 -3 -4 -8M1738 501q-4 -4 -7 -9" stroke="#d0bfae" stroke-width="2.1" stroke-linecap="round" fill="none"/>
<path d="M1740 464q7 4 15 2M1825 507q-1 -4 -1 -8M1826 482q0 -5 -1 -10M1734 491q-2 -4 -4 -7M1738 513q-0 -4 -2 -7" stroke="#dccdbe" stroke-width="2.1" stroke-linecap="round" fill="none"/>
<path d="M1744 531q1 -6 3 -12" stroke="#e08f78" stroke-width="2.1" stroke-linecap="round" fill="none"/>
<path d="M1747 553q4 -5 5 -12" stroke="#e6a08a" stroke-width="1.3" stroke-linecap="round" fill="none"/>
<path d="M1751 536q1 -5 3 -10" stroke="#e08f78" stroke-width="1.3" stroke-linecap="round" fill="none"/>
<path d="M1743 551q1 -6 5 -10" stroke="#e08f78" stroke-width="1.7" stroke-linecap="round" fill="none"/>
<ellipse cx="1948.0" cy="479.5" rx="78.0" ry="99.5" fill="#f2f2f2"/>
<ellipse cx="1901.2" cy="449.6" rx="15.0" ry="22.3" fill="#9e9593" fill-opacity="0.5"/>
<ellipse cx="1896.5" cy="489.4" rx="16.2" ry="22.3" fill="#9e9593" fill-opacity="0.5"/>
<ellipse cx="1904.3" cy="529.2" rx="15.0" ry="19.1" fill="#9c8e8e" fill-opacity="0.5"/>
<ellipse cx="1994.8" cy="449.6" rx="15.0" ry="22.3" fill="#9e9593" fill-opacity="0.5"/>
<ellipse cx="1999.5" cy="489.4" rx="16.2" ry="22.3" fill="#9e9593" fill-opacity="0.5"/>
<ellipse cx="1991.7" cy="529.2" rx="15.0" ry="19.1" fill="#9c8e8e" fill-opacity="0.5"/>
<ellipse cx="1921.5" cy="415.8" rx="12.5" ry="22.3" fill="#b55b58" fill-opacity="0.5"/>
<ellipse cx="1974.5" cy="415.8" rx="12.5" ry="22.3" fill="#b55b58" fill-opacity="0.5"/>
<ellipse cx="1938.6" cy="469.6" rx="5.0" ry="31.8" fill="#a73b3d" fill-opacity="0.5"/>
<ellipse cx="1957.4" cy="469.6" rx="5.0" ry="31.8" fill="#a73b3d" fill-opacity="0.5"/>
<ellipse cx="1919.9" cy="479.5" rx="8.7" ry="12.7" fill="#b55b58" fill-opacity="0.5"/>
<ellipse cx="1976.1" cy="479.5" rx="8.7" ry="12.7" fill="#b55b58" fill-opacity="0.5"/>
<ellipse cx="1923.0" cy="543.2" rx="8.7" ry="20.7" fill="#955355" fill-opacity="0.5"/>
<ellipse cx="1973.0" cy="543.2" rx="8.7" ry="20.7" fill="#955355" fill-opacity="0.5"/>
<path d="M1897 449q-8 -3 -16 -8M1916 465q-7 -3 -13 -7M1921 460q-4 -1 -7 -4M1914 462q-5 -3 -10 -7M1911 474q-4 -5 -10 -9M1923 450q-8 -2 -15 -7M1910 478q-6 -6 -13 -10M1923 448q-8 -4 -13 -11M1907 501q-6 1 -11 -0M1902 461q-9 5 -18 4M1905 508q-11 -2 -20 4M1913 493q-6 -1 -12 -0M1904 533q-6 7 -14 11M1919 538q-8 4 -14 10M1898 543q-4 4 -10 4M1917 523q-6 7 -15 11M1925 523q-8 4 -13 11M1979 433q10 -3 16 -11M1975 462q8 -2 15 -5M1981 473q5 -4 10 -8M1983 458q6 -5 13 -6M1991 475q10 -2 20 3M1980 507q8 2 17 -1M1977 495q5 2 11 0M1987 512q6 5 13 5M1998 539q5 4 10 8M1997 518q9 5 16 12M1998 518q7 5 13 10M1973 409q0 -8 -1 -15M1908 485q3 -3 5 -7M1923 482q3 -3 7 -4M1908 477q5 -2 8 -6M1908 476q3 -2 6 -5M1972 492q-1 -3 -4 -5M1984 477q-3 -2 -4 -5M1925 533q-1 -8 -1 -16M1924 539q-4 -6 -3 -14M1933 553q-4 -9 -3 -19M1935 552q-1 -7 -4 -13M1970 556q-2 -11 3 -22M1969 542q2 -11 1 -22" stroke="#adadad" stroke-width="1.7" stroke-linecap="round" fill="none"/>
<path d="M1892 471q-4 -6 -10 -9M1918 452q-5 -6 -13 -10M1905 457q-6 -4 -12 -8M1904 464q-4 -3 -10 -5M1896 455q-7 -3 -14 -7M1907 446q-4 -4 -9 -7M1922 445q-6 -5 -12 -8M1920 466q-11 -1 -20 -7M1896 468q-7 2 -15 2M1886 495q-6 -1 -11 -1M1916 473q-6 1 -12 -1M1910 490q-7 0 -14 0M1904 491q-5 2 -10 0M1895 515q-7 1 -11 7M1919 531q-6 1 -10 5M1918 509q-7 3 -14 6M1893 515q-5 2 -9 5M1912 528q-8 3 -14 8M1975 459q8 -1 14 -5M1978 468q6 -1 10 -4M1986 434q7 -4 12 -9M1981 467q7 -8 16 -11M1994 480q8 0 16 -2M1980 474q7 1 15 1M1982 510q6 0 11 -0M1986 472q7 4 15 1M1983 512q8 -2 16 1M1991 509q8 -2 14 2M1984 505q7 1 14 -1M1981 494q11 -1 22 0M1981 481q8 1 15 -1M1975 518q5 5 11 9M1998 522q6 7 14 11M1988 538q6 4 12 7M1973 516q3 4 8 6M1918 419q4 -9 2 -19M1914 442q-1 -8 2 -16M1924 413q1 -11 8 -20M1962 556q4 -10 3 -20" stroke="#6c6c6c" stroke-width="2.1" stroke-linecap="round" fill="none"/>
<path d="M1923 451q-4 -6 -11 -8M1915 470q-9 2 -18 0M1983 505q10 5 21 3M1985 501q8 3 16 3M1905 428q1 -9 2 -17M1981 426q-7 -11 -9 -24M1980 425q-0 -8 -6 -14M1973 445q-2 -8 -2 -16M1980 446q-1 -7 -2 -14M1920 471q3 -3 5 -7M1918 472q4 -4 10 -7" stroke="#e6a08a" stroke-width="1.7" stroke-linecap="round" fill="none"/>
<path d="M1896 442q-8 -2 -13 -7M1899 479q-5 -3 -8 -7M1912 476q-8 -5 -15 -12M1909 477q-8 -2 -14 -9M1921 461q-3 -4 -8 -5M1918 495q-11 -2 -21 3M1903 513q-11 1 -21 -3M1891 509q-6 0 -11 2M1899 476q-9 3 -19 1M1913 512q-8 -3 -17 -1M1923 533q-9 3 -17 7M1901 540q-6 4 -11 9M1913 528q-7 2 -10 9M1904 526q-9 2 -17 6M1908 534q-6 6 -15 10M1981 459q7 -4 12 -10M1975 454q9 -2 15 -7M1974 445q5 -8 14 -12M1974 458q6 -6 14 -6M2000 442q7 -3 14 -6M1976 450q8 -2 12 -8M1986 465q5 -4 9 -8M1993 446q6 -3 13 -6M2003 440q6 -2 10 -7M1978 488q7 -0 14 0M1999 495q8 -2 16 -1M2006 507q6 1 11 -1M1994 498q8 -1 17 -1M2001 505q8 4 17 2M1991 513q10 4 21 2M1996 534q5 1 9 5M1972 518q7 3 14 5M1988 538q8 4 16 8M1974 533q5 1 10 4M1988 537q5 3 8 7M1983 548q7 2 12 7M1986 540q4 6 11 9M1912 432q1 -12 9 -23M1974 406q-3 -7 -4 -14M1937 475q1 -14 4 -28M1957 445q1 -10 -0 -20M1975 494q-5 -2 -8 -7M1982 476q-4 -6 -7 -11M1978 490q-1 -3 -4 -6M1927 571q-2 -6 -2 -13M1969 543q2 -12 -1 -23" stroke="#8c8c8c" stroke-width="2.1" stroke-linecap="round" fill="none"/>
<path d="M1888 446q-4 -3 -8 -6M1893 455q-7 -1 -13 -5M1898 509q-9 2 -18 1M1986 494q6 -2 13 -2M1928 436q5 -9 3 -19M1904 414q1 -7 6 -12M1969 415q-7 -8 -7 -19M1921 474q3 -4 7 -7" stroke="#cc6c55" stroke-width="2.1" stroke-linecap="round" fill="none"/>
<path d="M1916 440q-9 -2 -15 -7M1919 466q-4 -2 -7 -6M1894 440q-5 -4 -11 -7M1889 444q-4 -3 -7 -6M1920 464q-7 -3 -12 -8M1896 464q-7 -3 -15 -6M1922 450q-6 -4 -10 -9M1895 435q-4 -4 -10 -6M1911 428q-9 -3 -15 -10M1896 477q-9 -2 -18 -0M1897 468q-8 0 -16 3M1919 484q-7 -0 -14 -3M1899 509q-6 -1 -11 2M1901 512q-9 2 -19 1M1910 464q-10 -2 -18 3M1920 486q-8 3 -16 2M1913 529q-9 3 -16 10M1908 535q-6 2 -11 6M1913 539q-3 5 -9 8M1912 537q-9 3 -15 10M1922 521q-7 6 -14 10M1914 537q-8 4 -17 7M1912 540q-6 6 -14 7M1992 465q8 0 15 -5M1999 450q6 -7 14 -10M1979 463q4 -9 14 -12M1989 472q6 1 12 -2M1977 499q8 0 17 1M1998 481q10 3 20 1M2000 466q7 3 15 1M1989 512q8 0 17 -2M1997 539q4 5 11 7M1985 503q6 3 12 7M1920 447q1 -8 1 -15M1975 415q0 -9 -1 -18M1983 415q-0 -10 -5 -20M1941 447q0 -11 -3 -22M1952 490q3 -7 2 -15M1929 553q-1 -8 -6 -15M1966 534q3 -10 6 -20M1966 568q2 -7 1 -15" stroke="#9d9d9d" stroke-width="1.7" stroke-linecap="round" fill="none"/>
<path d="M1903 455q-6 -3 -13 -5M1894 470q-5 -4 -11 -5M1888 507q-6 -2 -12 -2M1899 472q-8 0 -15 2M1979 411q-4 -7 -7 -15M1986 436q-8 -8 -9 -20" stroke="#d67a62" stroke-width="2.1" stroke-linecap="round" fill="none"/>
<path d="M1911 455q-6 -6 -15 -6M1897 515q-8 -1 -15 -1M1907 417q0 -11 6 -20M1927 443q3 -8 4 -17M1912 436q5 -11 5 -23M1968 439q-0 -10 -3 -19M1973 493q-4 -4 -9 -7" stroke="#c26650" stroke-width="1.3" stroke-linecap="round" fill="none"/>
<path d="M1910 443q-6 -6 -14 -8M1896 470q-6 -5 -11 -10M1894 460q-6 -4 -11 -8M1920 434q-9 -4 -17 -10M1922 459q-5 -5 -12 -6M1905 482q-5 -2 -11 -1M1916 486q-6 2 -12 -0M1915 504q-7 -2 -14 1M1916 473q-7 1 -13 -2M1905 533q-8 4 -18 7M1892 528q-4 3 -9 4M1898 535q-6 2 -12 6M1985 474q8 -6 16 -11M2001 453q6 0 11 -4M1980 508q6 -3 13 -1M1981 509q6 -1 12 -2M1987 464q10 -3 20 -4M1993 477q10 4 21 3M1992 493q6 -1 12 -3M2012 492q5 1 10 0M2007 479q7 0 14 -1M1998 515q7 3 12 9M1983 518q7 2 10 9M1905 422q3 -6 4 -12M1979 447q-7 -10 -10 -22M1940 461q-2 -13 -2 -26M1936 503q-1 -13 -0 -25M1923 557q-7 -12 -4 -25M1928 564q-6 -6 -6 -15M1934 549q-3 -10 -7 -20M1978 535q3 -5 4 -11" stroke="#adadad" stroke-width="2.1" stroke-linecap="round" fill="none"/>
<path d="M1906 456q-9 -4 -14 -12M1903 438q-5 -2 -10 -5M1905 471q-10 -1 -18 -8M1895 474q-7 -1 -11 -5M1994 476q7 -8 16 -13M2001 467q7 -0 15 1" stroke="#c6c6c6" stroke-width="1.7" stroke-linecap="round" fill="none"/>
<path d="M1897 452q-8 -4 -12 -11M1899 439q-6 -2 -10 -8M1923 451q-6 -3 -12 -6M1909 449q-4 -4 -9 -6M1915 444q-6 -5 -13 -10M1902 452q-9 -4 -15 -10M1910 473q-8 -1 -15 -6M1893 464q-4 -3 -9 -5M1913 490q-9 -2 -18 -0M1913 475q-8 -3 -17 -3M1900 516q-7 1 -12 -2M1908 474q-7 -3 -13 -1M1906 505q-9 4 -15 13M1923 517q-5 2 -11 4M1909 526q-3 4 -8 6M1906 508q-6 3 -13 5M1900 532q-6 2 -12 4M1912 545q-7 3 -14 7M1976 441q6 -3 10 -9M1984 464q6 -3 12 -5M1976 492q6 3 12 2M1982 480q8 -1 16 3M1982 468q7 2 14 1M1995 511q8 1 16 2M2002 498q7 -1 15 -1M1989 478q9 1 18 -2M1994 539q7 2 12 9M1989 540q7 5 15 6M1982 518q4 4 9 7M1986 431q1 -10 -4 -19M1985 441q-5 -9 -7 -19M1968 429q-3 -6 -4 -13M1976 572q-2 -6 0 -12M1961 541q3 -10 6 -19M1966 534q2 -6 4 -12M1971 534q5 -8 4 -17" stroke="#9d9d9d" stroke-width="2.1" stroke-linecap="round" fill="none"/>
<path d="M1909 441q-7 0 -12 -4M1921 444q-7 -4 -12 -9M1897 450q-6 -6 -14 -11M1912 454q-6 -8 -15 -12M1892 447q-7 -0 -12 -5M1912 443q-7 -3 -15 -5M1899 481q-9 1 -18 -1M1899 509q-7 -0 -14 -1M1917 505q-6 1 -12 0M1895 479q-9 -4 -19 -3M1917 475q-6 1 -12 2M1911 501q-10 2 -19 -2M1902 544q-3 5 -9 8M1904 532q-4 4 -10 5M1982 430q5 -5 11 -8M1987 427q6 -5 13 -8M2000 473q7 -1 12 -6M1980 432q6 -4 12 -9M1994 464q8 -1 14 -7M1990 464q6 1 12 2M2003 467q6 0 13 -0M1977 490q7 -1 14 -1M1987 473q7 1 14 2M2002 481q6 -2 12 0M1992 468q6 -1 12 0M2005 480q8 -1 16 1M1981 528q8 4 16 10M1972 541q8 2 15 6M1907 426q1 -7 3 -14M1976 426q-1 -7 -1 -15M1984 402q1 -7 -3 -13M1956 514q1 -9 1 -17M1972 485q-2 -3 -5 -5M1978 470q-2 -4 -6 -7M1978 476q-3 -2 -5 -5M1976 477q-3 -5 -9 -7M1919 546q1 -12 -1 -24M1934 558q-4 -7 -3 -16M1971 568q1 -10 3 -20M1980 557q2 -10 5 -20" stroke="#6c6c6c" stroke-width="1.7" stroke-linecap="round" fill="none"/>
<path d="M1922 456q-5 -6 -12 -8M1903 461q-9 -5 -16 -11M1892 481q-7 1 -15 3M1918 478q-9 -3 -19 -0M1913 467q-7 1 -14 2M1897 526q-4 4 -10 6M1900 537q-5 2 -10 4M1987 464q7 -7 15 -11M2004 481q5 2 11 2M1989 472q8 -1 15 3M1980 481q8 4 17 1M1986 526q6 4 12 7M1986 521q4 6 12 8" stroke="#d0d0d0" stroke-width="1.3" stroke-linecap="round" fill="none"/>
<path d="M1920 440q-9 -2 -15 -9M1911 474q-7 -4 -16 -5M1901 454q-6 -5 -13 -9M1907 463q-7 -2 -11 -9M1904 466q-8 1 -17 0M1919 486q-7 -3 -14 -0M1901 487q-6 3 -13 2M1899 480q-9 1 -17 -0M1905 497q-9 1 -18 1M1895 504q-8 -2 -16 -1M1894 489q-9 1 -17 -0M1907 477q-6 1 -11 2M1908 526q-6 5 -14 6M1923 527q-8 7 -16 12M1922 540q-8 7 -19 8M1925 524q-5 4 -11 4M1894 520q-5 3 -10 5M2005 446q5 -4 10 -6M1994 445q5 -3 10 -4M1993 464q6 -6 14 -8M1984 459q5 -3 11 -4M1994 471q10 0 19 4M1990 482q9 -1 17 -2M2002 492q7 -2 15 -3M1990 473q5 3 10 2M1982 488q5 1 10 -1M2003 476q9 1 17 -3M1984 514q7 3 11 9M1982 514q7 6 16 7M1971 523q5 6 12 8M1922 418q4 -6 5 -13M1963 426q2 -8 -1 -17M1975 438q-1 -9 -5 -18M1936 492q-4 -12 -4 -24M1932 538q2 -11 -3 -20M1975 565q3 -8 1 -17M1964 563q3 -8 6 -16M1979 564q-3 -9 -0 -18" stroke="#7a7a7a" stroke-width="1.7" stroke-linecap="round" fill="none"/>
<path d="M1894 455q-6 -7 -14 -11M1922 452q-6 -6 -15 -7M1894 467q-8 -1 -13 -7M1899 465q-10 -5 -18 -13M1905 427q-4 -6 -11 -7M1917 467q-11 -3 -19 -10M1910 453q-7 -3 -11 -10M1899 489q-7 -1 -15 -1M1916 507q-7 1 -14 1M1889 486q-8 1 -15 2M1896 501q-9 2 -19 -1M1901 479q-8 -1 -15 3M1903 466q-10 -2 -20 3M1915 493q-5 -2 -10 -2M1915 471q-10 -1 -19 -3M1909 501q-7 3 -15 1M1925 534q-6 3 -12 7M1903 528q-6 7 -14 9M1911 517q-4 6 -12 9M1983 471q9 -3 15 -10M2000 441q6 -5 13 -8M1993 433q5 -6 11 -8M1988 446q5 -6 12 -7M1979 456q7 -9 17 -12M1976 488q6 0 12 -2M1993 474q7 -2 14 2M1989 474q9 0 17 -3M1977 484q7 -1 14 1M1981 531q7 1 13 5M1996 535q5 4 11 6M1915 440q1 -7 6 -12M1914 420q4 -9 4 -19M1913 444q2 -7 6 -14M1964 408q-2 -6 -3 -13M1936 512q4 -11 2 -23M1938 479q2 -9 -1 -18M1925 558q-0 -8 -5 -14M1926 542q1 -12 -6 -22" stroke="#6c6c6c" stroke-width="1.3" stroke-linecap="round" fill="none"/>
<path d="M1912 475q-6 -1 -11 -4M1894 470q-7 -1 -15 -1M1899 514q-8 -1 -15 -2M1917 489q-6 -3 -13 -1M1912 466q-6 3 -13 2M1892 477q-8 1 -17 -1M1920 488q-10 -4 -19 -1M1906 501q-6 -1 -11 2M1902 517q-6 5 -13 11M1917 533q-5 3 -10 7M1923 519q-6 6 -14 12M1917 510q-5 5 -13 5M2001 453q9 -2 14 -9M1974 453q7 -7 16 -13M1990 457q5 -4 10 -7M1996 445q6 -4 13 -6M1974 445q6 -2 11 -5M1986 435q10 -1 18 -8M2005 455q5 -3 11 -6M1979 504q8 -2 15 1M1985 468q6 -2 12 -1M1983 544q10 3 17 11M1982 544q10 1 18 7M1984 513q8 6 15 12M2001 518q6 4 11 10M1976 422q-6 -11 -10 -22M1975 491q-3 -2 -5 -5M1933 533q-1 -9 -6 -17M1930 555q-1 -8 -3 -15" stroke="#9d9d9d" stroke-width="1.3" stroke-linecap="round" fill="none"/>
<path d="M1894 466q-7 -2 -12 -6M1973 450q5 -3 11 -4M1924 413q1 -11 8 -19M1913 419q-2 -11 3 -21M1990 430q-6 -7 -6 -17M1992 421q-3 -11 -5 -22" stroke="#d67a62" stroke-width="1.3" stroke-linecap="round" fill="none"/>
<path d="M1900 470q-4 -3 -9 -5M1994 508q9 -1 19 -0M1911 424q5 -9 3 -20M1921 441q3 -7 4 -14M1987 410q-3 -8 -6 -15M1972 425q-5 -7 -4 -16" stroke="#e08f78" stroke-width="1.7" stroke-linecap="round" fill="none"/>
<path d="M1914 431q-8 -6 -18 -8M1917 489q-5 0 -10 -1M1917 503q-11 -4 -22 -2M1998 447q7 -6 16 -6M2001 444q6 -5 14 -6M1994 461q4 -6 11 -8M1994 464q9 -6 16 -14M1988 475q4 -3 9 -6M2000 530q5 5 12 6M1975 523q7 7 14 12" stroke="#d0d0d0" stroke-width="1.7" stroke-linecap="round" fill="none"/>
<path d="M1917 442q-7 -3 -14 -8M1904 476q-10 4 -21 2M1916 472q-7 -2 -14 -3M1920 487q-6 1 -11 0M1973 412q-8 -7 -9 -18M1991 423q-1 -9 -5 -17M1909 478q3 -3 5 -5" stroke="#e6a08a" stroke-width="2.1" stroke-linecap="round" fill="none"/>
<path d="M1908 429q-8 -2 -14 -8M1907 465q-4 -5 -10 -7M1914 469q-6 -3 -12 -6M1915 490q-9 1 -18 2M1896 507q-9 -0 -18 3M1913 489q-6 -1 -12 2M1918 496q-6 -3 -12 -2M1909 473q-5 1 -11 1M1894 469q-8 0 -16 3M1894 483q-8 1 -16 -2M1910 505q-9 4 -19 7M1898 526q-6 6 -15 8M1896 535q-6 2 -11 5M1924 520q-7 5 -16 8M1910 517q-5 6 -12 8M1988 426q6 -2 10 -8M1990 446q5 -1 10 -4M1988 469q9 -0 15 -7M1985 429q10 -2 18 -9M1974 442q4 -4 9 -6M2001 474q7 -2 11 -8M1992 471q7 0 13 -0M1977 484q5 -3 10 -2M1986 497q7 2 14 1M1992 507q7 7 15 13M1995 526q9 1 15 8M1973 535q6 3 10 7M1976 521q10 2 20 7M1915 445q2 -6 3 -13M1919 405q1 -9 5 -17M1975 483q-3 -2 -5 -6M1975 539q5 -11 2 -23M1972 568q4 -13 6 -26" stroke="#7a7a7a" stroke-width="2.1" stroke-linecap="round" fill="none"/>
<path d="M1900 454q-4 -6 -10 -9M1908 463q-7 -1 -12 -5M1907 479q-7 -1 -14 -2M1914 469q-8 -2 -16 1M1915 527q-5 4 -12 5M1918 532q-8 7 -19 11M2001 439q6 -0 10 -3M1982 468q6 -2 12 -4M1974 452q8 -4 13 -11M2013 491q5 -0 10 -2M2002 507q5 1 11 2M1984 521q5 5 10 9M1990 503q7 2 12 7" stroke="#d0d0d0" stroke-width="2.1" stroke-linecap="round" fill="none"/>
<path d="M1914 475q-5 -4 -11 -6M1909 459q-7 -4 -14 -6M1901 443q-4 -7 -11 -9M1896 439q-7 -1 -14 -5M1922 455q-6 -2 -11 -6M1917 464q-4 -5 -9 -7M1907 431q-6 -2 -11 -6M1889 504q-6 1 -13 1M1898 469q-9 4 -19 3M1899 510q-5 1 -11 2M1912 477q-10 0 -20 -3M1917 504q-7 1 -14 3M1896 522q-5 7 -12 10M1910 532q-7 5 -16 8M1997 440q6 -5 13 -5M1993 430q7 -3 14 -7M1994 464q7 -3 14 -2M2003 506q6 1 12 -1M2008 491q7 1 15 -1M1977 498q6 1 12 1M1984 537q6 6 15 10M1970 530q7 3 15 5M1974 514q7 1 13 4M1974 544q9 2 16 6M1932 478q2 -11 3 -22M1960 450q-2 -12 -4 -24M1931 565q2 -11 -2 -21M1930 530q2 -8 -2 -14M1965 566q2 -7 3 -14M1964 560q2 -11 7 -20M1964 551q4 -9 2 -18M1975 559q-0 -11 5 -20" stroke="#7a7a7a" stroke-width="1.3" stroke-linecap="round" fill="none"/>
<path d="M1894 454q-8 -3 -14 -8M1913 452q-5 -6 -12 -8M1917 434q-7 -2 -14 -6M1921 457q-6 -4 -12 -6M1921 460q-7 -6 -16 -7M1910 484q-9 -1 -17 -3M1902 503q-8 -1 -17 -3M1899 501q-6 -3 -14 -3M1904 505q-5 4 -10 7M1983 472q9 -1 16 -6M1979 472q5 -2 8 -5M1975 452q7 -3 14 -6M1974 446q4 -4 8 -7M1996 476q7 -5 15 -8M1988 487q7 -1 14 0M1985 485q6 -0 11 1M1997 467q8 2 15 2M1991 471q5 2 10 2M1988 511q7 1 15 1M2004 497q7 -3 15 -3M1989 469q6 -0 12 -2M2002 483q9 2 18 1M2006 475q7 1 13 2M1992 536q6 0 10 3M1972 518q7 1 13 5M1995 540q6 5 13 6M1984 531q7 4 15 7M2004 527q5 3 9 7M1978 509q6 4 12 9M1972 424q1 -7 -1 -14M1986 412q-1 -9 -7 -15M1907 478q3 -3 6 -6M1925 547q-4 -6 -5 -13M1930 562q-2 -7 -2 -15M1931 545q-2 -8 -1 -16M1933 561q-3 -10 -7 -19M1978 559q-2 -7 0 -15M1971 543q2 -9 7 -17M1967 569q1 -7 3 -15M1966 551q-1 -8 2 -15" stroke="#8c8c8c" stroke-width="1.3" stroke-linecap="round" fill="none"/>
<path d="M1897 446q-8 -3 -16 -6M1908 455q-6 -6 -14 -10M1900 504q-7 -2 -14 -1M1925 538q-6 1 -11 4M1926 529q-7 1 -13 5M1979 458q6 -6 14 -7M1978 431q8 -5 17 -7M2000 459q6 -3 11 -7M1981 510q5 1 9 5M1995 542q6 4 13 5" stroke="#aeaeae" stroke-width="1.7" stroke-linecap="round" fill="none"/>
<path d="M1901 468q-5 -9 -15 -13M1895 441q-7 -4 -13 -8M1896 536q-6 3 -11 7M1918 543q-5 1 -8 6M1906 504q-10 3 -15 11M1994 488q9 -2 18 0M1978 501q7 2 14 2M1986 488q8 -1 16 -1M1971 536q8 3 16 6M1970 526q7 2 12 8" stroke="#aeaeae" stroke-width="1.3" stroke-linecap="round" fill="none"/>
<path d="M1917 463q-5 -5 -12 -9M1903 454q-5 -2 -9 -6M1904 466q-7 -3 -14 -5M1910 481q-9 1 -19 0M1897 512q-6 -1 -12 -2M1904 502q-6 -0 -12 -0M1918 487q-8 -2 -16 -1M1919 509q-5 5 -12 8M1896 521q-4 6 -11 9M1906 529q-9 1 -14 8M1900 545q-5 2 -8 6M1922 535q-8 7 -17 12M1981 426q9 -0 16 -6M1992 428q7 -4 14 -5M1986 467q6 -4 12 -8M1984 502q8 2 16 2M1978 479q9 -4 19 -2M1981 484q7 1 14 -2M2007 491q8 -1 15 -2M1997 495q9 3 17 -0M1995 517q6 0 11 -2M1986 478q6 0 12 1M2007 483q8 2 15 -2M2011 483q6 0 11 1M1990 466q11 -0 21 4M1988 536q5 5 11 7M2002 513q4 4 9 7M1982 507q6 3 9 8M1987 508q8 8 18 12M1977 509q5 3 11 5M1927 414q4 -6 5 -14M1930 537q-3 -8 -5 -16M1932 558q-2 -6 -1 -13M1923 562q-1 -6 -1 -13" stroke="#8c8c8c" stroke-width="1.7" stroke-linecap="round" fill="none"/>
<path d="M1891 441q-5 -1 -9 -6M1912 435q-5 -3 -10 -4M2002 458q7 -4 14 -6M1926 435q2 -12 5 -23M1920 485q5 -4 8 -10M1975 479q-5 -4 -7 -9" stroke="#c26650" stroke-width="2.1" stroke-linecap="round" fill="none"/>
<path d="M1902 456q-6 -6 -14 -10M1914 491q-11 3 -21 -1M1982 472q9 -4 16 -10M1984 413q-4 -7 -5 -15M1975 437q-2 -11 -8 -21M1983 416q-1 -8 -1 -15M1984 443q-4 -9 -8 -17M1913 473q4 -5 8 -10" stroke="#cc6c55" stroke-width="1.7" stroke-linecap="round" fill="none"/>
<path d="M1912 468q-6 -5 -13 -9M1903 431q-7 -4 -14 -7M1913 491q-7 3 -15 3M1913 473q-7 -2 -14 -2M1898 508q-7 -1 -13 2M1896 474q-9 -3 -18 -4M1916 506q-8 6 -16 10M1921 545q-5 4 -11 6M2004 463q7 -2 12 -7M1983 462q6 -6 12 -11M1992 434q9 -3 19 -6M1985 466q7 -1 13 -4M2000 461q7 -5 16 -7M1991 449q5 -3 11 -5M1990 431q5 -2 9 -6M1992 472q8 -1 15 2M1993 471q8 -1 16 2M1993 515q5 -1 11 -2M2007 495q7 0 13 3M1998 512q9 0 17 1M1984 512q10 2 17 8M1986 505q5 4 10 8M1997 529q8 2 15 6M1975 514q6 3 12 4M1985 540q5 4 10 4M1971 531q6 5 14 8M1906 430q5 -12 8 -24M1932 419q3 -7 6 -13M1924 442q4 -10 9 -19M1910 406q5 -8 7 -18M1989 423q-5 -6 -4 -14M1934 492q-2 -15 6 -28M1920 560q-0 -7 -0 -15M1924 541q-2 -7 -4 -14M1922 573q2 -11 -2 -20M1929 550q-6 -11 -6 -24M1965 563q-2 -10 2 -20M1965 535q3 -8 1 -15M1973 573q3 -5 3 -11" stroke="#adadad" stroke-width="1.3" stroke-linecap="round" fill="none"/>
<path d="M1898 436q-5 -6 -12 -8M1909 473q-8 -1 -16 1M1905 511q-9 -2 -18 -2M1903 517q-7 4 -14 8M1914 517q-6 6 -14 7M1925 534q-9 7 -20 7M1974 448q8 -5 16 -10M1976 465q7 -4 15 -6M1990 435q6 -6 14 -9M1977 548q9 1 16 8M1977 531q7 4 15 8M1998 530q8 3 13 10" stroke="#c6c6c6" stroke-width="1.3" stroke-linecap="round" fill="none"/>
<path d="M1893 444q-6 -2 -11 -6M1901 506q-7 1 -13 -1M1890 477q-7 1 -14 -1M1912 466q-6 -0 -12 -0M1908 503q-8 -0 -16 3M1923 516q-4 5 -10 6M1978 454q9 -7 19 -11M1982 441q5 -1 10 -5M1995 467q7 -4 15 -6M1993 514q7 1 15 2M1982 505q11 -2 20 3M1978 544q7 7 15 12" stroke="#b8b8b8" stroke-width="2.1" stroke-linecap="round" fill="none"/>
<path d="M1902 514q-6 1 -12 -2M1913 480q-7 -0 -14 -0M1904 516q-8 1 -15 -3M1924 539q-5 3 -10 5M1896 517q-5 2 -10 5M1904 522q-7 4 -15 5M1995 476q8 -4 14 -11M1992 463q9 -1 17 -6M1977 468q7 -4 14 -9M1981 477q6 -0 11 -2M1993 485q7 3 14 1M1985 500q7 -1 13 2M1981 505q7 1 13 -1" stroke="#aeaeae" stroke-width="2.1" stroke-linecap="round" fill="none"/>
<path d="M1908 483q-9 4 -18 1M1907 467q-10 -1 -19 2M1900 475q-6 -1 -13 1M1915 477q-10 -4 -22 -5M1911 535q-7 7 -14 13M1901 531q-6 4 -13 7M1919 518q-8 3 -14 8M1915 507q-4 4 -10 4M1974 445q7 -4 12 -9M1991 479q9 -4 18 -10M2002 473q6 -3 11 -8M1979 548q5 3 10 4M1985 506q7 6 14 11" stroke="#b8b8b8" stroke-width="1.3" stroke-linecap="round" fill="none"/>
<path d="M1888 497q-7 -2 -14 -1M1997 488q7 -1 15 -0M1982 469q10 2 20 -3M1915 430q-1 -9 3 -18M1989 419q-4 -12 -10 -23M1971 414q-3 -6 -6 -12M1972 487q-3 -6 -8 -11" stroke="#e08f78" stroke-width="1.3" stroke-linecap="round" fill="none"/>
<path d="M1890 508q-6 -1 -13 -1M1913 505q-5 2 -11 2M1995 493q5 -3 11 -2M1992 499q8 -3 17 -3M1917 447q2 -8 6 -16M1912 419q-2 -12 5 -23M1906 405q5 -10 10 -19M1928 431q3 -9 5 -19M1927 420q0 -9 3 -17M1965 443q-4 -10 -4 -22M1916 471q3 -5 6 -9" stroke="#e08f78" stroke-width="2.1" stroke-linecap="round" fill="none"/>
<path d="M1912 502q-9 5 -18 3M1994 433q7 -4 12 -10M1999 452q6 -9 16 -13M2001 471q6 -1 12 -4M1986 487q6 -1 13 -2M1924 418q-2 -10 3 -20M1987 410q0 -7 -2 -15M1985 430q-1 -9 -7 -17M1987 485q-4 -2 -6 -6" stroke="#c26650" stroke-width="1.7" stroke-linecap="round" fill="none"/>
<path d="M1925 521q-8 3 -13 9M1994 543q6 3 12 4M1923 402q2 -8 7 -15M1922 439q5 -11 2 -22M1918 408q-3 -10 1 -20M1967 412q-5 -8 -5 -17M1967 416q-0 -12 -6 -22M1966 409q-2 -8 -3 -16M1986 437q-3 -10 -6 -19M1936 495q-1 -9 4 -17M1937 481q-3 -7 -2 -14M1942 494q-3 -11 -0 -22M1960 509q1 -9 -3 -17M1958 461q-4 -7 -2 -15M1963 484q-1 -13 -0 -26M1955 454q-3 -13 1 -26M1956 505q-0 -12 -3 -24M1919 478q3 -4 7 -6M1920 497q5 -1 8 -5M1915 478q5 -2 7 -7M1910 475q1 -3 4 -5M1980 487q-3 -4 -6 -9M1982 490q-6 -2 -8 -7" stroke="#c9523f" stroke-width="1.7" stroke-linecap="round" fill="none"/>
<path d="M1894 529q-4 5 -11 6M1999 537q5 4 10 7M1917 396q0 -6 3 -12M1915 439q3 -8 4 -17M1915 401q-0 -9 4 -16M1909 439q5 -7 5 -16M1924 447q3 -7 2 -14M1986 425q-1 -14 -9 -25M1976 412q-5 -9 -3 -20M1982 424q-6 -9 -5 -19M1938 455q4 -9 4 -19M1939 515q-1 -7 -2 -14M1956 444q2 -10 1 -19M1917 497q2 -5 7 -7M1916 490q3 -5 7 -9M1976 478q-7 -3 -11 -9M1987 488q-4 -3 -6 -8M1986 473q-5 -4 -7 -10M1932 563q1 -8 -2 -16M1983 553q-2 -8 1 -15M1975 536q3 -10 3 -21" stroke="#b3302f" stroke-width="2.1" stroke-linecap="round" fill="none"/>
<path d="M1917 545q-6 1 -12 4M1978 450q5 -3 9 -6M1984 440q5 -5 12 -7M2005 437q4 -3 8 -4M1999 462q8 -3 12 -10M2000 496q10 0 19 3M1980 472q4 2 9 1M2005 478q8 0 15 -1M1971 524q7 1 13 5M1995 520q6 4 13 6" stroke="#c6c6c6" stroke-width="2.1" stroke-linecap="round" fill="none"/>
<path d="M1905 507q-9 4 -17 9M1996 533q5 5 12 6M1996 527q7 5 14 11M1930 430q-1 -8 3 -14M1929 414q6 -8 7 -17M1920 410q4 -8 5 -17M1975 430q-1 -7 -3 -13M1970 425q-1 -11 -8 -20M1971 435q-4 -8 -3 -18M1935 475q-3 -9 -2 -18M1944 489q0 -9 0 -18M1912 470q2 -5 7 -9M1912 475q3 -3 6 -6M1910 476q4 -3 8 -6M1912 476q6 -3 10 -8M1974 562q-0 -8 0 -16" stroke="#a52a2a" stroke-width="1.3" stroke-linecap="round" fill="none"/>
<path d="M1923 539q-10 4 -19 8M1898 527q-8 0 -15 6M1977 509q5 3 9 8M1928 420q1 -9 6 -17M1905 428q3 -11 7 -22M1968 408q-0 -8 -1 -17M1963 428q1 -8 -2 -15M1977 426q-3 -9 -7 -18M1982 440q-5 -7 -5 -15M1979 397q1 -7 -1 -13M1982 421q-3 -10 -8 -20M1972 447q-6 -8 -8 -18M1936 480q-2 -13 -0 -26M1936 509q-1 -14 1 -29M1944 454q2 -10 -4 -19M1942 507q3 -11 -2 -20M1964 461q-1 -13 -5 -26M1961 489q-4 -11 -2 -22M1960 462q-0 -8 2 -16M1954 499q-3 -14 -1 -27M1961 456q-3 -10 -1 -20M1922 490q6 -2 10 -7M1920 481q6 -3 10 -9M1969 481q-4 -3 -5 -7M1987 488q-4 -2 -8 -5M1978 488q-3 -3 -5 -7M1982 471q-3 -1 -5 -4M1935 543q-0 -7 -4 -12M1931 533q-3 -9 -6 -19M1969 562q2 -7 2 -15" stroke="#c0413a" stroke-width="1.7" stroke-linecap="round" fill="none"/>
<path d="M1899 535q-8 1 -14 8M1908 517q-4 4 -8 7M1998 529q7 4 14 7M1908 427q2 -8 6 -16M1929 417q0 -7 2 -13M1923 403q3 -9 2 -18M1920 410q2 -9 7 -17M1919 422q3 -6 5 -13M1987 425q-6 -11 -8 -23M1980 406q-7 -8 -7 -19M1934 449q4 -10 4 -21M1941 460q-1 -10 3 -19M1957 481q-4 -10 -4 -21M1963 496q-4 -10 -4 -21M1959 498q-1 -7 -0 -14M1909 476q3 -3 4 -6M1921 471q4 -3 6 -7M1985 493q-3 -5 -8 -7M1987 482q-1 -4 -5 -7M1974 471q-3 -2 -6 -5M1970 476q-3 -2 -5 -6M1925 530q-1 -8 -5 -16M1933 562q-3 -5 -2 -11" stroke="#b3302f" stroke-width="1.7" stroke-linecap="round" fill="none"/>
<path d="M1915 506q-5 4 -11 7M2002 460q8 -1 14 -7M1998 444q5 -5 12 -7M1994 437q5 -5 11 -7M1977 495q5 -2 11 -1" stroke="#b8b8b8" stroke-width="1.7" stroke-linecap="round" fill="none"/>
<path d="M1918 540q-6 6 -14 10M1992 547q4 5 11 6M1908 436q1 -12 5 -23M1913 402q4 -6 7 -13M1918 422q4 -12 10 -23M1909 437q4 -8 4 -16M1989 417q-2 -8 -5 -16M1974 448q-1 -8 -5 -15M1964 417q-5 -9 -4 -20M1972 420q1 -7 -2 -14M1940 457q2 -11 2 -21M1942 506q-4 -14 -6 -29M1938 485q5 -11 2 -22M1942 502q0 -12 2 -23M1943 499q2 -13 -2 -25M1940 463q-2 -13 -3 -27M1938 493q3 -9 -0 -18M1961 506q-0 -14 -2 -27M1981 493q-3 -5 -8 -9M1981 480q-1 -4 -5 -6M1975 559q2 -6 3 -12" stroke="#b3302f" stroke-width="1.3" stroke-linecap="round" fill="none"/>
<path d="M1897 526q-8 -0 -14 5M1916 432q5 -8 4 -18M1921 419q-2 -11 1 -21M1923 447q1 -10 2 -20M1925 418q0 -8 6 -13M1918 406q-0 -8 1 -15M1978 423q-2 -7 -5 -14M1985 428q-1 -7 -6 -13M1978 430q-1 -10 -6 -19M1964 418q-3 -9 -1 -18M1943 449q-3 -8 -2 -17M1944 473q2 -7 0 -14M1959 456q3 -11 3 -23M1955 451q-1 -8 -2 -16M1908 476q3 -3 7 -5M1913 476q3 -4 6 -8M1983 476q-4 -2 -6 -6M1983 552q-0 -8 0 -16M1979 548q3 -13 2 -26" stroke="#c0413a" stroke-width="2.1" stroke-linecap="round" fill="none"/>
<path d="M1913 544q-8 6 -16 10M1925 524q-6 5 -14 7M1991 549q5 2 9 5M1971 523q8 2 14 7M1915 423q3 -8 3 -16M1922 447q3 -7 4 -15M1912 414q2 -9 3 -19M1913 421q1 -9 2 -17M1921 415q3 -8 1 -16M1976 411q-3 -8 -4 -16M1970 425q1 -10 -4 -19M1965 408q-1 -7 -4 -13M1939 508q-5 -10 -4 -22M1939 463q2 -7 1 -15M1937 508q0 -8 -2 -15M1954 502q0 -8 -1 -16M1952 474q-1 -10 -1 -19M1955 513q-5 -14 -3 -28M1960 507q-1 -11 3 -21M1958 440q-0 -8 1 -15M1912 469q2 -3 5 -6M1970 477q-3 -2 -5 -4M1971 476q-2 -4 -6 -5M1988 483q-5 -3 -8 -8M1981 495q-3 -3 -6 -5M1980 467q-3 -4 -8 -5" stroke="#c9523f" stroke-width="2.1" stroke-linecap="round" fill="none"/>
<path d="M1994 460q7 -3 12 -10M1992 469q8 1 16 -2M1977 408q-6 -10 -4 -22" stroke="#d67a62" stroke-width="1.7" stroke-linecap="round" fill="none"/>
<path d="M1998 435q8 0 14 -5M1993 466q7 0 13 -1M1923 420q-1 -7 1 -13M1982 422q-3 -7 -5 -14M1973 432q2 -8 -1 -15M1922 476q2 -5 6 -8M1909 481q5 -3 6 -9" stroke="#e6a08a" stroke-width="1.3" stroke-linecap="round" fill="none"/>
<path d="M1986 545q6 4 12 8M1983 504q8 3 15 8M1920 413q3 -8 4 -16M1907 435q4 -7 7 -14M1935 429q3 -7 2 -15M1923 445q1 -8 4 -15M1916 412q2 -11 5 -21M1983 426q-5 -11 -3 -23M1987 439q0 -8 -4 -15M1969 402q-2 -6 -5 -13M1976 429q-2 -8 -3 -15M1983 400q-4 -8 -7 -16M1943 449q-1 -10 -4 -20M1939 485q-2 -12 4 -24M1940 501q0 -8 -1 -16M1938 474q8 -14 5 -29M1958 478q0 -11 1 -21M1961 467q-4 -11 -4 -24M1957 501q0 -10 4 -19M1961 510q2 -9 -1 -19M1959 462q2 -7 2 -14M1973 473q-1 -4 -5 -7M1972 482q-4 -3 -8 -8M1916 548q2 -11 -3 -20M1926 526q-4 -5 -4 -11M1972 528q0 -7 3 -14M1971 527q-2 -6 -0 -12" stroke="#c0413a" stroke-width="1.3" stroke-linecap="round" fill="none"/>
<path d="M1983 528q6 6 14 7M1978 515q7 1 13 6M1906 432q4 -7 5 -14M1919 425q0 -8 5 -15M1909 410q3 -9 7 -16M1925 420q5 -7 6 -17M1906 432q1 -6 5 -11M1922 432q4 -8 3 -18M1931 409q3 -8 2 -16M1962 424q-3 -6 -5 -13M1987 422q1 -9 -5 -17M1968 420q2 -10 -2 -19M1984 403q-1 -9 -6 -16M1990 423q-8 -10 -9 -22M1981 437q-2 -8 -4 -16M1961 454q0 -7 2 -14M1919 492q4 -3 5 -8M1927 537q-1 -7 -1 -13M1932 544q-2 -8 0 -16M1920 564q2 -10 0 -21M1968 551q0 -10 1 -20M1978 554q-1 -12 0 -24" stroke="#c9523f" stroke-width="1.3" stroke-linecap="round" fill="none"/>
<path d="M1986 528q7 3 13 7M1983 512q7 8 17 9M1912 441q1 -12 7 -22M1926 402q-2 -8 2 -15M1989 435q-1 -6 -5 -10M1962 429q-4 -8 -5 -18M1973 419q-3 -13 -10 -24M1991 421q0 -9 -5 -17M1942 496q3 -10 0 -21M1939 500q-4 -12 1 -23M1937 488q2 -12 -3 -22M1935 504q2 -11 1 -22M1955 450q-1 -11 2 -22M1964 471q-4 -9 -3 -18M1959 498q4 -7 3 -16M1958 475q-2 -7 -2 -14M1918 472q6 -2 9 -7M1916 473q2 -4 5 -6M1920 497q3 -7 8 -10M1978 497q-3 -3 -7 -5M1972 557q2 -10 2 -20M1976 549q3 -8 0 -16" stroke="#a52a2a" stroke-width="1.7" stroke-linecap="round" fill="none"/>
<path d="M1998 515q4 4 10 6M1983 532q6 2 11 4M1919 404q4 -8 3 -16M1930 440q-2 -10 3 -18M1909 419q5 -12 6 -24M1925 447q0 -9 2 -17M1926 410q1 -9 2 -18M1914 444q-3 -11 3 -21M1975 412q-1 -6 -3 -13M1969 429q-3 -9 -3 -19M1941 481q-3 -11 -2 -21M1957 468q4 -8 1 -17M1953 505q-2 -11 2 -21M1908 484q3 -3 5 -7M1908 474q6 -3 9 -8M1917 479q2 -4 5 -7M1978 482q-4 -2 -5 -5M1935 544q0 -7 -4 -13M1967 529q2 -6 4 -12M1973 568q4 -9 2 -19" stroke="#a52a2a" stroke-width="2.1" stroke-linecap="round" fill="none"/>
<path d="M1932 411q5 -9 2 -18M1914 417q-0 -9 2 -17M1970 425q-2 -10 -1 -19M1910 491q3 -4 8 -6M1921 475q2 -5 5 -8" stroke="#cc6c55" stroke-width="1.3" stroke-linecap="round" fill="none"/>
<path d="M1939 506q4 -9 1 -19M1934 468q5 -13 1 -27M1976 555q4 -8 4 -17" stroke="#a8262a" stroke-width="1.3" stroke-linecap="round" fill="none"/>
<path d="M1934 490q1 -14 0 -28M1935 499q4 -10 3 -21M1958 463q-3 -12 -1 -24M1930 566q1 -7 -3 -13M1976 560q5 -10 3 -20M1978 558q2 -8 0 -16" stroke="#a8262a" stroke-width="2.1" stroke-linecap="round" fill="none"/>
<path d="M1943 471q1 -12 -3 -24M1930 558q-3 -7 -5 -14" stroke="#a8262a" stroke-width="1.7" stroke-linecap="round" fill="none"/>
<path d="M1932 482q3 -13 4 -26M1956 453q2 -10 -3 -19M1954 449q0 -12 2 -24M1916 560q1 -11 -2 -21M1929 561q-6 -8 -6 -17M1915 557q1 -7 -2 -14M1977 535q2 -8 3 -16" stroke="#85161b" stroke-width="2.1" stroke-linecap="round" fill="none"/>
<path d="M1939 478q3 -8 -0 -16M1962 505q-1 -12 -4 -23M1919 537q-3 -7 -3 -14M1973 534q3 -9 4 -19" stroke="#7a1218" stroke-width="2.1" stroke-linecap="round" fill="none"/>
<path d="M1936 462q-1 -12 -3 -25M1961 455q-1 -7 -1 -15M1957 480q1 -15 -3 -29" stroke="#85161b" stroke-width="1.7" stroke-linecap="round" fill="none"/>
<path d="M1934 463q-4 -12 1 -24M1964 482q-1 -7 -1 -14M1958 463q3 -9 0 -18M1916 546q-3 -7 -2 -14M1973 531q3 -8 3 -16" stroke="#9a1e22" stroke-width="1.7" stroke-linecap="round" fill="none"/>
<path d="M1939 464q3 -12 0 -25M1960 490q-2 -8 -2 -16M1954 448q1 -8 -0 -17M1955 489q-6 -11 -5 -24M1921 536q-1 -6 -4 -12M1980 539q-2 -6 -0 -13" stroke="#6e0f14" stroke-width="2.1" stroke-linecap="round" fill="none"/>
<path d="M1935 463q-3 -8 -2 -16M1959 482q4 -7 2 -15M1933 547q-3 -8 -2 -17M1924 554q-5 -11 -4 -23M1966 538q0 -10 -0 -19M1972 554q2 -10 2 -20" stroke="#6e0f14" stroke-width="1.3" stroke-linecap="round" fill="none"/>
<path d="M1954 461q-0 -9 -2 -17M1932 554q-1 -8 -2 -16M1930 563q-2 -11 -5 -21M1977 571q2 -7 3 -15M1979 532q0 -6 1 -12" stroke="#9a1e22" stroke-width="1.3" stroke-linecap="round" fill="none"/>
<path d="M1960 473q-1 -9 3 -17M1925 546q-4 -12 -9 -24M1979 561q2 -7 1 -15" stroke="#6e0f14" stroke-width="1.7" stroke-linecap="round" fill="none"/>
<path d="M1955 472q1 -11 4 -22M1956 488q-5 -12 0 -25M1923 561q-5 -9 -7 -19M1932 563q2 -9 -2 -17M1920 571q2 -11 -1 -22M1914 553q-2 -6 -1 -13" stroke="#7a1218" stroke-width="1.7" stroke-linecap="round" fill="none"/>
<path d="M1926 528q-4 -6 -4 -14M1922 572q-5 -8 -7 -18M1924 551q-5 -11 -8 -23M1967 537q-3 -10 0 -20M1976 572q4 -8 1 -17" stroke="#9a1e22" stroke-width="2.1" stroke-linecap="round" fill="none"/>
<path d="M1933 552q0 -8 -3 -14M1974 553q2 -13 3 -26" stroke="#7a1218" stroke-width="1.3" stroke-linecap="round" fill="none"/>
<path d="M1974 567q0 -12 6 -22M1963 561q-2 -7 1 -12" stroke="#85161b" stroke-width="1.3" stroke-linecap="round" fill="none"/>
<text x="1674.00" y="93.50" font-size="33.5" font-weight="bold" text-anchor="middle" fill="#000" >Mode 1: Association Development Mode</text>
<text x="1306.00" y="357.00" font-size="33.5" font-weight="bold" text-anchor="start" fill="#000" >Mode 2: Subcortical/limbic Development Mode</text>
<defs><linearGradient id="cbar" x1="0" x2="1" y1="0" y2="0"><stop offset="0" stop-color="#111"/><stop offset="0.25" stop-color="#888"/><stop offset="0.47" stop-color="#fff"/><stop offset="0.55" stop-color="#fde3d3"/><stop offset="0.72" stop-color="#f08a68"/><stop offset="0.88" stop-color="#c8102e"/><stop offset="1" stop-color="#67001f"/></linearGradient></defs>
<rect x="1634.00" y="676.60" width="105.00" height="15.60" fill="url(#cbar)" />
<text x="1690.00" y="663.30" font-size="33.3" font-weight="bold" text-anchor="middle" fill="#000" >Loading</text>
<text x="1549.00" y="696.60" font-size="33.3" font-weight="normal" text-anchor="start" fill="#000" >+0.1</text>
<text x="1756.00" y="696.60" font-size="33.3" font-weight="normal" text-anchor="start" fill="#000" >+0.4</text>
<text x="0.00" y="814.00" font-size="41.7" font-weight="bold" text-anchor="start" fill="#000" >B</text>
<text x="53.00" y="814.00" font-size="41.7" font-weight="bold" text-anchor="start" fill="#000" >The sCCA loadings of 51 behavioral measures in the 1<tspan font-size="25.9" dy="-15.8">st</tspan><tspan dy="15.8"> and 2</tspan><tspan font-size="25.9" dy="-15.8">nd</tspan><tspan dy="15.8">&#160; sCCA modes</tspan></text>
<rect x="153.80" y="852.80" width="5.40" height="210.90" fill="#000" />
<rect x="139.50" y="852.85" width="19.50" height="5.40" fill="#000" />
<text x="134.00" y="864.55" font-size="25" font-weight="bold" text-anchor="end" fill="#000" >0.5</text>
<rect x="139.50" y="882.20" width="19.50" height="5.40" fill="#000" />
<text x="134.00" y="893.90" font-size="25" font-weight="bold" text-anchor="end" fill="#000" >0.4</text>
<rect x="139.50" y="911.55" width="19.50" height="5.40" fill="#000" />
<text x="134.00" y="923.25" font-size="25" font-weight="bold" text-anchor="end" fill="#000" >0.3</text>
<rect x="139.50" y="940.90" width="19.50" height="5.40" fill="#000" />
<text x="134.00" y="952.60" font-size="25" font-weight="bold" text-anchor="end" fill="#000" >0.2</text>
<rect x="139.50" y="970.25" width="19.50" height="5.40" fill="#000" />
<text x="134.00" y="981.95" font-size="25" font-weight="bold" text-anchor="end" fill="#000" >0.1</text>
<rect x="139.50" y="999.60" width="19.50" height="5.40" fill="#000" />
<text x="134.00" y="1011.30" font-size="25" font-weight="bold" text-anchor="end" fill="#000" >0.0</text>
<rect x="139.50" y="1028.95" width="19.50" height="5.40" fill="#000" />
<text x="134.00" y="1040.65" font-size="25" font-weight="bold" text-anchor="end" fill="#000" >-0.1</text>
<rect x="139.50" y="1058.30" width="19.50" height="5.40" fill="#000" />
<text x="134.00" y="1070.00" font-size="25" font-weight="bold" text-anchor="end" fill="#000" >-0.2</text>
<rect x="166.15" y="917.18" width="18.50" height="85.12" fill="#808080" />
<rect x="200.05" y="967.67" width="18.50" height="34.63" fill="#808080" />
<rect x="233.95" y="951.23" width="18.50" height="51.07" fill="#808080" />
<rect x="267.85" y="921.29" width="18.50" height="81.01" fill="#808080" />
<rect x="301.75" y="932.74" width="18.50" height="69.56" fill="#808080" />
<rect x="335.65" y="967.67" width="18.50" height="34.63" fill="#808080" />
<rect x="369.55" y="939.20" width="18.50" height="63.10" fill="#808080" />
<rect x="403.45" y="892.53" width="18.50" height="109.77" fill="#808080" />
<rect x="437.35" y="910.14" width="18.50" height="92.16" fill="#808080" />
<rect x="471.25" y="874.63" width="18.50" height="127.67" fill="#808080" />
<rect x="505.15" y="939.20" width="18.50" height="63.10" fill="#808080" />
<rect x="539.05" y="946.83" width="18.50" height="55.47" fill="#808080" />
<rect x="572.95" y="975.59" width="18.50" height="26.71" fill="#808080" />
<rect x="606.85" y="983.22" width="18.50" height="19.08" fill="#808080" />
<rect x="640.75" y="997.90" width="18.50" height="4.40" fill="#808080" />
<rect x="674.65" y="1002.30" width="18.50" height="5.28" fill="#808080" />
<rect x="708.55" y="933.62" width="18.50" height="68.68" fill="#808080" />
<rect x="742.45" y="955.05" width="18.50" height="47.25" fill="#808080" />
<rect x="911.55" y="1002.30" width="18.50" height="23.77" fill="#6b6b6b" />
<rect x="1067.29" y="1002.30" width="18.50" height="21.72" fill="#808080" />
<rect x="1136.45" y="1002.30" width="18.50" height="47.25" fill="#808080" />
<rect x="1171.03" y="1002.30" width="18.50" height="12.91" fill="#808080" />
<rect x="1205.61" y="1002.30" width="18.50" height="6.46" fill="#808080" />
<rect x="1274.77" y="1002.30" width="18.50" height="12.33" fill="#808080" />
<rect x="1309.35" y="1002.30" width="18.50" height="21.72" fill="#808080" />
<rect x="1447.67" y="1002.30" width="18.50" height="38.74" fill="#808080" />
<rect x="1516.83" y="1002.30" width="18.50" height="10.57" fill="#808080" />
<rect x="1551.41" y="1002.30" width="18.50" height="14.38" fill="#808080" />
<rect x="1620.57" y="1002.30" width="18.50" height="7.92" fill="#808080" />
<circle cx="175.40" cy="917.18" r="10.50" fill="#ff8a0a" />
<circle cx="209.30" cy="967.67" r="10.50" fill="#ff8a0a" />
<circle cx="243.20" cy="951.23" r="10.50" fill="#ff8a0a" />
<circle cx="277.10" cy="921.29" r="10.50" fill="#ff8a0a" />
<circle cx="311.00" cy="932.74" r="10.50" fill="#ff8a0a" />
<circle cx="344.90" cy="967.67" r="10.50" fill="#ff8a0a" />
<circle cx="378.80" cy="939.20" r="10.50" fill="#ff8a0a" />
<circle cx="412.70" cy="892.53" r="10.50" fill="#ff8a0a" />
<circle cx="446.60" cy="910.14" r="10.50" fill="#ff8a0a" />
<circle cx="480.50" cy="874.63" r="10.50" fill="#ff8a0a" />
<circle cx="514.40" cy="939.20" r="10.50" fill="#ff8a0a" />
<circle cx="548.30" cy="946.83" r="10.50" fill="#ff8a0a" />
<circle cx="582.20" cy="975.59" r="10.50" fill="#ff8a0a" />
<circle cx="616.10" cy="983.22" r="10.50" fill="#b3b3b3" />
<circle cx="650.00" cy="997.90" r="10.50" fill="#b3b3b3" />
<circle cx="683.90" cy="1007.58" r="10.50" fill="#b3b3b3" />
<circle cx="717.80" cy="933.62" r="10.50" fill="#ff8a0a" />
<circle cx="751.70" cy="955.05" r="10.50" fill="#ff8a0a" />
<circle cx="785.60" cy="1002.30" r="10.50" fill="#b3b3b3" />
<circle cx="972.80" cy="1002.30" r="10.50" fill="#b3b3b3" />
<circle cx="1007.38" cy="1002.30" r="10.50" fill="#b3b3b3" />
<circle cx="1041.96" cy="1002.30" r="10.50" fill="#b3b3b3" />
<circle cx="1076.54" cy="1024.02" r="10.50" fill="#2883ea" />
<circle cx="1111.12" cy="1002.30" r="10.50" fill="#b3b3b3" />
<circle cx="1145.70" cy="1049.55" r="10.50" fill="#2883ea" />
<text x="1145.70" y="1061.73" font-size="29" font-weight="bold" text-anchor="middle" fill="#fff" >*</text>
<circle cx="1180.28" cy="1015.21" r="10.50" fill="#b3b3b3" />
<circle cx="1214.86" cy="1008.76" r="10.50" fill="#b3b3b3" />
<circle cx="1249.44" cy="1002.30" r="10.50" fill="#b3b3b3" />
<circle cx="1284.02" cy="1014.63" r="10.50" fill="#b3b3b3" />
<circle cx="1318.60" cy="1024.02" r="10.50" fill="#2883ea" />
<text x="1318.60" y="1059.28" font-size="29" font-weight="normal" text-anchor="middle" fill="#000" >*</text>
<circle cx="1353.18" cy="1002.30" r="10.50" fill="#b3b3b3" />
<circle cx="1387.76" cy="1002.30" r="10.50" fill="#b3b3b3" />
<circle cx="1422.34" cy="1002.30" r="10.50" fill="#b3b3b3" />
<circle cx="1456.92" cy="1041.04" r="10.50" fill="#2883ea" />
<text x="1456.92" y="1053.22" font-size="29" font-weight="bold" text-anchor="middle" fill="#fff" >*</text>
<circle cx="1491.50" cy="1002.30" r="10.50" fill="#b3b3b3" />
<circle cx="1526.08" cy="1012.87" r="10.50" fill="#b3b3b3" />
<circle cx="1560.66" cy="1016.68" r="10.50" fill="#b3b3b3" />
<circle cx="1595.24" cy="1002.30" r="10.50" fill="#b3b3b3" />
<circle cx="1685.60" cy="1002.30" r="10.50" fill="#b3b3b3" />
<circle cx="1718.55" cy="1002.30" r="10.50" fill="#b3b3b3" />
<circle cx="1751.50" cy="1002.30" r="10.50" fill="#b3b3b3" />
<circle cx="1784.45" cy="1002.30" r="10.50" fill="#b3b3b3" />
<circle cx="1868.20" cy="1002.30" r="10.50" fill="#b3b3b3" />
<circle cx="1903.20" cy="1002.30" r="10.50" fill="#b3b3b3" />
<circle cx="1938.20" cy="1002.30" r="10.50" fill="#b3b3b3" />
<rect x="138.60" y="999.60" width="699.80" height="5.40" fill="#000" />
<rect x="138.60" y="1058.30" width="699.80" height="5.40" fill="#000" />
<rect x="852.00" y="999.60" width="37.30" height="5.40" fill="#000" />
<rect x="852.00" y="1058.30" width="37.30" height="5.40" fill="#000" />
<rect x="902.50" y="999.60" width="37.30" height="5.40" fill="#000" />
<rect x="902.50" y="1058.30" width="37.30" height="5.40" fill="#000" />
<rect x="953.40" y="999.60" width="700.10" height="5.40" fill="#000" />
<rect x="953.40" y="1058.30" width="700.10" height="5.40" fill="#000" />
<rect x="1668.60" y="999.60" width="167.80" height="5.40" fill="#000" />
<rect x="1668.60" y="1058.30" width="167.80" height="5.40" fill="#000" />
<rect x="1848.80" y="999.60" width="145.30" height="5.40" fill="#000" />
<rect x="1848.80" y="1058.30" width="145.30" height="5.40" fill="#000" />
<rect x="172.65" y="1061.00" width="5.50" height="18.50" fill="#000" />
<rect x="206.55" y="1061.00" width="5.50" height="18.50" fill="#000" />
<rect x="240.45" y="1061.00" width="5.50" height="18.50" fill="#000" />
<rect x="274.35" y="1061.00" width="5.50" height="18.50" fill="#000" />
<rect x="308.25" y="1061.00" width="5.50" height="18.50" fill="#000" />
<rect x="342.15" y="1061.00" width="5.50" height="18.50" fill="#000" />
<rect x="376.05" y="1061.00" width="5.50" height="18.50" fill="#000" />
<rect x="409.95" y="1061.00" width="5.50" height="18.50" fill="#000" />
<rect x="443.85" y="1061.00" width="5.50" height="18.50" fill="#000" />
<rect x="477.75" y="1061.00" width="5.50" height="18.50" fill="#000" />
<rect x="511.65" y="1061.00" width="5.50" height="18.50" fill="#000" />
<rect x="545.55" y="1061.00" width="5.50" height="18.50" fill="#000" />
<rect x="579.45" y="1061.00" width="5.50" height="18.50" fill="#000" />
<rect x="613.35" y="1061.00" width="5.50" height="18.50" fill="#000" />
<rect x="647.25" y="1061.00" width="5.50" height="18.50" fill="#000" />
<rect x="681.15" y="1061.00" width="5.50" height="18.50" fill="#000" />
<rect x="715.05" y="1061.00" width="5.50" height="18.50" fill="#000" />
<rect x="748.95" y="1061.00" width="5.50" height="18.50" fill="#000" />
<rect x="782.85" y="1061.00" width="5.50" height="18.50" fill="#000" />
<circle cx="819.50" cy="1002.30" r="10.50" fill="#b3b3b3" />
<rect x="816.75" y="1061.00" width="5.50" height="18.50" fill="#000" />
<circle cx="870.20" cy="1002.30" r="10.50" fill="#b3b3b3" />
<rect x="867.45" y="1061.00" width="5.50" height="18.50" fill="#000" />
<circle cx="920.80" cy="1026.07" r="10.50" fill="#2a7a77" />
<rect x="918.05" y="1061.00" width="5.50" height="18.50" fill="#000" />
<rect x="970.05" y="1061.00" width="5.50" height="18.50" fill="#000" />
<rect x="1004.63" y="1061.00" width="5.50" height="18.50" fill="#000" />
<rect x="1039.21" y="1061.00" width="5.50" height="18.50" fill="#000" />
<rect x="1073.79" y="1061.00" width="5.50" height="18.50" fill="#000" />
<rect x="1108.37" y="1061.00" width="5.50" height="18.50" fill="#000" />
<rect x="1142.95" y="1061.00" width="5.50" height="18.50" fill="#000" />
<rect x="1177.53" y="1061.00" width="5.50" height="18.50" fill="#000" />
<rect x="1212.11" y="1061.00" width="5.50" height="18.50" fill="#000" />
<rect x="1246.69" y="1061.00" width="5.50" height="18.50" fill="#000" />
<rect x="1281.27" y="1061.00" width="5.50" height="18.50" fill="#000" />
<rect x="1315.85" y="1061.00" width="5.50" height="18.50" fill="#000" />
<rect x="1350.43" y="1061.00" width="5.50" height="18.50" fill="#000" />
<rect x="1385.01" y="1061.00" width="5.50" height="18.50" fill="#000" />
<rect x="1419.59" y="1061.00" width="5.50" height="18.50" fill="#000" />
<rect x="1454.17" y="1061.00" width="5.50" height="18.50" fill="#000" />
<rect x="1488.75" y="1061.00" width="5.50" height="18.50" fill="#000" />
<rect x="1523.33" y="1061.00" width="5.50" height="18.50" fill="#000" />
<rect x="1557.91" y="1061.00" width="5.50" height="18.50" fill="#000" />
<rect x="1592.49" y="1061.00" width="5.50" height="18.50" fill="#000" />
<circle cx="1629.82" cy="1010.22" r="10.50" fill="#b3b3b3" />
<rect x="1627.07" y="1061.00" width="5.50" height="18.50" fill="#000" />
<rect x="1682.85" y="1061.00" width="5.50" height="18.50" fill="#000" />
<rect x="1715.80" y="1061.00" width="5.50" height="18.50" fill="#000" />
<rect x="1748.75" y="1061.00" width="5.50" height="18.50" fill="#000" />
<rect x="1781.70" y="1061.00" width="5.50" height="18.50" fill="#000" />
<circle cx="1817.40" cy="1002.30" r="10.50" fill="#b3b3b3" />
<rect x="1814.65" y="1061.00" width="5.50" height="18.50" fill="#000" />
<rect x="1865.45" y="1061.00" width="5.50" height="18.50" fill="#000" />
<rect x="1900.45" y="1061.00" width="5.50" height="18.50" fill="#000" />
<rect x="1935.45" y="1061.00" width="5.50" height="18.50" fill="#000" />
<circle cx="1973.20" cy="1002.30" r="10.50" fill="#b3b3b3" />
<rect x="1970.45" y="1061.00" width="5.50" height="18.50" fill="#000" />
<text transform="translate(29.00,971.00) rotate(-90)" font-size="29.2" font-weight="bold" text-anchor="middle">1<tspan font-size="18.1" dy="-11.1">st</tspan><tspan dy="11.1"> sCCA mode</tspan></text>
<text transform="translate(65.00,971.00) rotate(-90)" font-size="29.2" font-weight="bold" text-anchor="middle">loading</text>
<rect x="153.80" y="1119.10" width="5.40" height="210.40" fill="#000" />
<rect x="139.50" y="1119.35" width="19.50" height="5.40" fill="#000" />
<text x="134.00" y="1131.05" font-size="25" font-weight="bold" text-anchor="end" fill="#000" >0.5</text>
<rect x="139.50" y="1148.60" width="19.50" height="5.40" fill="#000" />
<text x="134.00" y="1160.30" font-size="25" font-weight="bold" text-anchor="end" fill="#000" >0.4</text>
<rect x="139.50" y="1177.85" width="19.50" height="5.40" fill="#000" />
<text x="134.00" y="1189.55" font-size="25" font-weight="bold" text-anchor="end" fill="#000" >0.3</text>
<rect x="139.50" y="1207.10" width="19.50" height="5.40" fill="#000" />
<text x="134.00" y="1218.80" font-size="25" font-weight="bold" text-anchor="end" fill="#000" >0.2</text>
<rect x="139.50" y="1236.35" width="19.50" height="5.40" fill="#000" />
<text x="134.00" y="1248.05" font-size="25" font-weight="bold" text-anchor="end" fill="#000" >0.1</text>
<rect x="139.50" y="1265.60" width="19.50" height="5.40" fill="#000" />
<text x="134.00" y="1277.30" font-size="25" font-weight="bold" text-anchor="end" fill="#000" >0.0</text>
<rect x="139.50" y="1294.85" width="19.50" height="5.40" fill="#000" />
<text x="134.00" y="1306.55" font-size="25" font-weight="bold" text-anchor="end" fill="#000" >-0.1</text>
<rect x="139.50" y="1324.10" width="19.50" height="5.40" fill="#000" />
<text x="134.00" y="1335.80" font-size="25" font-weight="bold" text-anchor="end" fill="#000" >-0.2</text>
<rect x="166.15" y="1184.94" width="18.50" height="83.36" fill="#808080" />
<rect x="200.05" y="1234.66" width="18.50" height="33.64" fill="#808080" />
<rect x="233.95" y="1227.06" width="18.50" height="41.24" fill="#808080" />
<rect x="267.85" y="1174.70" width="18.50" height="93.60" fill="#808080" />
<rect x="301.75" y="1182.60" width="18.50" height="85.70" fill="#808080" />
<rect x="335.65" y="1232.91" width="18.50" height="35.39" fill="#808080" />
<rect x="369.55" y="1214.19" width="18.50" height="54.11" fill="#808080" />
<rect x="403.45" y="1159.49" width="18.50" height="108.81" fill="#808080" />
<rect x="437.35" y="1184.06" width="18.50" height="84.24" fill="#808080" />
<rect x="471.25" y="1147.50" width="18.50" height="120.80" fill="#808080" />
<rect x="505.15" y="1184.94" width="18.50" height="83.36" fill="#808080" />
<rect x="539.05" y="1218.58" width="18.50" height="49.72" fill="#808080" />
<rect x="572.95" y="1241.97" width="18.50" height="26.33" fill="#808080" />
<rect x="606.85" y="1251.92" width="18.50" height="16.38" fill="#808080" />
<rect x="640.75" y="1255.43" width="18.50" height="12.87" fill="#808080" />
<rect x="674.65" y="1268.30" width="18.50" height="19.89" fill="#808080" />
<rect x="708.55" y="1201.32" width="18.50" height="66.98" fill="#808080" />
<rect x="742.45" y="1224.13" width="18.50" height="44.17" fill="#808080" />
<rect x="911.55" y="1268.30" width="18.50" height="36.27" fill="#6b6b6b" />
<rect x="998.13" y="1268.30" width="18.50" height="4.68" fill="#808080" />
<rect x="1067.29" y="1268.30" width="18.50" height="23.69" fill="#808080" />
<rect x="1136.45" y="1268.30" width="18.50" height="33.05" fill="#808080" />
<rect x="1171.03" y="1268.30" width="18.50" height="6.73" fill="#808080" />
<rect x="1205.61" y="1268.30" width="18.50" height="10.53" fill="#808080" />
<rect x="1274.77" y="1268.30" width="18.50" height="11.70" fill="#808080" />
<rect x="1309.35" y="1268.30" width="18.50" height="11.70" fill="#808080" />
<rect x="1343.93" y="1268.30" width="18.50" height="4.68" fill="#808080" />
<rect x="1447.67" y="1268.30" width="18.50" height="22.52" fill="#808080" />
<rect x="1516.83" y="1268.30" width="18.50" height="13.45" fill="#808080" />
<rect x="1551.41" y="1268.30" width="18.50" height="5.85" fill="#808080" />
<rect x="1620.57" y="1268.30" width="18.50" height="3.22" fill="#808080" />
<circle cx="175.40" cy="1184.94" r="10.50" fill="#ff8a0a" />
<circle cx="209.30" cy="1234.66" r="10.50" fill="#ff8a0a" />
<circle cx="243.20" cy="1227.06" r="10.50" fill="#ff8a0a" />
<circle cx="277.10" cy="1174.70" r="10.50" fill="#ff8a0a" />
<text x="277.10" y="1172.91" font-size="29" font-weight="normal" text-anchor="middle" fill="#000" >*</text>
<circle cx="311.00" cy="1182.60" r="10.50" fill="#ff8a0a" />
<text x="311.00" y="1180.81" font-size="29" font-weight="normal" text-anchor="middle" fill="#000" >*</text>
<circle cx="344.90" cy="1232.91" r="10.50" fill="#ff8a0a" />
<circle cx="378.80" cy="1214.19" r="10.50" fill="#ff8a0a" />
<circle cx="412.70" cy="1159.49" r="10.50" fill="#ff8a0a" />
<circle cx="446.60" cy="1184.06" r="10.50" fill="#ff8a0a" />
<circle cx="480.50" cy="1147.50" r="10.50" fill="#ff8a0a" />
<circle cx="514.40" cy="1184.94" r="10.50" fill="#ff8a0a" />
<text x="514.40" y="1183.15" font-size="29" font-weight="normal" text-anchor="middle" fill="#000" >*</text>
<circle cx="548.30" cy="1218.58" r="10.50" fill="#ff8a0a" />
<circle cx="582.20" cy="1241.97" r="10.50" fill="#ff8a0a" />
<circle cx="616.10" cy="1251.92" r="10.50" fill="#b3b3b3" />
<circle cx="650.00" cy="1255.43" r="10.50" fill="#b3b3b3" />
<circle cx="683.90" cy="1288.19" r="10.50" fill="#ff8a0a" />
<text x="683.90" y="1323.45" font-size="29" font-weight="normal" text-anchor="middle" fill="#000" >*</text>
<circle cx="717.80" cy="1201.32" r="10.50" fill="#ff8a0a" />
<circle cx="751.70" cy="1224.13" r="10.50" fill="#ff8a0a" />
<circle cx="785.60" cy="1268.30" r="10.50" fill="#b3b3b3" />
<circle cx="972.80" cy="1268.30" r="10.50" fill="#b3b3b3" />
<circle cx="1007.38" cy="1272.98" r="10.50" fill="#b3b3b3" />
<circle cx="1041.96" cy="1268.30" r="10.50" fill="#b3b3b3" />
<circle cx="1076.54" cy="1291.99" r="10.50" fill="#2883ea" />
<circle cx="1111.12" cy="1268.30" r="10.50" fill="#b3b3b3" />
<circle cx="1145.70" cy="1301.35" r="10.50" fill="#2883ea" />
<circle cx="1180.28" cy="1275.03" r="10.50" fill="#b3b3b3" />
<circle cx="1214.86" cy="1278.83" r="10.50" fill="#b3b3b3" />
<circle cx="1249.44" cy="1268.30" r="10.50" fill="#b3b3b3" />
<circle cx="1284.02" cy="1280.00" r="10.50" fill="#b3b3b3" />
<circle cx="1318.60" cy="1280.00" r="10.50" fill="#b3b3b3" />
<circle cx="1353.18" cy="1272.98" r="10.50" fill="#b3b3b3" />
<circle cx="1387.76" cy="1268.30" r="10.50" fill="#b3b3b3" />
<circle cx="1422.34" cy="1268.30" r="10.50" fill="#b3b3b3" />
<circle cx="1456.92" cy="1290.82" r="10.50" fill="#2883ea" />
<circle cx="1491.50" cy="1268.30" r="10.50" fill="#b3b3b3" />
<circle cx="1526.08" cy="1281.75" r="10.50" fill="#b3b3b3" />
<circle cx="1560.66" cy="1274.15" r="10.50" fill="#b3b3b3" />
<circle cx="1595.24" cy="1268.30" r="10.50" fill="#b3b3b3" />
<circle cx="1685.60" cy="1268.30" r="10.50" fill="#b3b3b3" />
<circle cx="1718.55" cy="1268.30" r="10.50" fill="#b3b3b3" />
<circle cx="1751.50" cy="1268.30" r="10.50" fill="#b3b3b3" />
<circle cx="1784.45" cy="1268.30" r="10.50" fill="#b3b3b3" />
<circle cx="1868.20" cy="1268.30" r="10.50" fill="#b3b3b3" />
<circle cx="1903.20" cy="1268.30" r="10.50" fill="#b3b3b3" />
<circle cx="1938.20" cy="1268.30" r="10.50" fill="#b3b3b3" />
<rect x="138.60" y="1265.60" width="699.80" height="5.40" fill="#000" />
<rect x="138.60" y="1324.10" width="699.80" height="5.40" fill="#000" />
<rect x="852.00" y="1265.60" width="37.30" height="5.40" fill="#000" />
<rect x="852.00" y="1324.10" width="37.30" height="5.40" fill="#000" />
<rect x="902.50" y="1265.60" width="37.30" height="5.40" fill="#000" />
<rect x="902.50" y="1324.10" width="37.30" height="5.40" fill="#000" />
<rect x="953.40" y="1265.60" width="700.10" height="5.40" fill="#000" />
<rect x="953.40" y="1324.10" width="700.10" height="5.40" fill="#000" />
<rect x="1668.60" y="1265.60" width="167.80" height="5.40" fill="#000" />
<rect x="1668.60" y="1324.10" width="167.80" height="5.40" fill="#000" />
<rect x="1848.80" y="1265.60" width="145.30" height="5.40" fill="#000" />
<rect x="1848.80" y="1324.10" width="145.30" height="5.40" fill="#000" />
<rect x="172.65" y="1326.80" width="5.50" height="18.50" fill="#000" />
<rect x="206.55" y="1326.80" width="5.50" height="18.50" fill="#000" />
<rect x="240.45" y="1326.80" width="5.50" height="18.50" fill="#000" />
<rect x="274.35" y="1326.80" width="5.50" height="18.50" fill="#000" />
<rect x="308.25" y="1326.80" width="5.50" height="18.50" fill="#000" />
<rect x="342.15" y="1326.80" width="5.50" height="18.50" fill="#000" />
<rect x="376.05" y="1326.80" width="5.50" height="18.50" fill="#000" />
<rect x="409.95" y="1326.80" width="5.50" height="18.50" fill="#000" />
<rect x="443.85" y="1326.80" width="5.50" height="18.50" fill="#000" />
<rect x="477.75" y="1326.80" width="5.50" height="18.50" fill="#000" />
<rect x="511.65" y="1326.80" width="5.50" height="18.50" fill="#000" />
<rect x="545.55" y="1326.80" width="5.50" height="18.50" fill="#000" />
<rect x="579.45" y="1326.80" width="5.50" height="18.50" fill="#000" />
<rect x="613.35" y="1326.80" width="5.50" height="18.50" fill="#000" />
<rect x="647.25" y="1326.80" width="5.50" height="18.50" fill="#000" />
<rect x="681.15" y="1326.80" width="5.50" height="18.50" fill="#000" />
<rect x="715.05" y="1326.80" width="5.50" height="18.50" fill="#000" />
<rect x="748.95" y="1326.80" width="5.50" height="18.50" fill="#000" />
<rect x="782.85" y="1326.80" width="5.50" height="18.50" fill="#000" />
<circle cx="819.50" cy="1268.30" r="10.50" fill="#b3b3b3" />
<rect x="816.75" y="1326.80" width="5.50" height="18.50" fill="#000" />
<circle cx="870.20" cy="1268.30" r="10.50" fill="#b3b3b3" />
<rect x="867.45" y="1326.80" width="5.50" height="18.50" fill="#000" />
<circle cx="920.80" cy="1304.57" r="10.50" fill="#2a7a77" />
<text x="920.80" y="1316.75" font-size="29" font-weight="bold" text-anchor="middle" fill="#fff" >*</text>
<rect x="918.05" y="1326.80" width="5.50" height="18.50" fill="#000" />
<rect x="970.05" y="1326.80" width="5.50" height="18.50" fill="#000" />
<rect x="1004.63" y="1326.80" width="5.50" height="18.50" fill="#000" />
<rect x="1039.21" y="1326.80" width="5.50" height="18.50" fill="#000" />
<rect x="1073.79" y="1326.80" width="5.50" height="18.50" fill="#000" />
<rect x="1108.37" y="1326.80" width="5.50" height="18.50" fill="#000" />
<rect x="1142.95" y="1326.80" width="5.50" height="18.50" fill="#000" />
<rect x="1177.53" y="1326.80" width="5.50" height="18.50" fill="#000" />
<rect x="1212.11" y="1326.80" width="5.50" height="18.50" fill="#000" />
<rect x="1246.69" y="1326.80" width="5.50" height="18.50" fill="#000" />
<rect x="1281.27" y="1326.80" width="5.50" height="18.50" fill="#000" />
<rect x="1315.85" y="1326.80" width="5.50" height="18.50" fill="#000" />
<rect x="1350.43" y="1326.80" width="5.50" height="18.50" fill="#000" />
<rect x="1385.01" y="1326.80" width="5.50" height="18.50" fill="#000" />
<rect x="1419.59" y="1326.80" width="5.50" height="18.50" fill="#000" />
<rect x="1454.17" y="1326.80" width="5.50" height="18.50" fill="#000" />
<rect x="1488.75" y="1326.80" width="5.50" height="18.50" fill="#000" />
<rect x="1523.33" y="1326.80" width="5.50" height="18.50" fill="#000" />
<rect x="1557.91" y="1326.80" width="5.50" height="18.50" fill="#000" />
<rect x="1592.49" y="1326.80" width="5.50" height="18.50" fill="#000" />
<circle cx="1629.82" cy="1271.52" r="10.50" fill="#b3b3b3" />
<rect x="1627.07" y="1326.80" width="5.50" height="18.50" fill="#000" />
<rect x="1682.85" y="1326.80" width="5.50" height="18.50" fill="#000" />
<rect x="1715.80" y="1326.80" width="5.50" height="18.50" fill="#000" />
<rect x="1748.75" y="1326.80" width="5.50" height="18.50" fill="#000" />
<rect x="1781.70" y="1326.80" width="5.50" height="18.50" fill="#000" />
<circle cx="1817.40" cy="1268.30" r="10.50" fill="#b3b3b3" />
<rect x="1814.65" y="1326.80" width="5.50" height="18.50" fill="#000" />
<rect x="1865.45" y="1326.80" width="5.50" height="18.50" fill="#000" />
<rect x="1900.45" y="1326.80" width="5.50" height="18.50" fill="#000" />
<rect x="1935.45" y="1326.80" width="5.50" height="18.50" fill="#000" />
<circle cx="1973.20" cy="1268.30" r="10.50" fill="#b3b3b3" />
<rect x="1970.45" y="1326.80" width="5.50" height="18.50" fill="#000" />
<text transform="translate(26.80,1235.50) rotate(-90)" font-size="29.2" font-weight="bold" text-anchor="middle">2<tspan font-size="18.1" dy="-11.1">nd</tspan><tspan dy="11.1"> sCCA mode</tspan></text>
<text transform="translate(63.00,1235.50) rotate(-90)" font-size="29.2" font-weight="bold" text-anchor="middle">loading</text>
<text transform="translate(181.10,1364.50) rotate(-45)" font-size="24" font-weight="bold" text-anchor="end">nihtbx_pic_vocab</text>
<text transform="translate(215.00,1364.50) rotate(-45)" font-size="24" font-weight="bold" text-anchor="end">nihtbx_flanker</text>
<text transform="translate(248.90,1364.50) rotate(-45)" font-size="24" font-weight="bold" text-anchor="end">nihtbx_list_sort</text>
<text transform="translate(282.80,1364.50) rotate(-45)" font-size="24" font-weight="bold" text-anchor="end">nihtbx_card_sort</text>
<text transform="translate(316.70,1364.50) rotate(-45)" font-size="24" font-weight="bold" text-anchor="end">nihtbx_pattern_comp</text>
<text transform="translate(350.60,1364.50) rotate(-45)" font-size="24" font-weight="bold" text-anchor="end">nihtbx_pic_seq_memory</text>
<text transform="translate(384.50,1364.50) rotate(-45)" font-size="24" font-weight="bold" text-anchor="end">nihtbx_oral_reading</text>
<text transform="translate(418.40,1364.50) rotate(-45)" font-size="24" font-weight="bold" text-anchor="end">nihtbx_fluid_comp</text>
<text transform="translate(452.30,1364.50) rotate(-45)" font-size="24" font-weight="bold" text-anchor="end">nihtbx_cryst_comp</text>
<text transform="translate(486.20,1364.50) rotate(-45)" font-size="24" font-weight="bold" text-anchor="end">nihtbx_total_comp</text>
<text transform="translate(520.10,1364.50) rotate(-45)" font-size="24" font-weight="bold" text-anchor="end">little_man_efficiency</text>
<text transform="translate(554.00,1364.50) rotate(-45)" font-size="24" font-weight="bold" text-anchor="end">matrix_reasoning</text>
<text transform="translate(587.90,1364.50) rotate(-45)" font-size="24" font-weight="bold" text-anchor="end">verbal_learning_immediate</text>
<text transform="translate(621.80,1364.50) rotate(-45)" font-size="24" font-weight="bold" text-anchor="end">verbal_learning_delayed</text>
<text transform="translate(655.70,1364.50) rotate(-45)" font-size="24" font-weight="bold" text-anchor="end">MID_total_earning</text>
<text transform="translate(689.60,1364.50) rotate(-45)" font-size="24" font-weight="bold" text-anchor="end">SST_ssrt</text>
<text transform="translate(723.50,1364.50) rotate(-45)" font-size="24" font-weight="bold" text-anchor="end"><tspan font-style="italic">X</tspan>2_back</text>
<text transform="translate(757.40,1364.50) rotate(-45)" font-size="24" font-weight="bold" text-anchor="end">recog_memory</text>
<text transform="translate(791.30,1364.50) rotate(-45)" font-size="24" font-weight="bold" text-anchor="end">cash_choice_prefer_ss</text>
<text transform="translate(825.20,1364.50) rotate(-45)" font-size="24" font-weight="bold" text-anchor="end">cash_choice_prefer_ll</text>
<text transform="translate(875.90,1364.50) rotate(-45)" font-size="24" font-weight="bold" text-anchor="end">PQB_psychosis_severity</text>
<text transform="translate(926.50,1364.50) rotate(-45)" font-size="24" font-weight="bold" text-anchor="end">PGBI_mania_total</text>
<text transform="translate(978.50,1364.50) rotate(-45)" font-size="24" font-weight="bold" text-anchor="end">CBCL_syn_anxdep</text>
<text transform="translate(1013.08,1364.50) rotate(-45)" font-size="24" font-weight="bold" text-anchor="end">CBCL_syn_withdep</text>
<text transform="translate(1047.66,1364.50) rotate(-45)" font-size="24" font-weight="bold" text-anchor="end">CBCL_syn_somatic</text>
<text transform="translate(1082.24,1364.50) rotate(-45)" font-size="24" font-weight="bold" text-anchor="end">CBCL_syn_social_prob</text>
<text transform="translate(1116.82,1364.50) rotate(-45)" font-size="24" font-weight="bold" text-anchor="end">CBCL_syn_thought_prob</text>
<text transform="translate(1151.40,1364.50) rotate(-45)" font-size="24" font-weight="bold" text-anchor="end">CBCL_syn_attention_prob</text>
<text transform="translate(1185.98,1364.50) rotate(-45)" font-size="24" font-weight="bold" text-anchor="end">CBCL_syn_rulebreak</text>
<text transform="translate(1220.56,1364.50) rotate(-45)" font-size="24" font-weight="bold" text-anchor="end">CBCL_syn_aggresive</text>
<text transform="translate(1255.14,1364.50) rotate(-45)" font-size="24" font-weight="bold" text-anchor="end">CBCL_internal</text>
<text transform="translate(1289.72,1364.50) rotate(-45)" font-size="24" font-weight="bold" text-anchor="end">CBCL_external</text>
<text transform="translate(1324.30,1364.50) rotate(-45)" font-size="24" font-weight="bold" text-anchor="end">CBCL_total</text>
<text transform="translate(1358.88,1364.50) rotate(-45)" font-size="24" font-weight="bold" text-anchor="end">CBCL_dsm_depressive</text>
<text transform="translate(1393.46,1364.50) rotate(-45)" font-size="24" font-weight="bold" text-anchor="end">CBCL_dsm_anxiety</text>
<text transform="translate(1428.04,1364.50) rotate(-45)" font-size="24" font-weight="bold" text-anchor="end">CBCL_dsm_somatic</text>
<text transform="translate(1462.62,1364.50) rotate(-45)" font-size="24" font-weight="bold" text-anchor="end">CBCL_dsm_ADHD</text>
<text transform="translate(1497.20,1364.50) rotate(-45)" font-size="24" font-weight="bold" text-anchor="end">CBCL_dsm_opposit</text>
<text transform="translate(1531.78,1364.50) rotate(-45)" font-size="24" font-weight="bold" text-anchor="end">CBCL_dsm_conduct_prob</text>
<text transform="translate(1566.36,1364.50) rotate(-45)" font-size="24" font-weight="bold" text-anchor="end">CBCL_SCT</text>
<text transform="translate(1600.94,1364.50) rotate(-45)" font-size="24" font-weight="bold" text-anchor="end">CBCL_OCD</text>
<text transform="translate(1635.52,1364.50) rotate(-45)" font-size="24" font-weight="bold" text-anchor="end">CBCL_stress</text>
<text transform="translate(1691.30,1364.50) rotate(-45)" font-size="24" font-weight="bold" text-anchor="end">UPPS_negative_urgency</text>
<text transform="translate(1724.25,1364.50) rotate(-45)" font-size="24" font-weight="bold" text-anchor="end">UPPS_lack_planing</text>
<text transform="translate(1757.20,1364.50) rotate(-45)" font-size="24" font-weight="bold" text-anchor="end">UPPS_sensation_seeking</text>
<text transform="translate(1790.15,1364.50) rotate(-45)" font-size="24" font-weight="bold" text-anchor="end">UPPS_positive_urgency</text>
<text transform="translate(1823.10,1364.50) rotate(-45)" font-size="24" font-weight="bold" text-anchor="end">UPPS_lack_perserverance</text>
<text transform="translate(1873.90,1364.50) rotate(-45)" font-size="24" font-weight="bold" text-anchor="end">BISBAS_bis_sum</text>
<text transform="translate(1908.90,1364.50) rotate(-45)" font-size="24" font-weight="bold" text-anchor="end">BISBAS_reward_resp</text>
<text transform="translate(1943.90,1364.50) rotate(-45)" font-size="24" font-weight="bold" text-anchor="end">BISBAS_drive</text>
<text transform="translate(1978.90,1364.50) rotate(-45)" font-size="24" font-weight="bold" text-anchor="end">BISBAS_fun_seek</text>
<text x="986.00" y="1619.50" font-size="33.3" font-weight="bold" text-anchor="middle" fill="#000" >Behavioral measure</text>
<text x="1058.00" y="867.40" font-size="33.3" font-weight="bold" text-anchor="middle" fill="#000" >Not significant</text>
<circle cx="1056.80" cy="898.10" r="12.50" fill="#b3b3b3" />
<text x="1584.00" y="864.60" font-size="33.3" font-weight="bold" text-anchor="middle" fill="#000" >Significant</text>
<text x="1927.00" y="864.60" font-size="33.3" font-weight="bold" text-anchor="middle" fill="#000" >Specific</text>
<text x="1552.00" y="910.00" font-size="33.5" font-weight="normal" text-anchor="end" fill="#000" >Cognitive Performance</text>
<circle cx="1579.40" cy="899.00" r="12.50" fill="#ff8a0a" />
<text x="1552.00" y="945.00" font-size="33.5" font-weight="normal" text-anchor="end" fill="#000" >Child behavioral problems</text>
<circle cx="1579.80" cy="934.30" r="12.50" fill="#2a8cf0" />
<text x="1770.00" y="910.00" font-size="33.5" font-weight="normal" text-anchor="end" fill="#000" >Impulsivity</text>
<circle cx="1801.10" cy="899.80" r="12.50" fill="#5d4a86" />
<text x="1770.00" y="947.00" font-size="33.5" font-weight="normal" text-anchor="end" fill="#000" >Mania</text>
<circle cx="1800.30" cy="936.30" r="12.50" fill="#0e7f80" />
<text x="1926.30" y="920.00" font-size="30" font-weight="normal" text-anchor="middle" fill="#000" >*</text>
<text x="0.00" y="1665.50" font-size="41.7" font-weight="bold" text-anchor="start" fill="#000" >C</text>
<text x="54.00" y="1665.50" font-size="41.5" font-weight="bold" text-anchor="start" fill="#000" >Manhattan plot of the post-hoc association between WM-BAGs and all the behavioral measures</text>
<rect x="1378.00" y="1655.00" width="5.00" height="26.00" fill="#000" />
<circle cx="186.8" cy="2052.8" r="7.4" fill="#b4b4b4" fill-opacity="0.45"/>
<circle cx="185.9" cy="2049.3" r="7.4" fill="#b4b4b4" fill-opacity="0.45"/>
<circle cx="189.4" cy="2050.5" r="7.4" fill="#b4b4b4" fill-opacity="0.45"/>
<circle cx="191.1" cy="2055.7" r="7.4" fill="#b4b4b4" fill-opacity="0.45"/>
<circle cx="190.2" cy="2055.9" r="7.4" fill="#b4b4b4" fill-opacity="0.45"/>
<circle cx="186.1" cy="2055.6" r="7.4" fill="#b4b4b4" fill-opacity="0.45"/>
<circle cx="194.9" cy="2051.7" r="7.4" fill="#b4b4b4" fill-opacity="0.45"/>
<circle cx="187.7" cy="2055.0" r="7.4" fill="#b4b4b4" fill-opacity="0.45"/>
<circle cx="196.4" cy="2049.5" r="7.4" fill="#b4b4b4" fill-opacity="0.45"/>
<circle cx="189.8" cy="2050.1" r="7.4" fill="#b4b4b4" fill-opacity="0.45"/>
<circle cx="187.4" cy="1903.6" r="7.4" fill="#c0232e" fill-opacity="0.6"/>
<circle cx="188.8" cy="1917.1" r="7.4" fill="#c0232e" fill-opacity="0.6"/>
<circle cx="192.0" cy="1914.4" r="7.4" fill="#8a5314" fill-opacity="0.55"/>
<circle cx="187.6" cy="1909.0" r="7.4" fill="#8a62a8" fill-opacity="0.55"/>
<circle cx="188.6" cy="1916.2" r="7.4" fill="#c0232e" fill-opacity="0.6"/>
<circle cx="194.5" cy="1946.8" r="7.4" fill="#3cb44b" fill-opacity="0.55"/>
<circle cx="189.6" cy="1951.2" r="7.4" fill="#8a62a8" fill-opacity="0.55"/>
<circle cx="187.9" cy="1955.7" r="7.4" fill="#5a96d2" fill-opacity="0.5"/>
<circle cx="191.9" cy="1960.2" r="7.4" fill="#c0232e" fill-opacity="0.6"/>
<circle cx="188.2" cy="1962.9" r="7.4" fill="#5a96d2" fill-opacity="0.5"/>
<circle cx="195.5" cy="1969.2" r="7.4" fill="#c0232e" fill-opacity="0.6"/>
<circle cx="193.8" cy="1949.4" r="7.4" fill="#5a96d2" fill-opacity="0.5"/>
<circle cx="186.3" cy="1996.1" r="7.4" fill="#4a4a4a" fill-opacity="0.55"/>
<circle cx="196.8" cy="2014.1" r="7.4" fill="#8a5314" fill-opacity="0.55"/>
<circle cx="186.4" cy="2015.9" r="7.4" fill="#3cb44b" fill-opacity="0.55"/>
<circle cx="187.3" cy="2020.4" r="7.4" fill="#8a5314" fill-opacity="0.55"/>
<circle cx="194.1" cy="2033.9" r="7.4" fill="#4a4a4a" fill-opacity="0.55"/>
<circle cx="186.8" cy="2036.5" r="7.4" fill="#3cb44b" fill-opacity="0.55"/>
<circle cx="187.9" cy="2041.0" r="7.4" fill="#5a96d2" fill-opacity="0.5"/>
<circle cx="185.5" cy="2044.6" r="7.4" fill="#5a96d2" fill-opacity="0.5"/>
<circle cx="193.0" cy="2035.7" r="7.4" fill="#4a4a4a" fill-opacity="0.55"/>
<circle cx="190.1" cy="1975.5" r="7.4" fill="#c0232e" fill-opacity="0.6"/>
<circle cx="191.9" cy="2006.0" r="7.4" fill="#c0232e" fill-opacity="0.6"/>
<circle cx="195.5" cy="2024.9" r="7.4" fill="#c0232e" fill-opacity="0.6"/>
<circle cx="186.5" cy="2006.9" r="7.4" fill="#5a96d2" fill-opacity="0.5"/>
<circle cx="193.3" cy="2024.0" r="7.4" fill="#3cb44b" fill-opacity="0.55"/>
<circle cx="192.1" cy="2039.2" r="7.4" fill="#5a96d2" fill-opacity="0.5"/>
<circle cx="188.6" cy="1999.7" r="7.4" fill="#5a96d2" fill-opacity="0.5"/>
<circle cx="190.5" cy="2039.2" r="7.4" fill="#8a5314" fill-opacity="0.55"/>
<circle cx="195.1" cy="2005.1" r="7.4" fill="#5a96d2" fill-opacity="0.5"/>
<circle cx="191.6" cy="2031.2" r="7.4" fill="#3cb44b" fill-opacity="0.55"/>
<circle cx="226.9" cy="2051.2" r="7.4" fill="#b4b4b4" fill-opacity="0.45"/>
<circle cx="227.4" cy="2055.7" r="7.4" fill="#b4b4b4" fill-opacity="0.45"/>
<circle cx="230.9" cy="2049.3" r="7.4" fill="#b4b4b4" fill-opacity="0.45"/>
<circle cx="222.4" cy="2047.4" r="7.4" fill="#b4b4b4" fill-opacity="0.45"/>
<circle cx="227.0" cy="2052.1" r="7.4" fill="#b4b4b4" fill-opacity="0.45"/>
<circle cx="224.5" cy="2056.1" r="7.4" fill="#b4b4b4" fill-opacity="0.45"/>
<circle cx="220.4" cy="2054.5" r="7.4" fill="#b4b4b4" fill-opacity="0.45"/>
<circle cx="228.2" cy="2055.7" r="7.4" fill="#b4b4b4" fill-opacity="0.45"/>
<circle cx="222.0" cy="2054.9" r="7.4" fill="#b4b4b4" fill-opacity="0.45"/>
<circle cx="229.4" cy="2052.1" r="7.4" fill="#b4b4b4" fill-opacity="0.45"/>
<circle cx="225.6" cy="1987.2" r="7.4" fill="#3cb44b" fill-opacity="0.55"/>
<circle cx="220.8" cy="1991.7" r="7.4" fill="#c0232e" fill-opacity="0.6"/>
<circle cx="221.1" cy="1996.1" r="7.4" fill="#8a62a8" fill-opacity="0.55"/>
<circle cx="219.8" cy="2003.3" r="7.4" fill="#ee9a84" fill-opacity="0.6"/>
<circle cx="221.8" cy="2005.1" r="7.4" fill="#c0232e" fill-opacity="0.6"/>
<circle cx="224.8" cy="2015.9" r="7.4" fill="#c0232e" fill-opacity="0.6"/>
<circle cx="222.7" cy="2029.4" r="7.4" fill="#8a5314" fill-opacity="0.55"/>
<circle cx="222.1" cy="2032.1" r="7.4" fill="#4a4a4a" fill-opacity="0.55"/>
<circle cx="219.0" cy="2033.9" r="7.4" fill="#5a96d2" fill-opacity="0.5"/>
<circle cx="221.3" cy="2041.0" r="7.4" fill="#4a4a4a" fill-opacity="0.55"/>
<circle cx="223.4" cy="2045.5" r="7.4" fill="#3cb44b" fill-opacity="0.55"/>
<circle cx="225.8" cy="2030.3" r="7.4" fill="#8a5314" fill-opacity="0.55"/>
<circle cx="225.6" cy="2037.4" r="7.4" fill="#4a4a4a" fill-opacity="0.55"/>
<circle cx="227.3" cy="2044.6" r="7.4" fill="#4a4a4a" fill-opacity="0.55"/>
<circle cx="225.2" cy="2035.7" r="7.4" fill="#c0232e" fill-opacity="0.6"/>
<circle cx="222.9" cy="2022.2" r="7.4" fill="#8a5314" fill-opacity="0.55"/>
<circle cx="227.1" cy="2023.1" r="7.4" fill="#c0232e" fill-opacity="0.6"/>
<circle cx="219.6" cy="2027.6" r="7.4" fill="#c0232e" fill-opacity="0.6"/>
<circle cx="225.2" cy="2028.5" r="7.4" fill="#8a5314" fill-opacity="0.55"/>
<circle cx="263.5" cy="2047.9" r="7.4" fill="#b4b4b4" fill-opacity="0.45"/>
<circle cx="257.7" cy="2047.7" r="7.4" fill="#b4b4b4" fill-opacity="0.45"/>
<circle cx="254.2" cy="2052.0" r="7.4" fill="#b4b4b4" fill-opacity="0.45"/>
<circle cx="253.7" cy="2049.5" r="7.4" fill="#b4b4b4" fill-opacity="0.45"/>
<circle cx="255.5" cy="2055.6" r="7.4" fill="#b4b4b4" fill-opacity="0.45"/>
<circle cx="257.0" cy="2054.6" r="7.4" fill="#b4b4b4" fill-opacity="0.45"/>
<circle cx="253.0" cy="2055.7" r="7.4" fill="#b4b4b4" fill-opacity="0.45"/>
<circle cx="254.2" cy="2054.7" r="7.4" fill="#b4b4b4" fill-opacity="0.45"/>
<circle cx="253.3" cy="2052.4" r="7.4" fill="#b4b4b4" fill-opacity="0.45"/>
<circle cx="260.3" cy="2046.9" r="7.4" fill="#b4b4b4" fill-opacity="0.45"/>
<circle cx="258.0" cy="1955.7" r="7.4" fill="#c0232e" fill-opacity="0.6"/>
<circle cx="261.8" cy="1962.9" r="7.4" fill="#c0232e" fill-opacity="0.6"/>
<circle cx="258.7" cy="1966.5" r="7.4" fill="#8a62a8" fill-opacity="0.55"/>
<circle cx="257.5" cy="1969.2" r="7.4" fill="#c0232e" fill-opacity="0.6"/>
<circle cx="259.2" cy="1975.5" r="7.4" fill="#c0232e" fill-opacity="0.6"/>
<circle cx="255.4" cy="1991.7" r="7.4" fill="#ee9a84" fill-opacity="0.6"/>
<circle cx="259.6" cy="1997.9" r="7.4" fill="#ee9a84" fill-opacity="0.6"/>
<circle cx="257.3" cy="2002.4" r="7.4" fill="#5a96d2" fill-opacity="0.5"/>
<circle cx="261.2" cy="2009.6" r="7.4" fill="#8a5314" fill-opacity="0.55"/>
<circle cx="259.3" cy="2014.1" r="7.4" fill="#8a5314" fill-opacity="0.55"/>
<circle cx="262.1" cy="2027.6" r="7.4" fill="#5a96d2" fill-opacity="0.5"/>
<circle cx="256.5" cy="2032.1" r="7.4" fill="#4a4a4a" fill-opacity="0.55"/>
<circle cx="257.1" cy="2036.5" r="7.4" fill="#4a4a4a" fill-opacity="0.55"/>
<circle cx="254.1" cy="2005.1" r="7.4" fill="#5a96d2" fill-opacity="0.5"/>
<circle cx="263.1" cy="2041.0" r="7.4" fill="#3cb44b" fill-opacity="0.55"/>
<circle cx="256.1" cy="2040.1" r="7.4" fill="#c0232e" fill-opacity="0.6"/>
<circle cx="263.9" cy="2004.2" r="7.4" fill="#8a5314" fill-opacity="0.55"/>
<circle cx="257.2" cy="2030.3" r="7.4" fill="#c0232e" fill-opacity="0.6"/>
<circle cx="253.7" cy="2041.0" r="7.4" fill="#5a96d2" fill-opacity="0.5"/>
<circle cx="259.5" cy="2002.4" r="7.4" fill="#5a96d2" fill-opacity="0.5"/>
<circle cx="259.0" cy="2024.9" r="7.4" fill="#c0232e" fill-opacity="0.6"/>
<circle cx="257.1" cy="2042.8" r="7.4" fill="#c0232e" fill-opacity="0.6"/>
<circle cx="296.4" cy="2049.7" r="7.4" fill="#b4b4b4" fill-opacity="0.45"/>
<circle cx="289.3" cy="2048.1" r="7.4" fill="#b4b4b4" fill-opacity="0.45"/>
<circle cx="291.7" cy="2053.7" r="7.4" fill="#b4b4b4" fill-opacity="0.45"/>
<circle cx="289.3" cy="2047.6" r="7.4" fill="#b4b4b4" fill-opacity="0.45"/>
<circle cx="295.7" cy="2051.0" r="7.4" fill="#b4b4b4" fill-opacity="0.45"/>
<circle cx="296.4" cy="2045.6" r="7.4" fill="#b4b4b4" fill-opacity="0.45"/>
<circle cx="289.3" cy="2051.2" r="7.4" fill="#b4b4b4" fill-opacity="0.45"/>
<circle cx="291.1" cy="2049.8" r="7.4" fill="#b4b4b4" fill-opacity="0.45"/>
<circle cx="295.6" cy="2047.6" r="7.4" fill="#b4b4b4" fill-opacity="0.45"/>
<circle cx="298.6" cy="2052.5" r="7.4" fill="#b4b4b4" fill-opacity="0.45"/>
<circle cx="289.4" cy="1888.4" r="7.4" fill="#c0232e" fill-opacity="0.6"/>
<circle cx="294.6" cy="1901.0" r="7.4" fill="#c0232e" fill-opacity="0.6"/>
<circle cx="288.0" cy="1901.8" r="7.4" fill="#c0232e" fill-opacity="0.6"/>
<circle cx="293.5" cy="1912.6" r="7.4" fill="#c0232e" fill-opacity="0.6"/>
<circle cx="295.6" cy="1928.8" r="7.4" fill="#c0232e" fill-opacity="0.6"/>
<circle cx="292.5" cy="1957.5" r="7.4" fill="#ee9a84" fill-opacity="0.6"/>
<circle cx="291.9" cy="1964.7" r="7.4" fill="#4a4a4a" fill-opacity="0.55"/>
<circle cx="288.0" cy="1969.2" r="7.4" fill="#5a96d2" fill-opacity="0.5"/>
<circle cx="288.8" cy="1976.4" r="7.4" fill="#ee9a84" fill-opacity="0.6"/>
<circle cx="293.9" cy="1980.0" r="7.4" fill="#8a5314" fill-opacity="0.55"/>
<circle cx="287.3" cy="1989.0" r="7.4" fill="#4a4a4a" fill-opacity="0.55"/>
<circle cx="294.0" cy="1996.1" r="7.4" fill="#8a5314" fill-opacity="0.55"/>
<circle cx="289.7" cy="2000.6" r="7.4" fill="#5a96d2" fill-opacity="0.5"/>
<circle cx="294.8" cy="2023.1" r="7.4" fill="#3cb44b" fill-opacity="0.55"/>
<circle cx="294.3" cy="2027.6" r="7.4" fill="#5a96d2" fill-opacity="0.5"/>
<circle cx="290.7" cy="2036.5" r="7.4" fill="#4a4a4a" fill-opacity="0.55"/>
<circle cx="292.6" cy="2041.0" r="7.4" fill="#8a62a8" fill-opacity="0.55"/>
<circle cx="298.2" cy="1987.2" r="7.4" fill="#5a96d2" fill-opacity="0.5"/>
<circle cx="287.2" cy="1994.3" r="7.4" fill="#4a4a4a" fill-opacity="0.55"/>
<circle cx="293.5" cy="2040.1" r="7.4" fill="#c0232e" fill-opacity="0.6"/>
<circle cx="287.2" cy="2027.6" r="7.4" fill="#4a4a4a" fill-opacity="0.55"/>
<circle cx="292.3" cy="2018.6" r="7.4" fill="#4a4a4a" fill-opacity="0.55"/>
<circle cx="295.7" cy="1996.1" r="7.4" fill="#c0232e" fill-opacity="0.6"/>
<circle cx="288.2" cy="2007.8" r="7.4" fill="#8a5314" fill-opacity="0.55"/>
<circle cx="291.9" cy="1981.8" r="7.4" fill="#c0232e" fill-opacity="0.6"/>
<circle cx="288.6" cy="1978.2" r="7.4" fill="#c0232e" fill-opacity="0.6"/>
<circle cx="298.8" cy="1972.8" r="7.4" fill="#4a4a4a" fill-opacity="0.55"/>
<circle cx="287.5" cy="2007.8" r="7.4" fill="#ee9a84" fill-opacity="0.6"/>
<circle cx="321.3" cy="2046.9" r="7.4" fill="#b4b4b4" fill-opacity="0.45"/>
<circle cx="326.9" cy="2054.0" r="7.4" fill="#b4b4b4" fill-opacity="0.45"/>
<circle cx="324.8" cy="2048.1" r="7.4" fill="#b4b4b4" fill-opacity="0.45"/>
<circle cx="330.9" cy="2050.4" r="7.4" fill="#b4b4b4" fill-opacity="0.45"/>
<circle cx="329.8" cy="2055.6" r="7.4" fill="#b4b4b4" fill-opacity="0.45"/>
<circle cx="328.9" cy="2046.6" r="7.4" fill="#b4b4b4" fill-opacity="0.45"/>
<circle cx="327.1" cy="2047.5" r="7.4" fill="#b4b4b4" fill-opacity="0.45"/>
<circle cx="331.5" cy="2047.4" r="7.4" fill="#b4b4b4" fill-opacity="0.45"/>
<circle cx="322.7" cy="2054.9" r="7.4" fill="#b4b4b4" fill-opacity="0.45"/>
<circle cx="331.4" cy="2050.8" r="7.4" fill="#b4b4b4" fill-opacity="0.45"/>
<circle cx="320.3" cy="1942.3" r="7.4" fill="#c0232e" fill-opacity="0.6"/>
<circle cx="322.1" cy="1946.8" r="7.4" fill="#c0232e" fill-opacity="0.6"/>
<circle cx="326.3" cy="1949.4" r="7.4" fill="#c0232e" fill-opacity="0.6"/>
<circle cx="320.1" cy="1955.7" r="7.4" fill="#ee9a84" fill-opacity="0.6"/>
<circle cx="331.6" cy="1964.7" r="7.4" fill="#3cb44b" fill-opacity="0.55"/>
<circle cx="321.7" cy="1969.2" r="7.4" fill="#5a96d2" fill-opacity="0.5"/>
<circle cx="322.5" cy="1973.7" r="7.4" fill="#4a4a4a" fill-opacity="0.55"/>
<circle cx="332.6" cy="1982.7" r="7.4" fill="#8a5314" fill-opacity="0.55"/>
<circle cx="328.2" cy="1989.0" r="7.4" fill="#8a5314" fill-opacity="0.55"/>
<circle cx="321.5" cy="1991.7" r="7.4" fill="#5a96d2" fill-opacity="0.5"/>
<circle cx="324.2" cy="2000.6" r="7.4" fill="#5a96d2" fill-opacity="0.5"/>
<circle cx="327.0" cy="2005.1" r="7.4" fill="#3cb44b" fill-opacity="0.55"/>
<circle cx="326.4" cy="2009.6" r="7.4" fill="#4a4a4a" fill-opacity="0.55"/>
<circle cx="327.0" cy="2015.9" r="7.4" fill="#4a4a4a" fill-opacity="0.55"/>
<circle cx="323.9" cy="2023.1" r="7.4" fill="#5a96d2" fill-opacity="0.5"/>
<circle cx="324.1" cy="2032.1" r="7.4" fill="#5a96d2" fill-opacity="0.5"/>
<circle cx="331.4" cy="2041.0" r="7.4" fill="#5a96d2" fill-opacity="0.5"/>
<circle cx="332.1" cy="1944.1" r="7.4" fill="#c0232e" fill-opacity="0.6"/>
<circle cx="327.3" cy="1963.8" r="7.4" fill="#ee9a84" fill-opacity="0.6"/>
<circle cx="331.6" cy="2006.0" r="7.4" fill="#c0232e" fill-opacity="0.6"/>
<circle cx="323.4" cy="2006.0" r="7.4" fill="#3cb44b" fill-opacity="0.55"/>
<circle cx="323.5" cy="2037.4" r="7.4" fill="#5a96d2" fill-opacity="0.5"/>
<circle cx="325.9" cy="2014.1" r="7.4" fill="#ee9a84" fill-opacity="0.6"/>
<circle cx="325.6" cy="2017.7" r="7.4" fill="#5a96d2" fill-opacity="0.5"/>
<circle cx="322.4" cy="2011.4" r="7.4" fill="#5a96d2" fill-opacity="0.5"/>
<circle cx="329.0" cy="2017.7" r="7.4" fill="#ee9a84" fill-opacity="0.6"/>
<circle cx="326.1" cy="2000.6" r="7.4" fill="#c0232e" fill-opacity="0.6"/>
<circle cx="321.6" cy="2033.9" r="7.4" fill="#8a5314" fill-opacity="0.55"/>
<circle cx="356.4" cy="2053.0" r="7.4" fill="#b4b4b4" fill-opacity="0.45"/>
<circle cx="366.2" cy="2047.9" r="7.4" fill="#b4b4b4" fill-opacity="0.45"/>
<circle cx="359.3" cy="2049.4" r="7.4" fill="#b4b4b4" fill-opacity="0.45"/>
<circle cx="356.5" cy="2053.6" r="7.4" fill="#b4b4b4" fill-opacity="0.45"/>
<circle cx="363.9" cy="2051.3" r="7.4" fill="#b4b4b4" fill-opacity="0.45"/>
<circle cx="365.5" cy="2055.3" r="7.4" fill="#b4b4b4" fill-opacity="0.45"/>
<circle cx="362.9" cy="2054.6" r="7.4" fill="#b4b4b4" fill-opacity="0.45"/>
<circle cx="363.4" cy="2053.9" r="7.4" fill="#b4b4b4" fill-opacity="0.45"/>
<circle cx="359.7" cy="2045.6" r="7.4" fill="#b4b4b4" fill-opacity="0.45"/>
<circle cx="359.2" cy="2051.8" r="7.4" fill="#b4b4b4" fill-opacity="0.45"/>
<circle cx="355.7" cy="1980.0" r="7.4" fill="#c0232e" fill-opacity="0.6"/>
<circle cx="365.4" cy="1982.7" r="7.4" fill="#c0232e" fill-opacity="0.6"/>
<circle cx="355.9" cy="1991.7" r="7.4" fill="#c0232e" fill-opacity="0.6"/>
<circle cx="356.1" cy="1993.4" r="7.4" fill="#c0232e" fill-opacity="0.6"/>
<circle cx="365.8" cy="2003.3" r="7.4" fill="#ee9a84" fill-opacity="0.6"/>
<circle cx="357.1" cy="2007.8" r="7.4" fill="#4a4a4a" fill-opacity="0.55"/>
<circle cx="359.9" cy="2015.9" r="7.4" fill="#c0232e" fill-opacity="0.6"/>
<circle cx="364.7" cy="2021.3" r="7.4" fill="#ee9a84" fill-opacity="0.6"/>
<circle cx="365.1" cy="2027.6" r="7.4" fill="#5a96d2" fill-opacity="0.5"/>
<circle cx="359.3" cy="2032.1" r="7.4" fill="#5a96d2" fill-opacity="0.5"/>
<circle cx="366.3" cy="2036.5" r="7.4" fill="#4a4a4a" fill-opacity="0.55"/>
<circle cx="359.8" cy="2041.0" r="7.4" fill="#4a4a4a" fill-opacity="0.55"/>
<circle cx="358.2" cy="2030.3" r="7.4" fill="#8a5314" fill-opacity="0.55"/>
<circle cx="361.1" cy="2042.8" r="7.4" fill="#8a5314" fill-opacity="0.55"/>
<circle cx="360.8" cy="2043.7" r="7.4" fill="#4a4a4a" fill-opacity="0.55"/>
<circle cx="356.5" cy="2045.5" r="7.4" fill="#5a96d2" fill-opacity="0.5"/>
<circle cx="358.2" cy="2032.1" r="7.4" fill="#4a4a4a" fill-opacity="0.55"/>
<circle cx="364.5" cy="2045.5" r="7.4" fill="#4a4a4a" fill-opacity="0.55"/>
<circle cx="355.4" cy="2030.3" r="7.4" fill="#ee9a84" fill-opacity="0.6"/>
<circle cx="365.6" cy="2030.3" r="7.4" fill="#c0232e" fill-opacity="0.6"/>
<circle cx="358.1" cy="2042.8" r="7.4" fill="#8a5314" fill-opacity="0.55"/>
<circle cx="389.9" cy="2056.1" r="7.4" fill="#b4b4b4" fill-opacity="0.45"/>
<circle cx="396.2" cy="2053.5" r="7.4" fill="#b4b4b4" fill-opacity="0.45"/>
<circle cx="392.1" cy="2053.9" r="7.4" fill="#b4b4b4" fill-opacity="0.45"/>
<circle cx="389.0" cy="2055.0" r="7.4" fill="#b4b4b4" fill-opacity="0.45"/>
<circle cx="393.9" cy="2045.6" r="7.4" fill="#b4b4b4" fill-opacity="0.45"/>
<circle cx="396.3" cy="2046.4" r="7.4" fill="#b4b4b4" fill-opacity="0.45"/>
<circle cx="397.4" cy="2055.8" r="7.4" fill="#b4b4b4" fill-opacity="0.45"/>
<circle cx="400.5" cy="2046.2" r="7.4" fill="#b4b4b4" fill-opacity="0.45"/>
<circle cx="391.1" cy="2053.5" r="7.4" fill="#b4b4b4" fill-opacity="0.45"/>
<circle cx="396.4" cy="2046.3" r="7.4" fill="#b4b4b4" fill-opacity="0.45"/>
<circle cx="392.0" cy="1946.8" r="7.4" fill="#c0232e" fill-opacity="0.6"/>
<circle cx="391.8" cy="1953.0" r="7.4" fill="#c0232e" fill-opacity="0.6"/>
<circle cx="394.2" cy="1960.2" r="7.4" fill="#8a62a8" fill-opacity="0.55"/>
<circle cx="393.1" cy="1966.5" r="7.4" fill="#8a5314" fill-opacity="0.55"/>
<circle cx="396.7" cy="1973.7" r="7.4" fill="#c0232e" fill-opacity="0.6"/>
<circle cx="396.8" cy="1984.5" r="7.4" fill="#5a96d2" fill-opacity="0.5"/>
<circle cx="392.2" cy="1989.0" r="7.4" fill="#c0232e" fill-opacity="0.6"/>
<circle cx="399.5" cy="1996.1" r="7.4" fill="#ee9a84" fill-opacity="0.6"/>
<circle cx="400.5" cy="1997.9" r="7.4" fill="#5a96d2" fill-opacity="0.5"/>
<circle cx="390.3" cy="2023.1" r="7.4" fill="#3cb44b" fill-opacity="0.55"/>
<circle cx="391.5" cy="2027.6" r="7.4" fill="#8a5314" fill-opacity="0.55"/>
<circle cx="391.6" cy="2036.5" r="7.4" fill="#8a5314" fill-opacity="0.55"/>
<circle cx="389.5" cy="2041.0" r="7.4" fill="#4a4a4a" fill-opacity="0.55"/>
<circle cx="399.5" cy="1994.3" r="7.4" fill="#c0232e" fill-opacity="0.6"/>
<circle cx="397.6" cy="1969.2" r="7.4" fill="#8a5314" fill-opacity="0.55"/>
<circle cx="389.0" cy="2020.4" r="7.4" fill="#8a5314" fill-opacity="0.55"/>
<circle cx="400.8" cy="2032.1" r="7.4" fill="#5a96d2" fill-opacity="0.5"/>
<circle cx="400.7" cy="2013.2" r="7.4" fill="#c0232e" fill-opacity="0.6"/>
<circle cx="394.6" cy="2029.4" r="7.4" fill="#c0232e" fill-opacity="0.6"/>
<circle cx="389.1" cy="1997.9" r="7.4" fill="#c0232e" fill-opacity="0.6"/>
<circle cx="396.4" cy="2045.5" r="7.4" fill="#8a5314" fill-opacity="0.55"/>
<circle cx="394.9" cy="2021.3" r="7.4" fill="#8a5314" fill-opacity="0.55"/>
<circle cx="423.5" cy="2051.7" r="7.4" fill="#b4b4b4" fill-opacity="0.45"/>
<circle cx="427.4" cy="2049.1" r="7.4" fill="#b4b4b4" fill-opacity="0.45"/>
<circle cx="434.5" cy="2050.9" r="7.4" fill="#b4b4b4" fill-opacity="0.45"/>
<circle cx="431.2" cy="2049.9" r="7.4" fill="#b4b4b4" fill-opacity="0.45"/>
<circle cx="425.1" cy="2055.8" r="7.4" fill="#b4b4b4" fill-opacity="0.45"/>
<circle cx="422.9" cy="2053.4" r="7.4" fill="#b4b4b4" fill-opacity="0.45"/>
<circle cx="426.8" cy="2052.4" r="7.4" fill="#b4b4b4" fill-opacity="0.45"/>
<circle cx="426.7" cy="2045.7" r="7.4" fill="#b4b4b4" fill-opacity="0.45"/>
<circle cx="433.4" cy="2055.9" r="7.4" fill="#b4b4b4" fill-opacity="0.45"/>
<circle cx="425.1" cy="2054.0" r="7.4" fill="#b4b4b4" fill-opacity="0.45"/>
<circle cx="425.0" cy="1819.2" r="7.4" fill="#c0232e" fill-opacity="0.6"/>
<circle cx="426.8" cy="1832.7" r="7.4" fill="#c0232e" fill-opacity="0.6"/>
<circle cx="434.7" cy="1843.5" r="7.4" fill="#c0232e" fill-opacity="0.6"/>
<circle cx="423.1" cy="1845.3" r="7.4" fill="#c0232e" fill-opacity="0.6"/>
<circle cx="431.5" cy="1865.9" r="7.4" fill="#c0232e" fill-opacity="0.6"/>
<circle cx="430.6" cy="1870.4" r="7.4" fill="#c0232e" fill-opacity="0.6"/>
<circle cx="422.2" cy="1892.9" r="7.4" fill="#ee9a84" fill-opacity="0.6"/>
<circle cx="432.9" cy="1909.0" r="7.4" fill="#5a96d2" fill-opacity="0.5"/>
<circle cx="433.6" cy="1910.8" r="7.4" fill="#3cb44b" fill-opacity="0.55"/>
<circle cx="426.9" cy="1918.0" r="7.4" fill="#ee9a84" fill-opacity="0.6"/>
<circle cx="431.7" cy="1921.6" r="7.4" fill="#ee9a84" fill-opacity="0.6"/>
<circle cx="432.6" cy="1935.1" r="7.4" fill="#5a96d2" fill-opacity="0.5"/>
<circle cx="423.0" cy="1951.2" r="7.4" fill="#8a5314" fill-opacity="0.55"/>
<circle cx="429.1" cy="1960.2" r="7.4" fill="#4a4a4a" fill-opacity="0.55"/>
<circle cx="428.9" cy="1964.7" r="7.4" fill="#8a5314" fill-opacity="0.55"/>
<circle cx="428.5" cy="1978.2" r="7.4" fill="#5a96d2" fill-opacity="0.5"/>
<circle cx="432.5" cy="1980.0" r="7.4" fill="#4a4a4a" fill-opacity="0.55"/>
<circle cx="432.8" cy="1985.4" r="7.4" fill="#5a96d2" fill-opacity="0.5"/>
<circle cx="426.5" cy="1996.1" r="7.4" fill="#3cb44b" fill-opacity="0.55"/>
<circle cx="433.6" cy="1997.0" r="7.4" fill="#5a96d2" fill-opacity="0.5"/>
<circle cx="431.1" cy="2011.4" r="7.4" fill="#4a4a4a" fill-opacity="0.55"/>
<circle cx="427.4" cy="2020.4" r="7.4" fill="#3cb44b" fill-opacity="0.55"/>
<circle cx="425.6" cy="2042.8" r="7.4" fill="#8a62a8" fill-opacity="0.55"/>
<circle cx="423.2" cy="1958.4" r="7.4" fill="#4a4a4a" fill-opacity="0.55"/>
<circle cx="422.9" cy="2006.0" r="7.4" fill="#c0232e" fill-opacity="0.6"/>
<circle cx="427.2" cy="1989.9" r="7.4" fill="#4a4a4a" fill-opacity="0.55"/>
<circle cx="424.1" cy="1968.3" r="7.4" fill="#5a96d2" fill-opacity="0.5"/>
<circle cx="428.5" cy="1986.3" r="7.4" fill="#c0232e" fill-opacity="0.6"/>
<circle cx="429.6" cy="2035.7" r="7.4" fill="#c0232e" fill-opacity="0.6"/>
<circle cx="430.4" cy="2029.4" r="7.4" fill="#3cb44b" fill-opacity="0.55"/>
<circle cx="426.9" cy="2041.0" r="7.4" fill="#c0232e" fill-opacity="0.6"/>
<circle cx="431.0" cy="2010.5" r="7.4" fill="#4a4a4a" fill-opacity="0.55"/>
<circle cx="428.7" cy="2018.6" r="7.4" fill="#3cb44b" fill-opacity="0.55"/>
<circle cx="421.9" cy="1932.4" r="7.4" fill="#c0232e" fill-opacity="0.6"/>
<circle cx="432.4" cy="1968.3" r="7.4" fill="#8a62a8" fill-opacity="0.55"/>
<circle cx="431.8" cy="1953.0" r="7.4" fill="#5a96d2" fill-opacity="0.5"/>
<circle cx="463.3" cy="2050.9" r="7.4" fill="#b4b4b4" fill-opacity="0.45"/>
<circle cx="457.6" cy="2049.2" r="7.4" fill="#b4b4b4" fill-opacity="0.45"/>
<circle cx="459.9" cy="2048.4" r="7.4" fill="#b4b4b4" fill-opacity="0.45"/>
<circle cx="460.0" cy="2055.5" r="7.4" fill="#b4b4b4" fill-opacity="0.45"/>
<circle cx="459.3" cy="2048.4" r="7.4" fill="#b4b4b4" fill-opacity="0.45"/>
<circle cx="468.5" cy="2048.3" r="7.4" fill="#b4b4b4" fill-opacity="0.45"/>
<circle cx="461.4" cy="2051.0" r="7.4" fill="#b4b4b4" fill-opacity="0.45"/>
<circle cx="465.0" cy="2051.1" r="7.4" fill="#b4b4b4" fill-opacity="0.45"/>
<circle cx="464.2" cy="2048.0" r="7.4" fill="#b4b4b4" fill-opacity="0.45"/>
<circle cx="457.8" cy="2049.4" r="7.4" fill="#b4b4b4" fill-opacity="0.45"/>
<circle cx="457.4" cy="1883.9" r="7.4" fill="#c0232e" fill-opacity="0.6"/>
<circle cx="468.6" cy="1890.2" r="7.4" fill="#8a62a8" fill-opacity="0.55"/>
<circle cx="468.1" cy="1906.3" r="7.4" fill="#8a5314" fill-opacity="0.55"/>
<circle cx="456.0" cy="1922.5" r="7.4" fill="#c0232e" fill-opacity="0.6"/>
<circle cx="462.3" cy="1924.3" r="7.4" fill="#ee9a84" fill-opacity="0.6"/>
<circle cx="466.7" cy="1937.8" r="7.4" fill="#c0232e" fill-opacity="0.6"/>
<circle cx="463.6" cy="1940.5" r="7.4" fill="#8a62a8" fill-opacity="0.55"/>
<circle cx="462.2" cy="1944.1" r="7.4" fill="#3cb44b" fill-opacity="0.55"/>
<circle cx="460.1" cy="1951.2" r="7.4" fill="#8a62a8" fill-opacity="0.55"/>
<circle cx="457.5" cy="1955.7" r="7.4" fill="#ee9a84" fill-opacity="0.6"/>
<circle cx="468.2" cy="1978.2" r="7.4" fill="#4a4a4a" fill-opacity="0.55"/>
<circle cx="459.4" cy="2006.9" r="7.4" fill="#3cb44b" fill-opacity="0.55"/>
<circle cx="460.5" cy="2008.7" r="7.4" fill="#8a5314" fill-opacity="0.55"/>
<circle cx="458.5" cy="2023.1" r="7.4" fill="#8a5314" fill-opacity="0.55"/>
<circle cx="463.1" cy="2024.9" r="7.4" fill="#4a4a4a" fill-opacity="0.55"/>
<circle cx="463.5" cy="2036.5" r="7.4" fill="#4a4a4a" fill-opacity="0.55"/>
<circle cx="458.4" cy="2039.2" r="7.4" fill="#5a96d2" fill-opacity="0.5"/>
<circle cx="466.7" cy="2045.5" r="7.4" fill="#3cb44b" fill-opacity="0.55"/>
<circle cx="459.9" cy="1926.1" r="7.4" fill="#c0232e" fill-opacity="0.6"/>
<circle cx="467.5" cy="1946.8" r="7.4" fill="#3cb44b" fill-opacity="0.55"/>
<circle cx="465.3" cy="2033.9" r="7.4" fill="#8a62a8" fill-opacity="0.55"/>
<circle cx="457.7" cy="1991.7" r="7.4" fill="#ee9a84" fill-opacity="0.6"/>
<circle cx="467.6" cy="1994.3" r="7.4" fill="#ee9a84" fill-opacity="0.6"/>
<circle cx="462.7" cy="2045.5" r="7.4" fill="#8a62a8" fill-opacity="0.55"/>
<circle cx="456.0" cy="2006.0" r="7.4" fill="#c0232e" fill-opacity="0.6"/>
<circle cx="456.9" cy="1988.1" r="7.4" fill="#4a4a4a" fill-opacity="0.55"/>
<circle cx="462.7" cy="2022.2" r="7.4" fill="#5a96d2" fill-opacity="0.5"/>
<circle cx="459.4" cy="2022.2" r="7.4" fill="#4a4a4a" fill-opacity="0.55"/>
<circle cx="460.5" cy="2007.8" r="7.4" fill="#c0232e" fill-opacity="0.6"/>
<circle cx="458.5" cy="1962.9" r="7.4" fill="#3cb44b" fill-opacity="0.55"/>
<circle cx="494.6" cy="2052.6" r="7.4" fill="#b4b4b4" fill-opacity="0.45"/>
<circle cx="490.8" cy="2047.3" r="7.4" fill="#b4b4b4" fill-opacity="0.45"/>
<circle cx="500.9" cy="2048.2" r="7.4" fill="#b4b4b4" fill-opacity="0.45"/>
<circle cx="501.9" cy="2055.0" r="7.4" fill="#b4b4b4" fill-opacity="0.45"/>
<circle cx="501.6" cy="2048.6" r="7.4" fill="#b4b4b4" fill-opacity="0.45"/>
<circle cx="495.3" cy="2053.2" r="7.4" fill="#b4b4b4" fill-opacity="0.45"/>
<circle cx="502.8" cy="2052.1" r="7.4" fill="#b4b4b4" fill-opacity="0.45"/>
<circle cx="495.1" cy="2050.0" r="7.4" fill="#b4b4b4" fill-opacity="0.45"/>
<circle cx="494.1" cy="2051.7" r="7.4" fill="#b4b4b4" fill-opacity="0.45"/>
<circle cx="492.0" cy="2055.8" r="7.4" fill="#b4b4b4" fill-opacity="0.45"/>
<circle cx="495.0" cy="1779.7" r="7.4" fill="#c0232e" fill-opacity="0.6"/>
<circle cx="494.3" cy="1798.6" r="7.4" fill="#c0232e" fill-opacity="0.6"/>
<circle cx="491.4" cy="1809.4" r="7.4" fill="#c0232e" fill-opacity="0.6"/>
<circle cx="497.2" cy="1821.9" r="7.4" fill="#c0232e" fill-opacity="0.6"/>
<circle cx="492.3" cy="1843.5" r="7.4" fill="#c0232e" fill-opacity="0.6"/>
<circle cx="496.5" cy="1845.3" r="7.4" fill="#8a62a8" fill-opacity="0.55"/>
<circle cx="492.6" cy="1874.9" r="7.4" fill="#ee9a84" fill-opacity="0.6"/>
<circle cx="494.4" cy="1879.4" r="7.4" fill="#3cb44b" fill-opacity="0.55"/>
<circle cx="499.7" cy="1890.2" r="7.4" fill="#8a5314" fill-opacity="0.55"/>
<circle cx="497.6" cy="1892.9" r="7.4" fill="#ee9a84" fill-opacity="0.6"/>
<circle cx="493.9" cy="1897.4" r="7.4" fill="#5a96d2" fill-opacity="0.5"/>
<circle cx="498.7" cy="1948.5" r="7.4" fill="#5a96d2" fill-opacity="0.5"/>
<circle cx="492.2" cy="1944.1" r="7.4" fill="#5a96d2" fill-opacity="0.5"/>
<circle cx="497.5" cy="1958.4" r="7.4" fill="#8a5314" fill-opacity="0.55"/>
<circle cx="495.6" cy="1964.7" r="7.4" fill="#4a4a4a" fill-opacity="0.55"/>
<circle cx="491.2" cy="1978.2" r="7.4" fill="#4a4a4a" fill-opacity="0.55"/>
<circle cx="492.8" cy="1982.7" r="7.4" fill="#3cb44b" fill-opacity="0.55"/>
<circle cx="493.3" cy="1991.7" r="7.4" fill="#4a4a4a" fill-opacity="0.55"/>
<circle cx="497.1" cy="2000.6" r="7.4" fill="#5a96d2" fill-opacity="0.5"/>
<circle cx="496.8" cy="2023.1" r="7.4" fill="#3cb44b" fill-opacity="0.55"/>
<circle cx="493.5" cy="2042.8" r="7.4" fill="#8a5314" fill-opacity="0.55"/>
<circle cx="497.1" cy="1978.2" r="7.4" fill="#4a4a4a" fill-opacity="0.55"/>
<circle cx="502.8" cy="1928.8" r="7.4" fill="#ee9a84" fill-opacity="0.6"/>
<circle cx="496.2" cy="1956.6" r="7.4" fill="#c0232e" fill-opacity="0.6"/>
<circle cx="490.9" cy="2011.4" r="7.4" fill="#8a5314" fill-opacity="0.55"/>
<circle cx="493.1" cy="1984.5" r="7.4" fill="#5a96d2" fill-opacity="0.5"/>
<circle cx="491.9" cy="2019.5" r="7.4" fill="#5a96d2" fill-opacity="0.5"/>
<circle cx="492.6" cy="1936.0" r="7.4" fill="#8a5314" fill-opacity="0.55"/>
<circle cx="491.9" cy="1921.6" r="7.4" fill="#8a5314" fill-opacity="0.55"/>
<circle cx="493.7" cy="1989.9" r="7.4" fill="#4a4a4a" fill-opacity="0.55"/>
<circle cx="491.9" cy="1969.2" r="7.4" fill="#c0232e" fill-opacity="0.6"/>
<circle cx="497.7" cy="2039.2" r="7.4" fill="#8a5314" fill-opacity="0.55"/>
<circle cx="501.5" cy="1982.7" r="7.4" fill="#c0232e" fill-opacity="0.6"/>
<circle cx="529.8" cy="2048.2" r="7.4" fill="#b4b4b4" fill-opacity="0.45"/>
<circle cx="531.1" cy="2051.8" r="7.4" fill="#b4b4b4" fill-opacity="0.45"/>
<circle cx="528.9" cy="2052.2" r="7.4" fill="#b4b4b4" fill-opacity="0.45"/>
<circle cx="528.1" cy="2055.6" r="7.4" fill="#b4b4b4" fill-opacity="0.45"/>
<circle cx="526.3" cy="2045.9" r="7.4" fill="#b4b4b4" fill-opacity="0.45"/>
<circle cx="532.4" cy="2050.9" r="7.4" fill="#b4b4b4" fill-opacity="0.45"/>
<circle cx="527.4" cy="2047.0" r="7.4" fill="#b4b4b4" fill-opacity="0.45"/>
<circle cx="527.8" cy="2053.4" r="7.4" fill="#b4b4b4" fill-opacity="0.45"/>
<circle cx="530.2" cy="2052.0" r="7.4" fill="#b4b4b4" fill-opacity="0.45"/>
<circle cx="535.0" cy="2046.0" r="7.4" fill="#b4b4b4" fill-opacity="0.45"/>
<circle cx="531.3" cy="1923.4" r="7.4" fill="#c0232e" fill-opacity="0.6"/>
<circle cx="533.5" cy="1944.1" r="7.4" fill="#c0232e" fill-opacity="0.6"/>
<circle cx="532.6" cy="1949.4" r="7.4" fill="#c0232e" fill-opacity="0.6"/>
<circle cx="529.9" cy="1953.0" r="7.4" fill="#c0232e" fill-opacity="0.6"/>
<circle cx="530.3" cy="1955.7" r="7.4" fill="#c0232e" fill-opacity="0.6"/>
<circle cx="531.4" cy="1964.7" r="7.4" fill="#4a4a4a" fill-opacity="0.55"/>
<circle cx="524.1" cy="1969.2" r="7.4" fill="#c0232e" fill-opacity="0.6"/>
<circle cx="534.2" cy="1973.7" r="7.4" fill="#8a5314" fill-opacity="0.55"/>
<circle cx="527.6" cy="1978.2" r="7.4" fill="#ee9a84" fill-opacity="0.6"/>
<circle cx="531.2" cy="1991.7" r="7.4" fill="#5a96d2" fill-opacity="0.5"/>
<circle cx="532.5" cy="1996.1" r="7.4" fill="#5a96d2" fill-opacity="0.5"/>
<circle cx="528.4" cy="2003.3" r="7.4" fill="#4a4a4a" fill-opacity="0.55"/>
<circle cx="524.8" cy="2006.9" r="7.4" fill="#5a96d2" fill-opacity="0.5"/>
<circle cx="527.8" cy="2014.1" r="7.4" fill="#5a96d2" fill-opacity="0.5"/>
<circle cx="532.4" cy="2018.6" r="7.4" fill="#4a4a4a" fill-opacity="0.55"/>
<circle cx="529.4" cy="2027.6" r="7.4" fill="#3cb44b" fill-opacity="0.55"/>
<circle cx="526.1" cy="2029.4" r="7.4" fill="#4a4a4a" fill-opacity="0.55"/>
<circle cx="525.6" cy="2036.5" r="7.4" fill="#8a5314" fill-opacity="0.55"/>
<circle cx="528.0" cy="1994.3" r="7.4" fill="#ee9a84" fill-opacity="0.6"/>
<circle cx="531.8" cy="1982.7" r="7.4" fill="#ee9a84" fill-opacity="0.6"/>
<circle cx="529.5" cy="1992.5" r="7.4" fill="#c0232e" fill-opacity="0.6"/>
<circle cx="525.6" cy="2038.3" r="7.4" fill="#5a96d2" fill-opacity="0.5"/>
<circle cx="532.0" cy="2002.4" r="7.4" fill="#3cb44b" fill-opacity="0.55"/>
<circle cx="524.9" cy="1986.3" r="7.4" fill="#3cb44b" fill-opacity="0.55"/>
<circle cx="526.2" cy="2046.4" r="7.4" fill="#5a96d2" fill-opacity="0.5"/>
<circle cx="530.3" cy="1989.0" r="7.4" fill="#4a4a4a" fill-opacity="0.55"/>
<circle cx="536.3" cy="1993.4" r="7.4" fill="#4a4a4a" fill-opacity="0.55"/>
<circle cx="529.0" cy="2031.2" r="7.4" fill="#c0232e" fill-opacity="0.6"/>
<circle cx="535.4" cy="2033.0" r="7.4" fill="#c0232e" fill-opacity="0.6"/>
<circle cx="530.5" cy="2014.1" r="7.4" fill="#c0232e" fill-opacity="0.6"/>
<circle cx="561.7" cy="2053.8" r="7.4" fill="#b4b4b4" fill-opacity="0.45"/>
<circle cx="567.2" cy="2046.0" r="7.4" fill="#b4b4b4" fill-opacity="0.45"/>
<circle cx="559.0" cy="2053.0" r="7.4" fill="#b4b4b4" fill-opacity="0.45"/>
<circle cx="566.9" cy="2050.9" r="7.4" fill="#b4b4b4" fill-opacity="0.45"/>
<circle cx="561.9" cy="2051.8" r="7.4" fill="#b4b4b4" fill-opacity="0.45"/>
<circle cx="569.9" cy="2049.1" r="7.4" fill="#b4b4b4" fill-opacity="0.45"/>
<circle cx="559.2" cy="2053.9" r="7.4" fill="#b4b4b4" fill-opacity="0.45"/>
<circle cx="563.8" cy="2052.7" r="7.4" fill="#b4b4b4" fill-opacity="0.45"/>
<circle cx="561.2" cy="2049.0" r="7.4" fill="#b4b4b4" fill-opacity="0.45"/>
<circle cx="567.6" cy="2047.7" r="7.4" fill="#b4b4b4" fill-opacity="0.45"/>
<circle cx="562.7" cy="1946.8" r="7.4" fill="#c0232e" fill-opacity="0.6"/>
<circle cx="569.5" cy="1962.9" r="7.4" fill="#c0232e" fill-opacity="0.6"/>
<circle cx="564.6" cy="1964.7" r="7.4" fill="#c0232e" fill-opacity="0.6"/>
<circle cx="565.1" cy="1978.2" r="7.4" fill="#8a62a8" fill-opacity="0.55"/>
<circle cx="559.5" cy="1982.7" r="7.4" fill="#ee9a84" fill-opacity="0.6"/>
<circle cx="565.9" cy="1987.2" r="7.4" fill="#c0232e" fill-opacity="0.6"/>
<circle cx="565.2" cy="1993.4" r="7.4" fill="#ee9a84" fill-opacity="0.6"/>
<circle cx="559.4" cy="2000.6" r="7.4" fill="#5a96d2" fill-opacity="0.5"/>
<circle cx="559.1" cy="2009.6" r="7.4" fill="#8a5314" fill-opacity="0.55"/>
<circle cx="562.5" cy="2014.1" r="7.4" fill="#5a96d2" fill-opacity="0.5"/>
<circle cx="563.8" cy="2023.1" r="7.4" fill="#4a4a4a" fill-opacity="0.55"/>
<circle cx="567.3" cy="2032.1" r="7.4" fill="#4a4a4a" fill-opacity="0.55"/>
<circle cx="559.3" cy="2036.5" r="7.4" fill="#4a4a4a" fill-opacity="0.55"/>
<circle cx="564.2" cy="1991.7" r="7.4" fill="#c0232e" fill-opacity="0.6"/>
<circle cx="567.3" cy="1980.0" r="7.4" fill="#8a62a8" fill-opacity="0.55"/>
<circle cx="560.3" cy="2021.3" r="7.4" fill="#8a62a8" fill-opacity="0.55"/>
<circle cx="560.1" cy="2022.2" r="7.4" fill="#8a62a8" fill-opacity="0.55"/>
<circle cx="559.7" cy="2031.2" r="7.4" fill="#c0232e" fill-opacity="0.6"/>
<circle cx="559.1" cy="2036.5" r="7.4" fill="#5a96d2" fill-opacity="0.5"/>
<circle cx="561.1" cy="2035.7" r="7.4" fill="#4a4a4a" fill-opacity="0.55"/>
<circle cx="566.6" cy="2002.4" r="7.4" fill="#c0232e" fill-opacity="0.6"/>
<circle cx="562.0" cy="1999.7" r="7.4" fill="#5a96d2" fill-opacity="0.5"/>
<circle cx="596.5" cy="2051.3" r="7.4" fill="#b4b4b4" fill-opacity="0.45"/>
<circle cx="602.8" cy="2048.5" r="7.4" fill="#b4b4b4" fill-opacity="0.45"/>
<circle cx="598.1" cy="2045.7" r="7.4" fill="#b4b4b4" fill-opacity="0.45"/>
<circle cx="593.7" cy="2055.1" r="7.4" fill="#b4b4b4" fill-opacity="0.45"/>
<circle cx="597.8" cy="2055.4" r="7.4" fill="#b4b4b4" fill-opacity="0.45"/>
<circle cx="599.5" cy="2046.8" r="7.4" fill="#b4b4b4" fill-opacity="0.45"/>
<circle cx="597.3" cy="2048.1" r="7.4" fill="#b4b4b4" fill-opacity="0.45"/>
<circle cx="596.5" cy="2048.0" r="7.4" fill="#b4b4b4" fill-opacity="0.45"/>
<circle cx="593.8" cy="2047.6" r="7.4" fill="#b4b4b4" fill-opacity="0.45"/>
<circle cx="595.1" cy="2048.7" r="7.4" fill="#b4b4b4" fill-opacity="0.45"/>
<circle cx="597.9" cy="1986.3" r="7.4" fill="#c0232e" fill-opacity="0.6"/>
<circle cx="593.2" cy="1996.1" r="7.4" fill="#ee9a84" fill-opacity="0.6"/>
<circle cx="593.2" cy="2006.9" r="7.4" fill="#c0232e" fill-opacity="0.6"/>
<circle cx="592.3" cy="2009.6" r="7.4" fill="#ee9a84" fill-opacity="0.6"/>
<circle cx="603.8" cy="2015.9" r="7.4" fill="#8a5314" fill-opacity="0.55"/>
<circle cx="595.8" cy="2018.6" r="7.4" fill="#3cb44b" fill-opacity="0.55"/>
<circle cx="597.7" cy="2023.1" r="7.4" fill="#8a62a8" fill-opacity="0.55"/>
<circle cx="603.5" cy="2027.6" r="7.4" fill="#5a96d2" fill-opacity="0.5"/>
<circle cx="596.8" cy="2032.1" r="7.4" fill="#4a4a4a" fill-opacity="0.55"/>
<circle cx="593.9" cy="2036.5" r="7.4" fill="#4a4a4a" fill-opacity="0.55"/>
<circle cx="604.3" cy="2014.1" r="7.4" fill="#c0232e" fill-opacity="0.6"/>
<circle cx="600.2" cy="2031.2" r="7.4" fill="#5a96d2" fill-opacity="0.5"/>
<circle cx="593.9" cy="2041.0" r="7.4" fill="#3cb44b" fill-opacity="0.55"/>
<circle cx="601.4" cy="2025.8" r="7.4" fill="#5a96d2" fill-opacity="0.5"/>
<circle cx="596.6" cy="2045.5" r="7.4" fill="#8a62a8" fill-opacity="0.55"/>
<circle cx="594.0" cy="2039.2" r="7.4" fill="#c0232e" fill-opacity="0.6"/>
<circle cx="635.8" cy="2056.3" r="7.4" fill="#b4b4b4" fill-opacity="0.45"/>
<circle cx="634.3" cy="2046.4" r="7.4" fill="#b4b4b4" fill-opacity="0.45"/>
<circle cx="627.0" cy="2046.1" r="7.4" fill="#b4b4b4" fill-opacity="0.45"/>
<circle cx="632.4" cy="2053.8" r="7.4" fill="#b4b4b4" fill-opacity="0.45"/>
<circle cx="638.2" cy="2046.0" r="7.4" fill="#b4b4b4" fill-opacity="0.45"/>
<circle cx="629.8" cy="2052.1" r="7.4" fill="#b4b4b4" fill-opacity="0.45"/>
<circle cx="632.7" cy="2051.7" r="7.4" fill="#b4b4b4" fill-opacity="0.45"/>
<circle cx="628.9" cy="2046.3" r="7.4" fill="#b4b4b4" fill-opacity="0.45"/>
<circle cx="635.6" cy="2047.7" r="7.4" fill="#b4b4b4" fill-opacity="0.45"/>
<circle cx="636.0" cy="2047.4" r="7.4" fill="#b4b4b4" fill-opacity="0.45"/>
<circle cx="631.8" cy="1990.8" r="7.4" fill="#c0232e" fill-opacity="0.6"/>
<circle cx="629.7" cy="2006.9" r="7.4" fill="#ee9a84" fill-opacity="0.6"/>
<circle cx="627.5" cy="2014.1" r="7.4" fill="#c0232e" fill-opacity="0.6"/>
<circle cx="626.0" cy="2018.6" r="7.4" fill="#8a5314" fill-opacity="0.55"/>
<circle cx="633.4" cy="2021.3" r="7.4" fill="#3cb44b" fill-opacity="0.55"/>
<circle cx="630.6" cy="2029.4" r="7.4" fill="#c0232e" fill-opacity="0.6"/>
<circle cx="633.6" cy="2036.5" r="7.4" fill="#4a4a4a" fill-opacity="0.55"/>
<circle cx="637.3" cy="2041.0" r="7.4" fill="#5a96d2" fill-opacity="0.5"/>
<circle cx="638.6" cy="2032.1" r="7.4" fill="#8a5314" fill-opacity="0.55"/>
<circle cx="627.9" cy="2031.2" r="7.4" fill="#c0232e" fill-opacity="0.6"/>
<circle cx="627.7" cy="2024.9" r="7.4" fill="#5a96d2" fill-opacity="0.5"/>
<circle cx="627.9" cy="2037.4" r="7.4" fill="#ee9a84" fill-opacity="0.6"/>
<circle cx="629.7" cy="2033.9" r="7.4" fill="#4a4a4a" fill-opacity="0.55"/>
<circle cx="666.1" cy="2048.7" r="7.4" fill="#b4b4b4" fill-opacity="0.45"/>
<circle cx="665.7" cy="2053.8" r="7.4" fill="#b4b4b4" fill-opacity="0.45"/>
<circle cx="668.8" cy="2049.6" r="7.4" fill="#b4b4b4" fill-opacity="0.45"/>
<circle cx="670.9" cy="2048.2" r="7.4" fill="#b4b4b4" fill-opacity="0.45"/>
<circle cx="662.2" cy="2049.1" r="7.4" fill="#b4b4b4" fill-opacity="0.45"/>
<circle cx="664.2" cy="2047.2" r="7.4" fill="#b4b4b4" fill-opacity="0.45"/>
<circle cx="665.2" cy="2050.2" r="7.4" fill="#b4b4b4" fill-opacity="0.45"/>
<circle cx="663.1" cy="2048.4" r="7.4" fill="#b4b4b4" fill-opacity="0.45"/>
<circle cx="663.7" cy="2053.6" r="7.4" fill="#b4b4b4" fill-opacity="0.45"/>
<circle cx="671.3" cy="2054.7" r="7.4" fill="#b4b4b4" fill-opacity="0.45"/>
<circle cx="663.9" cy="2024.9" r="7.4" fill="#c0232e" fill-opacity="0.6"/>
<circle cx="668.5" cy="2027.6" r="7.4" fill="#c0232e" fill-opacity="0.6"/>
<circle cx="661.9" cy="2032.1" r="7.4" fill="#8a62a8" fill-opacity="0.55"/>
<circle cx="663.4" cy="2036.5" r="7.4" fill="#8a5314" fill-opacity="0.55"/>
<circle cx="661.2" cy="2041.0" r="7.4" fill="#4a4a4a" fill-opacity="0.55"/>
<circle cx="660.8" cy="2039.2" r="7.4" fill="#8a5314" fill-opacity="0.55"/>
<circle cx="666.8" cy="2042.8" r="7.4" fill="#8a62a8" fill-opacity="0.55"/>
<circle cx="663.5" cy="2046.4" r="7.4" fill="#8a62a8" fill-opacity="0.55"/>
<circle cx="666.1" cy="2040.1" r="7.4" fill="#4a4a4a" fill-opacity="0.55"/>
<circle cx="705.2" cy="2052.3" r="7.4" fill="#b4b4b4" fill-opacity="0.45"/>
<circle cx="695.3" cy="2053.8" r="7.4" fill="#b4b4b4" fill-opacity="0.45"/>
<circle cx="704.6" cy="2049.8" r="7.4" fill="#b4b4b4" fill-opacity="0.45"/>
<circle cx="695.6" cy="2054.2" r="7.4" fill="#b4b4b4" fill-opacity="0.45"/>
<circle cx="696.8" cy="2050.8" r="7.4" fill="#b4b4b4" fill-opacity="0.45"/>
<circle cx="704.0" cy="2049.8" r="7.4" fill="#b4b4b4" fill-opacity="0.45"/>
<circle cx="694.8" cy="2049.1" r="7.4" fill="#b4b4b4" fill-opacity="0.45"/>
<circle cx="703.2" cy="2049.4" r="7.4" fill="#b4b4b4" fill-opacity="0.45"/>
<circle cx="695.1" cy="2052.5" r="7.4" fill="#b4b4b4" fill-opacity="0.45"/>
<circle cx="695.2" cy="2052.6" r="7.4" fill="#b4b4b4" fill-opacity="0.45"/>
<circle cx="700.3" cy="2024.0" r="7.4" fill="#c0232e" fill-opacity="0.6"/>
<circle cx="699.6" cy="2027.6" r="7.4" fill="#c0232e" fill-opacity="0.6"/>
<circle cx="699.2" cy="2032.1" r="7.4" fill="#c0232e" fill-opacity="0.6"/>
<circle cx="698.7" cy="2036.5" r="7.4" fill="#3cb44b" fill-opacity="0.55"/>
<circle cx="695.6" cy="2041.0" r="7.4" fill="#4a4a4a" fill-opacity="0.55"/>
<circle cx="695.1" cy="2039.2" r="7.4" fill="#8a5314" fill-opacity="0.55"/>
<circle cx="697.7" cy="2040.1" r="7.4" fill="#c0232e" fill-opacity="0.6"/>
<circle cx="700.5" cy="2042.8" r="7.4" fill="#8a5314" fill-opacity="0.55"/>
<circle cx="699.6" cy="2040.1" r="7.4" fill="#c0232e" fill-opacity="0.6"/>
<circle cx="736.6" cy="2047.7" r="7.4" fill="#b4b4b4" fill-opacity="0.45"/>
<circle cx="735.1" cy="2054.6" r="7.4" fill="#b4b4b4" fill-opacity="0.45"/>
<circle cx="733.5" cy="2049.3" r="7.4" fill="#b4b4b4" fill-opacity="0.45"/>
<circle cx="740.5" cy="2053.4" r="7.4" fill="#b4b4b4" fill-opacity="0.45"/>
<circle cx="733.7" cy="2049.1" r="7.4" fill="#b4b4b4" fill-opacity="0.45"/>
<circle cx="737.6" cy="2055.8" r="7.4" fill="#b4b4b4" fill-opacity="0.45"/>
<circle cx="733.6" cy="2046.8" r="7.4" fill="#b4b4b4" fill-opacity="0.45"/>
<circle cx="737.9" cy="2056.1" r="7.4" fill="#b4b4b4" fill-opacity="0.45"/>
<circle cx="736.4" cy="2047.7" r="7.4" fill="#b4b4b4" fill-opacity="0.45"/>
<circle cx="733.5" cy="2052.1" r="7.4" fill="#b4b4b4" fill-opacity="0.45"/>
<circle cx="733.6" cy="1914.4" r="7.4" fill="#c0232e" fill-opacity="0.6"/>
<circle cx="730.7" cy="1927.9" r="7.4" fill="#c0232e" fill-opacity="0.6"/>
<circle cx="732.9" cy="1932.4" r="7.4" fill="#c0232e" fill-opacity="0.6"/>
<circle cx="729.0" cy="1947.6" r="7.4" fill="#c0232e" fill-opacity="0.6"/>
<circle cx="730.7" cy="1962.9" r="7.4" fill="#8a5314" fill-opacity="0.55"/>
<circle cx="729.5" cy="1964.7" r="7.4" fill="#4a4a4a" fill-opacity="0.55"/>
<circle cx="730.7" cy="1985.4" r="7.4" fill="#c0232e" fill-opacity="0.6"/>
<circle cx="737.7" cy="1987.2" r="7.4" fill="#8a5314" fill-opacity="0.55"/>
<circle cx="738.2" cy="1992.5" r="7.4" fill="#3cb44b" fill-opacity="0.55"/>
<circle cx="734.1" cy="1997.9" r="7.4" fill="#5a96d2" fill-opacity="0.5"/>
<circle cx="732.3" cy="2003.3" r="7.4" fill="#4a4a4a" fill-opacity="0.55"/>
<circle cx="738.7" cy="2009.6" r="7.4" fill="#4a4a4a" fill-opacity="0.55"/>
<circle cx="728.0" cy="2023.1" r="7.4" fill="#5a96d2" fill-opacity="0.5"/>
<circle cx="739.6" cy="2029.4" r="7.4" fill="#3cb44b" fill-opacity="0.55"/>
<circle cx="732.5" cy="2044.6" r="7.4" fill="#4a4a4a" fill-opacity="0.55"/>
<circle cx="732.5" cy="2018.6" r="7.4" fill="#5a96d2" fill-opacity="0.5"/>
<circle cx="736.3" cy="2024.9" r="7.4" fill="#3cb44b" fill-opacity="0.55"/>
<circle cx="729.7" cy="1983.6" r="7.4" fill="#3cb44b" fill-opacity="0.55"/>
<circle cx="733.4" cy="1986.3" r="7.4" fill="#3cb44b" fill-opacity="0.55"/>
<circle cx="736.9" cy="2039.2" r="7.4" fill="#c0232e" fill-opacity="0.6"/>
<circle cx="739.4" cy="2019.5" r="7.4" fill="#4a4a4a" fill-opacity="0.55"/>
<circle cx="732.8" cy="2015.9" r="7.4" fill="#4a4a4a" fill-opacity="0.55"/>
<circle cx="739.0" cy="2037.4" r="7.4" fill="#c0232e" fill-opacity="0.6"/>
<circle cx="736.1" cy="2009.6" r="7.4" fill="#5a96d2" fill-opacity="0.5"/>
<circle cx="732.6" cy="2040.1" r="7.4" fill="#4a4a4a" fill-opacity="0.55"/>
<circle cx="768.3" cy="2054.2" r="7.4" fill="#b4b4b4" fill-opacity="0.45"/>
<circle cx="763.2" cy="2050.2" r="7.4" fill="#b4b4b4" fill-opacity="0.45"/>
<circle cx="764.5" cy="2046.2" r="7.4" fill="#b4b4b4" fill-opacity="0.45"/>
<circle cx="764.5" cy="2052.4" r="7.4" fill="#b4b4b4" fill-opacity="0.45"/>
<circle cx="772.4" cy="2045.8" r="7.4" fill="#b4b4b4" fill-opacity="0.45"/>
<circle cx="773.3" cy="2054.2" r="7.4" fill="#b4b4b4" fill-opacity="0.45"/>
<circle cx="770.7" cy="2047.2" r="7.4" fill="#b4b4b4" fill-opacity="0.45"/>
<circle cx="766.6" cy="2049.1" r="7.4" fill="#b4b4b4" fill-opacity="0.45"/>
<circle cx="768.1" cy="2052.1" r="7.4" fill="#b4b4b4" fill-opacity="0.45"/>
<circle cx="772.0" cy="2047.2" r="7.4" fill="#b4b4b4" fill-opacity="0.45"/>
<circle cx="767.8" cy="1959.3" r="7.4" fill="#c0232e" fill-opacity="0.6"/>
<circle cx="772.0" cy="1966.5" r="7.4" fill="#c0232e" fill-opacity="0.6"/>
<circle cx="768.2" cy="1971.0" r="7.4" fill="#c0232e" fill-opacity="0.6"/>
<circle cx="763.1" cy="1962.0" r="7.4" fill="#c0232e" fill-opacity="0.6"/>
<circle cx="768.3" cy="1985.4" r="7.4" fill="#ee9a84" fill-opacity="0.6"/>
<circle cx="763.9" cy="1994.3" r="7.4" fill="#ee9a84" fill-opacity="0.6"/>
<circle cx="762.7" cy="2005.1" r="7.4" fill="#8a62a8" fill-opacity="0.55"/>
<circle cx="767.8" cy="2007.8" r="7.4" fill="#5a96d2" fill-opacity="0.5"/>
<circle cx="763.8" cy="2016.8" r="7.4" fill="#3cb44b" fill-opacity="0.55"/>
<circle cx="765.2" cy="2023.1" r="7.4" fill="#5a96d2" fill-opacity="0.5"/>
<circle cx="768.8" cy="2029.4" r="7.4" fill="#5a96d2" fill-opacity="0.5"/>
<circle cx="763.1" cy="2036.5" r="7.4" fill="#8a5314" fill-opacity="0.55"/>
<circle cx="766.8" cy="2039.2" r="7.4" fill="#4a4a4a" fill-opacity="0.55"/>
<circle cx="763.6" cy="2026.7" r="7.4" fill="#3cb44b" fill-opacity="0.55"/>
<circle cx="771.5" cy="2032.1" r="7.4" fill="#8a5314" fill-opacity="0.55"/>
<circle cx="767.9" cy="2018.6" r="7.4" fill="#ee9a84" fill-opacity="0.6"/>
<circle cx="768.8" cy="2022.2" r="7.4" fill="#8a62a8" fill-opacity="0.55"/>
<circle cx="763.3" cy="2030.3" r="7.4" fill="#ee9a84" fill-opacity="0.6"/>
<circle cx="765.7" cy="2027.6" r="7.4" fill="#5a96d2" fill-opacity="0.5"/>
<circle cx="767.2" cy="2039.2" r="7.4" fill="#c0232e" fill-opacity="0.6"/>
<circle cx="774.1" cy="2020.4" r="7.4" fill="#5a96d2" fill-opacity="0.5"/>
<circle cx="762.7" cy="2026.7" r="7.4" fill="#5a96d2" fill-opacity="0.5"/>
<circle cx="808.6" cy="2047.1" r="7.4" fill="#b4b4b4" fill-opacity="0.45"/>
<circle cx="806.4" cy="2048.4" r="7.4" fill="#b4b4b4" fill-opacity="0.45"/>
<circle cx="808.4" cy="2054.2" r="7.4" fill="#b4b4b4" fill-opacity="0.45"/>
<circle cx="808.1" cy="2051.0" r="7.4" fill="#b4b4b4" fill-opacity="0.45"/>
<circle cx="798.6" cy="2046.4" r="7.4" fill="#b4b4b4" fill-opacity="0.45"/>
<circle cx="807.8" cy="2047.8" r="7.4" fill="#b4b4b4" fill-opacity="0.45"/>
<circle cx="800.9" cy="2055.6" r="7.4" fill="#b4b4b4" fill-opacity="0.45"/>
<circle cx="798.5" cy="2048.2" r="7.4" fill="#b4b4b4" fill-opacity="0.45"/>
<circle cx="799.9" cy="2046.6" r="7.4" fill="#b4b4b4" fill-opacity="0.45"/>
<circle cx="798.4" cy="2047.5" r="7.4" fill="#b4b4b4" fill-opacity="0.45"/>
<circle cx="841.7" cy="2050.9" r="7.4" fill="#b4b4b4" fill-opacity="0.45"/>
<circle cx="833.8" cy="2054.1" r="7.4" fill="#b4b4b4" fill-opacity="0.45"/>
<circle cx="834.4" cy="2050.9" r="7.4" fill="#b4b4b4" fill-opacity="0.45"/>
<circle cx="832.8" cy="2055.9" r="7.4" fill="#b4b4b4" fill-opacity="0.45"/>
<circle cx="841.9" cy="2054.6" r="7.4" fill="#b4b4b4" fill-opacity="0.45"/>
<circle cx="841.4" cy="2049.0" r="7.4" fill="#b4b4b4" fill-opacity="0.45"/>
<circle cx="840.0" cy="2054.5" r="7.4" fill="#b4b4b4" fill-opacity="0.45"/>
<circle cx="837.0" cy="2055.1" r="7.4" fill="#b4b4b4" fill-opacity="0.45"/>
<circle cx="834.9" cy="2049.4" r="7.4" fill="#b4b4b4" fill-opacity="0.45"/>
<circle cx="837.3" cy="2046.9" r="7.4" fill="#b4b4b4" fill-opacity="0.45"/>
<circle cx="875.2" cy="2050.1" r="7.4" fill="#b4b4b4" fill-opacity="0.45"/>
<circle cx="876.5" cy="2055.2" r="7.4" fill="#b4b4b4" fill-opacity="0.45"/>
<circle cx="869.3" cy="2049.5" r="7.4" fill="#b4b4b4" fill-opacity="0.45"/>
<circle cx="867.8" cy="2047.7" r="7.4" fill="#b4b4b4" fill-opacity="0.45"/>
<circle cx="871.5" cy="2045.6" r="7.4" fill="#b4b4b4" fill-opacity="0.45"/>
<circle cx="873.8" cy="2052.4" r="7.4" fill="#b4b4b4" fill-opacity="0.45"/>
<circle cx="866.7" cy="2051.5" r="7.4" fill="#b4b4b4" fill-opacity="0.45"/>
<circle cx="865.2" cy="2048.3" r="7.4" fill="#b4b4b4" fill-opacity="0.45"/>
<circle cx="867.6" cy="2047.5" r="7.4" fill="#b4b4b4" fill-opacity="0.45"/>
<circle cx="876.4" cy="2049.4" r="7.4" fill="#b4b4b4" fill-opacity="0.45"/>
<circle cx="866.5" cy="2028.5" r="7.4" fill="#c0232e" fill-opacity="0.6"/>
<circle cx="865.2" cy="2033.0" r="7.4" fill="#3cb44b" fill-opacity="0.55"/>
<circle cx="870.5" cy="2034.8" r="7.4" fill="#8a5314" fill-opacity="0.55"/>
<circle cx="868.5" cy="2038.3" r="7.4" fill="#ee9a84" fill-opacity="0.6"/>
<circle cx="865.1" cy="2041.0" r="7.4" fill="#5a96d2" fill-opacity="0.5"/>
<circle cx="865.3" cy="2043.7" r="7.4" fill="#8a5314" fill-opacity="0.55"/>
<circle cx="868.1" cy="2043.7" r="7.4" fill="#c0232e" fill-opacity="0.6"/>
<circle cx="868.2" cy="2044.6" r="7.4" fill="#4a4a4a" fill-opacity="0.55"/>
<circle cx="870.9" cy="2043.7" r="7.4" fill="#4a4a4a" fill-opacity="0.55"/>
<circle cx="867.9" cy="2040.1" r="7.4" fill="#8a5314" fill-opacity="0.55"/>
<circle cx="869.6" cy="2042.8" r="7.4" fill="#5a96d2" fill-opacity="0.5"/>
<circle cx="900.2" cy="2053.1" r="7.4" fill="#b4b4b4" fill-opacity="0.45"/>
<circle cx="908.5" cy="2052.4" r="7.4" fill="#b4b4b4" fill-opacity="0.45"/>
<circle cx="898.7" cy="2054.6" r="7.4" fill="#b4b4b4" fill-opacity="0.45"/>
<circle cx="907.1" cy="2047.7" r="7.4" fill="#b4b4b4" fill-opacity="0.45"/>
<circle cx="899.3" cy="2051.4" r="7.4" fill="#b4b4b4" fill-opacity="0.45"/>
<circle cx="906.6" cy="2054.7" r="7.4" fill="#b4b4b4" fill-opacity="0.45"/>
<circle cx="908.3" cy="2053.4" r="7.4" fill="#b4b4b4" fill-opacity="0.45"/>
<circle cx="899.3" cy="2045.9" r="7.4" fill="#b4b4b4" fill-opacity="0.45"/>
<circle cx="909.3" cy="2047.5" r="7.4" fill="#b4b4b4" fill-opacity="0.45"/>
<circle cx="905.5" cy="2049.9" r="7.4" fill="#b4b4b4" fill-opacity="0.45"/>
<circle cx="902.0" cy="2001.5" r="7.4" fill="#c0232e" fill-opacity="0.6"/>
<circle cx="909.9" cy="2003.3" r="7.4" fill="#5a96d2" fill-opacity="0.5"/>
<circle cx="900.3" cy="2011.4" r="7.4" fill="#c0232e" fill-opacity="0.6"/>
<circle cx="899.2" cy="2016.8" r="7.4" fill="#4a4a4a" fill-opacity="0.55"/>
<circle cx="905.9" cy="2022.2" r="7.4" fill="#8a62a8" fill-opacity="0.55"/>
<circle cx="904.7" cy="2028.5" r="7.4" fill="#8a5314" fill-opacity="0.55"/>
<circle cx="902.7" cy="2033.0" r="7.4" fill="#8a5314" fill-opacity="0.55"/>
<circle cx="908.3" cy="2039.2" r="7.4" fill="#4a4a4a" fill-opacity="0.55"/>
<circle cx="900.7" cy="2005.1" r="7.4" fill="#8a62a8" fill-opacity="0.55"/>
<circle cx="900.1" cy="2014.1" r="7.4" fill="#c0232e" fill-opacity="0.6"/>
<circle cx="902.2" cy="2032.1" r="7.4" fill="#5a96d2" fill-opacity="0.5"/>
<circle cx="899.2" cy="2034.8" r="7.4" fill="#8a62a8" fill-opacity="0.55"/>
<circle cx="904.7" cy="2032.1" r="7.4" fill="#4a4a4a" fill-opacity="0.55"/>
<circle cx="908.0" cy="2042.8" r="7.4" fill="#c0232e" fill-opacity="0.6"/>
<circle cx="907.2" cy="2045.5" r="7.4" fill="#8a62a8" fill-opacity="0.55"/>
<circle cx="897.6" cy="2045.5" r="7.4" fill="#c0232e" fill-opacity="0.6"/>
<circle cx="908.7" cy="2044.6" r="7.4" fill="#4a4a4a" fill-opacity="0.55"/>
<circle cx="907.5" cy="2046.4" r="7.4" fill="#4a4a4a" fill-opacity="0.55"/>
<circle cx="901.3" cy="2038.3" r="7.4" fill="#8a5314" fill-opacity="0.55"/>
<circle cx="907.5" cy="2047.3" r="7.4" fill="#5a96d2" fill-opacity="0.5"/>
<circle cx="935.3" cy="2051.4" r="7.4" fill="#b4b4b4" fill-opacity="0.45"/>
<circle cx="935.3" cy="2055.2" r="7.4" fill="#b4b4b4" fill-opacity="0.45"/>
<circle cx="936.6" cy="2055.9" r="7.4" fill="#b4b4b4" fill-opacity="0.45"/>
<circle cx="940.9" cy="2048.2" r="7.4" fill="#b4b4b4" fill-opacity="0.45"/>
<circle cx="941.1" cy="2047.2" r="7.4" fill="#b4b4b4" fill-opacity="0.45"/>
<circle cx="939.2" cy="2053.4" r="7.4" fill="#b4b4b4" fill-opacity="0.45"/>
<circle cx="942.0" cy="2051.6" r="7.4" fill="#b4b4b4" fill-opacity="0.45"/>
<circle cx="935.7" cy="2050.7" r="7.4" fill="#b4b4b4" fill-opacity="0.45"/>
<circle cx="944.1" cy="2049.4" r="7.4" fill="#b4b4b4" fill-opacity="0.45"/>
<circle cx="943.1" cy="2054.0" r="7.4" fill="#b4b4b4" fill-opacity="0.45"/>
<circle cx="938.8" cy="2041.0" r="7.4" fill="#c0232e" fill-opacity="0.6"/>
<circle cx="942.7" cy="2044.6" r="7.4" fill="#8a62a8" fill-opacity="0.55"/>
<circle cx="935.0" cy="2046.4" r="7.4" fill="#8a62a8" fill-opacity="0.55"/>
<circle cx="977.5" cy="2054.6" r="7.4" fill="#b4b4b4" fill-opacity="0.45"/>
<circle cx="971.2" cy="2054.2" r="7.4" fill="#b4b4b4" fill-opacity="0.45"/>
<circle cx="971.1" cy="2049.8" r="7.4" fill="#b4b4b4" fill-opacity="0.45"/>
<circle cx="977.6" cy="2047.1" r="7.4" fill="#b4b4b4" fill-opacity="0.45"/>
<circle cx="976.6" cy="2045.7" r="7.4" fill="#b4b4b4" fill-opacity="0.45"/>
<circle cx="972.2" cy="2050.5" r="7.4" fill="#b4b4b4" fill-opacity="0.45"/>
<circle cx="966.6" cy="2050.6" r="7.4" fill="#b4b4b4" fill-opacity="0.45"/>
<circle cx="978.0" cy="2056.0" r="7.4" fill="#b4b4b4" fill-opacity="0.45"/>
<circle cx="977.2" cy="2053.8" r="7.4" fill="#b4b4b4" fill-opacity="0.45"/>
<circle cx="971.2" cy="2047.8" r="7.4" fill="#b4b4b4" fill-opacity="0.45"/>
<circle cx="971.1" cy="2011.4" r="7.4" fill="#c0232e" fill-opacity="0.6"/>
<circle cx="966.9" cy="2033.0" r="7.4" fill="#5a96d2" fill-opacity="0.5"/>
<circle cx="968.2" cy="2034.8" r="7.4" fill="#8a62a8" fill-opacity="0.55"/>
<circle cx="970.7" cy="2042.8" r="7.4" fill="#4a4a4a" fill-opacity="0.55"/>
<circle cx="967.1" cy="2038.3" r="7.4" fill="#5a96d2" fill-opacity="0.5"/>
<circle cx="967.4" cy="2044.6" r="7.4" fill="#c0232e" fill-opacity="0.6"/>
<circle cx="965.9" cy="2046.4" r="7.4" fill="#4a4a4a" fill-opacity="0.55"/>
<circle cx="976.8" cy="2040.1" r="7.4" fill="#4a4a4a" fill-opacity="0.55"/>
<circle cx="975.7" cy="2045.5" r="7.4" fill="#8a5314" fill-opacity="0.55"/>
<circle cx="967.1" cy="2035.7" r="7.4" fill="#5a96d2" fill-opacity="0.5"/>
<circle cx="1006.9" cy="2046.0" r="7.4" fill="#b4b4b4" fill-opacity="0.45"/>
<circle cx="1011.1" cy="2049.1" r="7.4" fill="#b4b4b4" fill-opacity="0.45"/>
<circle cx="1009.1" cy="2048.2" r="7.4" fill="#b4b4b4" fill-opacity="0.45"/>
<circle cx="1003.5" cy="2052.2" r="7.4" fill="#b4b4b4" fill-opacity="0.45"/>
<circle cx="1000.9" cy="2054.1" r="7.4" fill="#b4b4b4" fill-opacity="0.45"/>
<circle cx="1011.5" cy="2046.1" r="7.4" fill="#b4b4b4" fill-opacity="0.45"/>
<circle cx="1001.6" cy="2048.2" r="7.4" fill="#b4b4b4" fill-opacity="0.45"/>
<circle cx="1008.1" cy="2048.2" r="7.4" fill="#b4b4b4" fill-opacity="0.45"/>
<circle cx="1002.1" cy="2051.2" r="7.4" fill="#b4b4b4" fill-opacity="0.45"/>
<circle cx="1008.3" cy="2047.8" r="7.4" fill="#b4b4b4" fill-opacity="0.45"/>
<circle cx="1001.9" cy="2045.5" r="7.4" fill="#c0232e" fill-opacity="0.6"/>
<circle cx="1037.6" cy="2052.7" r="7.4" fill="#b4b4b4" fill-opacity="0.45"/>
<circle cx="1045.7" cy="2052.5" r="7.4" fill="#b4b4b4" fill-opacity="0.45"/>
<circle cx="1043.6" cy="2055.8" r="7.4" fill="#b4b4b4" fill-opacity="0.45"/>
<circle cx="1043.7" cy="2046.5" r="7.4" fill="#b4b4b4" fill-opacity="0.45"/>
<circle cx="1040.2" cy="2049.8" r="7.4" fill="#b4b4b4" fill-opacity="0.45"/>
<circle cx="1043.4" cy="2053.2" r="7.4" fill="#b4b4b4" fill-opacity="0.45"/>
<circle cx="1034.9" cy="2047.8" r="7.4" fill="#b4b4b4" fill-opacity="0.45"/>
<circle cx="1035.7" cy="2050.7" r="7.4" fill="#b4b4b4" fill-opacity="0.45"/>
<circle cx="1035.1" cy="2051.3" r="7.4" fill="#b4b4b4" fill-opacity="0.45"/>
<circle cx="1043.1" cy="2050.2" r="7.4" fill="#b4b4b4" fill-opacity="0.45"/>
<circle cx="1035.0" cy="1982.7" r="7.4" fill="#c0232e" fill-opacity="0.6"/>
<circle cx="1040.4" cy="2013.2" r="7.4" fill="#c0232e" fill-opacity="0.6"/>
<circle cx="1038.7" cy="2017.7" r="7.4" fill="#8a62a8" fill-opacity="0.55"/>
<circle cx="1040.2" cy="2017.7" r="7.4" fill="#5a96d2" fill-opacity="0.5"/>
<circle cx="1037.6" cy="2022.2" r="7.4" fill="#c0232e" fill-opacity="0.6"/>
<circle cx="1045.8" cy="2028.5" r="7.4" fill="#ee9a84" fill-opacity="0.6"/>
<circle cx="1035.8" cy="2039.2" r="7.4" fill="#8a5314" fill-opacity="0.55"/>
<circle cx="1037.1" cy="2039.2" r="7.4" fill="#3cb44b" fill-opacity="0.55"/>
<circle cx="1042.9" cy="2032.1" r="7.4" fill="#5a96d2" fill-opacity="0.5"/>
<circle cx="1037.5" cy="2022.2" r="7.4" fill="#c0232e" fill-opacity="0.6"/>
<circle cx="1035.8" cy="2041.0" r="7.4" fill="#c0232e" fill-opacity="0.6"/>
<circle cx="1042.1" cy="2031.2" r="7.4" fill="#c0232e" fill-opacity="0.6"/>
<circle cx="1034.1" cy="2024.0" r="7.4" fill="#c0232e" fill-opacity="0.6"/>
<circle cx="1044.0" cy="2047.3" r="7.4" fill="#4a4a4a" fill-opacity="0.55"/>
<circle cx="1042.9" cy="2041.9" r="7.4" fill="#4a4a4a" fill-opacity="0.55"/>
<circle cx="1039.8" cy="2041.9" r="7.4" fill="#8a5314" fill-opacity="0.55"/>
<circle cx="1042.0" cy="2038.3" r="7.4" fill="#5a96d2" fill-opacity="0.5"/>
<circle cx="1073.3" cy="2052.5" r="7.4" fill="#b4b4b4" fill-opacity="0.45"/>
<circle cx="1079.2" cy="2052.1" r="7.4" fill="#b4b4b4" fill-opacity="0.45"/>
<circle cx="1079.1" cy="2055.4" r="7.4" fill="#b4b4b4" fill-opacity="0.45"/>
<circle cx="1071.0" cy="2056.0" r="7.4" fill="#b4b4b4" fill-opacity="0.45"/>
<circle cx="1079.3" cy="2053.5" r="7.4" fill="#b4b4b4" fill-opacity="0.45"/>
<circle cx="1073.0" cy="2050.9" r="7.4" fill="#b4b4b4" fill-opacity="0.45"/>
<circle cx="1071.3" cy="2046.8" r="7.4" fill="#b4b4b4" fill-opacity="0.45"/>
<circle cx="1074.9" cy="2051.3" r="7.4" fill="#b4b4b4" fill-opacity="0.45"/>
<circle cx="1077.5" cy="2048.2" r="7.4" fill="#b4b4b4" fill-opacity="0.45"/>
<circle cx="1072.7" cy="2049.3" r="7.4" fill="#b4b4b4" fill-opacity="0.45"/>
<circle cx="1073.7" cy="2022.2" r="7.4" fill="#c0232e" fill-opacity="0.6"/>
<circle cx="1075.4" cy="2026.7" r="7.4" fill="#c0232e" fill-opacity="0.6"/>
<circle cx="1070.0" cy="2033.0" r="7.4" fill="#8a62a8" fill-opacity="0.55"/>
<circle cx="1071.2" cy="2033.0" r="7.4" fill="#5a96d2" fill-opacity="0.5"/>
<circle cx="1079.1" cy="2044.6" r="7.4" fill="#4a4a4a" fill-opacity="0.55"/>
<circle cx="1071.3" cy="2043.7" r="7.4" fill="#c0232e" fill-opacity="0.6"/>
<circle cx="1069.0" cy="2040.1" r="7.4" fill="#5a96d2" fill-opacity="0.5"/>
<circle cx="1072.1" cy="2039.2" r="7.4" fill="#4a4a4a" fill-opacity="0.55"/>
<circle cx="1076.9" cy="2038.3" r="7.4" fill="#4a4a4a" fill-opacity="0.55"/>
<circle cx="1074.2" cy="2045.5" r="7.4" fill="#8a5314" fill-opacity="0.55"/>
<circle cx="1070.3" cy="2041.9" r="7.4" fill="#5a96d2" fill-opacity="0.5"/>
<circle cx="1105.4" cy="2054.6" r="7.4" fill="#b4b4b4" fill-opacity="0.45"/>
<circle cx="1108.7" cy="2052.8" r="7.4" fill="#b4b4b4" fill-opacity="0.45"/>
<circle cx="1106.4" cy="2054.6" r="7.4" fill="#b4b4b4" fill-opacity="0.45"/>
<circle cx="1114.2" cy="2054.3" r="7.4" fill="#b4b4b4" fill-opacity="0.45"/>
<circle cx="1103.7" cy="2048.5" r="7.4" fill="#b4b4b4" fill-opacity="0.45"/>
<circle cx="1103.7" cy="2045.9" r="7.4" fill="#b4b4b4" fill-opacity="0.45"/>
<circle cx="1114.3" cy="2052.2" r="7.4" fill="#b4b4b4" fill-opacity="0.45"/>
<circle cx="1111.3" cy="2047.7" r="7.4" fill="#b4b4b4" fill-opacity="0.45"/>
<circle cx="1104.8" cy="2051.6" r="7.4" fill="#b4b4b4" fill-opacity="0.45"/>
<circle cx="1103.7" cy="2049.4" r="7.4" fill="#b4b4b4" fill-opacity="0.45"/>
<circle cx="1107.1" cy="1956.6" r="7.4" fill="#c0232e" fill-opacity="0.6"/>
<circle cx="1109.5" cy="1960.2" r="7.4" fill="#c0232e" fill-opacity="0.6"/>
<circle cx="1110.2" cy="1971.0" r="7.4" fill="#c0232e" fill-opacity="0.6"/>
<circle cx="1108.2" cy="1976.4" r="7.4" fill="#c0232e" fill-opacity="0.6"/>
<circle cx="1110.5" cy="1966.5" r="7.4" fill="#c0232e" fill-opacity="0.6"/>
<circle cx="1110.3" cy="1989.9" r="7.4" fill="#5a96d2" fill-opacity="0.5"/>
<circle cx="1108.5" cy="1999.7" r="7.4" fill="#ee9a84" fill-opacity="0.6"/>
<circle cx="1110.2" cy="2009.6" r="7.4" fill="#3cb44b" fill-opacity="0.55"/>
<circle cx="1109.5" cy="2013.2" r="7.4" fill="#3cb44b" fill-opacity="0.55"/>
<circle cx="1103.3" cy="2022.2" r="7.4" fill="#8a5314" fill-opacity="0.55"/>
<circle cx="1104.6" cy="2029.4" r="7.4" fill="#8a5314" fill-opacity="0.55"/>
<circle cx="1104.0" cy="2029.4" r="7.4" fill="#4a4a4a" fill-opacity="0.55"/>
<circle cx="1104.9" cy="2041.0" r="7.4" fill="#4a4a4a" fill-opacity="0.55"/>
<circle cx="1105.6" cy="2037.4" r="7.4" fill="#5a96d2" fill-opacity="0.5"/>
<circle cx="1110.9" cy="2018.6" r="7.4" fill="#8a5314" fill-opacity="0.55"/>
<circle cx="1108.6" cy="2037.4" r="7.4" fill="#ee9a84" fill-opacity="0.6"/>
<circle cx="1105.4" cy="2025.8" r="7.4" fill="#c0232e" fill-opacity="0.6"/>
<circle cx="1107.3" cy="2029.4" r="7.4" fill="#4a4a4a" fill-opacity="0.55"/>
<circle cx="1107.2" cy="2027.6" r="7.4" fill="#c0232e" fill-opacity="0.6"/>
<circle cx="1104.3" cy="2024.9" r="7.4" fill="#8a5314" fill-opacity="0.55"/>
<circle cx="1112.7" cy="2033.9" r="7.4" fill="#c0232e" fill-opacity="0.6"/>
<circle cx="1105.3" cy="2040.1" r="7.4" fill="#8a5314" fill-opacity="0.55"/>
<circle cx="1102.7" cy="2038.3" r="7.4" fill="#4a4a4a" fill-opacity="0.55"/>
<circle cx="1112.8" cy="2047.3" r="7.4" fill="#4a4a4a" fill-opacity="0.55"/>
<circle cx="1105.6" cy="2044.6" r="7.4" fill="#8a5314" fill-opacity="0.55"/>
<circle cx="1110.4" cy="2037.4" r="7.4" fill="#5a96d2" fill-opacity="0.5"/>
<circle cx="1147.2" cy="2046.9" r="7.4" fill="#b4b4b4" fill-opacity="0.45"/>
<circle cx="1136.6" cy="2052.8" r="7.4" fill="#b4b4b4" fill-opacity="0.45"/>
<circle cx="1147.3" cy="2047.3" r="7.4" fill="#b4b4b4" fill-opacity="0.45"/>
<circle cx="1139.5" cy="2055.2" r="7.4" fill="#b4b4b4" fill-opacity="0.45"/>
<circle cx="1145.0" cy="2054.0" r="7.4" fill="#b4b4b4" fill-opacity="0.45"/>
<circle cx="1138.8" cy="2046.1" r="7.4" fill="#b4b4b4" fill-opacity="0.45"/>
<circle cx="1146.6" cy="2052.6" r="7.4" fill="#b4b4b4" fill-opacity="0.45"/>
<circle cx="1138.9" cy="2051.4" r="7.4" fill="#b4b4b4" fill-opacity="0.45"/>
<circle cx="1136.6" cy="2051.2" r="7.4" fill="#b4b4b4" fill-opacity="0.45"/>
<circle cx="1140.9" cy="2047.8" r="7.4" fill="#b4b4b4" fill-opacity="0.45"/>
<circle cx="1138.3" cy="1994.3" r="7.4" fill="#c0232e" fill-opacity="0.6"/>
<circle cx="1137.1" cy="2009.6" r="7.4" fill="#c0232e" fill-opacity="0.6"/>
<circle cx="1139.7" cy="2013.2" r="7.4" fill="#c0232e" fill-opacity="0.6"/>
<circle cx="1138.6" cy="2024.9" r="7.4" fill="#c0232e" fill-opacity="0.6"/>
<circle cx="1136.6" cy="2033.0" r="7.4" fill="#4a4a4a" fill-opacity="0.55"/>
<circle cx="1141.5" cy="2041.0" r="7.4" fill="#4a4a4a" fill-opacity="0.55"/>
<circle cx="1138.8" cy="2038.3" r="7.4" fill="#4a4a4a" fill-opacity="0.55"/>
<circle cx="1144.8" cy="2024.9" r="7.4" fill="#c0232e" fill-opacity="0.6"/>
<circle cx="1140.7" cy="2024.0" r="7.4" fill="#c0232e" fill-opacity="0.6"/>
<circle cx="1137.6" cy="2042.8" r="7.4" fill="#4a4a4a" fill-opacity="0.55"/>
<circle cx="1139.1" cy="2038.3" r="7.4" fill="#4a4a4a" fill-opacity="0.55"/>
<circle cx="1145.3" cy="2045.5" r="7.4" fill="#8a5314" fill-opacity="0.55"/>
<circle cx="1143.0" cy="2035.7" r="7.4" fill="#5a96d2" fill-opacity="0.5"/>
<circle cx="1173.0" cy="2050.6" r="7.4" fill="#b4b4b4" fill-opacity="0.45"/>
<circle cx="1175.1" cy="2047.7" r="7.4" fill="#b4b4b4" fill-opacity="0.45"/>
<circle cx="1172.0" cy="2054.0" r="7.4" fill="#b4b4b4" fill-opacity="0.45"/>
<circle cx="1180.1" cy="2047.9" r="7.4" fill="#b4b4b4" fill-opacity="0.45"/>
<circle cx="1176.0" cy="2049.5" r="7.4" fill="#b4b4b4" fill-opacity="0.45"/>
<circle cx="1173.1" cy="2050.2" r="7.4" fill="#b4b4b4" fill-opacity="0.45"/>
<circle cx="1174.7" cy="2045.9" r="7.4" fill="#b4b4b4" fill-opacity="0.45"/>
<circle cx="1180.2" cy="2049.4" r="7.4" fill="#b4b4b4" fill-opacity="0.45"/>
<circle cx="1176.0" cy="2047.5" r="7.4" fill="#b4b4b4" fill-opacity="0.45"/>
<circle cx="1177.0" cy="2053.1" r="7.4" fill="#b4b4b4" fill-opacity="0.45"/>
<circle cx="1173.3" cy="2007.8" r="7.4" fill="#c0232e" fill-opacity="0.6"/>
<circle cx="1180.1" cy="2022.2" r="7.4" fill="#c0232e" fill-opacity="0.6"/>
<circle cx="1180.0" cy="2028.5" r="7.4" fill="#8a62a8" fill-opacity="0.55"/>
<circle cx="1172.3" cy="2028.5" r="7.4" fill="#4a4a4a" fill-opacity="0.55"/>
<circle cx="1178.3" cy="2034.8" r="7.4" fill="#c0232e" fill-opacity="0.6"/>
<circle cx="1174.3" cy="2041.0" r="7.4" fill="#8a5314" fill-opacity="0.55"/>
<circle cx="1173.3" cy="2024.9" r="7.4" fill="#5a96d2" fill-opacity="0.5"/>
<circle cx="1177.9" cy="2044.6" r="7.4" fill="#5a96d2" fill-opacity="0.5"/>
<circle cx="1171.4" cy="2039.2" r="7.4" fill="#5a96d2" fill-opacity="0.5"/>
<circle cx="1176.6" cy="2033.0" r="7.4" fill="#8a62a8" fill-opacity="0.55"/>
<circle cx="1172.3" cy="2039.2" r="7.4" fill="#4a4a4a" fill-opacity="0.55"/>
<circle cx="1174.1" cy="2039.2" r="7.4" fill="#4a4a4a" fill-opacity="0.55"/>
<circle cx="1172.5" cy="2035.7" r="7.4" fill="#8a5314" fill-opacity="0.55"/>
<circle cx="1171.4" cy="2039.2" r="7.4" fill="#5a96d2" fill-opacity="0.5"/>
<circle cx="1208.3" cy="2050.2" r="7.4" fill="#b4b4b4" fill-opacity="0.45"/>
<circle cx="1210.8" cy="2046.1" r="7.4" fill="#b4b4b4" fill-opacity="0.45"/>
<circle cx="1211.4" cy="2052.6" r="7.4" fill="#b4b4b4" fill-opacity="0.45"/>
<circle cx="1206.9" cy="2049.2" r="7.4" fill="#b4b4b4" fill-opacity="0.45"/>
<circle cx="1207.9" cy="2055.5" r="7.4" fill="#b4b4b4" fill-opacity="0.45"/>
<circle cx="1211.3" cy="2049.8" r="7.4" fill="#b4b4b4" fill-opacity="0.45"/>
<circle cx="1206.6" cy="2047.1" r="7.4" fill="#b4b4b4" fill-opacity="0.45"/>
<circle cx="1213.8" cy="2051.4" r="7.4" fill="#b4b4b4" fill-opacity="0.45"/>
<circle cx="1209.2" cy="2054.1" r="7.4" fill="#b4b4b4" fill-opacity="0.45"/>
<circle cx="1211.7" cy="2050.5" r="7.4" fill="#b4b4b4" fill-opacity="0.45"/>
<circle cx="1208.7" cy="2027.6" r="7.4" fill="#c0232e" fill-opacity="0.6"/>
<circle cx="1215.1" cy="2045.5" r="7.4" fill="#8a62a8" fill-opacity="0.55"/>
<circle cx="1213.9" cy="2042.8" r="7.4" fill="#c0232e" fill-opacity="0.6"/>
<circle cx="1240.7" cy="2047.3" r="7.4" fill="#b4b4b4" fill-opacity="0.45"/>
<circle cx="1244.7" cy="2048.8" r="7.4" fill="#b4b4b4" fill-opacity="0.45"/>
<circle cx="1243.6" cy="2048.3" r="7.4" fill="#b4b4b4" fill-opacity="0.45"/>
<circle cx="1245.0" cy="2046.8" r="7.4" fill="#b4b4b4" fill-opacity="0.45"/>
<circle cx="1241.2" cy="2053.5" r="7.4" fill="#b4b4b4" fill-opacity="0.45"/>
<circle cx="1244.3" cy="2054.8" r="7.4" fill="#b4b4b4" fill-opacity="0.45"/>
<circle cx="1244.0" cy="2055.7" r="7.4" fill="#b4b4b4" fill-opacity="0.45"/>
<circle cx="1244.3" cy="2054.7" r="7.4" fill="#b4b4b4" fill-opacity="0.45"/>
<circle cx="1244.9" cy="2050.9" r="7.4" fill="#b4b4b4" fill-opacity="0.45"/>
<circle cx="1238.5" cy="2047.0" r="7.4" fill="#b4b4b4" fill-opacity="0.45"/>
<circle cx="1238.8" cy="2001.5" r="7.4" fill="#c0232e" fill-opacity="0.6"/>
<circle cx="1242.7" cy="2009.6" r="7.4" fill="#c0232e" fill-opacity="0.6"/>
<circle cx="1246.1" cy="2025.8" r="7.4" fill="#4a4a4a" fill-opacity="0.55"/>
<circle cx="1237.5" cy="2025.8" r="7.4" fill="#5a96d2" fill-opacity="0.5"/>
<circle cx="1238.9" cy="2032.1" r="7.4" fill="#c0232e" fill-opacity="0.6"/>
<circle cx="1247.2" cy="2032.1" r="7.4" fill="#ee9a84" fill-opacity="0.6"/>
<circle cx="1245.4" cy="2045.5" r="7.4" fill="#8a5314" fill-opacity="0.55"/>
<circle cx="1248.1" cy="2030.3" r="7.4" fill="#5a96d2" fill-opacity="0.5"/>
<circle cx="1239.5" cy="2033.0" r="7.4" fill="#5a96d2" fill-opacity="0.5"/>
<circle cx="1241.3" cy="2033.9" r="7.4" fill="#8a5314" fill-opacity="0.55"/>
<circle cx="1247.5" cy="2041.9" r="7.4" fill="#4a4a4a" fill-opacity="0.55"/>
<circle cx="1240.1" cy="2041.9" r="7.4" fill="#4a4a4a" fill-opacity="0.55"/>
<circle cx="1239.1" cy="2035.7" r="7.4" fill="#8a5314" fill-opacity="0.55"/>
<circle cx="1243.4" cy="2039.2" r="7.4" fill="#5a96d2" fill-opacity="0.5"/>
<circle cx="1273.5" cy="2054.9" r="7.4" fill="#b4b4b4" fill-opacity="0.45"/>
<circle cx="1276.5" cy="2049.2" r="7.4" fill="#b4b4b4" fill-opacity="0.45"/>
<circle cx="1279.0" cy="2047.9" r="7.4" fill="#b4b4b4" fill-opacity="0.45"/>
<circle cx="1275.8" cy="2046.5" r="7.4" fill="#b4b4b4" fill-opacity="0.45"/>
<circle cx="1275.4" cy="2052.6" r="7.4" fill="#b4b4b4" fill-opacity="0.45"/>
<circle cx="1275.8" cy="2055.7" r="7.4" fill="#b4b4b4" fill-opacity="0.45"/>
<circle cx="1278.3" cy="2052.5" r="7.4" fill="#b4b4b4" fill-opacity="0.45"/>
<circle cx="1284.2" cy="2052.7" r="7.4" fill="#b4b4b4" fill-opacity="0.45"/>
<circle cx="1276.5" cy="2046.9" r="7.4" fill="#b4b4b4" fill-opacity="0.45"/>
<circle cx="1278.3" cy="2054.1" r="7.4" fill="#b4b4b4" fill-opacity="0.45"/>
<circle cx="1274.6" cy="1976.4" r="7.4" fill="#c0232e" fill-opacity="0.6"/>
<circle cx="1279.2" cy="2005.1" r="7.4" fill="#c0232e" fill-opacity="0.6"/>
<circle cx="1277.1" cy="2012.3" r="7.4" fill="#8a62a8" fill-opacity="0.55"/>
<circle cx="1272.2" cy="2017.7" r="7.4" fill="#c0232e" fill-opacity="0.6"/>
<circle cx="1272.9" cy="2019.5" r="7.4" fill="#c0232e" fill-opacity="0.6"/>
<circle cx="1282.2" cy="2043.7" r="7.4" fill="#4a4a4a" fill-opacity="0.55"/>
<circle cx="1275.2" cy="2041.9" r="7.4" fill="#4a4a4a" fill-opacity="0.55"/>
<circle cx="1281.6" cy="2042.8" r="7.4" fill="#c0232e" fill-opacity="0.6"/>
<circle cx="1273.1" cy="2035.7" r="7.4" fill="#8a62a8" fill-opacity="0.55"/>
<circle cx="1275.4" cy="2041.9" r="7.4" fill="#4a4a4a" fill-opacity="0.55"/>
<circle cx="1278.9" cy="2046.4" r="7.4" fill="#4a4a4a" fill-opacity="0.55"/>
<circle cx="1276.9" cy="2035.7" r="7.4" fill="#4a4a4a" fill-opacity="0.55"/>
<circle cx="1272.5" cy="2042.8" r="7.4" fill="#8a5314" fill-opacity="0.55"/>
<circle cx="1280.4" cy="2041.0" r="7.4" fill="#5a96d2" fill-opacity="0.5"/>
<circle cx="1316.9" cy="2048.9" r="7.4" fill="#b4b4b4" fill-opacity="0.45"/>
<circle cx="1306.8" cy="2055.4" r="7.4" fill="#b4b4b4" fill-opacity="0.45"/>
<circle cx="1313.8" cy="2049.5" r="7.4" fill="#b4b4b4" fill-opacity="0.45"/>
<circle cx="1314.3" cy="2054.4" r="7.4" fill="#b4b4b4" fill-opacity="0.45"/>
<circle cx="1311.4" cy="2046.9" r="7.4" fill="#b4b4b4" fill-opacity="0.45"/>
<circle cx="1317.5" cy="2055.2" r="7.4" fill="#b4b4b4" fill-opacity="0.45"/>
<circle cx="1316.8" cy="2056.2" r="7.4" fill="#b4b4b4" fill-opacity="0.45"/>
<circle cx="1310.1" cy="2054.8" r="7.4" fill="#b4b4b4" fill-opacity="0.45"/>
<circle cx="1316.7" cy="2048.7" r="7.4" fill="#b4b4b4" fill-opacity="0.45"/>
<circle cx="1306.8" cy="2054.3" r="7.4" fill="#b4b4b4" fill-opacity="0.45"/>
<circle cx="1308.7" cy="2016.8" r="7.4" fill="#c0232e" fill-opacity="0.6"/>
<circle cx="1314.7" cy="2033.9" r="7.4" fill="#c0232e" fill-opacity="0.6"/>
<circle cx="1311.2" cy="2033.9" r="7.4" fill="#5a96d2" fill-opacity="0.5"/>
<circle cx="1305.9" cy="2037.4" r="7.4" fill="#5a96d2" fill-opacity="0.5"/>
<circle cx="1314.5" cy="2045.5" r="7.4" fill="#4a4a4a" fill-opacity="0.55"/>
<circle cx="1313.5" cy="2046.4" r="7.4" fill="#4a4a4a" fill-opacity="0.55"/>
<circle cx="1313.3" cy="2039.2" r="7.4" fill="#c0232e" fill-opacity="0.6"/>
<circle cx="1314.3" cy="2041.9" r="7.4" fill="#4a4a4a" fill-opacity="0.55"/>
<circle cx="1308.2" cy="2041.0" r="7.4" fill="#4a4a4a" fill-opacity="0.55"/>
<circle cx="1311.5" cy="2037.4" r="7.4" fill="#8a5314" fill-opacity="0.55"/>
<circle cx="1312.9" cy="2038.3" r="7.4" fill="#5a96d2" fill-opacity="0.5"/>
<circle cx="1346.0" cy="2055.4" r="7.4" fill="#b4b4b4" fill-opacity="0.45"/>
<circle cx="1347.8" cy="2046.7" r="7.4" fill="#b4b4b4" fill-opacity="0.45"/>
<circle cx="1340.4" cy="2051.7" r="7.4" fill="#b4b4b4" fill-opacity="0.45"/>
<circle cx="1352.2" cy="2049.1" r="7.4" fill="#b4b4b4" fill-opacity="0.45"/>
<circle cx="1342.9" cy="2047.1" r="7.4" fill="#b4b4b4" fill-opacity="0.45"/>
<circle cx="1346.0" cy="2055.0" r="7.4" fill="#b4b4b4" fill-opacity="0.45"/>
<circle cx="1347.1" cy="2053.3" r="7.4" fill="#b4b4b4" fill-opacity="0.45"/>
<circle cx="1349.3" cy="2051.4" r="7.4" fill="#b4b4b4" fill-opacity="0.45"/>
<circle cx="1344.7" cy="2046.4" r="7.4" fill="#b4b4b4" fill-opacity="0.45"/>
<circle cx="1348.7" cy="2048.3" r="7.4" fill="#b4b4b4" fill-opacity="0.45"/>
<circle cx="1341.7" cy="2041.0" r="7.4" fill="#c0232e" fill-opacity="0.6"/>
<circle cx="1347.0" cy="2045.5" r="7.4" fill="#3cb44b" fill-opacity="0.55"/>
<circle cx="1346.3" cy="2046.4" r="7.4" fill="#c0232e" fill-opacity="0.6"/>
<circle cx="1385.0" cy="2049.1" r="7.4" fill="#b4b4b4" fill-opacity="0.45"/>
<circle cx="1374.9" cy="2046.5" r="7.4" fill="#b4b4b4" fill-opacity="0.45"/>
<circle cx="1375.0" cy="2056.0" r="7.4" fill="#b4b4b4" fill-opacity="0.45"/>
<circle cx="1382.5" cy="2046.8" r="7.4" fill="#b4b4b4" fill-opacity="0.45"/>
<circle cx="1379.0" cy="2049.6" r="7.4" fill="#b4b4b4" fill-opacity="0.45"/>
<circle cx="1381.5" cy="2052.9" r="7.4" fill="#b4b4b4" fill-opacity="0.45"/>
<circle cx="1384.3" cy="2046.0" r="7.4" fill="#b4b4b4" fill-opacity="0.45"/>
<circle cx="1378.1" cy="2049.7" r="7.4" fill="#b4b4b4" fill-opacity="0.45"/>
<circle cx="1383.0" cy="2046.1" r="7.4" fill="#b4b4b4" fill-opacity="0.45"/>
<circle cx="1376.3" cy="2051.2" r="7.4" fill="#b4b4b4" fill-opacity="0.45"/>
<circle cx="1381.0" cy="2041.0" r="7.4" fill="#c0232e" fill-opacity="0.6"/>
<circle cx="1419.7" cy="2055.0" r="7.4" fill="#b4b4b4" fill-opacity="0.45"/>
<circle cx="1417.9" cy="2054.5" r="7.4" fill="#b4b4b4" fill-opacity="0.45"/>
<circle cx="1417.6" cy="2051.2" r="7.4" fill="#b4b4b4" fill-opacity="0.45"/>
<circle cx="1411.5" cy="2051.4" r="7.4" fill="#b4b4b4" fill-opacity="0.45"/>
<circle cx="1412.3" cy="2048.2" r="7.4" fill="#b4b4b4" fill-opacity="0.45"/>
<circle cx="1415.7" cy="2053.3" r="7.4" fill="#b4b4b4" fill-opacity="0.45"/>
<circle cx="1417.9" cy="2049.3" r="7.4" fill="#b4b4b4" fill-opacity="0.45"/>
<circle cx="1418.7" cy="2049.8" r="7.4" fill="#b4b4b4" fill-opacity="0.45"/>
<circle cx="1408.5" cy="2048.5" r="7.4" fill="#b4b4b4" fill-opacity="0.45"/>
<circle cx="1418.3" cy="2054.7" r="7.4" fill="#b4b4b4" fill-opacity="0.45"/>
<circle cx="1409.6" cy="1960.2" r="7.4" fill="#c0232e" fill-opacity="0.6"/>
<circle cx="1410.0" cy="1967.4" r="7.4" fill="#c0232e" fill-opacity="0.6"/>
<circle cx="1419.0" cy="1975.5" r="7.4" fill="#c0232e" fill-opacity="0.6"/>
<circle cx="1415.2" cy="1981.8" r="7.4" fill="#c0232e" fill-opacity="0.6"/>
<circle cx="1410.0" cy="1971.0" r="7.4" fill="#c0232e" fill-opacity="0.6"/>
<circle cx="1420.0" cy="2005.1" r="7.4" fill="#5a96d2" fill-opacity="0.5"/>
<circle cx="1413.7" cy="2013.2" r="7.4" fill="#ee9a84" fill-opacity="0.6"/>
<circle cx="1414.9" cy="2021.3" r="7.4" fill="#4a4a4a" fill-opacity="0.55"/>
<circle cx="1417.6" cy="2021.3" r="7.4" fill="#3cb44b" fill-opacity="0.55"/>
<circle cx="1411.3" cy="2031.2" r="7.4" fill="#8a5314" fill-opacity="0.55"/>
<circle cx="1414.7" cy="2037.4" r="7.4" fill="#4a4a4a" fill-opacity="0.55"/>
<circle cx="1414.8" cy="2027.6" r="7.4" fill="#8a5314" fill-opacity="0.55"/>
<circle cx="1411.2" cy="2022.2" r="7.4" fill="#c0232e" fill-opacity="0.6"/>
<circle cx="1412.9" cy="2030.3" r="7.4" fill="#4a4a4a" fill-opacity="0.55"/>
<circle cx="1417.7" cy="2031.2" r="7.4" fill="#c0232e" fill-opacity="0.6"/>
<circle cx="1413.1" cy="2012.3" r="7.4" fill="#c0232e" fill-opacity="0.6"/>
<circle cx="1420.1" cy="2017.7" r="7.4" fill="#5a96d2" fill-opacity="0.5"/>
<circle cx="1412.0" cy="2035.7" r="7.4" fill="#ee9a84" fill-opacity="0.6"/>
<circle cx="1407.7" cy="2045.5" r="7.4" fill="#4a4a4a" fill-opacity="0.55"/>
<circle cx="1413.0" cy="2036.5" r="7.4" fill="#4a4a4a" fill-opacity="0.55"/>
<circle cx="1416.8" cy="2038.3" r="7.4" fill="#8a5314" fill-opacity="0.55"/>
<circle cx="1414.7" cy="2038.3" r="7.4" fill="#5a96d2" fill-opacity="0.5"/>
<circle cx="1442.4" cy="2050.0" r="7.4" fill="#b4b4b4" fill-opacity="0.45"/>
<circle cx="1448.7" cy="2052.2" r="7.4" fill="#b4b4b4" fill-opacity="0.45"/>
<circle cx="1446.5" cy="2050.5" r="7.4" fill="#b4b4b4" fill-opacity="0.45"/>
<circle cx="1447.0" cy="2055.6" r="7.4" fill="#b4b4b4" fill-opacity="0.45"/>
<circle cx="1445.4" cy="2050.7" r="7.4" fill="#b4b4b4" fill-opacity="0.45"/>
<circle cx="1446.1" cy="2047.3" r="7.4" fill="#b4b4b4" fill-opacity="0.45"/>
<circle cx="1444.7" cy="2050.9" r="7.4" fill="#b4b4b4" fill-opacity="0.45"/>
<circle cx="1443.4" cy="2054.0" r="7.4" fill="#b4b4b4" fill-opacity="0.45"/>
<circle cx="1445.7" cy="2047.6" r="7.4" fill="#b4b4b4" fill-opacity="0.45"/>
<circle cx="1446.6" cy="2050.1" r="7.4" fill="#b4b4b4" fill-opacity="0.45"/>
<circle cx="1442.5" cy="2032.1" r="7.4" fill="#c0232e" fill-opacity="0.6"/>
<circle cx="1449.4" cy="2034.8" r="7.4" fill="#5a96d2" fill-opacity="0.5"/>
<circle cx="1446.4" cy="2034.8" r="7.4" fill="#8a62a8" fill-opacity="0.55"/>
<circle cx="1445.4" cy="2041.9" r="7.4" fill="#c0232e" fill-opacity="0.6"/>
<circle cx="1442.5" cy="2044.6" r="7.4" fill="#5a96d2" fill-opacity="0.5"/>
<circle cx="1442.7" cy="2045.5" r="7.4" fill="#c0232e" fill-opacity="0.6"/>
<circle cx="1449.2" cy="2042.8" r="7.4" fill="#4a4a4a" fill-opacity="0.55"/>
<circle cx="1452.7" cy="2046.4" r="7.4" fill="#4a4a4a" fill-opacity="0.55"/>
<circle cx="1448.1" cy="2040.1" r="7.4" fill="#8a5314" fill-opacity="0.55"/>
<circle cx="1445.8" cy="2038.3" r="7.4" fill="#5a96d2" fill-opacity="0.5"/>
<circle cx="1485.6" cy="2053.5" r="7.4" fill="#b4b4b4" fill-opacity="0.45"/>
<circle cx="1487.6" cy="2051.7" r="7.4" fill="#b4b4b4" fill-opacity="0.45"/>
<circle cx="1486.1" cy="2048.0" r="7.4" fill="#b4b4b4" fill-opacity="0.45"/>
<circle cx="1479.3" cy="2045.9" r="7.4" fill="#b4b4b4" fill-opacity="0.45"/>
<circle cx="1478.7" cy="2055.9" r="7.4" fill="#b4b4b4" fill-opacity="0.45"/>
<circle cx="1477.2" cy="2054.4" r="7.4" fill="#b4b4b4" fill-opacity="0.45"/>
<circle cx="1482.9" cy="2055.8" r="7.4" fill="#b4b4b4" fill-opacity="0.45"/>
<circle cx="1481.7" cy="2046.9" r="7.4" fill="#b4b4b4" fill-opacity="0.45"/>
<circle cx="1487.2" cy="2046.1" r="7.4" fill="#b4b4b4" fill-opacity="0.45"/>
<circle cx="1483.4" cy="2055.6" r="7.4" fill="#b4b4b4" fill-opacity="0.45"/>
<circle cx="1476.7" cy="2003.3" r="7.4" fill="#c0232e" fill-opacity="0.6"/>
<circle cx="1486.4" cy="2015.0" r="7.4" fill="#c0232e" fill-opacity="0.6"/>
<circle cx="1480.7" cy="2027.6" r="7.4" fill="#4a4a4a" fill-opacity="0.55"/>
<circle cx="1477.1" cy="2027.6" r="7.4" fill="#8a5314" fill-opacity="0.55"/>
<circle cx="1484.9" cy="2031.2" r="7.4" fill="#c0232e" fill-opacity="0.6"/>
<circle cx="1478.3" cy="2041.0" r="7.4" fill="#4a4a4a" fill-opacity="0.55"/>
<circle cx="1482.8" cy="2039.2" r="7.4" fill="#c0232e" fill-opacity="0.6"/>
<circle cx="1487.5" cy="2033.9" r="7.4" fill="#c0232e" fill-opacity="0.6"/>
<circle cx="1477.0" cy="2041.9" r="7.4" fill="#c0232e" fill-opacity="0.6"/>
<circle cx="1479.7" cy="2044.6" r="7.4" fill="#4a4a4a" fill-opacity="0.55"/>
<circle cx="1476.6" cy="2046.4" r="7.4" fill="#4a4a4a" fill-opacity="0.55"/>
<circle cx="1487.3" cy="2036.5" r="7.4" fill="#8a5314" fill-opacity="0.55"/>
<circle cx="1477.3" cy="2041.0" r="7.4" fill="#5a96d2" fill-opacity="0.5"/>
<circle cx="1519.1" cy="2050.8" r="7.4" fill="#b4b4b4" fill-opacity="0.45"/>
<circle cx="1516.0" cy="2048.1" r="7.4" fill="#b4b4b4" fill-opacity="0.45"/>
<circle cx="1514.0" cy="2055.2" r="7.4" fill="#b4b4b4" fill-opacity="0.45"/>
<circle cx="1512.6" cy="2056.2" r="7.4" fill="#b4b4b4" fill-opacity="0.45"/>
<circle cx="1517.3" cy="2048.2" r="7.4" fill="#b4b4b4" fill-opacity="0.45"/>
<circle cx="1518.1" cy="2051.6" r="7.4" fill="#b4b4b4" fill-opacity="0.45"/>
<circle cx="1514.7" cy="2051.2" r="7.4" fill="#b4b4b4" fill-opacity="0.45"/>
<circle cx="1514.7" cy="2052.1" r="7.4" fill="#b4b4b4" fill-opacity="0.45"/>
<circle cx="1515.5" cy="2052.2" r="7.4" fill="#b4b4b4" fill-opacity="0.45"/>
<circle cx="1521.2" cy="2047.6" r="7.4" fill="#b4b4b4" fill-opacity="0.45"/>
<circle cx="1516.3" cy="1996.1" r="7.4" fill="#c0232e" fill-opacity="0.6"/>
<circle cx="1511.9" cy="2006.9" r="7.4" fill="#c0232e" fill-opacity="0.6"/>
<circle cx="1515.6" cy="2019.5" r="7.4" fill="#5a96d2" fill-opacity="0.5"/>
<circle cx="1510.0" cy="2031.2" r="7.4" fill="#8a5314" fill-opacity="0.55"/>
<circle cx="1521.4" cy="2031.2" r="7.4" fill="#3cb44b" fill-opacity="0.55"/>
<circle cx="1520.3" cy="2037.4" r="7.4" fill="#ee9a84" fill-opacity="0.6"/>
<circle cx="1514.2" cy="2027.6" r="7.4" fill="#8a5314" fill-opacity="0.55"/>
<circle cx="1515.6" cy="2026.7" r="7.4" fill="#8a5314" fill-opacity="0.55"/>
<circle cx="1514.3" cy="2030.3" r="7.4" fill="#c0232e" fill-opacity="0.6"/>
<circle cx="1515.8" cy="2028.5" r="7.4" fill="#c0232e" fill-opacity="0.6"/>
<circle cx="1516.0" cy="2036.5" r="7.4" fill="#4a4a4a" fill-opacity="0.55"/>
<circle cx="1517.8" cy="2044.6" r="7.4" fill="#4a4a4a" fill-opacity="0.55"/>
<circle cx="1510.4" cy="2036.5" r="7.4" fill="#8a5314" fill-opacity="0.55"/>
<circle cx="1512.9" cy="2037.4" r="7.4" fill="#5a96d2" fill-opacity="0.5"/>
<circle cx="1552.8" cy="2055.7" r="7.4" fill="#b4b4b4" fill-opacity="0.45"/>
<circle cx="1545.9" cy="2050.3" r="7.4" fill="#b4b4b4" fill-opacity="0.45"/>
<circle cx="1547.4" cy="2046.9" r="7.4" fill="#b4b4b4" fill-opacity="0.45"/>
<circle cx="1546.1" cy="2051.9" r="7.4" fill="#b4b4b4" fill-opacity="0.45"/>
<circle cx="1554.3" cy="2053.4" r="7.4" fill="#b4b4b4" fill-opacity="0.45"/>
<circle cx="1546.2" cy="2052.7" r="7.4" fill="#b4b4b4" fill-opacity="0.45"/>
<circle cx="1548.0" cy="2051.0" r="7.4" fill="#b4b4b4" fill-opacity="0.45"/>
<circle cx="1545.6" cy="2046.6" r="7.4" fill="#b4b4b4" fill-opacity="0.45"/>
<circle cx="1544.9" cy="2045.8" r="7.4" fill="#b4b4b4" fill-opacity="0.45"/>
<circle cx="1552.2" cy="2046.7" r="7.4" fill="#b4b4b4" fill-opacity="0.45"/>
<circle cx="1549.9" cy="2043.7" r="7.4" fill="#c0232e" fill-opacity="0.6"/>
<circle cx="1545.6" cy="2047.3" r="7.4" fill="#c0232e" fill-opacity="0.6"/>
<circle cx="1553.3" cy="2046.4" r="7.4" fill="#c0232e" fill-opacity="0.6"/>
<circle cx="1583.4" cy="2045.8" r="7.4" fill="#b4b4b4" fill-opacity="0.45"/>
<circle cx="1581.0" cy="2053.5" r="7.4" fill="#b4b4b4" fill-opacity="0.45"/>
<circle cx="1582.9" cy="2053.7" r="7.4" fill="#b4b4b4" fill-opacity="0.45"/>
<circle cx="1580.1" cy="2051.8" r="7.4" fill="#b4b4b4" fill-opacity="0.45"/>
<circle cx="1589.9" cy="2047.3" r="7.4" fill="#b4b4b4" fill-opacity="0.45"/>
<circle cx="1585.9" cy="2054.8" r="7.4" fill="#b4b4b4" fill-opacity="0.45"/>
<circle cx="1584.3" cy="2051.5" r="7.4" fill="#b4b4b4" fill-opacity="0.45"/>
<circle cx="1583.5" cy="2050.8" r="7.4" fill="#b4b4b4" fill-opacity="0.45"/>
<circle cx="1589.5" cy="2047.8" r="7.4" fill="#b4b4b4" fill-opacity="0.45"/>
<circle cx="1582.5" cy="2053.2" r="7.4" fill="#b4b4b4" fill-opacity="0.45"/>
<circle cx="1583.8" cy="1998.8" r="7.4" fill="#c0232e" fill-opacity="0.6"/>
<circle cx="1588.9" cy="2021.3" r="7.4" fill="#5a96d2" fill-opacity="0.5"/>
<circle cx="1587.0" cy="2025.8" r="7.4" fill="#8a62a8" fill-opacity="0.55"/>
<circle cx="1583.3" cy="2031.2" r="7.4" fill="#c0232e" fill-opacity="0.6"/>
<circle cx="1580.3" cy="2041.0" r="7.4" fill="#8a5314" fill-opacity="0.55"/>
<circle cx="1579.8" cy="2027.6" r="7.4" fill="#c0232e" fill-opacity="0.6"/>
<circle cx="1582.5" cy="2045.5" r="7.4" fill="#c0232e" fill-opacity="0.6"/>
<circle cx="1585.7" cy="2041.9" r="7.4" fill="#8a5314" fill-opacity="0.55"/>
<circle cx="1580.5" cy="2042.8" r="7.4" fill="#5a96d2" fill-opacity="0.5"/>
<circle cx="1579.6" cy="2041.0" r="7.4" fill="#4a4a4a" fill-opacity="0.55"/>
<circle cx="1578.3" cy="2044.6" r="7.4" fill="#4a4a4a" fill-opacity="0.55"/>
<circle cx="1586.5" cy="2045.5" r="7.4" fill="#8a5314" fill-opacity="0.55"/>
<circle cx="1581.3" cy="2040.1" r="7.4" fill="#5a96d2" fill-opacity="0.5"/>
<circle cx="1623.2" cy="2047.2" r="7.4" fill="#b4b4b4" fill-opacity="0.45"/>
<circle cx="1616.3" cy="2050.7" r="7.4" fill="#b4b4b4" fill-opacity="0.45"/>
<circle cx="1619.8" cy="2053.3" r="7.4" fill="#b4b4b4" fill-opacity="0.45"/>
<circle cx="1613.2" cy="2046.1" r="7.4" fill="#b4b4b4" fill-opacity="0.45"/>
<circle cx="1621.3" cy="2051.9" r="7.4" fill="#b4b4b4" fill-opacity="0.45"/>
<circle cx="1620.1" cy="2054.9" r="7.4" fill="#b4b4b4" fill-opacity="0.45"/>
<circle cx="1618.9" cy="2053.6" r="7.4" fill="#b4b4b4" fill-opacity="0.45"/>
<circle cx="1612.6" cy="2045.7" r="7.4" fill="#b4b4b4" fill-opacity="0.45"/>
<circle cx="1619.1" cy="2048.7" r="7.4" fill="#b4b4b4" fill-opacity="0.45"/>
<circle cx="1616.4" cy="2047.1" r="7.4" fill="#b4b4b4" fill-opacity="0.45"/>
<circle cx="1612.1" cy="2043.7" r="7.4" fill="#5a96d2" fill-opacity="0.5"/>
<circle cx="1620.7" cy="2044.6" r="7.4" fill="#8a62a8" fill-opacity="0.55"/>
<circle cx="1622.0" cy="2044.6" r="7.4" fill="#5a96d2" fill-opacity="0.5"/>
<circle cx="1650.0" cy="2047.0" r="7.4" fill="#b4b4b4" fill-opacity="0.45"/>
<circle cx="1650.7" cy="2048.6" r="7.4" fill="#b4b4b4" fill-opacity="0.45"/>
<circle cx="1646.9" cy="2048.2" r="7.4" fill="#b4b4b4" fill-opacity="0.45"/>
<circle cx="1657.6" cy="2046.9" r="7.4" fill="#b4b4b4" fill-opacity="0.45"/>
<circle cx="1652.3" cy="2051.0" r="7.4" fill="#b4b4b4" fill-opacity="0.45"/>
<circle cx="1652.6" cy="2050.6" r="7.4" fill="#b4b4b4" fill-opacity="0.45"/>
<circle cx="1657.7" cy="2056.1" r="7.4" fill="#b4b4b4" fill-opacity="0.45"/>
<circle cx="1648.3" cy="2053.9" r="7.4" fill="#b4b4b4" fill-opacity="0.45"/>
<circle cx="1649.1" cy="2055.2" r="7.4" fill="#b4b4b4" fill-opacity="0.45"/>
<circle cx="1646.5" cy="2047.5" r="7.4" fill="#b4b4b4" fill-opacity="0.45"/>
<circle cx="1647.2" cy="2035.7" r="7.4" fill="#5a96d2" fill-opacity="0.5"/>
<circle cx="1656.2" cy="2043.7" r="7.4" fill="#3cb44b" fill-opacity="0.55"/>
<circle cx="1653.8" cy="2046.4" r="7.4" fill="#5a96d2" fill-opacity="0.5"/>
<circle cx="1683.0" cy="2051.3" r="7.4" fill="#b4b4b4" fill-opacity="0.45"/>
<circle cx="1684.3" cy="2051.5" r="7.4" fill="#b4b4b4" fill-opacity="0.45"/>
<circle cx="1682.3" cy="2055.3" r="7.4" fill="#b4b4b4" fill-opacity="0.45"/>
<circle cx="1685.7" cy="2053.4" r="7.4" fill="#b4b4b4" fill-opacity="0.45"/>
<circle cx="1689.3" cy="2050.0" r="7.4" fill="#b4b4b4" fill-opacity="0.45"/>
<circle cx="1681.6" cy="2055.1" r="7.4" fill="#b4b4b4" fill-opacity="0.45"/>
<circle cx="1686.6" cy="2046.8" r="7.4" fill="#b4b4b4" fill-opacity="0.45"/>
<circle cx="1682.8" cy="2053.9" r="7.4" fill="#b4b4b4" fill-opacity="0.45"/>
<circle cx="1685.7" cy="2049.1" r="7.4" fill="#b4b4b4" fill-opacity="0.45"/>
<circle cx="1691.5" cy="2052.0" r="7.4" fill="#b4b4b4" fill-opacity="0.45"/>
<circle cx="1679.3" cy="2043.7" r="7.4" fill="#3cb44b" fill-opacity="0.55"/>
<circle cx="1722.4" cy="2049.5" r="7.4" fill="#b4b4b4" fill-opacity="0.45"/>
<circle cx="1721.3" cy="2049.9" r="7.4" fill="#b4b4b4" fill-opacity="0.45"/>
<circle cx="1725.7" cy="2055.9" r="7.4" fill="#b4b4b4" fill-opacity="0.45"/>
<circle cx="1718.5" cy="2055.7" r="7.4" fill="#b4b4b4" fill-opacity="0.45"/>
<circle cx="1724.2" cy="2052.0" r="7.4" fill="#b4b4b4" fill-opacity="0.45"/>
<circle cx="1724.2" cy="2048.6" r="7.4" fill="#b4b4b4" fill-opacity="0.45"/>
<circle cx="1725.9" cy="2050.2" r="7.4" fill="#b4b4b4" fill-opacity="0.45"/>
<circle cx="1718.9" cy="2052.9" r="7.4" fill="#b4b4b4" fill-opacity="0.45"/>
<circle cx="1718.0" cy="2050.3" r="7.4" fill="#b4b4b4" fill-opacity="0.45"/>
<circle cx="1722.3" cy="2054.7" r="7.4" fill="#b4b4b4" fill-opacity="0.45"/>
<circle cx="1718.4" cy="2035.7" r="7.4" fill="#c0232e" fill-opacity="0.6"/>
<circle cx="1714.2" cy="2039.2" r="7.4" fill="#c0232e" fill-opacity="0.6"/>
<circle cx="1715.4" cy="2045.5" r="7.4" fill="#c0232e" fill-opacity="0.6"/>
<circle cx="1752.0" cy="2054.3" r="7.4" fill="#b4b4b4" fill-opacity="0.45"/>
<circle cx="1756.1" cy="2054.1" r="7.4" fill="#b4b4b4" fill-opacity="0.45"/>
<circle cx="1753.1" cy="2053.9" r="7.4" fill="#b4b4b4" fill-opacity="0.45"/>
<circle cx="1760.1" cy="2052.0" r="7.4" fill="#b4b4b4" fill-opacity="0.45"/>
<circle cx="1748.6" cy="2051.4" r="7.4" fill="#b4b4b4" fill-opacity="0.45"/>
<circle cx="1759.8" cy="2045.7" r="7.4" fill="#b4b4b4" fill-opacity="0.45"/>
<circle cx="1758.5" cy="2055.9" r="7.4" fill="#b4b4b4" fill-opacity="0.45"/>
<circle cx="1759.1" cy="2049.6" r="7.4" fill="#b4b4b4" fill-opacity="0.45"/>
<circle cx="1755.6" cy="2049.6" r="7.4" fill="#b4b4b4" fill-opacity="0.45"/>
<circle cx="1748.5" cy="2047.6" r="7.4" fill="#b4b4b4" fill-opacity="0.45"/>
<circle cx="1751.2" cy="2037.4" r="7.4" fill="#5a96d2" fill-opacity="0.5"/>
<circle cx="1753.3" cy="2043.7" r="7.4" fill="#8a5314" fill-opacity="0.55"/>
<circle cx="1759.5" cy="2046.4" r="7.4" fill="#5a96d2" fill-opacity="0.5"/>
<circle cx="1785.7" cy="2053.2" r="7.4" fill="#b4b4b4" fill-opacity="0.45"/>
<circle cx="1783.5" cy="2049.3" r="7.4" fill="#b4b4b4" fill-opacity="0.45"/>
<circle cx="1793.5" cy="2049.9" r="7.4" fill="#b4b4b4" fill-opacity="0.45"/>
<circle cx="1785.3" cy="2050.8" r="7.4" fill="#b4b4b4" fill-opacity="0.45"/>
<circle cx="1788.5" cy="2051.3" r="7.4" fill="#b4b4b4" fill-opacity="0.45"/>
<circle cx="1783.5" cy="2054.7" r="7.4" fill="#b4b4b4" fill-opacity="0.45"/>
<circle cx="1785.6" cy="2054.9" r="7.4" fill="#b4b4b4" fill-opacity="0.45"/>
<circle cx="1785.5" cy="2051.9" r="7.4" fill="#b4b4b4" fill-opacity="0.45"/>
<circle cx="1783.1" cy="2053.7" r="7.4" fill="#b4b4b4" fill-opacity="0.45"/>
<circle cx="1792.1" cy="2050.4" r="7.4" fill="#b4b4b4" fill-opacity="0.45"/>
<circle cx="1785.9" cy="2043.7" r="7.4" fill="#4a4a4a" fill-opacity="0.55"/>
<circle cx="1823.8" cy="2050.2" r="7.4" fill="#b4b4b4" fill-opacity="0.45"/>
<circle cx="1824.6" cy="2054.1" r="7.4" fill="#b4b4b4" fill-opacity="0.45"/>
<circle cx="1822.6" cy="2051.3" r="7.4" fill="#b4b4b4" fill-opacity="0.45"/>
<circle cx="1821.7" cy="2049.7" r="7.4" fill="#b4b4b4" fill-opacity="0.45"/>
<circle cx="1818.9" cy="2053.0" r="7.4" fill="#b4b4b4" fill-opacity="0.45"/>
<circle cx="1822.2" cy="2053.9" r="7.4" fill="#b4b4b4" fill-opacity="0.45"/>
<circle cx="1823.1" cy="2052.2" r="7.4" fill="#b4b4b4" fill-opacity="0.45"/>
<circle cx="1820.3" cy="2056.2" r="7.4" fill="#b4b4b4" fill-opacity="0.45"/>
<circle cx="1818.9" cy="2047.0" r="7.4" fill="#b4b4b4" fill-opacity="0.45"/>
<circle cx="1821.9" cy="2050.3" r="7.4" fill="#b4b4b4" fill-opacity="0.45"/>
<circle cx="1817.4" cy="2035.7" r="7.4" fill="#c0232e" fill-opacity="0.6"/>
<circle cx="1825.3" cy="2039.2" r="7.4" fill="#ee9a84" fill-opacity="0.6"/>
<circle cx="1817.9" cy="2045.5" r="7.4" fill="#c0232e" fill-opacity="0.6"/>
<circle cx="1860.5" cy="2055.6" r="7.4" fill="#b4b4b4" fill-opacity="0.45"/>
<circle cx="1850.8" cy="2051.6" r="7.4" fill="#b4b4b4" fill-opacity="0.45"/>
<circle cx="1855.3" cy="2052.1" r="7.4" fill="#b4b4b4" fill-opacity="0.45"/>
<circle cx="1851.3" cy="2048.4" r="7.4" fill="#b4b4b4" fill-opacity="0.45"/>
<circle cx="1861.5" cy="2053.9" r="7.4" fill="#b4b4b4" fill-opacity="0.45"/>
<circle cx="1851.9" cy="2048.3" r="7.4" fill="#b4b4b4" fill-opacity="0.45"/>
<circle cx="1854.2" cy="2052.7" r="7.4" fill="#b4b4b4" fill-opacity="0.45"/>
<circle cx="1857.4" cy="2049.0" r="7.4" fill="#b4b4b4" fill-opacity="0.45"/>
<circle cx="1859.9" cy="2047.1" r="7.4" fill="#b4b4b4" fill-opacity="0.45"/>
<circle cx="1858.9" cy="2050.7" r="7.4" fill="#b4b4b4" fill-opacity="0.45"/>
<circle cx="1852.3" cy="2019.5" r="7.4" fill="#c0232e" fill-opacity="0.6"/>
<circle cx="1851.3" cy="2027.6" r="7.4" fill="#c0232e" fill-opacity="0.6"/>
<circle cx="1854.9" cy="2027.6" r="7.4" fill="#ee9a84" fill-opacity="0.6"/>
<circle cx="1853.4" cy="2031.2" r="7.4" fill="#c0232e" fill-opacity="0.6"/>
<circle cx="1851.4" cy="2041.0" r="7.4" fill="#4a4a4a" fill-opacity="0.55"/>
<circle cx="1854.8" cy="2039.2" r="7.4" fill="#c0232e" fill-opacity="0.6"/>
<circle cx="1857.0" cy="2043.7" r="7.4" fill="#c0232e" fill-opacity="0.6"/>
<circle cx="1894.2" cy="2054.7" r="7.4" fill="#b4b4b4" fill-opacity="0.45"/>
<circle cx="1891.5" cy="2053.3" r="7.4" fill="#b4b4b4" fill-opacity="0.45"/>
<circle cx="1894.2" cy="2055.1" r="7.4" fill="#b4b4b4" fill-opacity="0.45"/>
<circle cx="1887.5" cy="2048.8" r="7.4" fill="#b4b4b4" fill-opacity="0.45"/>
<circle cx="1888.2" cy="2052.5" r="7.4" fill="#b4b4b4" fill-opacity="0.45"/>
<circle cx="1891.1" cy="2050.6" r="7.4" fill="#b4b4b4" fill-opacity="0.45"/>
<circle cx="1884.1" cy="2049.3" r="7.4" fill="#b4b4b4" fill-opacity="0.45"/>
<circle cx="1895.9" cy="2048.3" r="7.4" fill="#b4b4b4" fill-opacity="0.45"/>
<circle cx="1887.6" cy="2052.2" r="7.4" fill="#b4b4b4" fill-opacity="0.45"/>
<circle cx="1893.6" cy="2050.5" r="7.4" fill="#b4b4b4" fill-opacity="0.45"/>
<circle cx="1887.7" cy="2033.0" r="7.4" fill="#c0232e" fill-opacity="0.6"/>
<circle cx="1885.1" cy="2043.7" r="7.4" fill="#c0232e" fill-opacity="0.6"/>
<circle cx="1895.0" cy="2045.5" r="7.4" fill="#c0232e" fill-opacity="0.6"/>
<line x1="173" y1="2047.6" x2="1923" y2="2047.6" stroke="#808080" stroke-width="5.3" stroke-linecap="round" stroke-dasharray="15.6 11.2" stroke-dashoffset="4.75"/>
<rect x="166" y="1697" width="6.8" height="365" fill="#000"/>
<rect x="150.6" y="1696.70" width="20" height="6.2" fill="#000"/>
<text x="147" y="1709.20" font-size="26.6" font-weight="bold" text-anchor="end">40</text>
<rect x="150.6" y="1786.50" width="20" height="6.2" fill="#000"/>
<text x="147" y="1799.00" font-size="26.6" font-weight="bold" text-anchor="end">30</text>
<rect x="150.6" y="1876.30" width="20" height="6.2" fill="#000"/>
<text x="147" y="1888.80" font-size="26.6" font-weight="bold" text-anchor="end">20</text>
<rect x="150.6" y="1966.10" width="20" height="6.2" fill="#000"/>
<text x="147" y="1978.60" font-size="26.6" font-weight="bold" text-anchor="end">10</text>
<rect x="150.6" y="2055.90" width="20" height="6.2" fill="#000"/>
<text x="147" y="2068.40" font-size="26.6" font-weight="bold" text-anchor="end">0</text>
<rect x="169" y="2056.20" width="1754" height="6.2" fill="#000"/>
<rect x="178.9" y="2054.8" width="631.1" height="8.4" fill="#ff8c00"/>
<rect x="823.5" y="2054.8" width="33.8" height="8.4" fill="#6ab04c"/>
<rect x="870.0" y="2054.8" width="31.2" height="8.4" fill="#118a8a"/>
<rect x="915.6" y="2054.8" width="653.0" height="8.4" fill="#5b9bd5"/>
<rect x="1585.8" y="2054.8" width="155.9" height="8.4" fill="#6d5a94"/>
<rect x="1768.5" y="2054.8" width="132.8" height="8.4" fill="#c00000"/>
<rect x="188.1" y="2063" width="5.8" height="15.5" fill="#000"/>
<rect x="222.1" y="2063" width="5.8" height="15.5" fill="#000"/>
<rect x="256.1" y="2063" width="5.8" height="15.5" fill="#000"/>
<rect x="290.0" y="2063" width="5.8" height="15.5" fill="#000"/>
<rect x="324.0" y="2063" width="5.8" height="15.5" fill="#000"/>
<rect x="358.0" y="2063" width="5.8" height="15.5" fill="#000"/>
<rect x="392.0" y="2063" width="5.8" height="15.5" fill="#000"/>
<rect x="426.0" y="2063" width="5.8" height="15.5" fill="#000"/>
<rect x="459.9" y="2063" width="5.8" height="15.5" fill="#000"/>
<rect x="493.9" y="2063" width="5.8" height="15.5" fill="#000"/>
<rect x="527.9" y="2063" width="5.8" height="15.5" fill="#000"/>
<rect x="561.9" y="2063" width="5.8" height="15.5" fill="#000"/>
<rect x="595.9" y="2063" width="5.8" height="15.5" fill="#000"/>
<rect x="629.8" y="2063" width="5.8" height="15.5" fill="#000"/>
<rect x="663.8" y="2063" width="5.8" height="15.5" fill="#000"/>
<rect x="697.8" y="2063" width="5.8" height="15.5" fill="#000"/>
<rect x="731.8" y="2063" width="5.8" height="15.5" fill="#000"/>
<rect x="765.8" y="2063" width="5.8" height="15.5" fill="#000"/>
<rect x="799.7" y="2063" width="5.8" height="15.5" fill="#000"/>
<rect x="833.7" y="2063" width="5.8" height="15.5" fill="#000"/>
<rect x="867.7" y="2063" width="5.8" height="15.5" fill="#000"/>
<rect x="901.7" y="2063" width="5.8" height="15.5" fill="#000"/>
<rect x="935.7" y="2063" width="5.8" height="15.5" fill="#000"/>
<rect x="969.6" y="2063" width="5.8" height="15.5" fill="#000"/>
<rect x="1003.6" y="2063" width="5.8" height="15.5" fill="#000"/>
<rect x="1037.6" y="2063" width="5.8" height="15.5" fill="#000"/>
<rect x="1071.6" y="2063" width="5.8" height="15.5" fill="#000"/>
<rect x="1105.6" y="2063" width="5.8" height="15.5" fill="#000"/>
<rect x="1139.5" y="2063" width="5.8" height="15.5" fill="#000"/>
<rect x="1173.5" y="2063" width="5.8" height="15.5" fill="#000"/>
<rect x="1207.5" y="2063" width="5.8" height="15.5" fill="#000"/>
<rect x="1241.5" y="2063" width="5.8" height="15.5" fill="#000"/>
<rect x="1275.5" y="2063" width="5.8" height="15.5" fill="#000"/>
<rect x="1309.4" y="2063" width="5.8" height="15.5" fill="#000"/>
<rect x="1343.4" y="2063" width="5.8" height="15.5" fill="#000"/>
<rect x="1377.4" y="2063" width="5.8" height="15.5" fill="#000"/>
<rect x="1411.4" y="2063" width="5.8" height="15.5" fill="#000"/>
<rect x="1445.4" y="2063" width="5.8" height="15.5" fill="#000"/>
<rect x="1479.3" y="2063" width="5.8" height="15.5" fill="#000"/>
<rect x="1513.3" y="2063" width="5.8" height="15.5" fill="#000"/>
<rect x="1547.3" y="2063" width="5.8" height="15.5" fill="#000"/>
<rect x="1581.3" y="2063" width="5.8" height="15.5" fill="#000"/>
<rect x="1615.3" y="2063" width="5.8" height="15.5" fill="#000"/>
<rect x="1649.2" y="2063" width="5.8" height="15.5" fill="#000"/>
<rect x="1683.2" y="2063" width="5.8" height="15.5" fill="#000"/>
<rect x="1717.2" y="2063" width="5.8" height="15.5" fill="#000"/>
<rect x="1751.2" y="2063" width="5.8" height="15.5" fill="#000"/>
<rect x="1785.2" y="2063" width="5.8" height="15.5" fill="#000"/>
<rect x="1819.1" y="2063" width="5.8" height="15.5" fill="#000"/>
<rect x="1853.1" y="2063" width="5.8" height="15.5" fill="#000"/>
<rect x="1887.1" y="2063" width="5.8" height="15.5" fill="#000"/>
<text x="465.5" y="1763.3" font-size="25.5" text-anchor="start">FAT</text>
<text x="512.1" y="1792.6" font-size="25.5" text-anchor="start">PAT</text>
<text x="518.1" y="1815.0" font-size="25.5" text-anchor="start">AF</text>
<text x="508.1" y="1835.0" font-size="25.5" text-anchor="start">SLF1</text>
<text x="553.7" y="1852.6" font-size="25.5" text-anchor="start">SLF3</text>
<text x="505.4" y="1872.6" font-size="25.5" text-anchor="start">SLF2</text>
<text x="407.2" y="1804.0" font-size="25.5" text-anchor="start">FAT</text>
<text x="441.5" y="1833.2" font-size="25.5" text-anchor="start">AF</text>
<text x="362.2" y="1852.6" font-size="25.5" text-anchor="start">SLF1</text>
<text x="445.5" y="1858.2" font-size="25.5" text-anchor="start">PAT</text>
<text x="362.2" y="1883.9" font-size="25.5" text-anchor="start">SLF3</text>
<text x="442.8" y="1877.6" font-size="25.5" text-anchor="start">SLF2</text>
<text x="1013.1" y="1979.8" font-size="25.5" text-anchor="start">PAT</text>
<text x="1093.7" y="1939.2" font-size="25.5" text-anchor="start">PAT</text>
<text x="1074.7" y="1979.8" font-size="25.5" text-anchor="start">FAT</text>
<text x="1066.4" y="2003.8" font-size="25.5" text-anchor="start">SLF2</text>
<text x="1144.4" y="1953.8" font-size="25.5" text-anchor="start">SLF1</text>
<text x="1147.0" y="1974.8" font-size="25.5" text-anchor="start">AF</text>
<text x="1286.9" y="1967.0" font-size="25.5" text-anchor="start">PAT</text>
<text x="1376.9" y="1965.8" font-size="25.5" text-anchor="start">SLF1</text>
<text x="1442.9" y="1945.8" font-size="25.5" text-anchor="start">PAT</text>
<text x="1460.0" y="1975.8" font-size="25.5" text-anchor="start">FAT</text>
<text transform="translate(80,1864) rotate(-90)" font-size="32" font-weight="bold" text-anchor="middle">-log10(p<tspan font-size="21" dy="7">FDR</tspan><tspan dy="-7">)</tspan></text>
<text transform="translate(196.70,2095.5) rotate(-45)" font-size="22.3" font-weight="bold" text-anchor="end">nihtbx_pic_vocab</text>
<text transform="translate(230.68,2095.5) rotate(-45)" font-size="22.3" font-weight="bold" text-anchor="end">nihtbx_flanker</text>
<text transform="translate(264.66,2095.5) rotate(-45)" font-size="22.3" font-weight="bold" text-anchor="end">nihtbx_list_sort</text>
<text transform="translate(298.64,2095.5) rotate(-45)" font-size="22.3" font-weight="bold" text-anchor="end">nihtbx_card_sort</text>
<text transform="translate(332.62,2095.5) rotate(-45)" font-size="22.3" font-weight="bold" text-anchor="end">nihtbx_pattern_comp</text>
<text transform="translate(366.60,2095.5) rotate(-45)" font-size="22.3" font-weight="bold" text-anchor="end">nihtbx_pic_seq_memory</text>
<text transform="translate(400.58,2095.5) rotate(-45)" font-size="22.3" font-weight="bold" text-anchor="end">nihtbx_oral_reading</text>
<text transform="translate(434.56,2095.5) rotate(-45)" font-size="22.3" font-weight="bold" text-anchor="end">nihtbx_fluid_comp</text>
<text transform="translate(468.54,2095.5) rotate(-45)" font-size="22.3" font-weight="bold" text-anchor="end">nihtbx_cryst_comp</text>
<text transform="translate(502.52,2095.5) rotate(-45)" font-size="22.3" font-weight="bold" text-anchor="end">nihtbx_total_comp</text>
<text transform="translate(536.50,2095.5) rotate(-45)" font-size="22.3" font-weight="bold" text-anchor="end">little_man_efficiency</text>
<text transform="translate(570.48,2095.5) rotate(-45)" font-size="22.3" font-weight="bold" text-anchor="end">matrix_reasoning</text>
<text transform="translate(604.46,2095.5) rotate(-45)" font-size="22.3" font-weight="bold" text-anchor="end">verbal_learning_immediate</text>
<text transform="translate(638.44,2095.5) rotate(-45)" font-size="22.3" font-weight="bold" text-anchor="end">verbal_learning_delayed</text>
<text transform="translate(672.42,2095.5) rotate(-45)" font-size="22.3" font-weight="bold" text-anchor="end">MID_total_earning</text>
<text transform="translate(706.40,2095.5) rotate(-45)" font-size="22.3" font-weight="bold" text-anchor="end">SST_ssrt</text>
<text transform="translate(740.38,2095.5) rotate(-45)" font-size="22.3" font-weight="bold" text-anchor="end"><tspan font-style="italic">X</tspan>2_back</text>
<text transform="translate(774.36,2095.5) rotate(-45)" font-size="22.3" font-weight="bold" text-anchor="end">recog_memory</text>
<text transform="translate(808.34,2095.5) rotate(-45)" font-size="22.3" font-weight="bold" text-anchor="end">cash_choice_prefer_ss</text>
<text transform="translate(842.32,2095.5) rotate(-45)" font-size="22.3" font-weight="bold" text-anchor="end">cash_choice_prefer_ll</text>
<text transform="translate(876.30,2095.5) rotate(-45)" font-size="22.3" font-weight="bold" text-anchor="end">PQB_psychosis_severity</text>
<text transform="translate(910.28,2095.5) rotate(-45)" font-size="22.3" font-weight="bold" text-anchor="end">PGBI_mania_total</text>
<text transform="translate(944.26,2095.5) rotate(-45)" font-size="22.3" font-weight="bold" text-anchor="end">CBCL_syn_anxdep</text>
<text transform="translate(978.24,2095.5) rotate(-45)" font-size="22.3" font-weight="bold" text-anchor="end">CBCL_syn_withdep</text>
<text transform="translate(1012.22,2095.5) rotate(-45)" font-size="22.3" font-weight="bold" text-anchor="end">CBCL_syn_somatic</text>
<text transform="translate(1046.20,2095.5) rotate(-45)" font-size="22.3" font-weight="bold" text-anchor="end">CBCL_syn_social_prob</text>
<text transform="translate(1080.18,2095.5) rotate(-45)" font-size="22.3" font-weight="bold" text-anchor="end">CBCL_syn_thought_prob</text>
<text transform="translate(1114.16,2095.5) rotate(-45)" font-size="22.3" font-weight="bold" text-anchor="end">CBCL_syn_attention_prob</text>
<text transform="translate(1148.14,2095.5) rotate(-45)" font-size="22.3" font-weight="bold" text-anchor="end">CBCL_syn_rulebreak</text>
<text transform="translate(1182.12,2095.5) rotate(-45)" font-size="22.3" font-weight="bold" text-anchor="end">CBCL_syn_aggresive</text>
<text transform="translate(1216.10,2095.5) rotate(-45)" font-size="22.3" font-weight="bold" text-anchor="end">CBCL_internal</text>
<text transform="translate(1250.08,2095.5) rotate(-45)" font-size="22.3" font-weight="bold" text-anchor="end">CBCL_external</text>
<text transform="translate(1284.06,2095.5) rotate(-45)" font-size="22.3" font-weight="bold" text-anchor="end">CBCL_total</text>
<text transform="translate(1318.04,2095.5) rotate(-45)" font-size="22.3" font-weight="bold" text-anchor="end">CBCL_dsm_depressive</text>
<text transform="translate(1352.02,2095.5) rotate(-45)" font-size="22.3" font-weight="bold" text-anchor="end">CBCL_dsm_anxiety</text>
<text transform="translate(1386.00,2095.5) rotate(-45)" font-size="22.3" font-weight="bold" text-anchor="end">CBCL_dsm_somatic</text>
<text transform="translate(1419.98,2095.5) rotate(-45)" font-size="22.3" font-weight="bold" text-anchor="end">CBCL_dsm_ADHD</text>
<text transform="translate(1453.96,2095.5) rotate(-45)" font-size="22.3" font-weight="bold" text-anchor="end">CBCL_dsm_opposit</text>
<text transform="translate(1487.94,2095.5) rotate(-45)" font-size="22.3" font-weight="bold" text-anchor="end">CBCL_dsm_conduct_prob</text>
<text transform="translate(1521.92,2095.5) rotate(-45)" font-size="22.3" font-weight="bold" text-anchor="end">CBCL_SCT</text>
<text transform="translate(1555.90,2095.5) rotate(-45)" font-size="22.3" font-weight="bold" text-anchor="end">CBCL_OCD</text>
<text transform="translate(1589.88,2095.5) rotate(-45)" font-size="22.3" font-weight="bold" text-anchor="end">CBCL_stress</text>
<text transform="translate(1623.86,2095.5) rotate(-45)" font-size="22.3" font-weight="bold" text-anchor="end">UPPS_negative_urgency</text>
<text transform="translate(1657.84,2095.5) rotate(-45)" font-size="22.3" font-weight="bold" text-anchor="end">UPPS_lack_planing</text>
<text transform="translate(1691.82,2095.5) rotate(-45)" font-size="22.3" font-weight="bold" text-anchor="end">UPPS_sensation_seeking</text>
<text transform="translate(1725.80,2095.5) rotate(-45)" font-size="22.3" font-weight="bold" text-anchor="end">UPPS_positive_urgency</text>
<text transform="translate(1759.78,2095.5) rotate(-45)" font-size="22.3" font-weight="bold" text-anchor="end">UPPS_lack_perserverance</text>
<text transform="translate(1793.76,2095.5) rotate(-45)" font-size="22.3" font-weight="bold" text-anchor="end">BISBAS_bis_sum</text>
<text transform="translate(1827.74,2095.5) rotate(-45)" font-size="22.3" font-weight="bold" text-anchor="end">BISBAS_reward_resp</text>
<text transform="translate(1861.72,2095.5) rotate(-45)" font-size="22.3" font-weight="bold" text-anchor="end">BISBAS_drive</text>
<text transform="translate(1895.70,2095.5) rotate(-45)" font-size="22.3" font-weight="bold" text-anchor="end">BISBAS_fun_seek</text>
<text x="974" y="2321.8" font-size="33.3" font-weight="bold" text-anchor="middle">Behavioral measure</text>
<text x="945.8" y="1731.6" font-size="33.5" text-anchor="end">Dorsal Association</text>
<circle cx="976.5" cy="1720.6" r="12" fill="#c00000"/>
<text x="945.8" y="1767.3" font-size="33.5" text-anchor="end">Ventral Association</text>
<circle cx="976.5" cy="1756" r="12" fill="#ea9278"/>
<text x="1294" y="1734" font-size="33.5" text-anchor="end">Sensory and Motor</text>
<circle cx="1323.9" cy="1723.2" r="12" fill="#32b43e"/>
<text x="1294" y="1766" font-size="33.5" text-anchor="end">Limbic</text>
<circle cx="1324.7" cy="1756" r="12" fill="#5b98cf"/>
<text x="1617.8" y="1732" font-size="33.5" text-anchor="end">Cortico-thalamus</text>
<circle cx="1648.6" cy="1720" r="12" fill="#954f05"/>
<text x="1617.8" y="1766" font-size="33.5" text-anchor="end">Cortico-stratum</text>
<circle cx="1650.5" cy="1756" r="12" fill="#8c5a9f"/>
<text x="1846.8" y="1736" font-size="33.5" text-anchor="end">Callosal</text>
<circle cx="1877.6" cy="1726" r="12" fill="#434343"/>
</svg></body></html>
